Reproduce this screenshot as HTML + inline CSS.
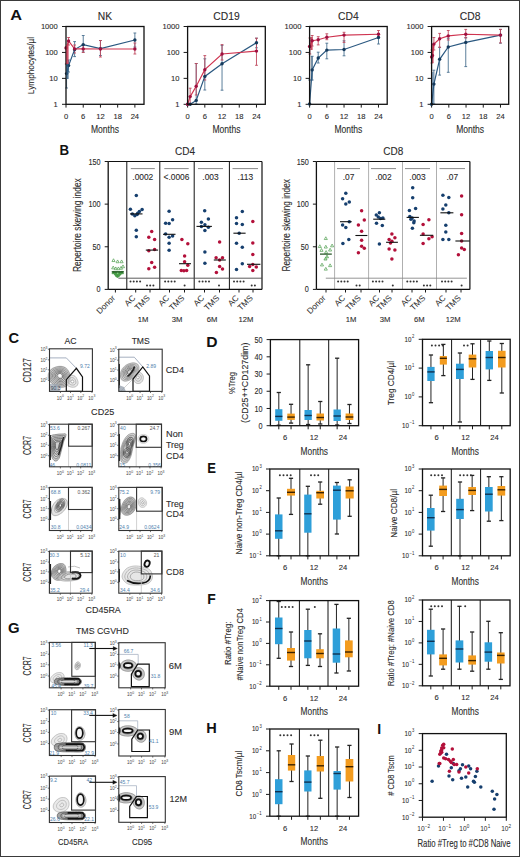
<!DOCTYPE html>
<html><head><meta charset="utf-8"><style>
html,body{margin:0;padding:0;background:#fff;}
#fig{position:relative;width:520px;height:857px;overflow:hidden;background:#fff;}
svg{display:block;font-family:"Liberation Sans", sans-serif;}
</style></head><body><div id="fig">
<svg width="520" height="857" viewBox="0 0 520 857">
<rect x="0" y="0" width="520" height="857" fill="#fff"/>
<text x="105.00" y="20.41" font-size="10.3" text-anchor="middle" fill="#2b2b2b" stroke="#2b2b2b" stroke-width="0.1">NK</text>
<line x1="62.00" y1="26.50" x2="66.00" y2="26.50" stroke="#1a1a1a" stroke-width="1" />
<text x="57.80" y="29.24" font-size="7.6" text-anchor="end" fill="#2b2b2b" stroke="#2b2b2b" stroke-width="0.1">1000</text>
<line x1="62.00" y1="52.43" x2="66.00" y2="52.43" stroke="#1a1a1a" stroke-width="1" />
<text x="57.80" y="55.17" font-size="7.6" text-anchor="end" fill="#2b2b2b" stroke="#2b2b2b" stroke-width="0.1">100</text>
<line x1="62.00" y1="78.37" x2="66.00" y2="78.37" stroke="#1a1a1a" stroke-width="1" />
<text x="57.80" y="81.10" font-size="7.6" text-anchor="end" fill="#2b2b2b" stroke="#2b2b2b" stroke-width="0.1">10</text>
<line x1="62.00" y1="104.30" x2="66.00" y2="104.30" stroke="#1a1a1a" stroke-width="1" />
<text x="57.80" y="107.04" font-size="7.6" text-anchor="end" fill="#2b2b2b" stroke="#2b2b2b" stroke-width="0.1">1</text>
<line x1="66.00" y1="104.30" x2="66.00" y2="107.60" stroke="#1a1a1a" stroke-width="1" />
<text x="66.00" y="118.74" font-size="7.6" text-anchor="middle" fill="#2b2b2b" stroke="#2b2b2b" stroke-width="0.1">0</text>
<line x1="83.22" y1="104.30" x2="83.22" y2="107.60" stroke="#1a1a1a" stroke-width="1" />
<text x="83.22" y="118.74" font-size="7.6" text-anchor="middle" fill="#2b2b2b" stroke="#2b2b2b" stroke-width="0.1">6</text>
<line x1="100.44" y1="104.30" x2="100.44" y2="107.60" stroke="#1a1a1a" stroke-width="1" />
<text x="100.44" y="118.74" font-size="7.6" text-anchor="middle" fill="#2b2b2b" stroke="#2b2b2b" stroke-width="0.1">12</text>
<line x1="117.66" y1="104.30" x2="117.66" y2="107.60" stroke="#1a1a1a" stroke-width="1" />
<text x="117.66" y="118.74" font-size="7.6" text-anchor="middle" fill="#2b2b2b" stroke="#2b2b2b" stroke-width="0.1">18</text>
<line x1="134.88" y1="104.30" x2="134.88" y2="107.60" stroke="#1a1a1a" stroke-width="1" />
<text x="134.88" y="118.74" font-size="7.6" text-anchor="middle" fill="#2b2b2b" stroke="#2b2b2b" stroke-width="0.1">24</text>
<text x="105.00" y="133.45" font-size="10.7" text-anchor="middle" fill="#2b2b2b" stroke="#2b2b2b" stroke-width="0.1" textLength="28.00" lengthAdjust="spacingAndGlyphs">Months</text>
<line x1="66.57" y1="64.00" x2="66.57" y2="88.00" stroke="#4a7090" stroke-width="0.9" />
<line x1="65.17" y1="64.00" x2="67.97" y2="64.00" stroke="#4a7090" stroke-width="0.9" />
<line x1="65.17" y1="88.00" x2="67.97" y2="88.00" stroke="#4a7090" stroke-width="0.9" />
<line x1="68.58" y1="60.00" x2="68.58" y2="72.00" stroke="#4a7090" stroke-width="0.9" />
<line x1="67.18" y1="60.00" x2="69.98" y2="60.00" stroke="#4a7090" stroke-width="0.9" />
<line x1="67.18" y1="72.00" x2="69.98" y2="72.00" stroke="#4a7090" stroke-width="0.9" />
<line x1="74.61" y1="41.60" x2="74.61" y2="56.60" stroke="#4a7090" stroke-width="0.9" />
<line x1="73.21" y1="41.60" x2="76.01" y2="41.60" stroke="#4a7090" stroke-width="0.9" />
<line x1="73.21" y1="56.60" x2="76.01" y2="56.60" stroke="#4a7090" stroke-width="0.9" />
<line x1="83.22" y1="35.50" x2="83.22" y2="52.00" stroke="#4a7090" stroke-width="0.9" />
<line x1="81.82" y1="35.50" x2="84.62" y2="35.50" stroke="#4a7090" stroke-width="0.9" />
<line x1="81.82" y1="52.00" x2="84.62" y2="52.00" stroke="#4a7090" stroke-width="0.9" />
<line x1="100.44" y1="40.50" x2="100.44" y2="55.50" stroke="#4a7090" stroke-width="0.9" />
<line x1="99.04" y1="40.50" x2="101.84" y2="40.50" stroke="#4a7090" stroke-width="0.9" />
<line x1="99.04" y1="55.50" x2="101.84" y2="55.50" stroke="#4a7090" stroke-width="0.9" />
<line x1="134.88" y1="33.00" x2="134.88" y2="47.00" stroke="#4a7090" stroke-width="0.9" />
<line x1="133.48" y1="33.00" x2="136.28" y2="33.00" stroke="#4a7090" stroke-width="0.9" />
<line x1="133.48" y1="47.00" x2="136.28" y2="47.00" stroke="#4a7090" stroke-width="0.9" />
<line x1="66.29" y1="47.00" x2="66.29" y2="64.00" stroke="#c0485e" stroke-width="0.9" />
<line x1="64.89" y1="47.00" x2="67.69" y2="47.00" stroke="#c0485e" stroke-width="0.9" />
<line x1="64.89" y1="64.00" x2="67.69" y2="64.00" stroke="#c0485e" stroke-width="0.9" />
<line x1="68.58" y1="37.50" x2="68.58" y2="45.00" stroke="#c0485e" stroke-width="0.9" />
<line x1="67.18" y1="37.50" x2="69.98" y2="37.50" stroke="#c0485e" stroke-width="0.9" />
<line x1="67.18" y1="45.00" x2="69.98" y2="45.00" stroke="#c0485e" stroke-width="0.9" />
<line x1="74.61" y1="45.00" x2="74.61" y2="53.00" stroke="#c0485e" stroke-width="0.9" />
<line x1="73.21" y1="45.00" x2="76.01" y2="45.00" stroke="#c0485e" stroke-width="0.9" />
<line x1="73.21" y1="53.00" x2="76.01" y2="53.00" stroke="#c0485e" stroke-width="0.9" />
<line x1="83.22" y1="45.50" x2="83.22" y2="52.50" stroke="#c0485e" stroke-width="0.9" />
<line x1="81.82" y1="45.50" x2="84.62" y2="45.50" stroke="#c0485e" stroke-width="0.9" />
<line x1="81.82" y1="52.50" x2="84.62" y2="52.50" stroke="#c0485e" stroke-width="0.9" />
<line x1="100.44" y1="40.50" x2="100.44" y2="57.00" stroke="#c0485e" stroke-width="0.9" />
<line x1="99.04" y1="40.50" x2="101.84" y2="40.50" stroke="#c0485e" stroke-width="0.9" />
<line x1="99.04" y1="57.00" x2="101.84" y2="57.00" stroke="#c0485e" stroke-width="0.9" />
<line x1="134.88" y1="43.00" x2="134.88" y2="54.00" stroke="#c0485e" stroke-width="0.9" />
<line x1="133.48" y1="43.00" x2="136.28" y2="43.00" stroke="#c0485e" stroke-width="0.9" />
<line x1="133.48" y1="54.00" x2="136.28" y2="54.00" stroke="#c0485e" stroke-width="0.9" />
<polyline points="66.57,73.60 68.58,65.60 74.61,49.60 83.22,44.60 100.44,48.60 134.88,40.00" fill="none" stroke="#2a5880" stroke-width="1.2" />
<polyline points="66.00,48.00 68.58,41.00 74.61,48.90 83.22,48.90 100.44,49.00 134.88,49.00" fill="none" stroke="#cf3450" stroke-width="1.15" />
<circle cx="66.57" cy="73.60" r="1.7" fill="#153a5c"/>
<circle cx="68.58" cy="65.60" r="1.7" fill="#153a5c"/>
<circle cx="74.61" cy="49.60" r="1.7" fill="#153a5c"/>
<circle cx="83.22" cy="44.60" r="1.7" fill="#153a5c"/>
<circle cx="100.44" cy="48.60" r="1.7" fill="#153a5c"/>
<circle cx="134.88" cy="40.00" r="1.7" fill="#153a5c"/>
<circle cx="66.00" cy="48.00" r="1.7" fill="#a01040"/>
<circle cx="68.58" cy="41.00" r="1.7" fill="#a01040"/>
<circle cx="74.61" cy="48.90" r="1.7" fill="#a01040"/>
<circle cx="83.22" cy="48.90" r="1.7" fill="#a01040"/>
<circle cx="100.44" cy="49.00" r="1.7" fill="#a01040"/>
<circle cx="134.88" cy="49.00" r="1.7" fill="#a01040"/>
<rect x="66.00" y="26.50" width="78.00" height="77.80" fill="none" stroke="#111" stroke-width="1.3" />
<text x="31.00" y="68.96" font-size="9.6" text-anchor="middle" fill="#2b2b2b" stroke="#2b2b2b" stroke-width="0.1" textLength="57.30" lengthAdjust="spacingAndGlyphs" transform="rotate(-90 31.00 65.50)">Lymphocytes/µl</text>
<rect x="66.4" y="44.5" width="2.2" height="19.5" fill="#c8304c" opacity="0.85"/>
<rect x="66.4" y="64" width="2.2" height="15" fill="#2d5a80" opacity="0.8"/>
<rect x="310.4" y="37" width="2.2" height="13" fill="#c8304c" opacity="0.85"/>
<rect x="311.0" y="56" width="1.6" height="25" fill="#5a7590" opacity="0.7"/>
<rect x="431.6" y="44" width="2.0" height="19" fill="#c8304c" opacity="0.8"/>
<rect x="431.6" y="72" width="2.0" height="32" fill="#4a84b8" opacity="0.6"/>
<text x="226.45" y="20.41" font-size="10.3" text-anchor="middle" fill="#2b2b2b" stroke="#2b2b2b" stroke-width="0.1">CD19</text>
<line x1="183.60" y1="26.50" x2="187.60" y2="26.50" stroke="#1a1a1a" stroke-width="1" />
<text x="179.40" y="29.24" font-size="7.6" text-anchor="end" fill="#2b2b2b" stroke="#2b2b2b" stroke-width="0.1">1000</text>
<line x1="183.60" y1="52.43" x2="187.60" y2="52.43" stroke="#1a1a1a" stroke-width="1" />
<text x="179.40" y="55.17" font-size="7.6" text-anchor="end" fill="#2b2b2b" stroke="#2b2b2b" stroke-width="0.1">100</text>
<line x1="183.60" y1="78.37" x2="187.60" y2="78.37" stroke="#1a1a1a" stroke-width="1" />
<text x="179.40" y="81.10" font-size="7.6" text-anchor="end" fill="#2b2b2b" stroke="#2b2b2b" stroke-width="0.1">10</text>
<line x1="183.60" y1="104.30" x2="187.60" y2="104.30" stroke="#1a1a1a" stroke-width="1" />
<text x="179.40" y="107.04" font-size="7.6" text-anchor="end" fill="#2b2b2b" stroke="#2b2b2b" stroke-width="0.1">1</text>
<line x1="187.60" y1="104.30" x2="187.60" y2="107.60" stroke="#1a1a1a" stroke-width="1" />
<text x="187.60" y="118.74" font-size="7.6" text-anchor="middle" fill="#2b2b2b" stroke="#2b2b2b" stroke-width="0.1">0</text>
<line x1="204.82" y1="104.30" x2="204.82" y2="107.60" stroke="#1a1a1a" stroke-width="1" />
<text x="204.82" y="118.74" font-size="7.6" text-anchor="middle" fill="#2b2b2b" stroke="#2b2b2b" stroke-width="0.1">6</text>
<line x1="222.04" y1="104.30" x2="222.04" y2="107.60" stroke="#1a1a1a" stroke-width="1" />
<text x="222.04" y="118.74" font-size="7.6" text-anchor="middle" fill="#2b2b2b" stroke="#2b2b2b" stroke-width="0.1">12</text>
<line x1="239.26" y1="104.30" x2="239.26" y2="107.60" stroke="#1a1a1a" stroke-width="1" />
<text x="239.26" y="118.74" font-size="7.6" text-anchor="middle" fill="#2b2b2b" stroke="#2b2b2b" stroke-width="0.1">18</text>
<line x1="256.48" y1="104.30" x2="256.48" y2="107.60" stroke="#1a1a1a" stroke-width="1" />
<text x="256.48" y="118.74" font-size="7.6" text-anchor="middle" fill="#2b2b2b" stroke="#2b2b2b" stroke-width="0.1">24</text>
<text x="226.45" y="133.45" font-size="10.7" text-anchor="middle" fill="#2b2b2b" stroke="#2b2b2b" stroke-width="0.1" textLength="28.00" lengthAdjust="spacingAndGlyphs">Months</text>
<line x1="196.21" y1="63.50" x2="196.21" y2="104.00" stroke="#4a7090" stroke-width="0.9" />
<line x1="194.81" y1="63.50" x2="197.61" y2="63.50" stroke="#4a7090" stroke-width="0.9" />
<line x1="194.81" y1="104.00" x2="197.61" y2="104.00" stroke="#4a7090" stroke-width="0.9" />
<line x1="204.82" y1="58.80" x2="204.82" y2="90.00" stroke="#4a7090" stroke-width="0.9" />
<line x1="203.42" y1="58.80" x2="206.22" y2="58.80" stroke="#4a7090" stroke-width="0.9" />
<line x1="203.42" y1="90.00" x2="206.22" y2="90.00" stroke="#4a7090" stroke-width="0.9" />
<line x1="222.04" y1="45.40" x2="222.04" y2="90.20" stroke="#4a7090" stroke-width="0.9" />
<line x1="220.64" y1="45.40" x2="223.44" y2="45.40" stroke="#4a7090" stroke-width="0.9" />
<line x1="220.64" y1="90.20" x2="223.44" y2="90.20" stroke="#4a7090" stroke-width="0.9" />
<line x1="256.48" y1="38.20" x2="256.48" y2="47.80" stroke="#4a7090" stroke-width="0.9" />
<line x1="255.08" y1="38.20" x2="257.88" y2="38.20" stroke="#4a7090" stroke-width="0.9" />
<line x1="255.08" y1="47.80" x2="257.88" y2="47.80" stroke="#4a7090" stroke-width="0.9" />
<line x1="190.18" y1="88.20" x2="190.18" y2="104.00" stroke="#c0485e" stroke-width="0.9" />
<line x1="188.78" y1="88.20" x2="191.58" y2="88.20" stroke="#c0485e" stroke-width="0.9" />
<line x1="188.78" y1="104.00" x2="191.58" y2="104.00" stroke="#c0485e" stroke-width="0.9" />
<line x1="196.21" y1="63.50" x2="196.21" y2="95.00" stroke="#c0485e" stroke-width="0.9" />
<line x1="194.81" y1="63.50" x2="197.61" y2="63.50" stroke="#c0485e" stroke-width="0.9" />
<line x1="194.81" y1="95.00" x2="197.61" y2="95.00" stroke="#c0485e" stroke-width="0.9" />
<line x1="204.82" y1="55.60" x2="204.82" y2="80.00" stroke="#c0485e" stroke-width="0.9" />
<line x1="203.42" y1="55.60" x2="206.22" y2="55.60" stroke="#c0485e" stroke-width="0.9" />
<line x1="203.42" y1="80.00" x2="206.22" y2="80.00" stroke="#c0485e" stroke-width="0.9" />
<line x1="222.04" y1="44.60" x2="222.04" y2="60.00" stroke="#c0485e" stroke-width="0.9" />
<line x1="220.64" y1="44.60" x2="223.44" y2="44.60" stroke="#c0485e" stroke-width="0.9" />
<line x1="220.64" y1="60.00" x2="223.44" y2="60.00" stroke="#c0485e" stroke-width="0.9" />
<line x1="256.48" y1="38.20" x2="256.48" y2="65.30" stroke="#c0485e" stroke-width="0.9" />
<line x1="255.08" y1="38.20" x2="257.88" y2="38.20" stroke="#c0485e" stroke-width="0.9" />
<line x1="255.08" y1="65.30" x2="257.88" y2="65.30" stroke="#c0485e" stroke-width="0.9" />
<polyline points="187.60,104.30 190.18,104.30 196.21,100.40 204.82,76.40 222.04,63.70 256.48,42.70" fill="none" stroke="#2a5880" stroke-width="1.2" />
<polyline points="187.60,104.30 190.18,96.60 196.21,86.30 204.82,69.70 222.04,54.00 256.48,51.10" fill="none" stroke="#cf3450" stroke-width="1.15" />
<circle cx="187.60" cy="104.30" r="1.7" fill="#153a5c"/>
<circle cx="190.18" cy="104.30" r="1.7" fill="#153a5c"/>
<circle cx="196.21" cy="100.40" r="1.7" fill="#153a5c"/>
<circle cx="204.82" cy="76.40" r="1.7" fill="#153a5c"/>
<circle cx="222.04" cy="63.70" r="1.7" fill="#153a5c"/>
<circle cx="256.48" cy="42.70" r="1.7" fill="#153a5c"/>
<circle cx="187.60" cy="104.30" r="1.7" fill="#a01040"/>
<circle cx="190.18" cy="96.60" r="1.7" fill="#a01040"/>
<circle cx="196.21" cy="86.30" r="1.7" fill="#a01040"/>
<circle cx="204.82" cy="69.70" r="1.7" fill="#a01040"/>
<circle cx="222.04" cy="54.00" r="1.7" fill="#a01040"/>
<circle cx="256.48" cy="51.10" r="1.7" fill="#a01040"/>
<rect x="187.60" y="26.50" width="77.70" height="77.80" fill="none" stroke="#111" stroke-width="1.3" />
<text x="348.40" y="20.41" font-size="10.3" text-anchor="middle" fill="#2b2b2b" stroke="#2b2b2b" stroke-width="0.1">CD4</text>
<line x1="305.60" y1="26.50" x2="309.60" y2="26.50" stroke="#1a1a1a" stroke-width="1" />
<text x="301.40" y="29.24" font-size="7.6" text-anchor="end" fill="#2b2b2b" stroke="#2b2b2b" stroke-width="0.1">1000</text>
<line x1="305.60" y1="52.43" x2="309.60" y2="52.43" stroke="#1a1a1a" stroke-width="1" />
<text x="301.40" y="55.17" font-size="7.6" text-anchor="end" fill="#2b2b2b" stroke="#2b2b2b" stroke-width="0.1">100</text>
<line x1="305.60" y1="78.37" x2="309.60" y2="78.37" stroke="#1a1a1a" stroke-width="1" />
<text x="301.40" y="81.10" font-size="7.6" text-anchor="end" fill="#2b2b2b" stroke="#2b2b2b" stroke-width="0.1">10</text>
<line x1="305.60" y1="104.30" x2="309.60" y2="104.30" stroke="#1a1a1a" stroke-width="1" />
<text x="301.40" y="107.04" font-size="7.6" text-anchor="end" fill="#2b2b2b" stroke="#2b2b2b" stroke-width="0.1">1</text>
<line x1="309.60" y1="104.30" x2="309.60" y2="107.60" stroke="#1a1a1a" stroke-width="1" />
<text x="309.60" y="118.74" font-size="7.6" text-anchor="middle" fill="#2b2b2b" stroke="#2b2b2b" stroke-width="0.1">0</text>
<line x1="326.82" y1="104.30" x2="326.82" y2="107.60" stroke="#1a1a1a" stroke-width="1" />
<text x="326.82" y="118.74" font-size="7.6" text-anchor="middle" fill="#2b2b2b" stroke="#2b2b2b" stroke-width="0.1">6</text>
<line x1="344.04" y1="104.30" x2="344.04" y2="107.60" stroke="#1a1a1a" stroke-width="1" />
<text x="344.04" y="118.74" font-size="7.6" text-anchor="middle" fill="#2b2b2b" stroke="#2b2b2b" stroke-width="0.1">12</text>
<line x1="361.26" y1="104.30" x2="361.26" y2="107.60" stroke="#1a1a1a" stroke-width="1" />
<text x="361.26" y="118.74" font-size="7.6" text-anchor="middle" fill="#2b2b2b" stroke="#2b2b2b" stroke-width="0.1">18</text>
<line x1="378.48" y1="104.30" x2="378.48" y2="107.60" stroke="#1a1a1a" stroke-width="1" />
<text x="378.48" y="118.74" font-size="7.6" text-anchor="middle" fill="#2b2b2b" stroke="#2b2b2b" stroke-width="0.1">24</text>
<text x="348.40" y="133.45" font-size="10.7" text-anchor="middle" fill="#2b2b2b" stroke="#2b2b2b" stroke-width="0.1" textLength="28.00" lengthAdjust="spacingAndGlyphs">Months</text>
<line x1="309.60" y1="80.00" x2="309.60" y2="104.00" stroke="#4a7090" stroke-width="0.9" />
<line x1="308.20" y1="80.00" x2="311.00" y2="80.00" stroke="#4a7090" stroke-width="0.9" />
<line x1="308.20" y1="104.00" x2="311.00" y2="104.00" stroke="#4a7090" stroke-width="0.9" />
<line x1="312.18" y1="56.30" x2="312.18" y2="80.00" stroke="#4a7090" stroke-width="0.9" />
<line x1="310.78" y1="56.30" x2="313.58" y2="56.30" stroke="#4a7090" stroke-width="0.9" />
<line x1="310.78" y1="80.00" x2="313.58" y2="80.00" stroke="#4a7090" stroke-width="0.9" />
<line x1="318.21" y1="52.20" x2="318.21" y2="63.00" stroke="#4a7090" stroke-width="0.9" />
<line x1="316.81" y1="52.20" x2="319.61" y2="52.20" stroke="#4a7090" stroke-width="0.9" />
<line x1="316.81" y1="63.00" x2="319.61" y2="63.00" stroke="#4a7090" stroke-width="0.9" />
<line x1="326.82" y1="43.20" x2="326.82" y2="58.80" stroke="#4a7090" stroke-width="0.9" />
<line x1="325.42" y1="43.20" x2="328.22" y2="43.20" stroke="#4a7090" stroke-width="0.9" />
<line x1="325.42" y1="58.80" x2="328.22" y2="58.80" stroke="#4a7090" stroke-width="0.9" />
<line x1="344.04" y1="40.80" x2="344.04" y2="55.80" stroke="#4a7090" stroke-width="0.9" />
<line x1="342.64" y1="40.80" x2="345.44" y2="40.80" stroke="#4a7090" stroke-width="0.9" />
<line x1="342.64" y1="55.80" x2="345.44" y2="55.80" stroke="#4a7090" stroke-width="0.9" />
<line x1="378.48" y1="33.40" x2="378.48" y2="44.00" stroke="#4a7090" stroke-width="0.9" />
<line x1="377.08" y1="33.40" x2="379.88" y2="33.40" stroke="#4a7090" stroke-width="0.9" />
<line x1="377.08" y1="44.00" x2="379.88" y2="44.00" stroke="#4a7090" stroke-width="0.9" />
<line x1="309.89" y1="38.00" x2="309.89" y2="54.00" stroke="#c0485e" stroke-width="0.9" />
<line x1="308.49" y1="38.00" x2="311.29" y2="38.00" stroke="#c0485e" stroke-width="0.9" />
<line x1="308.49" y1="54.00" x2="311.29" y2="54.00" stroke="#c0485e" stroke-width="0.9" />
<line x1="312.18" y1="35.50" x2="312.18" y2="46.00" stroke="#c0485e" stroke-width="0.9" />
<line x1="310.78" y1="35.50" x2="313.58" y2="35.50" stroke="#c0485e" stroke-width="0.9" />
<line x1="310.78" y1="46.00" x2="313.58" y2="46.00" stroke="#c0485e" stroke-width="0.9" />
<line x1="318.21" y1="36.70" x2="318.21" y2="44.90" stroke="#c0485e" stroke-width="0.9" />
<line x1="316.81" y1="36.70" x2="319.61" y2="36.70" stroke="#c0485e" stroke-width="0.9" />
<line x1="316.81" y1="44.90" x2="319.61" y2="44.90" stroke="#c0485e" stroke-width="0.9" />
<line x1="326.82" y1="33.80" x2="326.82" y2="39.70" stroke="#c0485e" stroke-width="0.9" />
<line x1="325.42" y1="33.80" x2="328.22" y2="33.80" stroke="#c0485e" stroke-width="0.9" />
<line x1="325.42" y1="39.70" x2="328.22" y2="39.70" stroke="#c0485e" stroke-width="0.9" />
<line x1="344.04" y1="32.30" x2="344.04" y2="42.40" stroke="#c0485e" stroke-width="0.9" />
<line x1="342.64" y1="32.30" x2="345.44" y2="32.30" stroke="#c0485e" stroke-width="0.9" />
<line x1="342.64" y1="42.40" x2="345.44" y2="42.40" stroke="#c0485e" stroke-width="0.9" />
<line x1="378.48" y1="30.50" x2="378.48" y2="37.00" stroke="#c0485e" stroke-width="0.9" />
<line x1="377.08" y1="30.50" x2="379.88" y2="30.50" stroke="#c0485e" stroke-width="0.9" />
<line x1="377.08" y1="37.00" x2="379.88" y2="37.00" stroke="#c0485e" stroke-width="0.9" />
<polyline points="309.60,104.00 312.18,69.90 318.21,58.00 326.82,50.10 344.04,49.50 378.48,37.50" fill="none" stroke="#2a5880" stroke-width="1.2" />
<polyline points="309.60,46.50 312.18,40.80 318.21,39.70 326.82,37.20 344.04,35.10 378.48,34.30" fill="none" stroke="#cf3450" stroke-width="1.15" />
<circle cx="309.60" cy="104.00" r="1.7" fill="#153a5c"/>
<circle cx="312.18" cy="69.90" r="1.7" fill="#153a5c"/>
<circle cx="318.21" cy="58.00" r="1.7" fill="#153a5c"/>
<circle cx="326.82" cy="50.10" r="1.7" fill="#153a5c"/>
<circle cx="344.04" cy="49.50" r="1.7" fill="#153a5c"/>
<circle cx="378.48" cy="37.50" r="1.7" fill="#153a5c"/>
<circle cx="309.60" cy="46.50" r="1.7" fill="#a01040"/>
<circle cx="312.18" cy="40.80" r="1.7" fill="#a01040"/>
<circle cx="318.21" cy="39.70" r="1.7" fill="#a01040"/>
<circle cx="326.82" cy="37.20" r="1.7" fill="#a01040"/>
<circle cx="344.04" cy="35.10" r="1.7" fill="#a01040"/>
<circle cx="378.48" cy="34.30" r="1.7" fill="#a01040"/>
<rect x="309.60" y="26.50" width="77.60" height="77.80" fill="none" stroke="#111" stroke-width="1.3" />
<text x="470.15" y="20.41" font-size="10.3" text-anchor="middle" fill="#2b2b2b" stroke="#2b2b2b" stroke-width="0.1">CD8</text>
<line x1="427.60" y1="26.50" x2="431.60" y2="26.50" stroke="#1a1a1a" stroke-width="1" />
<text x="423.40" y="29.24" font-size="7.6" text-anchor="end" fill="#2b2b2b" stroke="#2b2b2b" stroke-width="0.1">1000</text>
<line x1="427.60" y1="52.43" x2="431.60" y2="52.43" stroke="#1a1a1a" stroke-width="1" />
<text x="423.40" y="55.17" font-size="7.6" text-anchor="end" fill="#2b2b2b" stroke="#2b2b2b" stroke-width="0.1">100</text>
<line x1="427.60" y1="78.37" x2="431.60" y2="78.37" stroke="#1a1a1a" stroke-width="1" />
<text x="423.40" y="81.10" font-size="7.6" text-anchor="end" fill="#2b2b2b" stroke="#2b2b2b" stroke-width="0.1">10</text>
<line x1="427.60" y1="104.30" x2="431.60" y2="104.30" stroke="#1a1a1a" stroke-width="1" />
<text x="423.40" y="107.04" font-size="7.6" text-anchor="end" fill="#2b2b2b" stroke="#2b2b2b" stroke-width="0.1">1</text>
<line x1="431.60" y1="104.30" x2="431.60" y2="107.60" stroke="#1a1a1a" stroke-width="1" />
<text x="431.60" y="118.74" font-size="7.6" text-anchor="middle" fill="#2b2b2b" stroke="#2b2b2b" stroke-width="0.1">0</text>
<line x1="448.82" y1="104.30" x2="448.82" y2="107.60" stroke="#1a1a1a" stroke-width="1" />
<text x="448.82" y="118.74" font-size="7.6" text-anchor="middle" fill="#2b2b2b" stroke="#2b2b2b" stroke-width="0.1">6</text>
<line x1="466.04" y1="104.30" x2="466.04" y2="107.60" stroke="#1a1a1a" stroke-width="1" />
<text x="466.04" y="118.74" font-size="7.6" text-anchor="middle" fill="#2b2b2b" stroke="#2b2b2b" stroke-width="0.1">12</text>
<line x1="483.26" y1="104.30" x2="483.26" y2="107.60" stroke="#1a1a1a" stroke-width="1" />
<text x="483.26" y="118.74" font-size="7.6" text-anchor="middle" fill="#2b2b2b" stroke="#2b2b2b" stroke-width="0.1">18</text>
<line x1="500.48" y1="104.30" x2="500.48" y2="107.60" stroke="#1a1a1a" stroke-width="1" />
<text x="500.48" y="118.74" font-size="7.6" text-anchor="middle" fill="#2b2b2b" stroke="#2b2b2b" stroke-width="0.1">24</text>
<text x="470.15" y="133.45" font-size="10.7" text-anchor="middle" fill="#2b2b2b" stroke="#2b2b2b" stroke-width="0.1" textLength="28.00" lengthAdjust="spacingAndGlyphs">Months</text>
<line x1="433.90" y1="70.20" x2="433.90" y2="104.00" stroke="#4a7090" stroke-width="0.9" />
<line x1="432.50" y1="70.20" x2="435.30" y2="70.20" stroke="#4a7090" stroke-width="0.9" />
<line x1="432.50" y1="104.00" x2="435.30" y2="104.00" stroke="#4a7090" stroke-width="0.9" />
<line x1="439.64" y1="47.30" x2="439.64" y2="75.10" stroke="#4a7090" stroke-width="0.9" />
<line x1="438.24" y1="47.30" x2="441.04" y2="47.30" stroke="#4a7090" stroke-width="0.9" />
<line x1="438.24" y1="75.10" x2="441.04" y2="75.10" stroke="#4a7090" stroke-width="0.9" />
<line x1="448.25" y1="38.30" x2="448.25" y2="72.30" stroke="#4a7090" stroke-width="0.9" />
<line x1="446.85" y1="38.30" x2="449.65" y2="38.30" stroke="#4a7090" stroke-width="0.9" />
<line x1="446.85" y1="72.30" x2="449.65" y2="72.30" stroke="#4a7090" stroke-width="0.9" />
<line x1="465.75" y1="37.50" x2="465.75" y2="66.60" stroke="#4a7090" stroke-width="0.9" />
<line x1="464.35" y1="37.50" x2="467.15" y2="37.50" stroke="#4a7090" stroke-width="0.9" />
<line x1="464.35" y1="66.60" x2="467.15" y2="66.60" stroke="#4a7090" stroke-width="0.9" />
<line x1="500.48" y1="29.40" x2="500.48" y2="43.20" stroke="#4a7090" stroke-width="0.9" />
<line x1="499.08" y1="29.40" x2="501.88" y2="29.40" stroke="#4a7090" stroke-width="0.9" />
<line x1="499.08" y1="43.20" x2="501.88" y2="43.20" stroke="#4a7090" stroke-width="0.9" />
<line x1="431.89" y1="50.00" x2="431.89" y2="63.00" stroke="#c0485e" stroke-width="0.9" />
<line x1="430.49" y1="50.00" x2="433.29" y2="50.00" stroke="#c0485e" stroke-width="0.9" />
<line x1="430.49" y1="63.00" x2="433.29" y2="63.00" stroke="#c0485e" stroke-width="0.9" />
<line x1="433.90" y1="37.50" x2="433.90" y2="50.00" stroke="#c0485e" stroke-width="0.9" />
<line x1="432.50" y1="37.50" x2="435.30" y2="37.50" stroke="#c0485e" stroke-width="0.9" />
<line x1="432.50" y1="50.00" x2="435.30" y2="50.00" stroke="#c0485e" stroke-width="0.9" />
<line x1="439.64" y1="33.40" x2="439.64" y2="47.30" stroke="#c0485e" stroke-width="0.9" />
<line x1="438.24" y1="33.40" x2="441.04" y2="33.40" stroke="#c0485e" stroke-width="0.9" />
<line x1="438.24" y1="47.30" x2="441.04" y2="47.30" stroke="#c0485e" stroke-width="0.9" />
<line x1="448.25" y1="30.50" x2="448.25" y2="40.00" stroke="#c0485e" stroke-width="0.9" />
<line x1="446.85" y1="30.50" x2="449.65" y2="30.50" stroke="#c0485e" stroke-width="0.9" />
<line x1="446.85" y1="40.00" x2="449.65" y2="40.00" stroke="#c0485e" stroke-width="0.9" />
<line x1="465.75" y1="29.40" x2="465.75" y2="38.00" stroke="#c0485e" stroke-width="0.9" />
<line x1="464.35" y1="29.40" x2="467.15" y2="29.40" stroke="#c0485e" stroke-width="0.9" />
<line x1="464.35" y1="38.00" x2="467.15" y2="38.00" stroke="#c0485e" stroke-width="0.9" />
<line x1="500.48" y1="29.40" x2="500.48" y2="42.90" stroke="#c0485e" stroke-width="0.9" />
<line x1="499.08" y1="29.40" x2="501.88" y2="29.40" stroke="#c0485e" stroke-width="0.9" />
<line x1="499.08" y1="42.90" x2="501.88" y2="42.90" stroke="#c0485e" stroke-width="0.9" />
<polyline points="431.60,104.30 433.90,84.10 439.64,59.30 448.25,47.00 465.75,42.40 500.48,35.10" fill="none" stroke="#2a5880" stroke-width="1.2" />
<polyline points="431.60,57.10 432.46,55.50 433.90,44.10 439.64,38.80 448.25,35.90 465.75,34.30 500.48,35.10" fill="none" stroke="#cf3450" stroke-width="1.15" />
<circle cx="431.60" cy="104.30" r="1.7" fill="#153a5c"/>
<circle cx="433.90" cy="84.10" r="1.7" fill="#153a5c"/>
<circle cx="439.64" cy="59.30" r="1.7" fill="#153a5c"/>
<circle cx="448.25" cy="47.00" r="1.7" fill="#153a5c"/>
<circle cx="465.75" cy="42.40" r="1.7" fill="#153a5c"/>
<circle cx="500.48" cy="35.10" r="1.7" fill="#153a5c"/>
<circle cx="431.60" cy="57.10" r="1.7" fill="#a01040"/>
<circle cx="432.46" cy="55.50" r="1.7" fill="#a01040"/>
<circle cx="433.90" cy="44.10" r="1.7" fill="#a01040"/>
<circle cx="439.64" cy="38.80" r="1.7" fill="#a01040"/>
<circle cx="448.25" cy="35.90" r="1.7" fill="#a01040"/>
<circle cx="465.75" cy="34.30" r="1.7" fill="#a01040"/>
<circle cx="500.48" cy="35.10" r="1.7" fill="#a01040"/>
<rect x="431.60" y="26.50" width="77.10" height="77.80" fill="none" stroke="#111" stroke-width="1.3" />
<path d="M111.8,271.2 L124,271.2 L119.5,276.5 L117.5,278 L115.5,276.5 Z" fill="#2f8a2f" opacity="0.85"/>
<circle cx="117.7" cy="273.3" r="1.1" fill="#9be39b"/>
<line x1="126.80" y1="161.50" x2="126.80" y2="289.40" stroke="#111" stroke-width="1" />
<line x1="159.80" y1="161.50" x2="159.80" y2="289.40" stroke="#111" stroke-width="1" />
<line x1="194.20" y1="161.50" x2="194.20" y2="289.40" stroke="#111" stroke-width="1" />
<line x1="229.40" y1="161.50" x2="229.40" y2="289.40" stroke="#111" stroke-width="1" />
<line x1="108.20" y1="161.50" x2="262.00" y2="161.50" stroke="#111" stroke-width="1.2" />
<line x1="262.00" y1="161.50" x2="262.00" y2="289.40" stroke="#111" stroke-width="1.2" />
<line x1="118.40" y1="278.20" x2="262.00" y2="278.20" stroke="#4a4a4a" stroke-width="0.9" />
<line x1="108.20" y1="161.50" x2="108.20" y2="289.40" stroke="#111" stroke-width="1.3" />
<line x1="108.20" y1="289.40" x2="262.00" y2="289.40" stroke="#111" stroke-width="1.3" />
<line x1="104.70" y1="161.50" x2="108.20" y2="161.50" stroke="#1a1a1a" stroke-width="1" />
<text x="100.60" y="164.56" font-size="8.5" text-anchor="end" fill="#2b2b2b" stroke="#2b2b2b" stroke-width="0.1" textLength="12.15" lengthAdjust="spacingAndGlyphs">150</text>
<line x1="104.70" y1="204.13" x2="108.20" y2="204.13" stroke="#1a1a1a" stroke-width="1" />
<text x="100.60" y="207.19" font-size="8.5" text-anchor="end" fill="#2b2b2b" stroke="#2b2b2b" stroke-width="0.1" textLength="12.15" lengthAdjust="spacingAndGlyphs">100</text>
<line x1="104.70" y1="246.77" x2="108.20" y2="246.77" stroke="#1a1a1a" stroke-width="1" />
<text x="100.60" y="249.83" font-size="8.5" text-anchor="end" fill="#2b2b2b" stroke="#2b2b2b" stroke-width="0.1" textLength="8.10" lengthAdjust="spacingAndGlyphs">50</text>
<line x1="104.70" y1="289.40" x2="108.20" y2="289.40" stroke="#1a1a1a" stroke-width="1" />
<text x="100.60" y="292.46" font-size="8.5" text-anchor="end" fill="#2b2b2b" stroke="#2b2b2b" stroke-width="0.1" textLength="4.05" lengthAdjust="spacingAndGlyphs">0</text>
<text x="185.00" y="155.40" font-size="10" text-anchor="middle" fill="#2b2b2b" stroke="#2b2b2b" stroke-width="0.1">CD4</text>
<circle cx="136.30" cy="195.60" r="1.75" fill="#163f6e"/>
<circle cx="130.40" cy="209.30" r="1.75" fill="#163f6e"/>
<circle cx="142.10" cy="209.60" r="1.75" fill="#163f6e"/>
<circle cx="132.40" cy="213.90" r="1.75" fill="#163f6e"/>
<circle cx="134.80" cy="215.70" r="1.75" fill="#163f6e"/>
<circle cx="137.10" cy="214.50" r="1.75" fill="#163f6e"/>
<circle cx="139.40" cy="211.60" r="1.75" fill="#163f6e"/>
<circle cx="137.70" cy="213.30" r="1.75" fill="#163f6e"/>
<circle cx="136.30" cy="230.30" r="1.75" fill="#163f6e"/>
<circle cx="136.30" cy="236.70" r="1.75" fill="#163f6e"/>
<circle cx="151.70" cy="231.40" r="1.75" fill="#b3103a"/>
<circle cx="148.80" cy="237.30" r="1.75" fill="#b3103a"/>
<circle cx="154.60" cy="239.60" r="1.75" fill="#b3103a"/>
<circle cx="148.80" cy="250.70" r="1.75" fill="#b3103a"/>
<circle cx="154.60" cy="249.50" r="1.75" fill="#b3103a"/>
<circle cx="151.70" cy="262.60" r="1.75" fill="#b3103a"/>
<circle cx="148.80" cy="268.80" r="1.75" fill="#b3103a"/>
<circle cx="154.60" cy="267.20" r="1.75" fill="#b3103a"/>
<line x1="130.00" y1="213.90" x2="142.50" y2="213.90" stroke="#111" stroke-width="1.1" />
<line x1="145.80" y1="250.10" x2="158.10" y2="250.10" stroke="#111" stroke-width="1.1" />
<circle cx="169.10" cy="211.20" r="1.75" fill="#163f6e"/>
<circle cx="172.60" cy="219.80" r="1.75" fill="#163f6e"/>
<circle cx="165.60" cy="223.30" r="1.75" fill="#163f6e"/>
<circle cx="169.10" cy="223.50" r="1.75" fill="#163f6e"/>
<circle cx="165.60" cy="234.10" r="1.75" fill="#163f6e"/>
<circle cx="169.10" cy="237.30" r="1.75" fill="#163f6e"/>
<circle cx="172.60" cy="236.10" r="1.75" fill="#163f6e"/>
<circle cx="169.10" cy="243.30" r="1.75" fill="#163f6e"/>
<circle cx="169.10" cy="250.30" r="1.75" fill="#163f6e"/>
<circle cx="181.90" cy="239.40" r="1.75" fill="#b3103a"/>
<circle cx="187.80" cy="243.70" r="1.75" fill="#b3103a"/>
<circle cx="184.60" cy="255.90" r="1.75" fill="#b3103a"/>
<circle cx="184.60" cy="261.80" r="1.75" fill="#b3103a"/>
<circle cx="187.80" cy="265.30" r="1.75" fill="#b3103a"/>
<circle cx="181.30" cy="270.50" r="1.75" fill="#b3103a"/>
<circle cx="183.90" cy="270.70" r="1.75" fill="#b3103a"/>
<circle cx="186.60" cy="270.50" r="1.75" fill="#b3103a"/>
<line x1="163.00" y1="234.30" x2="175.50" y2="234.30" stroke="#111" stroke-width="1.1" />
<line x1="179.00" y1="263.70" x2="191.00" y2="263.70" stroke="#111" stroke-width="1.1" />
<circle cx="204.70" cy="210.80" r="1.75" fill="#163f6e"/>
<circle cx="208.40" cy="218.90" r="1.75" fill="#163f6e"/>
<circle cx="201.40" cy="222.30" r="1.75" fill="#163f6e"/>
<circle cx="204.90" cy="224.70" r="1.75" fill="#163f6e"/>
<circle cx="208.40" cy="227.30" r="1.75" fill="#163f6e"/>
<circle cx="201.40" cy="226.40" r="1.75" fill="#163f6e"/>
<circle cx="204.90" cy="230.60" r="1.75" fill="#163f6e"/>
<circle cx="204.90" cy="252.10" r="1.75" fill="#163f6e"/>
<circle cx="204.90" cy="263.20" r="1.75" fill="#163f6e"/>
<circle cx="219.60" cy="241.90" r="1.75" fill="#b3103a"/>
<circle cx="216.10" cy="257.70" r="1.75" fill="#b3103a"/>
<circle cx="219.60" cy="260.00" r="1.75" fill="#b3103a"/>
<circle cx="222.50" cy="257.70" r="1.75" fill="#b3103a"/>
<circle cx="219.60" cy="266.40" r="1.75" fill="#b3103a"/>
<circle cx="222.50" cy="269.10" r="1.75" fill="#b3103a"/>
<circle cx="216.40" cy="272.60" r="1.75" fill="#b3103a"/>
<line x1="196.50" y1="226.40" x2="211.90" y2="226.40" stroke="#111" stroke-width="1.1" />
<line x1="213.80" y1="260.00" x2="225.80" y2="260.00" stroke="#111" stroke-width="1.1" />
<circle cx="242.30" cy="211.60" r="1.75" fill="#163f6e"/>
<circle cx="236.50" cy="217.70" r="1.75" fill="#163f6e"/>
<circle cx="236.50" cy="223.50" r="1.75" fill="#163f6e"/>
<circle cx="242.30" cy="224.40" r="1.75" fill="#163f6e"/>
<circle cx="239.20" cy="233.20" r="1.75" fill="#163f6e"/>
<circle cx="236.50" cy="243.30" r="1.75" fill="#163f6e"/>
<circle cx="242.30" cy="247.20" r="1.75" fill="#163f6e"/>
<circle cx="242.30" cy="263.70" r="1.75" fill="#163f6e"/>
<circle cx="236.50" cy="269.60" r="1.75" fill="#163f6e"/>
<circle cx="252.80" cy="221.50" r="1.75" fill="#b3103a"/>
<circle cx="252.80" cy="242.90" r="1.75" fill="#b3103a"/>
<circle cx="252.80" cy="254.50" r="1.75" fill="#b3103a"/>
<circle cx="252.80" cy="264.40" r="1.75" fill="#b3103a"/>
<circle cx="249.60" cy="266.40" r="1.75" fill="#b3103a"/>
<circle cx="256.30" cy="267.00" r="1.75" fill="#b3103a"/>
<circle cx="252.80" cy="270.50" r="1.75" fill="#b3103a"/>
<line x1="233.40" y1="233.20" x2="245.60" y2="233.20" stroke="#111" stroke-width="1.1" />
<line x1="247.00" y1="264.30" x2="260.40" y2="264.30" stroke="#111" stroke-width="1.1" />
<polygon points="113.50,258.75 111.95,261.54 115.05,261.54" fill="#ffffff" stroke="#4e9e4e" stroke-width="0.7" />
<polygon points="117.60,259.95 116.05,262.74 119.15,262.74" fill="#ffffff" stroke="#4e9e4e" stroke-width="0.7" />
<polygon points="121.60,259.95 120.05,262.74 123.15,262.74" fill="#ffffff" stroke="#4e9e4e" stroke-width="0.7" />
<polygon points="113.20,266.05 111.65,268.84 114.75,268.84" fill="#ffffff" stroke="#4e9e4e" stroke-width="0.7" />
<polygon points="115.80,266.95 114.25,269.74 117.35,269.74" fill="#ffffff" stroke="#4e9e4e" stroke-width="0.7" />
<polygon points="118.40,266.95 116.85,269.74 119.95,269.74" fill="#ffffff" stroke="#4e9e4e" stroke-width="0.7" />
<polygon points="121.00,266.45 119.45,269.24 122.55,269.24" fill="#ffffff" stroke="#4e9e4e" stroke-width="0.7" />
<polygon points="123.00,264.95 121.45,267.74 124.55,267.74" fill="#ffffff" stroke="#4e9e4e" stroke-width="0.7" />
<polygon points="113.50,270.95 111.95,273.74 115.05,273.74" fill="#3c9a3c" stroke="#4e9e4e" stroke-width="0.7" />
<polygon points="116.00,271.95 114.45,274.74 117.55,274.74" fill="#3c9a3c" stroke="#4e9e4e" stroke-width="0.7" />
<polygon points="119.50,271.95 117.95,274.74 121.05,274.74" fill="#3c9a3c" stroke="#4e9e4e" stroke-width="0.7" />
<polygon points="122.00,270.95 120.45,273.74 123.55,273.74" fill="#3c9a3c" stroke="#4e9e4e" stroke-width="0.7" />
<polygon points="117.50,273.95 115.95,276.74 119.05,276.74" fill="#3c9a3c" stroke="#4e9e4e" stroke-width="0.7" />
<line x1="111.70" y1="271.90" x2="123.80" y2="271.90" stroke="#1a4d1a" stroke-width="1.2" />
<line x1="130.80" y1="168.60" x2="154.80" y2="168.60" stroke="#8a8a8a" stroke-width="1" />
<text x="142.80" y="179.62" font-size="8.4" text-anchor="middle" fill="#2b2b2b" stroke="#2b2b2b" stroke-width="0.1">.0002</text>
<circle cx="130.50" cy="281.60" r="1.0" fill="#333"/>
<circle cx="133.70" cy="281.60" r="1.0" fill="#333"/>
<circle cx="136.90" cy="281.60" r="1.0" fill="#333"/>
<circle cx="140.10" cy="281.60" r="1.0" fill="#333"/>
<circle cx="147.00" cy="285.40" r="1.0" fill="#333"/>
<circle cx="150.20" cy="285.40" r="1.0" fill="#333"/>
<circle cx="153.40" cy="285.40" r="1.0" fill="#333"/>
<line x1="164.30" y1="168.60" x2="188.70" y2="168.60" stroke="#8a8a8a" stroke-width="1" />
<text x="176.50" y="179.62" font-size="8.4" text-anchor="middle" fill="#2b2b2b" stroke="#2b2b2b" stroke-width="0.1">&lt;.0006</text>
<circle cx="165.10" cy="281.60" r="1.0" fill="#333"/>
<circle cx="168.30" cy="281.60" r="1.0" fill="#333"/>
<circle cx="171.50" cy="281.60" r="1.0" fill="#333"/>
<circle cx="174.70" cy="281.60" r="1.0" fill="#333"/>
<circle cx="184.60" cy="285.40" r="1.0" fill="#333"/>
<line x1="198.00" y1="168.60" x2="223.00" y2="168.60" stroke="#8a8a8a" stroke-width="1" />
<text x="210.50" y="179.62" font-size="8.4" text-anchor="middle" fill="#2b2b2b" stroke="#2b2b2b" stroke-width="0.1">.003</text>
<circle cx="199.40" cy="281.60" r="1.0" fill="#333"/>
<circle cx="202.60" cy="281.60" r="1.0" fill="#333"/>
<circle cx="205.80" cy="281.60" r="1.0" fill="#333"/>
<circle cx="209.00" cy="281.60" r="1.0" fill="#333"/>
<circle cx="219.00" cy="285.40" r="1.0" fill="#333"/>
<line x1="232.50" y1="168.60" x2="258.00" y2="168.60" stroke="#8a8a8a" stroke-width="1" />
<text x="245.25" y="179.62" font-size="8.4" text-anchor="middle" fill="#2b2b2b" stroke="#2b2b2b" stroke-width="0.1">.113</text>
<circle cx="234.00" cy="281.60" r="1.0" fill="#333"/>
<circle cx="237.20" cy="281.60" r="1.0" fill="#333"/>
<circle cx="240.40" cy="281.60" r="1.0" fill="#333"/>
<circle cx="243.60" cy="281.60" r="1.0" fill="#333"/>
<circle cx="251.70" cy="285.40" r="1.0" fill="#333"/>
<circle cx="254.90" cy="285.40" r="1.0" fill="#333"/>
<line x1="334.60" y1="161.50" x2="334.60" y2="289.40" stroke="#9a9a9a" stroke-width="0.8" />
<line x1="368.60" y1="161.50" x2="368.60" y2="289.40" stroke="#9a9a9a" stroke-width="0.8" />
<line x1="402.50" y1="161.50" x2="402.50" y2="289.40" stroke="#9a9a9a" stroke-width="0.8" />
<line x1="436.50" y1="161.50" x2="436.50" y2="289.40" stroke="#9a9a9a" stroke-width="0.8" />
<line x1="316.40" y1="161.50" x2="469.90" y2="161.50" stroke="#111" stroke-width="1.2" />
<line x1="469.90" y1="161.50" x2="469.90" y2="289.40" stroke="#111" stroke-width="1.2" />
<line x1="325.80" y1="278.20" x2="466.90" y2="278.20" stroke="#8a8a8a" stroke-width="0.9" />
<line x1="316.40" y1="161.50" x2="316.40" y2="289.40" stroke="#111" stroke-width="1.3" />
<line x1="316.40" y1="289.40" x2="469.90" y2="289.40" stroke="#111" stroke-width="1.3" />
<line x1="312.90" y1="161.50" x2="316.40" y2="161.50" stroke="#1a1a1a" stroke-width="1" />
<text x="308.80" y="164.56" font-size="8.5" text-anchor="end" fill="#2b2b2b" stroke="#2b2b2b" stroke-width="0.1" textLength="12.15" lengthAdjust="spacingAndGlyphs">150</text>
<line x1="312.90" y1="204.13" x2="316.40" y2="204.13" stroke="#1a1a1a" stroke-width="1" />
<text x="308.80" y="207.19" font-size="8.5" text-anchor="end" fill="#2b2b2b" stroke="#2b2b2b" stroke-width="0.1" textLength="12.15" lengthAdjust="spacingAndGlyphs">100</text>
<line x1="312.90" y1="246.77" x2="316.40" y2="246.77" stroke="#1a1a1a" stroke-width="1" />
<text x="308.80" y="249.83" font-size="8.5" text-anchor="end" fill="#2b2b2b" stroke="#2b2b2b" stroke-width="0.1" textLength="8.10" lengthAdjust="spacingAndGlyphs">50</text>
<line x1="312.90" y1="289.40" x2="316.40" y2="289.40" stroke="#1a1a1a" stroke-width="1" />
<text x="308.80" y="292.46" font-size="8.5" text-anchor="end" fill="#2b2b2b" stroke="#2b2b2b" stroke-width="0.1" textLength="4.05" lengthAdjust="spacingAndGlyphs">0</text>
<text x="393.30" y="155.40" font-size="10" text-anchor="middle" fill="#2b2b2b" stroke="#2b2b2b" stroke-width="0.1">CD8</text>
<circle cx="345.80" cy="193.30" r="1.75" fill="#163f6e"/>
<circle cx="342.60" cy="198.80" r="1.75" fill="#163f6e"/>
<circle cx="345.80" cy="204.00" r="1.75" fill="#163f6e"/>
<circle cx="349.30" cy="202.00" r="1.75" fill="#163f6e"/>
<circle cx="349.30" cy="221.70" r="1.75" fill="#163f6e"/>
<circle cx="342.60" cy="225.00" r="1.75" fill="#163f6e"/>
<circle cx="345.80" cy="227.60" r="1.75" fill="#163f6e"/>
<circle cx="348.80" cy="239.60" r="1.75" fill="#163f6e"/>
<circle cx="342.90" cy="243.40" r="1.75" fill="#163f6e"/>
<circle cx="361.60" cy="210.80" r="1.75" fill="#b3103a"/>
<circle cx="364.30" cy="220.10" r="1.75" fill="#b3103a"/>
<circle cx="358.40" cy="225.00" r="1.75" fill="#b3103a"/>
<circle cx="361.60" cy="231.20" r="1.75" fill="#b3103a"/>
<circle cx="361.60" cy="240.20" r="1.75" fill="#b3103a"/>
<circle cx="361.60" cy="246.20" r="1.75" fill="#b3103a"/>
<circle cx="364.30" cy="248.30" r="1.75" fill="#b3103a"/>
<circle cx="358.40" cy="252.70" r="1.75" fill="#b3103a"/>
<line x1="340.00" y1="221.70" x2="351.70" y2="221.70" stroke="#111" stroke-width="1.1" />
<line x1="355.40" y1="235.50" x2="367.40" y2="235.50" stroke="#111" stroke-width="1.1" />
<circle cx="379.40" cy="212.80" r="1.75" fill="#163f6e"/>
<circle cx="376.30" cy="215.10" r="1.75" fill="#163f6e"/>
<circle cx="378.30" cy="217.10" r="1.75" fill="#163f6e"/>
<circle cx="380.60" cy="218.60" r="1.75" fill="#163f6e"/>
<circle cx="382.90" cy="218.00" r="1.75" fill="#163f6e"/>
<circle cx="376.50" cy="223.30" r="1.75" fill="#163f6e"/>
<circle cx="382.30" cy="225.60" r="1.75" fill="#163f6e"/>
<circle cx="379.40" cy="243.90" r="1.75" fill="#163f6e"/>
<circle cx="391.90" cy="234.00" r="1.75" fill="#b3103a"/>
<circle cx="394.90" cy="237.80" r="1.75" fill="#b3103a"/>
<circle cx="389.10" cy="239.60" r="1.75" fill="#b3103a"/>
<circle cx="391.90" cy="241.30" r="1.75" fill="#b3103a"/>
<circle cx="390.50" cy="243.10" r="1.75" fill="#b3103a"/>
<circle cx="389.10" cy="248.90" r="1.75" fill="#b3103a"/>
<circle cx="394.90" cy="250.10" r="1.75" fill="#b3103a"/>
<circle cx="391.90" cy="259.10" r="1.75" fill="#b3103a"/>
<line x1="373.20" y1="219.20" x2="385.30" y2="219.20" stroke="#111" stroke-width="1.1" />
<line x1="386.10" y1="242.30" x2="397.90" y2="242.30" stroke="#111" stroke-width="1.1" />
<circle cx="412.70" cy="187.70" r="1.75" fill="#163f6e"/>
<circle cx="412.70" cy="197.80" r="1.75" fill="#163f6e"/>
<circle cx="409.40" cy="210.40" r="1.75" fill="#163f6e"/>
<circle cx="415.60" cy="208.40" r="1.75" fill="#163f6e"/>
<circle cx="409.80" cy="216.60" r="1.75" fill="#163f6e"/>
<circle cx="412.10" cy="218.00" r="1.75" fill="#163f6e"/>
<circle cx="410.90" cy="219.20" r="1.75" fill="#163f6e"/>
<circle cx="414.10" cy="220.90" r="1.75" fill="#163f6e"/>
<circle cx="413.80" cy="222.70" r="1.75" fill="#163f6e"/>
<circle cx="412.40" cy="228.30" r="1.75" fill="#163f6e"/>
<circle cx="428.90" cy="219.80" r="1.75" fill="#b3103a"/>
<circle cx="423.10" cy="224.40" r="1.75" fill="#b3103a"/>
<circle cx="423.10" cy="234.10" r="1.75" fill="#b3103a"/>
<circle cx="428.90" cy="238.80" r="1.75" fill="#b3103a"/>
<circle cx="432.10" cy="236.70" r="1.75" fill="#b3103a"/>
<circle cx="423.10" cy="243.40" r="1.75" fill="#b3103a"/>
<line x1="406.60" y1="217.40" x2="418.90" y2="217.40" stroke="#111" stroke-width="1.1" />
<line x1="419.90" y1="235.30" x2="433.20" y2="235.30" stroke="#111" stroke-width="1.1" />
<circle cx="442.90" cy="195.30" r="1.75" fill="#163f6e"/>
<circle cx="448.80" cy="197.60" r="1.75" fill="#163f6e"/>
<circle cx="445.80" cy="204.90" r="1.75" fill="#163f6e"/>
<circle cx="442.90" cy="208.90" r="1.75" fill="#163f6e"/>
<circle cx="448.80" cy="212.80" r="1.75" fill="#163f6e"/>
<circle cx="445.80" cy="225.20" r="1.75" fill="#163f6e"/>
<circle cx="445.80" cy="232.00" r="1.75" fill="#163f6e"/>
<circle cx="442.90" cy="239.60" r="1.75" fill="#163f6e"/>
<circle cx="448.80" cy="239.60" r="1.75" fill="#163f6e"/>
<circle cx="461.60" cy="196.10" r="1.75" fill="#b3103a"/>
<circle cx="461.60" cy="214.70" r="1.75" fill="#b3103a"/>
<circle cx="461.60" cy="233.40" r="1.75" fill="#b3103a"/>
<circle cx="461.60" cy="241.00" r="1.75" fill="#b3103a"/>
<circle cx="461.60" cy="248.00" r="1.75" fill="#b3103a"/>
<circle cx="464.30" cy="249.50" r="1.75" fill="#b3103a"/>
<circle cx="458.40" cy="254.80" r="1.75" fill="#b3103a"/>
<line x1="440.40" y1="212.80" x2="453.40" y2="212.80" stroke="#111" stroke-width="1.1" />
<line x1="455.40" y1="241.00" x2="469.80" y2="241.00" stroke="#111" stroke-width="1.1" />
<polygon points="325.80,236.75 324.25,239.54 327.35,239.54" fill="#fff" stroke="#4e9e4e" stroke-width="0.7" />
<polygon points="319.80,244.75 318.25,247.54 321.35,247.54" fill="#fff" stroke="#4e9e4e" stroke-width="0.7" />
<polygon points="325.80,245.25 324.25,248.04 327.35,248.04" fill="#fff" stroke="#4e9e4e" stroke-width="0.7" />
<polygon points="332.10,244.05 330.55,246.84 333.65,246.84" fill="#fff" stroke="#4e9e4e" stroke-width="0.7" />
<polygon points="321.50,248.55 319.95,251.34 323.05,251.34" fill="#fff" stroke="#4e9e4e" stroke-width="0.7" />
<polygon points="330.10,248.25 328.55,251.04 331.65,251.04" fill="#fff" stroke="#4e9e4e" stroke-width="0.7" />
<polygon points="326.10,250.55 324.55,253.34 327.65,253.34" fill="#fff" stroke="#4e9e4e" stroke-width="0.7" />
<polygon points="327.00,255.05 325.45,257.84 328.55,257.84" fill="#bfe8bf" stroke="#4e9e4e" stroke-width="0.7" />
<polygon points="325.50,257.25 323.95,260.04 327.05,260.04" fill="#bfe8bf" stroke="#4e9e4e" stroke-width="0.7" />
<polygon points="322.00,263.15 320.45,265.94 323.55,265.94" fill="#fff" stroke="#4e9e4e" stroke-width="0.7" />
<polygon points="330.10,263.85 328.55,266.64 331.65,266.64" fill="#fff" stroke="#4e9e4e" stroke-width="0.7" />
<polygon points="325.80,267.35 324.25,270.14 327.35,270.14" fill="#fff" stroke="#4e9e4e" stroke-width="0.7" />
<line x1="320.00" y1="254.10" x2="331.80" y2="254.10" stroke="#1a4d1a" stroke-width="1.2" />
<line x1="337.00" y1="168.60" x2="360.00" y2="168.60" stroke="#8a8a8a" stroke-width="1" />
<text x="348.50" y="179.62" font-size="8.4" text-anchor="middle" fill="#2b2b2b" stroke="#2b2b2b" stroke-width="0.1">.07</text>
<circle cx="338.10" cy="281.60" r="1.0" fill="#333"/>
<circle cx="341.30" cy="281.60" r="1.0" fill="#333"/>
<circle cx="344.50" cy="281.60" r="1.0" fill="#333"/>
<circle cx="347.70" cy="281.60" r="1.0" fill="#333"/>
<circle cx="356.50" cy="285.40" r="1.0" fill="#333"/>
<circle cx="359.70" cy="285.40" r="1.0" fill="#333"/>
<line x1="371.00" y1="168.60" x2="396.00" y2="168.60" stroke="#8a8a8a" stroke-width="1" />
<text x="383.50" y="179.62" font-size="8.4" text-anchor="middle" fill="#2b2b2b" stroke="#2b2b2b" stroke-width="0.1">.002</text>
<circle cx="372.90" cy="281.60" r="1.0" fill="#333"/>
<circle cx="376.10" cy="281.60" r="1.0" fill="#333"/>
<circle cx="379.30" cy="281.60" r="1.0" fill="#333"/>
<circle cx="382.50" cy="281.60" r="1.0" fill="#333"/>
<circle cx="392.80" cy="285.40" r="1.0" fill="#333"/>
<line x1="405.00" y1="168.60" x2="430.00" y2="168.60" stroke="#8a8a8a" stroke-width="1" />
<text x="417.50" y="179.62" font-size="8.4" text-anchor="middle" fill="#2b2b2b" stroke="#2b2b2b" stroke-width="0.1">.003</text>
<circle cx="407.30" cy="281.60" r="1.0" fill="#333"/>
<circle cx="410.50" cy="281.60" r="1.0" fill="#333"/>
<circle cx="413.70" cy="281.60" r="1.0" fill="#333"/>
<circle cx="416.90" cy="281.60" r="1.0" fill="#333"/>
<circle cx="423.90" cy="285.40" r="1.0" fill="#333"/>
<circle cx="427.10" cy="285.40" r="1.0" fill="#333"/>
<circle cx="430.30" cy="285.40" r="1.0" fill="#333"/>
<line x1="439.50" y1="168.60" x2="465.00" y2="168.60" stroke="#8a8a8a" stroke-width="1" />
<text x="452.25" y="179.62" font-size="8.4" text-anchor="middle" fill="#2b2b2b" stroke="#2b2b2b" stroke-width="0.1">.07</text>
<circle cx="442.00" cy="281.60" r="1.0" fill="#333"/>
<circle cx="445.20" cy="281.60" r="1.0" fill="#333"/>
<circle cx="448.40" cy="281.60" r="1.0" fill="#333"/>
<circle cx="451.60" cy="281.60" r="1.0" fill="#333"/>
<circle cx="461.60" cy="285.40" r="1.0" fill="#333"/>
<line x1="115.40" y1="289.40" x2="115.40" y2="292.50" stroke="#1a1a1a" stroke-width="1" />
<line x1="135.70" y1="289.40" x2="135.70" y2="292.50" stroke="#1a1a1a" stroke-width="1" />
<line x1="150.00" y1="289.40" x2="150.00" y2="292.50" stroke="#1a1a1a" stroke-width="1" />
<line x1="169.50" y1="289.40" x2="169.50" y2="292.50" stroke="#1a1a1a" stroke-width="1" />
<line x1="184.50" y1="289.40" x2="184.50" y2="292.50" stroke="#1a1a1a" stroke-width="1" />
<line x1="204.50" y1="289.40" x2="204.50" y2="292.50" stroke="#1a1a1a" stroke-width="1" />
<line x1="219.50" y1="289.40" x2="219.50" y2="292.50" stroke="#1a1a1a" stroke-width="1" />
<line x1="239.00" y1="289.40" x2="239.00" y2="292.50" stroke="#1a1a1a" stroke-width="1" />
<line x1="253.00" y1="289.40" x2="253.00" y2="292.50" stroke="#1a1a1a" stroke-width="1" />
<text x="115.70" y="298.60" font-size="8.3" text-anchor="end" fill="#2b2b2b" transform="rotate(-45 115.70 298.60)">Donor</text>
<text x="136.00" y="298.60" font-size="8.3" text-anchor="end" fill="#2b2b2b" transform="rotate(-45 136.00 298.60)">AC</text>
<text x="150.30" y="298.60" font-size="8.3" text-anchor="end" fill="#2b2b2b" transform="rotate(-45 150.30 298.60)">TMS</text>
<text x="169.80" y="298.60" font-size="8.3" text-anchor="end" fill="#2b2b2b" transform="rotate(-45 169.80 298.60)">AC</text>
<text x="184.80" y="298.60" font-size="8.3" text-anchor="end" fill="#2b2b2b" transform="rotate(-45 184.80 298.60)">TMS</text>
<text x="204.80" y="298.60" font-size="8.3" text-anchor="end" fill="#2b2b2b" transform="rotate(-45 204.80 298.60)">AC</text>
<text x="219.80" y="298.60" font-size="8.3" text-anchor="end" fill="#2b2b2b" transform="rotate(-45 219.80 298.60)">TMS</text>
<text x="239.30" y="298.60" font-size="8.3" text-anchor="end" fill="#2b2b2b" transform="rotate(-45 239.30 298.60)">AC</text>
<text x="253.30" y="298.60" font-size="8.3" text-anchor="end" fill="#2b2b2b" transform="rotate(-45 253.30 298.60)">TMS</text>
<text x="143.00" y="322.07" font-size="7.7" text-anchor="middle" fill="#2b2b2b" stroke="#2b2b2b" stroke-width="0.1">1M</text>
<text x="177.00" y="322.07" font-size="7.7" text-anchor="middle" fill="#2b2b2b" stroke="#2b2b2b" stroke-width="0.1">3M</text>
<text x="212.00" y="322.07" font-size="7.7" text-anchor="middle" fill="#2b2b2b" stroke="#2b2b2b" stroke-width="0.1">6M</text>
<text x="246.00" y="322.07" font-size="7.7" text-anchor="middle" fill="#2b2b2b" stroke="#2b2b2b" stroke-width="0.1">12M</text>
<line x1="326.00" y1="289.40" x2="326.00" y2="292.50" stroke="#1a1a1a" stroke-width="1" />
<line x1="345.50" y1="289.40" x2="345.50" y2="292.50" stroke="#1a1a1a" stroke-width="1" />
<line x1="361.00" y1="289.40" x2="361.00" y2="292.50" stroke="#1a1a1a" stroke-width="1" />
<line x1="379.50" y1="289.40" x2="379.50" y2="292.50" stroke="#1a1a1a" stroke-width="1" />
<line x1="392.00" y1="289.40" x2="392.00" y2="292.50" stroke="#1a1a1a" stroke-width="1" />
<line x1="412.00" y1="289.40" x2="412.00" y2="292.50" stroke="#1a1a1a" stroke-width="1" />
<line x1="425.50" y1="289.40" x2="425.50" y2="292.50" stroke="#1a1a1a" stroke-width="1" />
<line x1="446.00" y1="289.40" x2="446.00" y2="292.50" stroke="#1a1a1a" stroke-width="1" />
<line x1="461.00" y1="289.40" x2="461.00" y2="292.50" stroke="#1a1a1a" stroke-width="1" />
<text x="326.30" y="298.60" font-size="8.3" text-anchor="end" fill="#2b2b2b" transform="rotate(-45 326.30 298.60)">Donor</text>
<text x="345.80" y="298.60" font-size="8.3" text-anchor="end" fill="#2b2b2b" transform="rotate(-45 345.80 298.60)">AC</text>
<text x="361.30" y="298.60" font-size="8.3" text-anchor="end" fill="#2b2b2b" transform="rotate(-45 361.30 298.60)">TMS</text>
<text x="379.80" y="298.60" font-size="8.3" text-anchor="end" fill="#2b2b2b" transform="rotate(-45 379.80 298.60)">AC</text>
<text x="392.30" y="298.60" font-size="8.3" text-anchor="end" fill="#2b2b2b" transform="rotate(-45 392.30 298.60)">TMS</text>
<text x="412.30" y="298.60" font-size="8.3" text-anchor="end" fill="#2b2b2b" transform="rotate(-45 412.30 298.60)">AC</text>
<text x="425.80" y="298.60" font-size="8.3" text-anchor="end" fill="#2b2b2b" transform="rotate(-45 425.80 298.60)">TMS</text>
<text x="446.30" y="298.60" font-size="8.3" text-anchor="end" fill="#2b2b2b" transform="rotate(-45 446.30 298.60)">AC</text>
<text x="461.30" y="298.60" font-size="8.3" text-anchor="end" fill="#2b2b2b" transform="rotate(-45 461.30 298.60)">TMS</text>
<text x="351.00" y="322.07" font-size="7.7" text-anchor="middle" fill="#2b2b2b" stroke="#2b2b2b" stroke-width="0.1">1M</text>
<text x="385.20" y="322.07" font-size="7.7" text-anchor="middle" fill="#2b2b2b" stroke="#2b2b2b" stroke-width="0.1">3M</text>
<text x="419.40" y="322.07" font-size="7.7" text-anchor="middle" fill="#2b2b2b" stroke="#2b2b2b" stroke-width="0.1">6M</text>
<text x="453.30" y="322.07" font-size="7.7" text-anchor="middle" fill="#2b2b2b" stroke="#2b2b2b" stroke-width="0.1">12M</text>
<text x="77.40" y="228.80" font-size="10" text-anchor="middle" fill="#2b2b2b" stroke="#2b2b2b" stroke-width="0.1" textLength="93.80" lengthAdjust="spacingAndGlyphs" transform="rotate(-90 77.40 225.20)">Repertoire skewing index</text>
<text x="286.40" y="228.90" font-size="10" text-anchor="middle" fill="#2b2b2b" stroke="#2b2b2b" stroke-width="0.1" textLength="92.40" lengthAdjust="spacingAndGlyphs" transform="rotate(-90 286.40 225.30)">Repertoire skewing index</text>
<line x1="299.80" y1="339.60" x2="299.80" y2="425.70" stroke="#111" stroke-width="1" />
<line x1="328.70" y1="339.60" x2="328.70" y2="425.70" stroke="#111" stroke-width="1" />
<line x1="278.80" y1="392.50" x2="278.80" y2="425.20" stroke="#222" stroke-width="1" />
<line x1="276.70" y1="392.50" x2="280.90" y2="392.50" stroke="#222" stroke-width="1.3" />
<line x1="276.70" y1="425.20" x2="280.90" y2="425.20" stroke="#222" stroke-width="1.3" />
<rect x="275.20" y="409.20" width="7.20" height="11.60" fill="#2e9fd9" stroke="none" stroke-width="1" />
<line x1="275.20" y1="416.40" x2="282.40" y2="416.40" stroke="#0f3150" stroke-width="1.4" />
<line x1="291.05" y1="404.30" x2="291.05" y2="423.10" stroke="#222" stroke-width="1" />
<line x1="288.95" y1="404.30" x2="293.15" y2="404.30" stroke="#222" stroke-width="1.3" />
<line x1="288.95" y1="423.10" x2="293.15" y2="423.10" stroke="#222" stroke-width="1.3" />
<rect x="287.30" y="413.60" width="7.50" height="6.30" fill="#f39c1f" stroke="none" stroke-width="1" />
<line x1="287.30" y1="417.10" x2="294.80" y2="417.10" stroke="#3a2200" stroke-width="1.4" />
<line x1="308.15" y1="364.80" x2="308.15" y2="424.50" stroke="#222" stroke-width="1" />
<line x1="306.05" y1="364.80" x2="310.25" y2="364.80" stroke="#222" stroke-width="1.3" />
<line x1="306.05" y1="424.50" x2="310.25" y2="424.50" stroke="#222" stroke-width="1.3" />
<rect x="304.50" y="410.00" width="7.30" height="10.00" fill="#2e9fd9" stroke="none" stroke-width="1" />
<line x1="304.50" y1="415.50" x2="311.80" y2="415.50" stroke="#0f3150" stroke-width="1.4" />
<line x1="320.25" y1="401.50" x2="320.25" y2="424.00" stroke="#222" stroke-width="1" />
<line x1="318.15" y1="401.50" x2="322.35" y2="401.50" stroke="#222" stroke-width="1.3" />
<line x1="318.15" y1="424.00" x2="322.35" y2="424.00" stroke="#222" stroke-width="1.3" />
<rect x="316.50" y="413.50" width="7.50" height="7.00" fill="#f39c1f" stroke="none" stroke-width="1" />
<line x1="316.50" y1="417.50" x2="324.00" y2="417.50" stroke="#3a2200" stroke-width="1.4" />
<line x1="337.15" y1="358.20" x2="337.15" y2="425.00" stroke="#222" stroke-width="1" />
<line x1="335.05" y1="358.20" x2="339.25" y2="358.20" stroke="#222" stroke-width="1.3" />
<line x1="335.05" y1="425.00" x2="339.25" y2="425.00" stroke="#222" stroke-width="1.3" />
<rect x="333.50" y="409.50" width="7.30" height="11.50" fill="#2e9fd9" stroke="none" stroke-width="1" />
<line x1="333.50" y1="416.00" x2="340.80" y2="416.00" stroke="#0f3150" stroke-width="1.4" />
<line x1="349.45" y1="404.50" x2="349.45" y2="423.50" stroke="#222" stroke-width="1" />
<line x1="347.35" y1="404.50" x2="351.55" y2="404.50" stroke="#222" stroke-width="1.3" />
<line x1="347.35" y1="423.50" x2="351.55" y2="423.50" stroke="#222" stroke-width="1.3" />
<rect x="345.60" y="413.50" width="7.70" height="6.50" fill="#f39c1f" stroke="none" stroke-width="1" />
<line x1="345.60" y1="417.00" x2="353.30" y2="417.00" stroke="#3a2200" stroke-width="1.4" />
<rect x="270.40" y="339.60" width="88.20" height="86.10" fill="none" stroke="#111" stroke-width="1.3" />
<line x1="266.60" y1="339.60" x2="270.40" y2="339.60" stroke="#1a1a1a" stroke-width="1" />
<text x="262.60" y="342.66" font-size="8.5" text-anchor="end" fill="#2b2b2b" stroke="#2b2b2b" stroke-width="0.1" textLength="8.10" lengthAdjust="spacingAndGlyphs">50</text>
<line x1="266.60" y1="356.82" x2="270.40" y2="356.82" stroke="#1a1a1a" stroke-width="1" />
<text x="262.60" y="359.88" font-size="8.5" text-anchor="end" fill="#2b2b2b" stroke="#2b2b2b" stroke-width="0.1" textLength="8.10" lengthAdjust="spacingAndGlyphs">40</text>
<line x1="266.60" y1="374.04" x2="270.40" y2="374.04" stroke="#1a1a1a" stroke-width="1" />
<text x="262.60" y="377.10" font-size="8.5" text-anchor="end" fill="#2b2b2b" stroke="#2b2b2b" stroke-width="0.1" textLength="8.10" lengthAdjust="spacingAndGlyphs">30</text>
<line x1="266.60" y1="391.26" x2="270.40" y2="391.26" stroke="#1a1a1a" stroke-width="1" />
<text x="262.60" y="394.32" font-size="8.5" text-anchor="end" fill="#2b2b2b" stroke="#2b2b2b" stroke-width="0.1" textLength="8.10" lengthAdjust="spacingAndGlyphs">20</text>
<line x1="266.60" y1="408.48" x2="270.40" y2="408.48" stroke="#1a1a1a" stroke-width="1" />
<text x="262.60" y="411.54" font-size="8.5" text-anchor="end" fill="#2b2b2b" stroke="#2b2b2b" stroke-width="0.1" textLength="8.10" lengthAdjust="spacingAndGlyphs">10</text>
<line x1="266.60" y1="425.70" x2="270.40" y2="425.70" stroke="#1a1a1a" stroke-width="1" />
<text x="262.60" y="428.76" font-size="8.5" text-anchor="end" fill="#2b2b2b" stroke="#2b2b2b" stroke-width="0.1" textLength="4.05" lengthAdjust="spacingAndGlyphs">0</text>
<line x1="278.80" y1="425.70" x2="278.80" y2="429.30" stroke="#1a1a1a" stroke-width="1" />
<line x1="291.05" y1="425.70" x2="291.05" y2="429.30" stroke="#1a1a1a" stroke-width="1" />
<line x1="308.15" y1="425.70" x2="308.15" y2="429.30" stroke="#1a1a1a" stroke-width="1" />
<line x1="320.25" y1="425.70" x2="320.25" y2="429.30" stroke="#1a1a1a" stroke-width="1" />
<line x1="337.15" y1="425.70" x2="337.15" y2="429.30" stroke="#1a1a1a" stroke-width="1" />
<line x1="349.45" y1="425.70" x2="349.45" y2="429.30" stroke="#1a1a1a" stroke-width="1" />
<text x="285.00" y="440.14" font-size="7.6" text-anchor="middle" fill="#2b2b2b" stroke="#2b2b2b" stroke-width="0.1">6</text>
<text x="314.00" y="440.14" font-size="7.6" text-anchor="middle" fill="#2b2b2b" stroke="#2b2b2b" stroke-width="0.1">12</text>
<text x="343.10" y="440.14" font-size="7.6" text-anchor="middle" fill="#2b2b2b" stroke="#2b2b2b" stroke-width="0.1">24</text>
<text x="314.30" y="454.65" font-size="10.7" text-anchor="middle" fill="#2b2b2b" stroke="#2b2b2b" stroke-width="0.1" textLength="27.40" lengthAdjust="spacingAndGlyphs">Months</text>
<line x1="451.60" y1="339.30" x2="451.60" y2="425.70" stroke="#111" stroke-width="1" />
<line x1="480.60" y1="339.30" x2="480.60" y2="425.70" stroke="#111" stroke-width="1" />
<line x1="430.95" y1="355.00" x2="430.95" y2="402.70" stroke="#222" stroke-width="1" />
<line x1="428.85" y1="355.00" x2="433.05" y2="355.00" stroke="#222" stroke-width="1.3" />
<line x1="428.85" y1="402.70" x2="433.05" y2="402.70" stroke="#222" stroke-width="1.3" />
<rect x="427.30" y="366.90" width="7.30" height="14.10" fill="#2e9fd9" stroke="none" stroke-width="1" />
<line x1="427.30" y1="371.90" x2="434.60" y2="371.90" stroke="#0f3150" stroke-width="1.4" />
<line x1="443.35" y1="344.40" x2="443.35" y2="375.60" stroke="#222" stroke-width="1" />
<line x1="441.25" y1="344.40" x2="445.45" y2="344.40" stroke="#222" stroke-width="1.3" />
<line x1="441.25" y1="375.60" x2="445.45" y2="375.60" stroke="#222" stroke-width="1.3" />
<rect x="439.80" y="356.00" width="7.10" height="8.60" fill="#f39c1f" stroke="none" stroke-width="1" />
<line x1="439.80" y1="358.30" x2="446.90" y2="358.30" stroke="#3a2200" stroke-width="1.4" />
<line x1="459.90" y1="353.00" x2="459.90" y2="422.00" stroke="#222" stroke-width="1" />
<line x1="457.80" y1="353.00" x2="462.00" y2="353.00" stroke="#222" stroke-width="1.3" />
<line x1="457.80" y1="422.00" x2="462.00" y2="422.00" stroke="#222" stroke-width="1.3" />
<rect x="456.00" y="363.70" width="7.80" height="15.30" fill="#2e9fd9" stroke="none" stroke-width="1" />
<line x1="456.00" y1="369.40" x2="463.80" y2="369.40" stroke="#0f3150" stroke-width="1.4" />
<line x1="472.50" y1="343.80" x2="472.50" y2="379.40" stroke="#222" stroke-width="1" />
<line x1="470.40" y1="343.80" x2="474.60" y2="343.80" stroke="#222" stroke-width="1.3" />
<line x1="470.40" y1="379.40" x2="474.60" y2="379.40" stroke="#222" stroke-width="1.3" />
<rect x="468.70" y="354.60" width="7.60" height="12.90" fill="#f39c1f" stroke="none" stroke-width="1" />
<line x1="468.70" y1="358.80" x2="476.30" y2="358.80" stroke="#3a2200" stroke-width="1.4" />
<line x1="489.30" y1="341.00" x2="489.30" y2="380.40" stroke="#222" stroke-width="1" />
<line x1="487.20" y1="341.00" x2="491.40" y2="341.00" stroke="#222" stroke-width="1.3" />
<line x1="487.20" y1="380.40" x2="491.40" y2="380.40" stroke="#222" stroke-width="1.3" />
<rect x="485.60" y="351.00" width="7.40" height="18.40" fill="#2e9fd9" stroke="none" stroke-width="1" />
<line x1="485.60" y1="357.50" x2="493.00" y2="357.50" stroke="#0f3150" stroke-width="1.4" />
<line x1="501.80" y1="343.50" x2="501.80" y2="393.00" stroke="#222" stroke-width="1" />
<line x1="499.70" y1="343.50" x2="503.90" y2="343.50" stroke="#222" stroke-width="1.3" />
<line x1="499.70" y1="393.00" x2="503.90" y2="393.00" stroke="#222" stroke-width="1.3" />
<rect x="498.00" y="350.80" width="7.60" height="16.70" fill="#f39c1f" stroke="none" stroke-width="1" />
<line x1="498.00" y1="357.50" x2="505.60" y2="357.50" stroke="#3a2200" stroke-width="1.4" />
<rect x="422.50" y="339.30" width="87.70" height="86.40" fill="none" stroke="#111" stroke-width="1.3" />
<line x1="418.70" y1="339.30" x2="422.50" y2="339.30" stroke="#1a1a1a" stroke-width="1" />
<text x="411.50" y="341.67" font-size="7.7" text-anchor="end" fill="#2b2b2b" stroke="#2b2b2b" stroke-width="0.1" textLength="6.90" lengthAdjust="spacingAndGlyphs">10</text>
<text x="412.10" y="338.00" font-size="4.60" fill="#2b2b2b" textLength="2.30" lengthAdjust="spacingAndGlyphs">2</text>
<line x1="418.70" y1="368.10" x2="422.50" y2="368.10" stroke="#1a1a1a" stroke-width="1" />
<text x="411.50" y="370.47" font-size="7.7" text-anchor="end" fill="#2b2b2b" stroke="#2b2b2b" stroke-width="0.1" textLength="6.90" lengthAdjust="spacingAndGlyphs">10</text>
<text x="412.10" y="366.80" font-size="4.60" fill="#2b2b2b" textLength="2.30" lengthAdjust="spacingAndGlyphs">1</text>
<line x1="418.70" y1="396.90" x2="422.50" y2="396.90" stroke="#1a1a1a" stroke-width="1" />
<text x="411.50" y="399.27" font-size="7.7" text-anchor="end" fill="#2b2b2b" stroke="#2b2b2b" stroke-width="0.1" textLength="6.90" lengthAdjust="spacingAndGlyphs">10</text>
<text x="412.10" y="395.60" font-size="4.60" fill="#2b2b2b" textLength="2.30" lengthAdjust="spacingAndGlyphs">0</text>
<line x1="418.70" y1="425.70" x2="422.50" y2="425.70" stroke="#1a1a1a" stroke-width="1" />
<text x="408.90" y="428.07" font-size="7.7" text-anchor="end" fill="#2b2b2b" stroke="#2b2b2b" stroke-width="0.1" textLength="6.90" lengthAdjust="spacingAndGlyphs">10</text>
<text x="409.50" y="424.40" font-size="4.60" fill="#2b2b2b" textLength="4.90" lengthAdjust="spacingAndGlyphs">&#8722;1</text>
<line x1="430.95" y1="425.70" x2="430.95" y2="429.30" stroke="#1a1a1a" stroke-width="1" />
<line x1="443.35" y1="425.70" x2="443.35" y2="429.30" stroke="#1a1a1a" stroke-width="1" />
<line x1="459.90" y1="425.70" x2="459.90" y2="429.30" stroke="#1a1a1a" stroke-width="1" />
<line x1="472.50" y1="425.70" x2="472.50" y2="429.30" stroke="#1a1a1a" stroke-width="1" />
<line x1="489.30" y1="425.70" x2="489.30" y2="429.30" stroke="#1a1a1a" stroke-width="1" />
<line x1="501.80" y1="425.70" x2="501.80" y2="429.30" stroke="#1a1a1a" stroke-width="1" />
<circle cx="431.90" cy="345.60" r="1.0" fill="#333"/>
<circle cx="435.50" cy="345.60" r="1.0" fill="#333"/>
<circle cx="439.10" cy="345.60" r="1.0" fill="#333"/>
<circle cx="442.70" cy="345.60" r="1.0" fill="#333"/>
<circle cx="464.00" cy="345.60" r="1.0" fill="#333"/>
<circle cx="467.60" cy="345.60" r="1.0" fill="#333"/>
<text x="436.50" y="440.14" font-size="7.6" text-anchor="middle" fill="#2b2b2b" stroke="#2b2b2b" stroke-width="0.1">6</text>
<text x="465.50" y="440.14" font-size="7.6" text-anchor="middle" fill="#2b2b2b" stroke="#2b2b2b" stroke-width="0.1">12</text>
<text x="494.50" y="440.14" font-size="7.6" text-anchor="middle" fill="#2b2b2b" stroke="#2b2b2b" stroke-width="0.1">24</text>
<text x="465.20" y="454.65" font-size="10.7" text-anchor="middle" fill="#2b2b2b" stroke="#2b2b2b" stroke-width="0.1" textLength="27.40" lengthAdjust="spacingAndGlyphs">Months</text>
<line x1="299.80" y1="469.00" x2="299.80" y2="555.80" stroke="#111" stroke-width="1" />
<line x1="328.70" y1="469.00" x2="328.70" y2="555.80" stroke="#111" stroke-width="1" />
<line x1="278.75" y1="498.00" x2="278.75" y2="555.80" stroke="#222" stroke-width="1" />
<line x1="276.65" y1="498.00" x2="280.85" y2="498.00" stroke="#222" stroke-width="1.3" />
<line x1="276.65" y1="555.80" x2="280.85" y2="555.80" stroke="#222" stroke-width="1.3" />
<rect x="275.00" y="514.40" width="7.50" height="24.40" fill="#2e9fd9" stroke="none" stroke-width="1" />
<line x1="275.00" y1="530.80" x2="282.50" y2="530.80" stroke="#0f3150" stroke-width="1.4" />
<line x1="291.00" y1="478.30" x2="291.00" y2="514.40" stroke="#222" stroke-width="1" />
<line x1="288.90" y1="478.30" x2="293.10" y2="478.30" stroke="#222" stroke-width="1.3" />
<line x1="288.90" y1="514.40" x2="293.10" y2="514.40" stroke="#222" stroke-width="1.3" />
<rect x="287.00" y="488.80" width="8.00" height="6.80" fill="#f39c1f" stroke="none" stroke-width="1" />
<line x1="287.00" y1="492.30" x2="295.00" y2="492.30" stroke="#3a2200" stroke-width="1.4" />
<line x1="307.85" y1="486.30" x2="307.85" y2="555.80" stroke="#222" stroke-width="1" />
<line x1="305.75" y1="486.30" x2="309.95" y2="486.30" stroke="#222" stroke-width="1.3" />
<line x1="305.75" y1="555.80" x2="309.95" y2="555.80" stroke="#222" stroke-width="1.3" />
<rect x="304.20" y="494.60" width="7.30" height="38.10" fill="#2e9fd9" stroke="none" stroke-width="1" />
<line x1="304.20" y1="513.80" x2="311.50" y2="513.80" stroke="#0f3150" stroke-width="1.4" />
<line x1="320.15" y1="482.00" x2="320.15" y2="504.20" stroke="#222" stroke-width="1" />
<line x1="318.05" y1="482.00" x2="322.25" y2="482.00" stroke="#222" stroke-width="1.3" />
<line x1="318.05" y1="504.20" x2="322.25" y2="504.20" stroke="#222" stroke-width="1.3" />
<rect x="316.30" y="490.80" width="7.70" height="7.70" fill="#f39c1f" stroke="none" stroke-width="1" />
<line x1="316.30" y1="492.70" x2="324.00" y2="492.70" stroke="#3a2200" stroke-width="1.4" />
<line x1="336.90" y1="482.50" x2="336.90" y2="534.00" stroke="#222" stroke-width="1" />
<line x1="334.80" y1="482.50" x2="339.00" y2="482.50" stroke="#222" stroke-width="1.3" />
<line x1="334.80" y1="534.00" x2="339.00" y2="534.00" stroke="#222" stroke-width="1.3" />
<rect x="333.00" y="485.60" width="7.80" height="34.00" fill="#2e9fd9" stroke="none" stroke-width="1" />
<line x1="333.00" y1="490.20" x2="340.80" y2="490.20" stroke="#0f3150" stroke-width="1.4" />
<line x1="349.65" y1="479.80" x2="349.65" y2="516.30" stroke="#222" stroke-width="1" />
<line x1="347.55" y1="479.80" x2="351.75" y2="479.80" stroke="#222" stroke-width="1.3" />
<line x1="347.55" y1="516.30" x2="351.75" y2="516.30" stroke="#222" stroke-width="1.3" />
<rect x="345.60" y="486.50" width="8.10" height="12.00" fill="#f39c1f" stroke="none" stroke-width="1" />
<line x1="345.60" y1="490.80" x2="353.70" y2="490.80" stroke="#3a2200" stroke-width="1.4" />
<rect x="269.80" y="469.00" width="88.80" height="86.80" fill="none" stroke="#111" stroke-width="1.3" />
<line x1="266.00" y1="469.00" x2="269.80" y2="469.00" stroke="#1a1a1a" stroke-width="1" />
<text x="258.80" y="471.37" font-size="7.7" text-anchor="end" fill="#2b2b2b" stroke="#2b2b2b" stroke-width="0.1" textLength="6.90" lengthAdjust="spacingAndGlyphs">10</text>
<text x="259.40" y="467.70" font-size="4.60" fill="#2b2b2b" textLength="2.30" lengthAdjust="spacingAndGlyphs">3</text>
<line x1="266.00" y1="490.70" x2="269.80" y2="490.70" stroke="#1a1a1a" stroke-width="1" />
<text x="258.80" y="493.07" font-size="7.7" text-anchor="end" fill="#2b2b2b" stroke="#2b2b2b" stroke-width="0.1" textLength="6.90" lengthAdjust="spacingAndGlyphs">10</text>
<text x="259.40" y="489.40" font-size="4.60" fill="#2b2b2b" textLength="2.30" lengthAdjust="spacingAndGlyphs">2</text>
<line x1="266.00" y1="512.40" x2="269.80" y2="512.40" stroke="#1a1a1a" stroke-width="1" />
<text x="258.80" y="514.77" font-size="7.7" text-anchor="end" fill="#2b2b2b" stroke="#2b2b2b" stroke-width="0.1" textLength="6.90" lengthAdjust="spacingAndGlyphs">10</text>
<text x="259.40" y="511.10" font-size="4.60" fill="#2b2b2b" textLength="2.30" lengthAdjust="spacingAndGlyphs">1</text>
<line x1="266.00" y1="534.10" x2="269.80" y2="534.10" stroke="#1a1a1a" stroke-width="1" />
<text x="258.80" y="536.47" font-size="7.7" text-anchor="end" fill="#2b2b2b" stroke="#2b2b2b" stroke-width="0.1" textLength="6.90" lengthAdjust="spacingAndGlyphs">10</text>
<text x="259.40" y="532.80" font-size="4.60" fill="#2b2b2b" textLength="2.30" lengthAdjust="spacingAndGlyphs">0</text>
<line x1="266.00" y1="555.80" x2="269.80" y2="555.80" stroke="#1a1a1a" stroke-width="1" />
<text x="256.20" y="558.17" font-size="7.7" text-anchor="end" fill="#2b2b2b" stroke="#2b2b2b" stroke-width="0.1" textLength="6.90" lengthAdjust="spacingAndGlyphs">10</text>
<text x="256.80" y="554.50" font-size="4.60" fill="#2b2b2b" textLength="4.90" lengthAdjust="spacingAndGlyphs">&#8722;1</text>
<line x1="278.75" y1="555.80" x2="278.75" y2="559.40" stroke="#1a1a1a" stroke-width="1" />
<line x1="291.00" y1="555.80" x2="291.00" y2="559.40" stroke="#1a1a1a" stroke-width="1" />
<line x1="307.85" y1="555.80" x2="307.85" y2="559.40" stroke="#1a1a1a" stroke-width="1" />
<line x1="320.15" y1="555.80" x2="320.15" y2="559.40" stroke="#1a1a1a" stroke-width="1" />
<line x1="336.90" y1="555.80" x2="336.90" y2="559.40" stroke="#1a1a1a" stroke-width="1" />
<line x1="349.65" y1="555.80" x2="349.65" y2="559.40" stroke="#1a1a1a" stroke-width="1" />
<circle cx="279.90" cy="475.30" r="1.0" fill="#333"/>
<circle cx="283.50" cy="475.30" r="1.0" fill="#333"/>
<circle cx="287.10" cy="475.30" r="1.0" fill="#333"/>
<circle cx="290.70" cy="475.30" r="1.0" fill="#333"/>
<circle cx="311.00" cy="475.30" r="1.0" fill="#333"/>
<circle cx="314.60" cy="475.30" r="1.0" fill="#333"/>
<circle cx="318.20" cy="475.30" r="1.0" fill="#333"/>
<text x="285.00" y="570.24" font-size="7.6" text-anchor="middle" fill="#2b2b2b" stroke="#2b2b2b" stroke-width="0.1">6</text>
<text x="314.00" y="570.24" font-size="7.6" text-anchor="middle" fill="#2b2b2b" stroke="#2b2b2b" stroke-width="0.1">12</text>
<text x="343.10" y="570.24" font-size="7.6" text-anchor="middle" fill="#2b2b2b" stroke="#2b2b2b" stroke-width="0.1">24</text>
<text x="314.30" y="584.75" font-size="10.7" text-anchor="middle" fill="#2b2b2b" stroke="#2b2b2b" stroke-width="0.1" textLength="27.40" lengthAdjust="spacingAndGlyphs">Months</text>
<line x1="451.30" y1="469.00" x2="451.30" y2="555.80" stroke="#111" stroke-width="1" />
<line x1="480.60" y1="469.00" x2="480.60" y2="555.80" stroke="#111" stroke-width="1" />
<line x1="430.80" y1="495.20" x2="430.80" y2="546.20" stroke="#222" stroke-width="1" />
<line x1="428.70" y1="495.20" x2="432.90" y2="495.20" stroke="#222" stroke-width="1.3" />
<line x1="428.70" y1="546.20" x2="432.90" y2="546.20" stroke="#222" stroke-width="1.3" />
<rect x="427.00" y="508.00" width="7.60" height="22.60" fill="#2e9fd9" stroke="none" stroke-width="1" />
<line x1="427.00" y1="517.70" x2="434.60" y2="517.70" stroke="#0f3150" stroke-width="1.4" />
<line x1="443.10" y1="477.90" x2="443.10" y2="511.50" stroke="#222" stroke-width="1" />
<line x1="441.00" y1="477.90" x2="445.20" y2="477.90" stroke="#222" stroke-width="1.3" />
<line x1="441.00" y1="511.50" x2="445.20" y2="511.50" stroke="#222" stroke-width="1.3" />
<rect x="439.20" y="485.60" width="7.80" height="10.40" fill="#f39c1f" stroke="none" stroke-width="1" />
<line x1="439.20" y1="489.40" x2="447.00" y2="489.40" stroke="#3a2200" stroke-width="1.4" />
<line x1="460.00" y1="482.00" x2="460.00" y2="555.80" stroke="#222" stroke-width="1" />
<line x1="457.90" y1="482.00" x2="462.10" y2="482.00" stroke="#222" stroke-width="1.3" />
<line x1="457.90" y1="555.80" x2="462.10" y2="555.80" stroke="#222" stroke-width="1.3" />
<rect x="456.20" y="498.80" width="7.60" height="20.20" fill="#2e9fd9" stroke="none" stroke-width="1" />
<line x1="456.20" y1="509.60" x2="463.80" y2="509.60" stroke="#0f3150" stroke-width="1.4" />
<line x1="472.15" y1="475.40" x2="472.15" y2="510.60" stroke="#222" stroke-width="1" />
<line x1="470.05" y1="475.40" x2="474.25" y2="475.40" stroke="#222" stroke-width="1.3" />
<line x1="470.05" y1="510.60" x2="474.25" y2="510.60" stroke="#222" stroke-width="1.3" />
<rect x="468.30" y="487.00" width="7.70" height="8.00" fill="#f39c1f" stroke="none" stroke-width="1" />
<line x1="468.30" y1="490.40" x2="476.00" y2="490.40" stroke="#3a2200" stroke-width="1.4" />
<line x1="488.85" y1="476.70" x2="488.85" y2="521.20" stroke="#222" stroke-width="1" />
<line x1="486.75" y1="476.70" x2="490.95" y2="476.70" stroke="#222" stroke-width="1.3" />
<line x1="486.75" y1="521.20" x2="490.95" y2="521.20" stroke="#222" stroke-width="1.3" />
<rect x="485.00" y="487.00" width="7.70" height="24.50" fill="#2e9fd9" stroke="none" stroke-width="1" />
<line x1="485.00" y1="494.20" x2="492.70" y2="494.20" stroke="#0f3150" stroke-width="1.4" />
<line x1="501.35" y1="476.70" x2="501.35" y2="520.60" stroke="#222" stroke-width="1" />
<line x1="499.25" y1="476.70" x2="503.45" y2="476.70" stroke="#222" stroke-width="1.3" />
<line x1="499.25" y1="520.60" x2="503.45" y2="520.60" stroke="#222" stroke-width="1.3" />
<rect x="497.50" y="486.00" width="7.70" height="9.60" fill="#f39c1f" stroke="none" stroke-width="1" />
<line x1="497.50" y1="489.80" x2="505.20" y2="489.80" stroke="#3a2200" stroke-width="1.4" />
<rect x="422.50" y="469.00" width="87.70" height="86.80" fill="none" stroke="#111" stroke-width="1.3" />
<line x1="418.70" y1="469.00" x2="422.50" y2="469.00" stroke="#1a1a1a" stroke-width="1" />
<text x="411.50" y="471.37" font-size="7.7" text-anchor="end" fill="#2b2b2b" stroke="#2b2b2b" stroke-width="0.1" textLength="6.90" lengthAdjust="spacingAndGlyphs">10</text>
<text x="412.10" y="467.70" font-size="4.60" fill="#2b2b2b" textLength="2.30" lengthAdjust="spacingAndGlyphs">3</text>
<line x1="418.70" y1="490.70" x2="422.50" y2="490.70" stroke="#1a1a1a" stroke-width="1" />
<text x="411.50" y="493.07" font-size="7.7" text-anchor="end" fill="#2b2b2b" stroke="#2b2b2b" stroke-width="0.1" textLength="6.90" lengthAdjust="spacingAndGlyphs">10</text>
<text x="412.10" y="489.40" font-size="4.60" fill="#2b2b2b" textLength="2.30" lengthAdjust="spacingAndGlyphs">2</text>
<line x1="418.70" y1="512.40" x2="422.50" y2="512.40" stroke="#1a1a1a" stroke-width="1" />
<text x="411.50" y="514.77" font-size="7.7" text-anchor="end" fill="#2b2b2b" stroke="#2b2b2b" stroke-width="0.1" textLength="6.90" lengthAdjust="spacingAndGlyphs">10</text>
<text x="412.10" y="511.10" font-size="4.60" fill="#2b2b2b" textLength="2.30" lengthAdjust="spacingAndGlyphs">1</text>
<line x1="418.70" y1="534.10" x2="422.50" y2="534.10" stroke="#1a1a1a" stroke-width="1" />
<text x="411.50" y="536.47" font-size="7.7" text-anchor="end" fill="#2b2b2b" stroke="#2b2b2b" stroke-width="0.1" textLength="6.90" lengthAdjust="spacingAndGlyphs">10</text>
<text x="412.10" y="532.80" font-size="4.60" fill="#2b2b2b" textLength="2.30" lengthAdjust="spacingAndGlyphs">0</text>
<line x1="418.70" y1="555.80" x2="422.50" y2="555.80" stroke="#1a1a1a" stroke-width="1" />
<text x="408.90" y="558.17" font-size="7.7" text-anchor="end" fill="#2b2b2b" stroke="#2b2b2b" stroke-width="0.1" textLength="6.90" lengthAdjust="spacingAndGlyphs">10</text>
<text x="409.50" y="554.50" font-size="4.60" fill="#2b2b2b" textLength="4.90" lengthAdjust="spacingAndGlyphs">&#8722;1</text>
<line x1="430.80" y1="555.80" x2="430.80" y2="559.40" stroke="#1a1a1a" stroke-width="1" />
<line x1="443.10" y1="555.80" x2="443.10" y2="559.40" stroke="#1a1a1a" stroke-width="1" />
<line x1="460.00" y1="555.80" x2="460.00" y2="559.40" stroke="#1a1a1a" stroke-width="1" />
<line x1="472.15" y1="555.80" x2="472.15" y2="559.40" stroke="#1a1a1a" stroke-width="1" />
<line x1="488.85" y1="555.80" x2="488.85" y2="559.40" stroke="#1a1a1a" stroke-width="1" />
<line x1="501.35" y1="555.80" x2="501.35" y2="559.40" stroke="#1a1a1a" stroke-width="1" />
<circle cx="431.20" cy="475.30" r="1.0" fill="#333"/>
<circle cx="434.80" cy="475.30" r="1.0" fill="#333"/>
<circle cx="438.40" cy="475.30" r="1.0" fill="#333"/>
<circle cx="442.00" cy="475.30" r="1.0" fill="#333"/>
<circle cx="460.10" cy="475.30" r="1.0" fill="#333"/>
<circle cx="463.70" cy="475.30" r="1.0" fill="#333"/>
<circle cx="467.30" cy="475.30" r="1.0" fill="#333"/>
<circle cx="470.90" cy="475.30" r="1.0" fill="#333"/>
<text x="436.50" y="570.24" font-size="7.6" text-anchor="middle" fill="#2b2b2b" stroke="#2b2b2b" stroke-width="0.1">6</text>
<text x="465.50" y="570.24" font-size="7.6" text-anchor="middle" fill="#2b2b2b" stroke="#2b2b2b" stroke-width="0.1">12</text>
<text x="494.50" y="570.24" font-size="7.6" text-anchor="middle" fill="#2b2b2b" stroke="#2b2b2b" stroke-width="0.1">24</text>
<text x="465.20" y="584.75" font-size="10.7" text-anchor="middle" fill="#2b2b2b" stroke="#2b2b2b" stroke-width="0.1" textLength="27.40" lengthAdjust="spacingAndGlyphs">Months</text>
<line x1="299.40" y1="600.60" x2="299.40" y2="686.20" stroke="#111" stroke-width="1" />
<line x1="328.00" y1="600.60" x2="328.00" y2="686.20" stroke="#111" stroke-width="1" />
<line x1="278.75" y1="601.50" x2="278.75" y2="658.30" stroke="#222" stroke-width="1" />
<line x1="276.65" y1="601.50" x2="280.85" y2="601.50" stroke="#222" stroke-width="1.3" />
<line x1="276.65" y1="658.30" x2="280.85" y2="658.30" stroke="#222" stroke-width="1.3" />
<rect x="275.00" y="617.50" width="7.50" height="26.70" fill="#2e9fd9" stroke="none" stroke-width="1" />
<line x1="275.00" y1="628.50" x2="282.50" y2="628.50" stroke="#0f3150" stroke-width="1.4" />
<line x1="291.00" y1="632.00" x2="291.00" y2="666.50" stroke="#222" stroke-width="1" />
<line x1="288.90" y1="632.00" x2="293.10" y2="632.00" stroke="#222" stroke-width="1.3" />
<line x1="288.90" y1="666.50" x2="293.10" y2="666.50" stroke="#222" stroke-width="1.3" />
<rect x="287.00" y="648.00" width="8.00" height="12.60" fill="#f39c1f" stroke="none" stroke-width="1" />
<line x1="287.00" y1="652.50" x2="295.00" y2="652.50" stroke="#3a2200" stroke-width="1.4" />
<line x1="307.85" y1="609.20" x2="307.85" y2="665.40" stroke="#222" stroke-width="1" />
<line x1="305.75" y1="609.20" x2="309.95" y2="609.20" stroke="#222" stroke-width="1.3" />
<line x1="305.75" y1="665.40" x2="309.95" y2="665.40" stroke="#222" stroke-width="1.3" />
<rect x="304.20" y="630.00" width="7.30" height="28.30" fill="#2e9fd9" stroke="none" stroke-width="1" />
<line x1="304.20" y1="641.00" x2="311.50" y2="641.00" stroke="#0f3150" stroke-width="1.4" />
<line x1="320.00" y1="633.80" x2="320.00" y2="666.50" stroke="#222" stroke-width="1" />
<line x1="317.90" y1="633.80" x2="322.10" y2="633.80" stroke="#222" stroke-width="1.3" />
<line x1="317.90" y1="666.50" x2="322.10" y2="666.50" stroke="#222" stroke-width="1.3" />
<rect x="316.20" y="649.20" width="7.60" height="9.10" fill="#f39c1f" stroke="none" stroke-width="1" />
<line x1="316.20" y1="653.50" x2="323.80" y2="653.50" stroke="#3a2200" stroke-width="1.4" />
<line x1="336.45" y1="604.40" x2="336.45" y2="673.00" stroke="#222" stroke-width="1" />
<line x1="334.35" y1="604.40" x2="338.55" y2="604.40" stroke="#222" stroke-width="1.3" />
<line x1="334.35" y1="673.00" x2="338.55" y2="673.00" stroke="#222" stroke-width="1.3" />
<rect x="332.70" y="628.50" width="7.50" height="34.20" fill="#2e9fd9" stroke="none" stroke-width="1" />
<line x1="332.70" y1="654.00" x2="340.20" y2="654.00" stroke="#0f3150" stroke-width="1.4" />
<line x1="348.85" y1="618.30" x2="348.85" y2="671.00" stroke="#222" stroke-width="1" />
<line x1="346.75" y1="618.30" x2="350.95" y2="618.30" stroke="#222" stroke-width="1.3" />
<line x1="346.75" y1="671.00" x2="350.95" y2="671.00" stroke="#222" stroke-width="1.3" />
<rect x="345.00" y="640.40" width="7.70" height="16.90" fill="#f39c1f" stroke="none" stroke-width="1" />
<line x1="345.00" y1="652.00" x2="352.70" y2="652.00" stroke="#3a2200" stroke-width="1.4" />
<rect x="269.80" y="600.60" width="88.80" height="85.60" fill="none" stroke="#111" stroke-width="1.3" />
<line x1="266.00" y1="600.60" x2="269.80" y2="600.60" stroke="#1a1a1a" stroke-width="1" />
<text x="258.80" y="602.97" font-size="7.7" text-anchor="end" fill="#2b2b2b" stroke="#2b2b2b" stroke-width="0.1" textLength="6.90" lengthAdjust="spacingAndGlyphs">10</text>
<text x="259.40" y="599.30" font-size="4.60" fill="#2b2b2b" textLength="2.30" lengthAdjust="spacingAndGlyphs">2</text>
<line x1="266.00" y1="622.00" x2="269.80" y2="622.00" stroke="#1a1a1a" stroke-width="1" />
<text x="258.80" y="624.37" font-size="7.7" text-anchor="end" fill="#2b2b2b" stroke="#2b2b2b" stroke-width="0.1" textLength="6.90" lengthAdjust="spacingAndGlyphs">10</text>
<text x="259.40" y="620.70" font-size="4.60" fill="#2b2b2b" textLength="2.30" lengthAdjust="spacingAndGlyphs">1</text>
<line x1="266.00" y1="643.40" x2="269.80" y2="643.40" stroke="#1a1a1a" stroke-width="1" />
<text x="258.80" y="645.77" font-size="7.7" text-anchor="end" fill="#2b2b2b" stroke="#2b2b2b" stroke-width="0.1" textLength="6.90" lengthAdjust="spacingAndGlyphs">10</text>
<text x="259.40" y="642.10" font-size="4.60" fill="#2b2b2b" textLength="2.30" lengthAdjust="spacingAndGlyphs">0</text>
<line x1="266.00" y1="664.80" x2="269.80" y2="664.80" stroke="#1a1a1a" stroke-width="1" />
<text x="256.20" y="667.17" font-size="7.7" text-anchor="end" fill="#2b2b2b" stroke="#2b2b2b" stroke-width="0.1" textLength="6.90" lengthAdjust="spacingAndGlyphs">10</text>
<text x="256.80" y="663.50" font-size="4.60" fill="#2b2b2b" textLength="4.90" lengthAdjust="spacingAndGlyphs">&#8722;1</text>
<line x1="266.00" y1="686.20" x2="269.80" y2="686.20" stroke="#1a1a1a" stroke-width="1" />
<text x="256.20" y="688.57" font-size="7.7" text-anchor="end" fill="#2b2b2b" stroke="#2b2b2b" stroke-width="0.1" textLength="6.90" lengthAdjust="spacingAndGlyphs">10</text>
<text x="256.80" y="684.90" font-size="4.60" fill="#2b2b2b" textLength="4.90" lengthAdjust="spacingAndGlyphs">&#8722;2</text>
<line x1="278.75" y1="686.20" x2="278.75" y2="689.80" stroke="#1a1a1a" stroke-width="1" />
<line x1="291.00" y1="686.20" x2="291.00" y2="689.80" stroke="#1a1a1a" stroke-width="1" />
<line x1="307.85" y1="686.20" x2="307.85" y2="689.80" stroke="#1a1a1a" stroke-width="1" />
<line x1="320.00" y1="686.20" x2="320.00" y2="689.80" stroke="#1a1a1a" stroke-width="1" />
<line x1="336.45" y1="686.20" x2="336.45" y2="689.80" stroke="#1a1a1a" stroke-width="1" />
<line x1="348.85" y1="686.20" x2="348.85" y2="689.80" stroke="#1a1a1a" stroke-width="1" />
<circle cx="281.80" cy="606.90" r="1.0" fill="#333"/>
<circle cx="285.40" cy="606.90" r="1.0" fill="#333"/>
<circle cx="289.00" cy="606.90" r="1.0" fill="#333"/>
<circle cx="292.60" cy="606.90" r="1.0" fill="#333"/>
<circle cx="314.80" cy="606.90" r="1.0" fill="#333"/>
<text x="285.00" y="700.64" font-size="7.6" text-anchor="middle" fill="#2b2b2b" stroke="#2b2b2b" stroke-width="0.1">6</text>
<text x="314.00" y="700.64" font-size="7.6" text-anchor="middle" fill="#2b2b2b" stroke="#2b2b2b" stroke-width="0.1">12</text>
<text x="343.10" y="700.64" font-size="7.6" text-anchor="middle" fill="#2b2b2b" stroke="#2b2b2b" stroke-width="0.1">24</text>
<text x="314.30" y="715.15" font-size="10.7" text-anchor="middle" fill="#2b2b2b" stroke="#2b2b2b" stroke-width="0.1" textLength="27.40" lengthAdjust="spacingAndGlyphs">Months</text>
<line x1="451.30" y1="600.00" x2="451.30" y2="685.80" stroke="#111" stroke-width="1" />
<line x1="480.20" y1="600.00" x2="480.20" y2="685.80" stroke="#111" stroke-width="1" />
<line x1="430.80" y1="609.20" x2="430.80" y2="676.00" stroke="#222" stroke-width="1" />
<line x1="428.70" y1="609.20" x2="432.90" y2="609.20" stroke="#222" stroke-width="1.3" />
<line x1="428.70" y1="676.00" x2="432.90" y2="676.00" stroke="#222" stroke-width="1.3" />
<rect x="427.00" y="629.80" width="7.60" height="24.60" fill="#2e9fd9" stroke="none" stroke-width="1" />
<line x1="427.00" y1="641.30" x2="434.60" y2="641.30" stroke="#0f3150" stroke-width="1.4" />
<line x1="443.10" y1="629.00" x2="443.10" y2="669.20" stroke="#222" stroke-width="1" />
<line x1="441.00" y1="629.00" x2="445.20" y2="629.00" stroke="#222" stroke-width="1.3" />
<line x1="441.00" y1="669.20" x2="445.20" y2="669.20" stroke="#222" stroke-width="1.3" />
<rect x="439.20" y="654.40" width="7.80" height="11.00" fill="#f39c1f" stroke="none" stroke-width="1" />
<line x1="439.20" y1="658.30" x2="447.00" y2="658.30" stroke="#3a2200" stroke-width="1.4" />
<line x1="459.45" y1="606.30" x2="459.45" y2="669.20" stroke="#222" stroke-width="1" />
<line x1="457.35" y1="606.30" x2="461.55" y2="606.30" stroke="#222" stroke-width="1.3" />
<line x1="457.35" y1="669.20" x2="461.55" y2="669.20" stroke="#222" stroke-width="1.3" />
<rect x="455.60" y="640.40" width="7.70" height="22.10" fill="#2e9fd9" stroke="none" stroke-width="1" />
<line x1="455.60" y1="649.00" x2="463.30" y2="649.00" stroke="#0f3150" stroke-width="1.4" />
<line x1="472.15" y1="632.00" x2="472.15" y2="671.20" stroke="#222" stroke-width="1" />
<line x1="470.05" y1="632.00" x2="474.25" y2="632.00" stroke="#222" stroke-width="1.3" />
<line x1="470.05" y1="671.20" x2="474.25" y2="671.20" stroke="#222" stroke-width="1.3" />
<rect x="468.30" y="655.40" width="7.70" height="9.20" fill="#f39c1f" stroke="none" stroke-width="1" />
<line x1="468.30" y1="660.60" x2="476.00" y2="660.60" stroke="#3a2200" stroke-width="1.4" />
<line x1="488.35" y1="621.30" x2="488.35" y2="669.20" stroke="#222" stroke-width="1" />
<line x1="486.25" y1="621.30" x2="490.45" y2="621.30" stroke="#222" stroke-width="1.3" />
<line x1="486.25" y1="669.20" x2="490.45" y2="669.20" stroke="#222" stroke-width="1.3" />
<rect x="484.60" y="642.30" width="7.50" height="19.40" fill="#2e9fd9" stroke="none" stroke-width="1" />
<line x1="484.60" y1="652.10" x2="492.10" y2="652.10" stroke="#0f3150" stroke-width="1.4" />
<line x1="500.80" y1="632.70" x2="500.80" y2="679.40" stroke="#222" stroke-width="1" />
<line x1="498.70" y1="632.70" x2="502.90" y2="632.70" stroke="#222" stroke-width="1.3" />
<line x1="498.70" y1="679.40" x2="502.90" y2="679.40" stroke="#222" stroke-width="1.3" />
<rect x="497.00" y="652.50" width="7.60" height="11.00" fill="#f39c1f" stroke="none" stroke-width="1" />
<line x1="497.00" y1="655.40" x2="504.60" y2="655.40" stroke="#3a2200" stroke-width="1.4" />
<rect x="422.50" y="600.00" width="87.50" height="85.80" fill="none" stroke="#111" stroke-width="1.3" />
<line x1="418.70" y1="600.00" x2="422.50" y2="600.00" stroke="#1a1a1a" stroke-width="1" />
<text x="411.50" y="602.37" font-size="7.7" text-anchor="end" fill="#2b2b2b" stroke="#2b2b2b" stroke-width="0.1" textLength="6.90" lengthAdjust="spacingAndGlyphs">10</text>
<text x="412.10" y="598.70" font-size="4.60" fill="#2b2b2b" textLength="2.30" lengthAdjust="spacingAndGlyphs">2</text>
<line x1="418.70" y1="621.45" x2="422.50" y2="621.45" stroke="#1a1a1a" stroke-width="1" />
<text x="411.50" y="623.82" font-size="7.7" text-anchor="end" fill="#2b2b2b" stroke="#2b2b2b" stroke-width="0.1" textLength="6.90" lengthAdjust="spacingAndGlyphs">10</text>
<text x="412.10" y="620.15" font-size="4.60" fill="#2b2b2b" textLength="2.30" lengthAdjust="spacingAndGlyphs">1</text>
<line x1="418.70" y1="642.90" x2="422.50" y2="642.90" stroke="#1a1a1a" stroke-width="1" />
<text x="411.50" y="645.27" font-size="7.7" text-anchor="end" fill="#2b2b2b" stroke="#2b2b2b" stroke-width="0.1" textLength="6.90" lengthAdjust="spacingAndGlyphs">10</text>
<text x="412.10" y="641.60" font-size="4.60" fill="#2b2b2b" textLength="2.30" lengthAdjust="spacingAndGlyphs">0</text>
<line x1="418.70" y1="664.35" x2="422.50" y2="664.35" stroke="#1a1a1a" stroke-width="1" />
<text x="408.90" y="666.72" font-size="7.7" text-anchor="end" fill="#2b2b2b" stroke="#2b2b2b" stroke-width="0.1" textLength="6.90" lengthAdjust="spacingAndGlyphs">10</text>
<text x="409.50" y="663.05" font-size="4.60" fill="#2b2b2b" textLength="4.90" lengthAdjust="spacingAndGlyphs">&#8722;1</text>
<line x1="418.70" y1="685.80" x2="422.50" y2="685.80" stroke="#1a1a1a" stroke-width="1" />
<text x="408.90" y="688.17" font-size="7.7" text-anchor="end" fill="#2b2b2b" stroke="#2b2b2b" stroke-width="0.1" textLength="6.90" lengthAdjust="spacingAndGlyphs">10</text>
<text x="409.50" y="684.50" font-size="4.60" fill="#2b2b2b" textLength="4.90" lengthAdjust="spacingAndGlyphs">&#8722;2</text>
<line x1="430.80" y1="685.80" x2="430.80" y2="689.40" stroke="#1a1a1a" stroke-width="1" />
<line x1="443.10" y1="685.80" x2="443.10" y2="689.40" stroke="#1a1a1a" stroke-width="1" />
<line x1="459.45" y1="685.80" x2="459.45" y2="689.40" stroke="#1a1a1a" stroke-width="1" />
<line x1="472.15" y1="685.80" x2="472.15" y2="689.40" stroke="#1a1a1a" stroke-width="1" />
<line x1="488.35" y1="685.80" x2="488.35" y2="689.40" stroke="#1a1a1a" stroke-width="1" />
<line x1="500.80" y1="685.80" x2="500.80" y2="689.40" stroke="#1a1a1a" stroke-width="1" />
<circle cx="431.20" cy="606.30" r="1.0" fill="#333"/>
<circle cx="434.80" cy="606.30" r="1.0" fill="#333"/>
<circle cx="438.40" cy="606.30" r="1.0" fill="#333"/>
<circle cx="442.00" cy="606.30" r="1.0" fill="#333"/>
<circle cx="465.20" cy="606.30" r="1.0" fill="#333"/>
<text x="436.50" y="700.24" font-size="7.6" text-anchor="middle" fill="#2b2b2b" stroke="#2b2b2b" stroke-width="0.1">6</text>
<text x="465.50" y="700.24" font-size="7.6" text-anchor="middle" fill="#2b2b2b" stroke="#2b2b2b" stroke-width="0.1">12</text>
<text x="494.50" y="700.24" font-size="7.6" text-anchor="middle" fill="#2b2b2b" stroke="#2b2b2b" stroke-width="0.1">24</text>
<text x="465.20" y="714.75" font-size="10.7" text-anchor="middle" fill="#2b2b2b" stroke="#2b2b2b" stroke-width="0.1" textLength="27.40" lengthAdjust="spacingAndGlyphs">Months</text>
<line x1="299.40" y1="729.00" x2="299.40" y2="816.20" stroke="#111" stroke-width="1" />
<line x1="328.70" y1="729.00" x2="328.70" y2="816.20" stroke="#111" stroke-width="1" />
<line x1="278.75" y1="750.80" x2="278.75" y2="816.20" stroke="#222" stroke-width="1" />
<line x1="276.65" y1="750.80" x2="280.85" y2="750.80" stroke="#222" stroke-width="1.3" />
<line x1="276.65" y1="816.20" x2="280.85" y2="816.20" stroke="#222" stroke-width="1.3" />
<rect x="275.00" y="779.20" width="7.50" height="25.00" fill="#2e9fd9" stroke="none" stroke-width="1" />
<line x1="275.00" y1="791.70" x2="282.50" y2="791.70" stroke="#0f3150" stroke-width="1.4" />
<line x1="291.55" y1="744.00" x2="291.55" y2="781.50" stroke="#222" stroke-width="1" />
<line x1="289.45" y1="744.00" x2="293.65" y2="744.00" stroke="#222" stroke-width="1.3" />
<line x1="289.45" y1="781.50" x2="293.65" y2="781.50" stroke="#222" stroke-width="1.3" />
<rect x="287.90" y="755.00" width="7.30" height="15.60" fill="#f39c1f" stroke="none" stroke-width="1" />
<line x1="287.90" y1="764.80" x2="295.20" y2="764.80" stroke="#3a2200" stroke-width="1.4" />
<line x1="307.85" y1="756.00" x2="307.85" y2="816.20" stroke="#222" stroke-width="1" />
<line x1="305.75" y1="756.00" x2="309.95" y2="756.00" stroke="#222" stroke-width="1.3" />
<line x1="305.75" y1="816.20" x2="309.95" y2="816.20" stroke="#222" stroke-width="1.3" />
<rect x="304.20" y="770.40" width="7.30" height="21.10" fill="#2e9fd9" stroke="none" stroke-width="1" />
<line x1="304.20" y1="782.10" x2="311.50" y2="782.10" stroke="#0f3150" stroke-width="1.4" />
<line x1="320.35" y1="740.20" x2="320.35" y2="798.30" stroke="#222" stroke-width="1" />
<line x1="318.25" y1="740.20" x2="322.45" y2="740.20" stroke="#222" stroke-width="1.3" />
<line x1="318.25" y1="798.30" x2="322.45" y2="798.30" stroke="#222" stroke-width="1.3" />
<rect x="316.70" y="756.00" width="7.30" height="15.50" fill="#f39c1f" stroke="none" stroke-width="1" />
<line x1="316.70" y1="765.80" x2="324.00" y2="765.80" stroke="#3a2200" stroke-width="1.4" />
<line x1="337.15" y1="747.00" x2="337.15" y2="816.20" stroke="#222" stroke-width="1" />
<line x1="335.05" y1="747.00" x2="339.25" y2="747.00" stroke="#222" stroke-width="1.3" />
<line x1="335.05" y1="816.20" x2="339.25" y2="816.20" stroke="#222" stroke-width="1.3" />
<rect x="333.50" y="771.00" width="7.30" height="18.60" fill="#2e9fd9" stroke="none" stroke-width="1" />
<line x1="333.50" y1="773.50" x2="340.80" y2="773.50" stroke="#0f3150" stroke-width="1.4" />
<line x1="349.45" y1="745.40" x2="349.45" y2="797.50" stroke="#222" stroke-width="1" />
<line x1="347.35" y1="745.40" x2="351.55" y2="745.40" stroke="#222" stroke-width="1.3" />
<line x1="347.35" y1="797.50" x2="351.55" y2="797.50" stroke="#222" stroke-width="1.3" />
<rect x="345.60" y="759.00" width="7.70" height="22.50" fill="#f39c1f" stroke="none" stroke-width="1" />
<line x1="345.60" y1="766.70" x2="353.30" y2="766.70" stroke="#3a2200" stroke-width="1.4" />
<rect x="269.80" y="729.00" width="88.80" height="87.20" fill="none" stroke="#111" stroke-width="1.3" />
<line x1="266.00" y1="729.00" x2="269.80" y2="729.00" stroke="#1a1a1a" stroke-width="1" />
<text x="258.80" y="731.37" font-size="7.7" text-anchor="end" fill="#2b2b2b" stroke="#2b2b2b" stroke-width="0.1" textLength="6.90" lengthAdjust="spacingAndGlyphs">10</text>
<text x="259.40" y="727.70" font-size="4.60" fill="#2b2b2b" textLength="2.30" lengthAdjust="spacingAndGlyphs">3</text>
<line x1="266.00" y1="750.80" x2="269.80" y2="750.80" stroke="#1a1a1a" stroke-width="1" />
<text x="258.80" y="753.17" font-size="7.7" text-anchor="end" fill="#2b2b2b" stroke="#2b2b2b" stroke-width="0.1" textLength="6.90" lengthAdjust="spacingAndGlyphs">10</text>
<text x="259.40" y="749.50" font-size="4.60" fill="#2b2b2b" textLength="2.30" lengthAdjust="spacingAndGlyphs">2</text>
<line x1="266.00" y1="772.60" x2="269.80" y2="772.60" stroke="#1a1a1a" stroke-width="1" />
<text x="258.80" y="774.97" font-size="7.7" text-anchor="end" fill="#2b2b2b" stroke="#2b2b2b" stroke-width="0.1" textLength="6.90" lengthAdjust="spacingAndGlyphs">10</text>
<text x="259.40" y="771.30" font-size="4.60" fill="#2b2b2b" textLength="2.30" lengthAdjust="spacingAndGlyphs">1</text>
<line x1="266.00" y1="794.40" x2="269.80" y2="794.40" stroke="#1a1a1a" stroke-width="1" />
<text x="258.80" y="796.77" font-size="7.7" text-anchor="end" fill="#2b2b2b" stroke="#2b2b2b" stroke-width="0.1" textLength="6.90" lengthAdjust="spacingAndGlyphs">10</text>
<text x="259.40" y="793.10" font-size="4.60" fill="#2b2b2b" textLength="2.30" lengthAdjust="spacingAndGlyphs">0</text>
<line x1="266.00" y1="816.20" x2="269.80" y2="816.20" stroke="#1a1a1a" stroke-width="1" />
<text x="256.20" y="818.57" font-size="7.7" text-anchor="end" fill="#2b2b2b" stroke="#2b2b2b" stroke-width="0.1" textLength="6.90" lengthAdjust="spacingAndGlyphs">10</text>
<text x="256.80" y="814.90" font-size="4.60" fill="#2b2b2b" textLength="4.90" lengthAdjust="spacingAndGlyphs">&#8722;1</text>
<line x1="278.75" y1="816.20" x2="278.75" y2="819.80" stroke="#1a1a1a" stroke-width="1" />
<line x1="291.55" y1="816.20" x2="291.55" y2="819.80" stroke="#1a1a1a" stroke-width="1" />
<line x1="307.85" y1="816.20" x2="307.85" y2="819.80" stroke="#1a1a1a" stroke-width="1" />
<line x1="320.35" y1="816.20" x2="320.35" y2="819.80" stroke="#1a1a1a" stroke-width="1" />
<line x1="337.15" y1="816.20" x2="337.15" y2="819.80" stroke="#1a1a1a" stroke-width="1" />
<line x1="349.45" y1="816.20" x2="349.45" y2="819.80" stroke="#1a1a1a" stroke-width="1" />
<circle cx="280.30" cy="735.30" r="1.0" fill="#333"/>
<circle cx="283.90" cy="735.30" r="1.0" fill="#333"/>
<circle cx="287.50" cy="735.30" r="1.0" fill="#333"/>
<circle cx="291.10" cy="735.30" r="1.0" fill="#333"/>
<circle cx="310.80" cy="735.30" r="1.0" fill="#333"/>
<circle cx="314.40" cy="735.30" r="1.0" fill="#333"/>
<circle cx="318.00" cy="735.30" r="1.0" fill="#333"/>
<text x="285.00" y="830.64" font-size="7.6" text-anchor="middle" fill="#2b2b2b" stroke="#2b2b2b" stroke-width="0.1">6</text>
<text x="314.00" y="830.64" font-size="7.6" text-anchor="middle" fill="#2b2b2b" stroke="#2b2b2b" stroke-width="0.1">12</text>
<text x="343.10" y="830.64" font-size="7.6" text-anchor="middle" fill="#2b2b2b" stroke="#2b2b2b" stroke-width="0.1">24</text>
<text x="314.30" y="845.15" font-size="10.7" text-anchor="middle" fill="#2b2b2b" stroke="#2b2b2b" stroke-width="0.1" textLength="27.40" lengthAdjust="spacingAndGlyphs">Months</text>
<text x="16.20" y="19.89" font-size="14" text-anchor="middle" fill="#111" font-weight="bold" textLength="11.80" lengthAdjust="spacingAndGlyphs">A</text>
<text x="64.20" y="154.94" font-size="14" text-anchor="middle" fill="#111" font-weight="bold" textLength="9.60" lengthAdjust="spacingAndGlyphs">B</text>
<text x="13.80" y="343.14" font-size="14" text-anchor="middle" fill="#111" font-weight="bold" textLength="10.60" lengthAdjust="spacingAndGlyphs">C</text>
<text x="211.80" y="347.34" font-size="14" text-anchor="middle" fill="#111" font-weight="bold" textLength="11.30" lengthAdjust="spacingAndGlyphs">D</text>
<text x="211.70" y="472.74" font-size="14" text-anchor="middle" fill="#111" font-weight="bold" textLength="8.70" lengthAdjust="spacingAndGlyphs">E</text>
<text x="211.60" y="604.39" font-size="14" text-anchor="middle" fill="#111" font-weight="bold" textLength="8.50" lengthAdjust="spacingAndGlyphs">F</text>
<text x="13.70" y="633.44" font-size="14" text-anchor="middle" fill="#111" font-weight="bold" textLength="11.60" lengthAdjust="spacingAndGlyphs">G</text>
<text x="211.40" y="733.34" font-size="14" text-anchor="middle" fill="#111" font-weight="bold" textLength="10.50" lengthAdjust="spacingAndGlyphs">H</text>
<text x="379.10" y="733.54" font-size="14" text-anchor="middle" fill="#111" font-weight="bold">I</text>
<text x="231.70" y="386.46" font-size="9.6" text-anchor="middle" fill="#2b2b2b" stroke="#2b2b2b" stroke-width="0.1" textLength="22.10" lengthAdjust="spacingAndGlyphs" transform="rotate(-90 231.70 383.00)">%Treg</text>
<text x="244.30" y="386.26" font-size="9.6" text-anchor="middle" fill="#2b2b2b" stroke="#2b2b2b" stroke-width="0.1" textLength="80.40" lengthAdjust="spacingAndGlyphs" transform="rotate(-90 244.30 382.80)">(CD25++CD127dim)</text>
<text x="390.20" y="386.46" font-size="9.6" text-anchor="middle" fill="#2b2b2b" stroke="#2b2b2b" stroke-width="0.1" textLength="44.30" lengthAdjust="spacingAndGlyphs" transform="rotate(-90 390.20 383.00)">Treg CD4/µl</text>
<text x="238.60" y="516.46" font-size="9.6" text-anchor="middle" fill="#2b2b2b" stroke="#2b2b2b" stroke-width="0.1" textLength="82.80" lengthAdjust="spacingAndGlyphs" transform="rotate(-90 238.60 513.00)">Naive non-Treg CD4/µl</text>
<text x="393.20" y="516.76" font-size="9.6" text-anchor="middle" fill="#2b2b2b" stroke="#2b2b2b" stroke-width="0.1" textLength="48.80" lengthAdjust="spacingAndGlyphs" transform="rotate(-90 393.20 513.30)">Naive CD8/µl</text>
<text x="227.20" y="646.76" font-size="9.6" text-anchor="middle" fill="#2b2b2b" stroke="#2b2b2b" stroke-width="0.1" textLength="43.60" lengthAdjust="spacingAndGlyphs" transform="rotate(-90 227.20 643.30)">Ratio #Treg:</text>
<text x="239.40" y="647.76" font-size="9.6" text-anchor="middle" fill="#2b2b2b" stroke="#2b2b2b" stroke-width="0.1" textLength="72.50" lengthAdjust="spacingAndGlyphs" transform="rotate(-90 239.40 644.30)">#Naive nonTreg CD4</text>
<text x="390.50" y="646.76" font-size="9.6" text-anchor="middle" fill="#2b2b2b" stroke="#2b2b2b" stroke-width="0.1" textLength="86.00" lengthAdjust="spacingAndGlyphs" transform="rotate(-90 390.50 643.30)">Ratio #Treg: #Naive CD8</text>
<text x="238.70" y="777.06" font-size="9.6" text-anchor="middle" fill="#2b2b2b" stroke="#2b2b2b" stroke-width="0.1" textLength="45.60" lengthAdjust="spacingAndGlyphs" transform="rotate(-90 238.70 773.60)">CD8 Tscm/µl</text>
<text x="390.50" y="778.96" font-size="9.6" text-anchor="middle" fill="#2b2b2b" stroke="#2b2b2b" stroke-width="0.1" textLength="40.40" lengthAdjust="spacingAndGlyphs" transform="rotate(-90 390.50 775.50)"># CD8 Tscm</text>
<circle cx="432.10" cy="781.30" r="1.75" fill="#163f6e"/>
<circle cx="438.50" cy="766.00" r="1.75" fill="#163f6e"/>
<circle cx="446.50" cy="754.20" r="1.75" fill="#163f6e"/>
<circle cx="449.00" cy="776.00" r="1.75" fill="#163f6e"/>
<circle cx="451.30" cy="767.70" r="1.75" fill="#163f6e"/>
<circle cx="452.70" cy="779.80" r="1.75" fill="#163f6e"/>
<circle cx="453.30" cy="763.50" r="1.75" fill="#163f6e"/>
<circle cx="459.00" cy="770.80" r="1.75" fill="#163f6e"/>
<circle cx="460.40" cy="768.80" r="1.75" fill="#163f6e"/>
<circle cx="461.50" cy="778.30" r="1.75" fill="#163f6e"/>
<circle cx="462.50" cy="764.80" r="1.75" fill="#163f6e"/>
<circle cx="465.80" cy="776.90" r="1.75" fill="#163f6e"/>
<circle cx="467.70" cy="787.10" r="1.75" fill="#163f6e"/>
<circle cx="468.70" cy="766.00" r="1.75" fill="#163f6e"/>
<circle cx="470.60" cy="768.80" r="1.75" fill="#163f6e"/>
<circle cx="473.50" cy="781.20" r="1.75" fill="#163f6e"/>
<circle cx="474.40" cy="782.30" r="1.75" fill="#163f6e"/>
<circle cx="475.40" cy="776.50" r="1.75" fill="#163f6e"/>
<circle cx="476.90" cy="771.20" r="1.75" fill="#163f6e"/>
<circle cx="480.80" cy="787.10" r="1.75" fill="#163f6e"/>
<circle cx="492.30" cy="791.30" r="1.75" fill="#163f6e"/>
<circle cx="496.90" cy="794.60" r="1.75" fill="#163f6e"/>
<circle cx="494.60" cy="799.00" r="1.75" fill="#163f6e"/>
<circle cx="494.00" cy="809.20" r="1.75" fill="#163f6e"/>
<circle cx="442.70" cy="745.20" r="1.75" fill="#b3103a"/>
<circle cx="443.70" cy="747.70" r="1.75" fill="#b3103a"/>
<circle cx="441.70" cy="750.00" r="1.75" fill="#b3103a"/>
<circle cx="440.80" cy="752.90" r="1.75" fill="#b3103a"/>
<circle cx="439.80" cy="754.20" r="1.75" fill="#b3103a"/>
<circle cx="441.70" cy="752.30" r="1.75" fill="#b3103a"/>
<circle cx="443.70" cy="758.10" r="1.75" fill="#b3103a"/>
<circle cx="439.80" cy="763.50" r="1.75" fill="#b3103a"/>
<circle cx="445.60" cy="758.70" r="1.75" fill="#b3103a"/>
<circle cx="448.50" cy="759.60" r="1.75" fill="#b3103a"/>
<circle cx="450.40" cy="761.20" r="1.75" fill="#b3103a"/>
<circle cx="452.30" cy="749.00" r="1.75" fill="#b3103a"/>
<circle cx="451.30" cy="762.50" r="1.75" fill="#b3103a"/>
<circle cx="453.30" cy="759.60" r="1.75" fill="#b3103a"/>
<circle cx="454.20" cy="764.40" r="1.75" fill="#b3103a"/>
<circle cx="456.70" cy="764.40" r="1.75" fill="#b3103a"/>
<circle cx="449.40" cy="771.20" r="1.75" fill="#b3103a"/>
<circle cx="459.00" cy="772.10" r="1.75" fill="#b3103a"/>
<circle cx="465.80" cy="766.90" r="1.75" fill="#b3103a"/>
<circle cx="468.70" cy="773.10" r="1.75" fill="#b3103a"/>
<circle cx="477.30" cy="768.80" r="1.75" fill="#b3103a"/>
<circle cx="443.70" cy="744.20" r="1.75" fill="#b3103a"/>
<circle cx="441.70" cy="748.10" r="1.75" fill="#b3103a"/>
<circle cx="440.80" cy="751.00" r="1.75" fill="#b3103a"/>
<circle cx="439.20" cy="763.50" r="1.75" fill="#b3103a"/>
<rect x="422.50" y="733.60" width="83.80" height="83.60" fill="none" stroke="#111" stroke-width="1.3" />
<line x1="418.70" y1="733.60" x2="422.50" y2="733.60" stroke="#1a1a1a" stroke-width="1" />
<text x="411.50" y="735.97" font-size="7.7" text-anchor="end" fill="#2b2b2b" stroke="#2b2b2b" stroke-width="0.1" textLength="6.90" lengthAdjust="spacingAndGlyphs">10</text>
<text x="412.10" y="732.30" font-size="4.60" fill="#2b2b2b" textLength="2.30" lengthAdjust="spacingAndGlyphs">3</text>
<line x1="418.70" y1="750.32" x2="422.50" y2="750.32" stroke="#1a1a1a" stroke-width="1" />
<text x="411.50" y="752.69" font-size="7.7" text-anchor="end" fill="#2b2b2b" stroke="#2b2b2b" stroke-width="0.1" textLength="6.90" lengthAdjust="spacingAndGlyphs">10</text>
<text x="412.10" y="749.02" font-size="4.60" fill="#2b2b2b" textLength="2.30" lengthAdjust="spacingAndGlyphs">2</text>
<line x1="418.70" y1="767.04" x2="422.50" y2="767.04" stroke="#1a1a1a" stroke-width="1" />
<text x="411.50" y="769.41" font-size="7.7" text-anchor="end" fill="#2b2b2b" stroke="#2b2b2b" stroke-width="0.1" textLength="6.90" lengthAdjust="spacingAndGlyphs">10</text>
<text x="412.10" y="765.74" font-size="4.60" fill="#2b2b2b" textLength="2.30" lengthAdjust="spacingAndGlyphs">1</text>
<line x1="418.70" y1="783.76" x2="422.50" y2="783.76" stroke="#1a1a1a" stroke-width="1" />
<text x="411.50" y="786.13" font-size="7.7" text-anchor="end" fill="#2b2b2b" stroke="#2b2b2b" stroke-width="0.1" textLength="6.90" lengthAdjust="spacingAndGlyphs">10</text>
<text x="412.10" y="782.46" font-size="4.60" fill="#2b2b2b" textLength="2.30" lengthAdjust="spacingAndGlyphs">0</text>
<line x1="418.70" y1="800.48" x2="422.50" y2="800.48" stroke="#1a1a1a" stroke-width="1" />
<text x="408.90" y="802.85" font-size="7.7" text-anchor="end" fill="#2b2b2b" stroke="#2b2b2b" stroke-width="0.1" textLength="6.90" lengthAdjust="spacingAndGlyphs">10</text>
<text x="409.50" y="799.18" font-size="4.60" fill="#2b2b2b" textLength="4.90" lengthAdjust="spacingAndGlyphs">&#8722;1</text>
<line x1="418.70" y1="817.20" x2="422.50" y2="817.20" stroke="#1a1a1a" stroke-width="1" />
<text x="408.90" y="819.57" font-size="7.7" text-anchor="end" fill="#2b2b2b" stroke="#2b2b2b" stroke-width="0.1" textLength="6.90" lengthAdjust="spacingAndGlyphs">10</text>
<text x="409.50" y="815.90" font-size="4.60" fill="#2b2b2b" textLength="4.90" lengthAdjust="spacingAndGlyphs">&#8722;2</text>
<line x1="422.50" y1="817.20" x2="422.50" y2="820.80" stroke="#1a1a1a" stroke-width="1" />
<text x="421.00" y="831.30" font-size="7.4" text-anchor="middle" fill="#2b2b2b" textLength="7.3" lengthAdjust="spacingAndGlyphs">10</text>
<text x="424.80" y="827.70" font-size="4.6" fill="#2b2b2b">&#8722;2</text>
<line x1="443.45" y1="817.20" x2="443.45" y2="820.80" stroke="#1a1a1a" stroke-width="1" />
<text x="441.95" y="831.30" font-size="7.4" text-anchor="middle" fill="#2b2b2b" textLength="7.3" lengthAdjust="spacingAndGlyphs">10</text>
<text x="445.75" y="827.70" font-size="4.6" fill="#2b2b2b">&#8722;1</text>
<line x1="464.40" y1="817.20" x2="464.40" y2="820.80" stroke="#1a1a1a" stroke-width="1" />
<text x="462.90" y="831.30" font-size="7.4" text-anchor="middle" fill="#2b2b2b" textLength="7.3" lengthAdjust="spacingAndGlyphs">10</text>
<text x="466.70" y="827.70" font-size="4.6" fill="#2b2b2b">0</text>
<line x1="485.35" y1="817.20" x2="485.35" y2="820.80" stroke="#1a1a1a" stroke-width="1" />
<text x="483.85" y="831.30" font-size="7.4" text-anchor="middle" fill="#2b2b2b" textLength="7.3" lengthAdjust="spacingAndGlyphs">10</text>
<text x="487.65" y="827.70" font-size="4.6" fill="#2b2b2b">1</text>
<line x1="506.30" y1="817.20" x2="506.30" y2="820.80" stroke="#1a1a1a" stroke-width="1" />
<text x="504.80" y="831.30" font-size="7.4" text-anchor="middle" fill="#2b2b2b" textLength="7.3" lengthAdjust="spacingAndGlyphs">10</text>
<text x="508.60" y="827.70" font-size="4.6" fill="#2b2b2b">2</text>
<text x="464.00" y="847.00" font-size="10.0" text-anchor="middle" fill="#2b2b2b" stroke="#2b2b2b" stroke-width="0.1" textLength="93.00" lengthAdjust="spacingAndGlyphs">Ratio #Treg to #CD8 Naive</text>
<text x="70.60" y="343.53" font-size="8.7" text-anchor="middle" fill="#2b2b2b" stroke="#2b2b2b" stroke-width="0.1">AC</text>
<text x="140.70" y="343.50" font-size="8.6" text-anchor="middle" fill="#2b2b2b" stroke="#2b2b2b" stroke-width="0.1">TMS</text>
<text x="102.70" y="415.46" font-size="9.6" text-anchor="middle" fill="#2b2b2b" stroke="#2b2b2b" stroke-width="0.1" textLength="23.20" lengthAdjust="spacingAndGlyphs">CD25</text>
<text x="27.80" y="373.97" font-size="10.2" text-anchor="middle" fill="#2b2b2b" stroke="#2b2b2b" stroke-width="0.1" textLength="24.20" lengthAdjust="spacingAndGlyphs" transform="rotate(-90 27.80 370.30)">CD127</text>
<text x="27.80" y="449.17" font-size="10.2" text-anchor="middle" fill="#2b2b2b" stroke="#2b2b2b" stroke-width="0.1" textLength="19.20" lengthAdjust="spacingAndGlyphs" transform="rotate(-90 27.80 445.50)">CCR7</text>
<text x="27.80" y="512.47" font-size="10.2" text-anchor="middle" fill="#2b2b2b" stroke="#2b2b2b" stroke-width="0.1" textLength="19.20" lengthAdjust="spacingAndGlyphs" transform="rotate(-90 27.80 508.80)">CCR7</text>
<text x="27.80" y="575.77" font-size="10.2" text-anchor="middle" fill="#2b2b2b" stroke="#2b2b2b" stroke-width="0.1" textLength="19.20" lengthAdjust="spacingAndGlyphs" transform="rotate(-90 27.80 572.10)">CCR7</text>
<text x="165.80" y="373.08" font-size="9.1" text-anchor="start" fill="#2b2b2b" stroke="#2b2b2b" stroke-width="0.1" textLength="18.20" lengthAdjust="spacingAndGlyphs">CD4</text>
<text x="166.10" y="437.10" font-size="8.9" text-anchor="start" fill="#2b2b2b" stroke="#2b2b2b" stroke-width="0.1" textLength="16.80" lengthAdjust="spacingAndGlyphs">Non</text>
<text x="166.10" y="447.90" font-size="8.9" text-anchor="start" fill="#2b2b2b" stroke="#2b2b2b" stroke-width="0.1" textLength="17.60" lengthAdjust="spacingAndGlyphs">Treg</text>
<text x="166.10" y="458.70" font-size="8.9" text-anchor="start" fill="#2b2b2b" stroke="#2b2b2b" stroke-width="0.1" textLength="17.80" lengthAdjust="spacingAndGlyphs">CD4</text>
<text x="166.10" y="506.70" font-size="8.9" text-anchor="start" fill="#2b2b2b" stroke="#2b2b2b" stroke-width="0.1" textLength="17.60" lengthAdjust="spacingAndGlyphs">Treg</text>
<text x="166.10" y="517.20" font-size="8.9" text-anchor="start" fill="#2b2b2b" stroke="#2b2b2b" stroke-width="0.1" textLength="17.80" lengthAdjust="spacingAndGlyphs">CD4</text>
<text x="166.10" y="575.00" font-size="8.9" text-anchor="start" fill="#2b2b2b" stroke="#2b2b2b" stroke-width="0.1" textLength="17.80" lengthAdjust="spacingAndGlyphs">CD8</text>
<text x="103.20" y="612.80" font-size="8.9" text-anchor="middle" fill="#2b2b2b" stroke="#2b2b2b" stroke-width="0.1" textLength="35.30" lengthAdjust="spacingAndGlyphs">CD45RA</text>
<path d="M70.62,375.50 C70.76,376.29 70.86,377.13 70.85,377.98 C70.85,378.83 70.79,379.73 70.59,380.60 C70.39,381.47 70.09,382.39 69.66,383.20 C69.22,384.02 68.64,384.83 67.97,385.49 C67.30,386.16 66.47,386.75 65.62,387.17 C64.77,387.59 63.79,387.88 62.86,388.02 C61.92,388.17 60.93,388.15 60.00,388.05 C59.07,387.94 58.15,387.69 57.28,387.40 C56.42,387.10 55.60,386.70 54.81,386.27 C54.03,385.84 53.28,385.35 52.58,384.81 C51.87,384.26 51.19,383.67 50.59,383.01 C49.98,382.34 49.40,381.62 48.94,380.83 C48.49,380.04 48.09,379.16 47.85,378.27 C47.62,377.38 47.50,376.41 47.54,375.50 C47.59,374.59 47.79,373.63 48.11,372.79 C48.43,371.94 48.92,371.12 49.46,370.43 C50.00,369.73 50.68,369.12 51.35,368.60 C52.02,368.08 52.76,367.67 53.48,367.32 C54.20,366.97 54.93,366.71 55.66,366.48 C56.38,366.26 57.10,366.10 57.83,365.97 C58.55,365.85 59.27,365.77 60.00,365.76 C60.73,365.75 61.47,365.79 62.19,365.92 C62.91,366.04 63.64,366.24 64.32,366.53 C65.00,366.82 65.66,367.21 66.26,367.66 C66.85,368.10 67.40,368.64 67.87,369.22 C68.35,369.80 68.77,370.44 69.12,371.11 C69.48,371.77 69.78,372.48 70.03,373.21 C70.28,373.94 70.48,374.71 70.62,375.50 Z" fill="#b0b0b0" opacity="0.55"/>
<path d="M69.83,375.50 C69.96,376.24 70.06,377.01 70.05,377.79 C70.05,378.58 69.99,379.42 69.81,380.22 C69.62,381.03 69.35,381.88 68.94,382.63 C68.54,383.39 68.00,384.14 67.38,384.75 C66.76,385.37 65.99,385.91 65.20,386.30 C64.41,386.69 63.51,386.96 62.65,387.09 C61.78,387.23 60.86,387.21 60.00,387.12 C59.14,387.02 58.29,386.79 57.49,386.51 C56.69,386.24 55.92,385.87 55.20,385.48 C54.47,385.08 53.78,384.62 53.13,384.12 C52.48,383.61 51.84,383.07 51.28,382.45 C50.72,381.84 50.18,381.16 49.76,380.43 C49.34,379.70 48.97,378.89 48.75,378.07 C48.54,377.25 48.43,376.35 48.47,375.50 C48.51,374.65 48.70,373.77 48.99,372.99 C49.29,372.20 49.74,371.45 50.24,370.80 C50.74,370.16 51.37,369.59 51.99,369.11 C52.61,368.63 53.29,368.25 53.96,367.93 C54.63,367.60 55.31,367.36 55.98,367.15 C56.65,366.94 57.32,366.79 57.99,366.68 C58.66,366.57 59.33,366.49 60.00,366.48 C60.67,366.47 61.36,366.51 62.03,366.63 C62.69,366.74 63.37,366.93 64.00,367.20 C64.63,367.47 65.24,367.82 65.79,368.24 C66.34,368.65 66.85,369.15 67.29,369.69 C67.73,370.22 68.12,370.82 68.45,371.43 C68.78,372.05 69.06,372.70 69.29,373.38 C69.52,374.06 69.71,374.76 69.83,375.50 Z" fill="none" stroke="#808080" stroke-width="0.6"/>
<path d="M68.52,375.50 C68.65,376.14 68.75,376.81 68.77,377.50 C68.79,378.19 68.77,378.94 68.63,379.65 C68.49,380.37 68.26,381.14 67.92,381.82 C67.58,382.50 67.11,383.18 66.57,383.73 C66.02,384.29 65.34,384.78 64.64,385.13 C63.94,385.48 63.13,385.71 62.36,385.82 C61.58,385.94 60.76,385.91 60.00,385.81 C59.24,385.71 58.48,385.49 57.78,385.24 C57.07,384.99 56.40,384.65 55.76,384.30 C55.13,383.94 54.52,383.54 53.94,383.09 C53.37,382.65 52.81,382.17 52.31,381.64 C51.80,381.10 51.32,380.51 50.94,379.86 C50.56,379.22 50.22,378.50 50.03,377.78 C49.83,377.05 49.73,376.25 49.77,375.50 C49.81,374.75 49.99,373.97 50.27,373.28 C50.54,372.59 50.97,371.93 51.42,371.37 C51.88,370.81 52.45,370.33 53.01,369.93 C53.57,369.53 54.19,369.22 54.78,368.96 C55.37,368.69 55.97,368.51 56.55,368.34 C57.14,368.18 57.71,368.06 58.28,367.97 C58.86,367.88 59.42,367.81 60.00,367.81 C60.58,367.80 61.16,367.82 61.73,367.91 C62.30,368.01 62.89,368.16 63.42,368.39 C63.96,368.61 64.50,368.92 64.97,369.27 C65.44,369.62 65.88,370.05 66.26,370.51 C66.64,370.96 66.97,371.48 67.26,372.00 C67.55,372.53 67.79,373.09 68.00,373.67 C68.21,374.26 68.39,374.86 68.52,375.50 Z" fill="none" stroke="#727272" stroke-width="0.6"/>
<path d="M67.23,375.50 C67.35,376.04 67.46,376.61 67.50,377.21 C67.53,377.81 67.54,378.45 67.43,379.08 C67.33,379.71 67.16,380.38 66.87,380.98 C66.59,381.58 66.19,382.19 65.72,382.68 C65.25,383.16 64.66,383.60 64.05,383.91 C63.44,384.21 62.73,384.41 62.05,384.50 C61.38,384.59 60.66,384.56 60.00,384.46 C59.34,384.37 58.68,384.16 58.07,383.94 C57.46,383.71 56.89,383.41 56.34,383.10 C55.79,382.78 55.27,382.44 54.77,382.06 C54.27,381.67 53.79,381.27 53.35,380.81 C52.91,380.34 52.48,379.84 52.14,379.28 C51.81,378.73 51.51,378.11 51.34,377.48 C51.17,376.85 51.08,376.15 51.12,375.50 C51.16,374.85 51.32,374.17 51.57,373.58 C51.82,372.98 52.21,372.42 52.62,371.94 C53.03,371.47 53.54,371.07 54.03,370.74 C54.53,370.41 55.07,370.17 55.58,369.96 C56.10,369.75 56.61,369.62 57.11,369.49 C57.60,369.36 58.08,369.27 58.56,369.20 C59.05,369.13 59.52,369.08 60.00,369.07 C60.48,369.06 60.97,369.07 61.45,369.15 C61.93,369.23 62.42,369.35 62.87,369.53 C63.33,369.72 63.78,369.97 64.17,370.27 C64.57,370.56 64.94,370.92 65.26,371.30 C65.58,371.69 65.86,372.12 66.11,372.56 C66.36,373.00 66.56,373.47 66.75,373.96 C66.94,374.45 67.10,374.96 67.23,375.50 Z" fill="none" stroke="#656565" stroke-width="0.6"/>
<path d="M65.96,375.50 C66.07,375.95 66.18,376.42 66.23,376.92 C66.27,377.42 66.30,377.97 66.23,378.50 C66.15,379.03 66.03,379.61 65.80,380.12 C65.57,380.63 65.24,381.16 64.85,381.58 C64.45,382.00 63.95,382.37 63.43,382.63 C62.92,382.89 62.31,383.05 61.74,383.13 C61.17,383.20 60.56,383.16 60.00,383.07 C59.44,382.99 58.89,382.80 58.38,382.60 C57.87,382.40 57.39,382.15 56.93,381.88 C56.47,381.61 56.03,381.32 55.61,381.00 C55.19,380.68 54.78,380.34 54.41,379.96 C54.04,379.57 53.67,379.15 53.38,378.69 C53.09,378.22 52.83,377.70 52.69,377.17 C52.54,376.64 52.47,376.05 52.50,375.50 C52.54,374.95 52.68,374.38 52.90,373.88 C53.12,373.38 53.46,372.91 53.82,372.52 C54.18,372.13 54.62,371.81 55.05,371.55 C55.47,371.29 55.94,371.10 56.37,370.95 C56.80,370.79 57.23,370.69 57.64,370.60 C58.05,370.50 58.44,370.44 58.83,370.39 C59.23,370.33 59.61,370.29 60.00,370.28 C60.39,370.27 60.79,370.28 61.18,370.34 C61.57,370.40 61.97,370.49 62.34,370.64 C62.71,370.79 63.08,370.99 63.41,371.23 C63.73,371.47 64.03,371.76 64.30,372.07 C64.56,372.38 64.79,372.73 65.00,373.09 C65.20,373.45 65.38,373.84 65.54,374.24 C65.70,374.64 65.84,375.05 65.96,375.50 Z" fill="none" stroke="#585858" stroke-width="0.6"/>
<path d="M64.72,375.50 C64.82,375.85 64.92,376.23 64.97,376.63 C65.02,377.04 65.05,377.48 65.01,377.91 C64.96,378.35 64.87,378.82 64.69,379.24 C64.51,379.66 64.26,380.10 63.94,380.44 C63.62,380.78 63.22,381.09 62.80,381.31 C62.38,381.52 61.88,381.65 61.42,381.70 C60.95,381.76 60.45,381.72 60.00,381.64 C59.55,381.57 59.10,381.41 58.69,381.24 C58.28,381.07 57.89,380.86 57.52,380.64 C57.15,380.42 56.80,380.19 56.47,379.93 C56.13,379.67 55.79,379.41 55.49,379.10 C55.19,378.79 54.88,378.45 54.65,378.08 C54.41,377.70 54.19,377.28 54.07,376.85 C53.95,376.42 53.89,375.94 53.92,375.50 C53.96,375.06 54.08,374.59 54.27,374.19 C54.45,373.79 54.73,373.41 55.03,373.11 C55.33,372.80 55.70,372.55 56.05,372.35 C56.40,372.15 56.78,372.02 57.13,371.90 C57.48,371.79 57.82,371.72 58.15,371.66 C58.48,371.60 58.78,371.55 59.09,371.52 C59.40,371.48 59.70,371.44 60.00,371.44 C60.30,371.43 60.61,371.43 60.92,371.47 C61.22,371.51 61.54,371.58 61.83,371.70 C62.12,371.81 62.41,371.97 62.67,372.15 C62.93,372.34 63.16,372.57 63.37,372.81 C63.58,373.06 63.76,373.33 63.92,373.61 C64.09,373.89 64.23,374.19 64.36,374.51 C64.49,374.82 64.61,375.15 64.72,375.50 Z" fill="none" stroke="#4a4a4a" stroke-width="0.6"/>
<path d="M63.50,375.50 C63.58,375.76 63.67,376.05 63.72,376.35 C63.76,376.65 63.80,376.99 63.78,377.32 C63.75,377.65 63.69,378.01 63.56,378.34 C63.43,378.66 63.24,379.00 63.00,379.26 C62.76,379.53 62.45,379.77 62.13,379.93 C61.81,380.09 61.44,380.19 61.08,380.23 C60.72,380.27 60.35,380.23 60.00,380.17 C59.65,380.11 59.32,379.98 59.01,379.85 C58.70,379.72 58.41,379.55 58.13,379.39 C57.85,379.22 57.59,379.04 57.33,378.85 C57.07,378.65 56.82,378.45 56.59,378.22 C56.36,377.99 56.12,377.74 55.94,377.45 C55.76,377.17 55.59,376.85 55.50,376.53 C55.41,376.20 55.36,375.84 55.38,375.50 C55.41,375.16 55.51,374.81 55.66,374.51 C55.80,374.21 56.03,373.92 56.26,373.70 C56.49,373.47 56.78,373.29 57.05,373.15 C57.32,373.00 57.61,372.92 57.88,372.84 C58.14,372.76 58.40,372.72 58.64,372.68 C58.89,372.64 59.11,372.62 59.34,372.59 C59.56,372.57 59.78,372.54 60.00,372.54 C60.22,372.53 60.45,372.53 60.67,372.56 C60.90,372.58 61.13,372.63 61.34,372.71 C61.56,372.79 61.77,372.91 61.96,373.04 C62.15,373.18 62.32,373.35 62.48,373.53 C62.63,373.70 62.76,373.90 62.88,374.11 C63.01,374.32 63.11,374.53 63.21,374.77 C63.32,375.00 63.42,375.24 63.50,375.50 Z" fill="none" stroke="#3d3d3d" stroke-width="0.6"/>
<path d="M62.31,375.50 C62.37,375.67 62.43,375.86 62.47,376.06 C62.51,376.27 62.54,376.49 62.53,376.72 C62.52,376.94 62.48,377.19 62.40,377.41 C62.32,377.64 62.19,377.87 62.03,378.05 C61.87,378.23 61.66,378.39 61.45,378.50 C61.23,378.61 60.97,378.68 60.73,378.70 C60.49,378.73 60.23,378.70 60.00,378.66 C59.77,378.61 59.54,378.52 59.33,378.43 C59.12,378.34 58.93,378.22 58.74,378.11 C58.56,378.00 58.38,377.88 58.21,377.75 C58.04,377.62 57.86,377.48 57.71,377.33 C57.55,377.17 57.39,377.01 57.26,376.82 C57.14,376.63 57.02,376.41 56.96,376.19 C56.90,375.97 56.87,375.73 56.88,375.50 C56.90,375.27 56.97,375.03 57.07,374.83 C57.18,374.63 57.33,374.44 57.49,374.29 C57.66,374.14 57.86,374.03 58.04,373.94 C58.23,373.85 58.43,373.80 58.60,373.75 C58.78,373.70 58.95,373.69 59.12,373.66 C59.28,373.64 59.42,373.63 59.57,373.61 C59.72,373.60 59.86,373.58 60.00,373.58 C60.14,373.58 60.29,373.57 60.44,373.59 C60.58,373.61 60.73,373.63 60.87,373.69 C61.01,373.74 61.15,373.81 61.28,373.90 C61.40,373.98 61.52,374.10 61.62,374.21 C61.72,374.33 61.80,374.46 61.88,374.59 C61.97,374.73 62.04,374.87 62.11,375.02 C62.18,375.17 62.25,375.33 62.31,375.50 Z" fill="none" stroke="#303030" stroke-width="0.6"/>
<ellipse cx="60.00" cy="375.50" rx="1.57" ry="1.57" fill="#fff"/>
<path d="M78.31,381.50 C78.39,381.91 78.47,382.34 78.47,382.78 C78.47,383.21 78.44,383.68 78.31,384.12 C78.19,384.56 78.00,385.01 77.74,385.41 C77.47,385.80 77.13,386.18 76.74,386.48 C76.36,386.78 75.90,387.03 75.44,387.22 C74.99,387.41 74.48,387.53 73.99,387.60 C73.50,387.67 72.99,387.68 72.50,387.66 C72.01,387.64 71.52,387.57 71.04,387.47 C70.57,387.37 70.09,387.24 69.63,387.07 C69.17,386.90 68.71,386.70 68.28,386.45 C67.85,386.20 67.43,385.90 67.06,385.56 C66.69,385.22 66.33,384.83 66.06,384.40 C65.78,383.98 65.56,383.50 65.41,383.01 C65.26,382.53 65.18,382.01 65.17,381.50 C65.16,380.99 65.23,380.47 65.36,379.97 C65.48,379.48 65.68,378.99 65.92,378.53 C66.16,378.08 66.46,377.64 66.80,377.25 C67.14,376.85 67.53,376.48 67.95,376.16 C68.37,375.85 68.85,375.56 69.34,375.35 C69.83,375.14 70.36,374.98 70.89,374.91 C71.42,374.83 71.98,374.82 72.50,374.89 C73.02,374.96 73.55,375.11 74.01,375.31 C74.47,375.51 74.91,375.80 75.28,376.09 C75.66,376.39 75.98,376.75 76.26,377.09 C76.54,377.44 76.76,377.81 76.97,378.17 C77.18,378.53 77.34,378.88 77.51,379.24 C77.67,379.61 77.82,379.96 77.95,380.34 C78.09,380.71 78.22,381.09 78.31,381.50 Z" fill="#d8d8d8" opacity="0.6"/>
<path d="M77.88,381.50 C77.96,381.88 78.03,382.28 78.03,382.68 C78.03,383.08 78.00,383.52 77.88,383.93 C77.77,384.33 77.59,384.75 77.35,385.12 C77.11,385.48 76.78,385.83 76.43,386.11 C76.08,386.39 75.65,386.62 75.23,386.80 C74.80,386.97 74.33,387.08 73.88,387.15 C73.42,387.21 72.95,387.22 72.50,387.20 C72.05,387.18 71.59,387.12 71.15,387.03 C70.71,386.94 70.27,386.82 69.84,386.66 C69.42,386.50 68.99,386.31 68.59,386.08 C68.20,385.85 67.80,385.58 67.46,385.26 C67.12,384.94 66.79,384.58 66.54,384.19 C66.28,383.79 66.07,383.35 65.93,382.90 C65.80,382.45 65.72,381.97 65.71,381.50 C65.71,381.03 65.77,380.55 65.89,380.09 C66.00,379.63 66.18,379.18 66.41,378.75 C66.63,378.33 66.91,377.93 67.22,377.56 C67.53,377.19 67.89,376.85 68.29,376.56 C68.68,376.27 69.12,376.00 69.57,375.81 C70.02,375.62 70.52,375.47 71.01,375.40 C71.50,375.32 72.02,375.32 72.50,375.38 C72.98,375.44 73.47,375.59 73.90,375.77 C74.33,375.96 74.73,376.22 75.08,376.49 C75.42,376.77 75.72,377.10 75.98,377.42 C76.24,377.74 76.44,378.08 76.64,378.41 C76.83,378.75 76.98,379.08 77.14,379.41 C77.29,379.75 77.43,380.07 77.55,380.42 C77.67,380.77 77.80,381.12 77.88,381.50 Z" fill="none" stroke="#a8a8a8" stroke-width="0.6"/>
<path d="M75.78,381.50 C75.84,381.73 75.90,381.98 75.91,382.23 C75.92,382.48 75.91,382.75 75.85,383.01 C75.78,383.26 75.68,383.53 75.53,383.76 C75.38,383.99 75.18,384.21 74.96,384.39 C74.74,384.56 74.47,384.71 74.21,384.82 C73.94,384.92 73.65,384.99 73.36,385.03 C73.08,385.07 72.78,385.07 72.50,385.06 C72.22,385.04 71.94,385.00 71.66,384.94 C71.38,384.89 71.11,384.81 70.84,384.72 C70.58,384.62 70.31,384.51 70.06,384.37 C69.80,384.23 69.55,384.06 69.33,383.86 C69.11,383.67 68.90,383.44 68.74,383.20 C68.57,382.95 68.44,382.67 68.35,382.39 C68.26,382.10 68.21,381.80 68.20,381.50 C68.20,381.20 68.24,380.90 68.31,380.61 C68.39,380.32 68.50,380.03 68.64,379.76 C68.78,379.50 68.96,379.24 69.16,379.01 C69.36,378.78 69.59,378.56 69.83,378.37 C70.08,378.19 70.36,378.02 70.65,377.90 C70.93,377.78 71.25,377.68 71.56,377.64 C71.87,377.60 72.20,377.60 72.50,377.65 C72.80,377.69 73.11,377.79 73.38,377.91 C73.64,378.04 73.89,378.21 74.10,378.39 C74.31,378.57 74.49,378.79 74.64,378.99 C74.79,379.20 74.91,379.41 75.02,379.62 C75.13,379.83 75.22,380.03 75.31,380.24 C75.40,380.44 75.48,380.64 75.56,380.85 C75.64,381.06 75.73,381.27 75.78,381.50 Z" fill="none" stroke="#949494" stroke-width="0.6"/>
<path d="M73.78,381.50 C73.81,381.59 73.84,381.69 73.84,381.79 C73.85,381.89 73.85,382.00 73.83,382.10 C73.81,382.20 73.77,382.31 73.71,382.40 C73.66,382.50 73.58,382.59 73.49,382.66 C73.40,382.73 73.29,382.79 73.18,382.83 C73.08,382.87 72.96,382.90 72.84,382.91 C72.73,382.93 72.61,382.92 72.50,382.92 C72.39,382.91 72.28,382.90 72.17,382.87 C72.05,382.85 71.95,382.82 71.84,382.78 C71.73,382.75 71.62,382.70 71.52,382.65 C71.42,382.59 71.32,382.53 71.23,382.45 C71.14,382.37 71.05,382.28 70.98,382.18 C70.91,382.09 70.86,381.97 70.82,381.86 C70.78,381.74 70.76,381.62 70.76,381.50 C70.76,381.38 70.77,381.26 70.80,381.14 C70.83,381.02 70.88,380.90 70.94,380.80 C71.00,380.69 71.07,380.58 71.15,380.49 C71.23,380.40 71.32,380.31 71.42,380.23 C71.52,380.16 71.63,380.09 71.75,380.04 C71.87,379.99 71.99,379.96 72.12,379.94 C72.24,379.92 72.38,379.93 72.50,379.95 C72.62,379.97 72.74,380.01 72.85,380.06 C72.96,380.12 73.05,380.19 73.14,380.26 C73.22,380.34 73.28,380.43 73.34,380.51 C73.40,380.60 73.44,380.69 73.48,380.77 C73.52,380.85 73.55,380.93 73.59,381.01 C73.62,381.09 73.66,381.16 73.69,381.25 C73.72,381.33 73.76,381.41 73.78,381.50 Z" fill="none" stroke="#808080" stroke-width="0.6"/>
<ellipse cx="72.50" cy="381.50" rx="0.93" ry="0.87" fill="#fff"/>
<path d="M49.5,384 L58,384 L60,391.4 L49.5,391.4 Z" fill="#9aa4b0" opacity="0.7"/>
<polyline points="49.50,357.90 66.30,357.90 76.40,368.30" fill="none" stroke="#8f9cb0" stroke-width="0.8" />
<polygon points="66.30,391.40 66.30,379.70 76.40,368.30 82.50,377.00 82.50,391.40" fill="none" stroke="#111" stroke-width="1.2" />
<text x="84.90" y="368.00" font-size="5.0" text-anchor="middle" fill="#4f7fae">9.72</text>
<text x="55.60" y="390.30" font-size="5.0" text-anchor="middle" fill="#345">90.3</text>
<rect x="49.50" y="348.80" width="42.90" height="42.60" fill="none" stroke="#333" stroke-width="1.1" />
<line x1="47.90" y1="349.23" x2="49.50" y2="349.23" stroke="#333" stroke-width="0.7" />
<text x="45.40" y="351.13" font-size="5.4" text-anchor="end" fill="#444" textLength="5.0" lengthAdjust="spacingAndGlyphs">10</text>
<text x="45.50" y="349.03" font-size="3.4" fill="#444">3</text>
<line x1="47.90" y1="359.88" x2="49.50" y2="359.88" stroke="#333" stroke-width="0.7" />
<text x="45.40" y="361.78" font-size="5.4" text-anchor="end" fill="#444" textLength="5.0" lengthAdjust="spacingAndGlyphs">10</text>
<text x="45.50" y="359.68" font-size="3.4" fill="#444">2</text>
<line x1="47.90" y1="369.89" x2="49.50" y2="369.89" stroke="#333" stroke-width="0.7" />
<text x="45.40" y="371.79" font-size="5.4" text-anchor="end" fill="#444" textLength="5.0" lengthAdjust="spacingAndGlyphs">10</text>
<text x="45.50" y="369.69" font-size="3.4" fill="#444">1</text>
<line x1="47.90" y1="380.32" x2="49.50" y2="380.32" stroke="#333" stroke-width="0.7" />
<text x="45.40" y="382.22" font-size="5.4" text-anchor="end" fill="#444" textLength="5.0" lengthAdjust="spacingAndGlyphs">10</text>
<text x="45.50" y="380.12" font-size="3.4" fill="#444">0</text>
<line x1="60.44" y1="391.40" x2="60.44" y2="393.00" stroke="#333" stroke-width="0.7" />
<text x="59.34" y="399.50" font-size="5.4" text-anchor="middle" fill="#444" textLength="5.0" lengthAdjust="spacingAndGlyphs">10</text>
<text x="61.94" y="397.40" font-size="3.4" fill="#444">0</text>
<line x1="70.52" y1="391.40" x2="70.52" y2="393.00" stroke="#333" stroke-width="0.7" />
<text x="69.42" y="399.50" font-size="5.4" text-anchor="middle" fill="#444" textLength="5.0" lengthAdjust="spacingAndGlyphs">10</text>
<text x="72.02" y="397.40" font-size="3.4" fill="#444">1</text>
<line x1="80.82" y1="391.40" x2="80.82" y2="393.00" stroke="#333" stroke-width="0.7" />
<text x="79.72" y="399.50" font-size="5.4" text-anchor="middle" fill="#444" textLength="5.0" lengthAdjust="spacingAndGlyphs">10</text>
<text x="82.32" y="397.40" font-size="3.4" fill="#444">2</text>
<line x1="91.97" y1="391.40" x2="91.97" y2="393.00" stroke="#333" stroke-width="0.7" />
<text x="90.87" y="399.50" font-size="5.4" text-anchor="middle" fill="#444" textLength="5.0" lengthAdjust="spacingAndGlyphs">10</text>
<text x="93.47" y="397.40" font-size="3.4" fill="#444">3</text>
<path d="M138.66,364.57 C138.97,365.00 139.21,365.50 139.36,366.03 C139.51,366.57 139.57,367.17 139.55,367.78 C139.52,368.39 139.40,369.05 139.22,369.69 C139.03,370.34 138.75,371.01 138.43,371.67 C138.12,372.32 137.73,372.97 137.30,373.61 C136.88,374.24 136.40,374.87 135.89,375.48 C135.38,376.09 134.82,376.69 134.22,377.27 C133.62,377.84 132.97,378.41 132.28,378.92 C131.60,379.43 130.85,379.93 130.10,380.32 C129.35,380.72 128.55,381.07 127.79,381.30 C127.02,381.54 126.23,381.68 125.52,381.72 C124.81,381.75 124.12,381.67 123.53,381.50 C122.93,381.34 122.40,381.06 121.95,380.73 C121.50,380.40 121.14,379.97 120.83,379.52 C120.53,379.08 120.30,378.57 120.12,378.04 C119.94,377.51 119.82,376.95 119.76,376.35 C119.69,375.76 119.67,375.13 119.73,374.47 C119.79,373.80 119.90,373.10 120.12,372.38 C120.33,371.65 120.63,370.88 121.03,370.12 C121.44,369.37 121.95,368.58 122.54,367.86 C123.14,367.13 123.85,366.41 124.58,365.78 C125.32,365.16 126.16,364.58 126.97,364.12 C127.79,363.65 128.66,363.27 129.47,362.98 C130.29,362.70 131.11,362.52 131.88,362.41 C132.64,362.31 133.37,362.30 134.05,362.34 C134.73,362.39 135.36,362.52 135.93,362.71 C136.51,362.89 137.03,363.14 137.49,363.45 C137.94,363.76 138.34,364.14 138.66,364.57 Z" fill="#b0b0b0" opacity="0.55"/>
<path d="M138.00,365.12 C138.29,365.52 138.52,365.98 138.65,366.47 C138.79,366.97 138.85,367.52 138.83,368.09 C138.80,368.65 138.69,369.27 138.52,369.87 C138.35,370.47 138.09,371.09 137.79,371.69 C137.50,372.29 137.14,372.90 136.75,373.49 C136.35,374.07 135.91,374.66 135.44,375.22 C134.96,375.79 134.45,376.35 133.89,376.88 C133.34,377.41 132.73,377.94 132.10,378.41 C131.46,378.88 130.77,379.34 130.08,379.71 C129.39,380.07 128.64,380.40 127.93,380.61 C127.23,380.83 126.50,380.97 125.84,381.00 C125.18,381.03 124.54,380.95 123.99,380.80 C123.44,380.65 122.95,380.38 122.53,380.08 C122.12,379.77 121.78,379.38 121.50,378.97 C121.22,378.55 121.01,378.08 120.84,377.59 C120.67,377.10 120.56,376.58 120.50,376.03 C120.44,375.48 120.42,374.90 120.47,374.28 C120.53,373.67 120.63,373.02 120.83,372.35 C121.03,371.68 121.31,370.96 121.68,370.26 C122.06,369.57 122.53,368.83 123.08,368.16 C123.63,367.49 124.29,366.82 124.97,366.24 C125.65,365.67 126.43,365.13 127.18,364.70 C127.94,364.27 128.74,363.92 129.50,363.65 C130.25,363.39 131.02,363.22 131.72,363.12 C132.43,363.02 133.11,363.01 133.74,363.06 C134.36,363.10 134.95,363.22 135.48,363.39 C136.01,363.56 136.50,363.80 136.92,364.09 C137.34,364.37 137.71,364.72 138.00,365.12 Z" fill="none" stroke="#909090" stroke-width="0.6"/>
<path d="M136.74,366.18 C136.98,366.52 137.17,366.91 137.28,367.33 C137.40,367.75 137.44,368.22 137.41,368.70 C137.39,369.18 137.29,369.70 137.14,370.20 C136.98,370.71 136.76,371.23 136.51,371.74 C136.26,372.25 135.95,372.75 135.62,373.25 C135.29,373.74 134.93,374.23 134.53,374.70 C134.13,375.18 133.71,375.65 133.24,376.10 C132.78,376.56 132.28,377.01 131.74,377.42 C131.21,377.82 130.63,378.22 130.04,378.54 C129.45,378.86 128.81,379.15 128.21,379.34 C127.61,379.53 126.98,379.65 126.42,379.67 C125.86,379.70 125.32,379.63 124.85,379.50 C124.38,379.37 123.97,379.14 123.62,378.87 C123.27,378.61 122.99,378.26 122.76,377.91 C122.52,377.55 122.35,377.15 122.21,376.74 C122.07,376.32 121.98,375.88 121.92,375.41 C121.86,374.95 121.83,374.46 121.87,373.94 C121.91,373.42 121.98,372.87 122.14,372.30 C122.30,371.72 122.52,371.11 122.83,370.51 C123.15,369.91 123.55,369.27 124.01,368.70 C124.48,368.12 125.05,367.53 125.64,367.04 C126.22,366.54 126.89,366.08 127.54,365.71 C128.19,365.34 128.89,365.05 129.54,364.83 C130.19,364.61 130.84,364.48 131.44,364.40 C132.05,364.33 132.62,364.33 133.15,364.38 C133.68,364.43 134.18,364.54 134.63,364.69 C135.07,364.84 135.48,365.04 135.84,365.29 C136.19,365.54 136.50,365.84 136.74,366.18 Z" fill="none" stroke="#7b7b7b" stroke-width="0.6"/>
<path d="M135.49,367.22 C135.69,367.50 135.84,367.83 135.93,368.18 C136.02,368.52 136.05,368.91 136.02,369.30 C136.00,369.70 135.91,370.12 135.78,370.54 C135.65,370.95 135.46,371.38 135.25,371.79 C135.05,372.20 134.79,372.61 134.53,373.01 C134.26,373.41 133.96,373.81 133.64,374.19 C133.32,374.58 132.98,374.97 132.61,375.34 C132.23,375.72 131.83,376.10 131.39,376.44 C130.96,376.78 130.48,377.11 130.00,377.38 C129.51,377.65 128.99,377.90 128.49,378.06 C127.99,378.22 127.47,378.32 127.01,378.34 C126.55,378.37 126.10,378.31 125.71,378.19 C125.33,378.08 124.99,377.88 124.71,377.66 C124.43,377.44 124.20,377.15 124.01,376.85 C123.83,376.56 123.69,376.23 123.58,375.88 C123.46,375.54 123.38,375.18 123.33,374.80 C123.28,374.42 123.25,374.03 123.27,373.60 C123.29,373.17 123.34,372.72 123.46,372.25 C123.58,371.77 123.76,371.26 124.01,370.76 C124.26,370.26 124.59,369.73 124.97,369.24 C125.36,368.76 125.83,368.27 126.32,367.86 C126.81,367.44 127.37,367.06 127.92,366.75 C128.46,366.45 129.04,366.21 129.58,366.03 C130.12,365.86 130.67,365.76 131.16,365.70 C131.66,365.65 132.14,365.66 132.57,365.71 C133.00,365.75 133.41,365.85 133.77,365.98 C134.14,366.11 134.47,366.28 134.76,366.49 C135.04,366.70 135.30,366.94 135.49,367.22 Z" fill="none" stroke="#666666" stroke-width="0.6"/>
<path d="M134.25,368.26 C134.40,368.48 134.52,368.74 134.59,369.01 C134.65,369.28 134.67,369.59 134.65,369.90 C134.63,370.21 134.55,370.54 134.45,370.86 C134.34,371.18 134.19,371.52 134.03,371.84 C133.86,372.16 133.67,372.47 133.46,372.78 C133.25,373.09 133.02,373.40 132.78,373.70 C132.53,374.00 132.27,374.31 131.98,374.60 C131.69,374.89 131.38,375.19 131.04,375.47 C130.70,375.74 130.33,376.01 129.95,376.22 C129.57,376.44 129.16,376.64 128.77,376.77 C128.37,376.90 127.96,376.98 127.60,377.00 C127.23,377.02 126.88,376.97 126.58,376.88 C126.28,376.79 126.02,376.63 125.80,376.45 C125.58,376.27 125.41,376.04 125.26,375.81 C125.12,375.57 125.02,375.31 124.93,375.04 C124.84,374.77 124.77,374.49 124.73,374.20 C124.69,373.90 124.66,373.59 124.67,373.26 C124.68,372.92 124.70,372.57 124.79,372.19 C124.88,371.82 125.01,371.41 125.21,371.02 C125.40,370.62 125.66,370.19 125.96,369.81 C126.26,369.42 126.64,369.03 127.03,368.70 C127.42,368.37 127.87,368.06 128.30,367.82 C128.74,367.59 129.20,367.40 129.63,367.26 C130.06,367.13 130.49,367.06 130.88,367.02 C131.27,366.98 131.64,367.00 131.98,367.04 C132.32,367.08 132.64,367.17 132.92,367.27 C133.20,367.38 133.46,367.52 133.68,367.68 C133.91,367.85 134.10,368.04 134.25,368.26 Z" fill="none" stroke="#515151" stroke-width="0.6"/>
<path d="M133.03,369.29 C133.13,369.46 133.22,369.64 133.26,369.84 C133.31,370.04 133.32,370.26 133.30,370.48 C133.28,370.71 133.22,370.95 133.14,371.18 C133.07,371.41 132.96,371.65 132.84,371.88 C132.72,372.11 132.57,372.34 132.42,372.56 C132.27,372.78 132.11,373.00 131.94,373.22 C131.76,373.44 131.58,373.66 131.37,373.87 C131.16,374.09 130.94,374.31 130.70,374.51 C130.46,374.71 130.19,374.91 129.91,375.07 C129.64,375.23 129.33,375.38 129.05,375.48 C128.76,375.57 128.46,375.64 128.19,375.65 C127.93,375.66 127.67,375.63 127.45,375.56 C127.23,375.49 127.04,375.37 126.89,375.24 C126.73,375.11 126.61,374.93 126.51,374.76 C126.41,374.59 126.33,374.40 126.27,374.20 C126.21,374.01 126.16,373.81 126.12,373.59 C126.09,373.38 126.06,373.16 126.07,372.91 C126.07,372.67 126.08,372.41 126.14,372.14 C126.20,371.87 126.29,371.57 126.43,371.28 C126.57,370.99 126.75,370.67 126.97,370.39 C127.19,370.10 127.47,369.81 127.76,369.57 C128.04,369.32 128.38,369.10 128.70,368.92 C129.02,368.75 129.36,368.62 129.67,368.52 C129.99,368.43 130.30,368.38 130.59,368.35 C130.88,368.33 131.15,368.35 131.39,368.38 C131.64,368.42 131.86,368.48 132.07,368.56 C132.27,368.64 132.46,368.75 132.62,368.87 C132.78,368.99 132.92,369.13 133.03,369.29 Z" fill="none" stroke="#3c3c3c" stroke-width="0.6"/>
<path d="M131.81,370.32 C131.87,370.42 131.92,370.53 131.95,370.66 C131.98,370.78 131.98,370.92 131.97,371.06 C131.96,371.20 131.92,371.35 131.87,371.49 C131.82,371.64 131.75,371.79 131.67,371.93 C131.60,372.07 131.51,372.21 131.41,372.35 C131.32,372.48 131.22,372.62 131.12,372.75 C131.01,372.89 130.90,373.02 130.77,373.16 C130.64,373.29 130.51,373.43 130.36,373.56 C130.21,373.68 130.04,373.81 129.87,373.92 C129.70,374.02 129.51,374.12 129.33,374.18 C129.15,374.24 128.96,374.28 128.79,374.29 C128.63,374.30 128.46,374.28 128.33,374.23 C128.19,374.19 128.08,374.11 127.98,374.02 C127.88,373.94 127.81,373.83 127.75,373.72 C127.68,373.61 127.64,373.49 127.60,373.37 C127.56,373.25 127.53,373.13 127.51,372.99 C127.49,372.86 127.47,372.72 127.47,372.57 C127.46,372.42 127.47,372.26 127.50,372.09 C127.54,371.92 127.59,371.73 127.67,371.54 C127.76,371.36 127.87,371.16 128.01,370.98 C128.15,370.80 128.32,370.61 128.51,370.46 C128.69,370.30 128.90,370.16 129.10,370.05 C129.30,369.94 129.52,369.86 129.72,369.80 C129.92,369.75 130.12,369.72 130.30,369.71 C130.48,369.69 130.64,369.71 130.80,369.73 C130.95,369.76 131.09,369.80 131.22,369.85 C131.34,369.91 131.46,369.97 131.56,370.05 C131.65,370.12 131.74,370.21 131.81,370.32 Z" fill="none" stroke="#282828" stroke-width="0.6"/>
<path d="M134.5,366.5 Q133,372 127.5,376.5" fill="none" stroke="#222" stroke-width="1.6"/>
<path d="M143.79,377.30 C143.82,377.83 143.78,378.39 143.68,378.91 C143.59,379.43 143.42,379.95 143.21,380.43 C143.00,380.90 142.73,381.35 142.44,381.74 C142.15,382.14 141.81,382.50 141.45,382.80 C141.10,383.10 140.71,383.36 140.31,383.57 C139.92,383.77 139.49,383.92 139.07,384.00 C138.66,384.09 138.22,384.11 137.80,384.07 C137.38,384.03 136.96,383.92 136.57,383.76 C136.18,383.59 135.81,383.36 135.47,383.09 C135.14,382.83 134.84,382.50 134.57,382.16 C134.30,381.82 134.07,381.44 133.87,381.06 C133.66,380.68 133.49,380.28 133.34,379.87 C133.20,379.47 133.07,379.05 132.97,378.62 C132.87,378.19 132.79,377.75 132.75,377.30 C132.72,376.85 132.70,376.38 132.74,375.92 C132.79,375.45 132.87,374.97 133.01,374.53 C133.15,374.09 133.35,373.65 133.59,373.27 C133.83,372.90 134.14,372.55 134.46,372.28 C134.78,372.00 135.16,371.79 135.53,371.64 C135.90,371.49 136.29,371.41 136.67,371.37 C137.05,371.33 137.43,371.35 137.80,371.39 C138.17,371.43 138.53,371.52 138.88,371.61 C139.24,371.71 139.58,371.83 139.93,371.98 C140.28,372.13 140.64,372.30 140.98,372.52 C141.32,372.74 141.67,372.99 141.99,373.29 C142.30,373.60 142.62,373.96 142.87,374.37 C143.12,374.78 143.35,375.25 143.50,375.74 C143.66,376.23 143.76,376.77 143.79,377.30 Z" fill="#d4d4d4" opacity="0.6"/>
<path d="M143.35,377.30 C143.37,377.79 143.34,378.31 143.25,378.79 C143.16,379.27 143.00,379.76 142.81,380.19 C142.62,380.63 142.37,381.05 142.10,381.41 C141.83,381.78 141.51,382.11 141.18,382.39 C140.86,382.67 140.50,382.92 140.13,383.10 C139.76,383.29 139.37,383.43 138.98,383.51 C138.59,383.58 138.19,383.61 137.80,383.57 C137.41,383.53 137.02,383.43 136.66,383.28 C136.30,383.13 135.96,382.91 135.65,382.66 C135.34,382.42 135.06,382.12 134.81,381.80 C134.56,381.49 134.35,381.14 134.16,380.78 C133.97,380.43 133.81,380.06 133.67,379.68 C133.54,379.31 133.42,378.92 133.33,378.52 C133.24,378.13 133.16,377.72 133.13,377.30 C133.09,376.88 133.08,376.44 133.12,376.02 C133.16,375.59 133.23,375.14 133.36,374.74 C133.49,374.33 133.68,373.92 133.90,373.57 C134.13,373.22 134.41,372.90 134.71,372.65 C135.01,372.40 135.36,372.20 135.70,372.06 C136.04,371.92 136.41,371.85 136.76,371.81 C137.11,371.77 137.46,371.79 137.80,371.83 C138.14,371.87 138.47,371.94 138.80,372.04 C139.13,372.13 139.45,372.24 139.78,372.38 C140.10,372.52 140.43,372.67 140.74,372.87 C141.06,373.07 141.38,373.31 141.68,373.59 C141.97,373.88 142.26,374.21 142.49,374.59 C142.73,374.97 142.94,375.40 143.08,375.85 C143.22,376.31 143.32,376.81 143.35,377.30 Z" fill="none" stroke="#a8a8a8" stroke-width="0.6"/>
<path d="M141.32,377.30 C141.34,377.61 141.31,377.94 141.26,378.25 C141.20,378.55 141.10,378.86 140.98,379.14 C140.85,379.41 140.69,379.67 140.52,379.90 C140.35,380.14 140.15,380.34 139.94,380.52 C139.73,380.70 139.50,380.85 139.27,380.96 C139.04,381.08 138.79,381.17 138.54,381.21 C138.30,381.26 138.04,381.27 137.80,381.24 C137.56,381.22 137.31,381.15 137.09,381.05 C136.86,380.95 136.65,380.81 136.46,380.65 C136.27,380.49 136.09,380.30 135.94,380.10 C135.79,379.90 135.66,379.68 135.55,379.45 C135.43,379.23 135.34,379.00 135.26,378.77 C135.17,378.54 135.10,378.30 135.04,378.05 C134.99,377.81 134.94,377.56 134.91,377.30 C134.89,377.04 134.87,376.77 134.89,376.50 C134.91,376.24 134.95,375.96 135.03,375.70 C135.11,375.45 135.23,375.19 135.36,374.97 C135.50,374.75 135.68,374.55 135.87,374.40 C136.06,374.24 136.28,374.12 136.49,374.04 C136.71,373.96 136.94,373.92 137.15,373.90 C137.37,373.88 137.59,373.90 137.80,373.93 C138.01,373.96 138.21,374.01 138.42,374.06 C138.62,374.12 138.82,374.19 139.02,374.27 C139.22,374.35 139.42,374.44 139.62,374.56 C139.82,374.68 140.03,374.81 140.22,374.99 C140.41,375.16 140.60,375.36 140.75,375.59 C140.90,375.83 141.04,376.10 141.14,376.39 C141.23,376.67 141.30,376.99 141.32,377.30 Z" fill="none" stroke="#949494" stroke-width="0.6"/>
<path d="M139.23,377.30 C139.24,377.43 139.23,377.56 139.20,377.68 C139.18,377.81 139.14,377.93 139.09,378.05 C139.04,378.16 138.97,378.26 138.90,378.36 C138.83,378.45 138.75,378.53 138.67,378.60 C138.58,378.67 138.49,378.73 138.39,378.78 C138.30,378.83 138.20,378.86 138.10,378.88 C138.00,378.90 137.90,378.90 137.80,378.89 C137.70,378.88 137.60,378.85 137.51,378.80 C137.42,378.76 137.34,378.70 137.26,378.64 C137.19,378.57 137.12,378.49 137.06,378.41 C137.00,378.33 136.95,378.24 136.91,378.15 C136.87,378.06 136.83,377.97 136.80,377.88 C136.76,377.79 136.74,377.69 136.71,377.60 C136.69,377.50 136.67,377.40 136.66,377.30 C136.65,377.20 136.64,377.09 136.64,376.98 C136.65,376.88 136.67,376.76 136.70,376.66 C136.73,376.56 136.77,376.46 136.83,376.37 C136.88,376.28 136.95,376.20 137.03,376.14 C137.10,376.08 137.19,376.03 137.28,376.00 C137.37,375.97 137.46,375.96 137.54,375.95 C137.63,375.95 137.72,375.96 137.80,375.97 C137.88,375.98 137.96,376.01 138.04,376.03 C138.12,376.05 138.20,376.07 138.28,376.11 C138.36,376.14 138.44,376.17 138.52,376.21 C138.60,376.26 138.69,376.31 138.77,376.38 C138.84,376.44 138.92,376.52 138.99,376.61 C139.05,376.71 139.11,376.82 139.15,376.93 C139.19,377.04 139.22,377.17 139.23,377.30 Z" fill="none" stroke="#808080" stroke-width="0.6"/>
<ellipse cx="137.80" cy="377.30" rx="0.75" ry="0.90" fill="#fff"/>
<line x1="121.00" y1="391.00" x2="133.00" y2="379.00" stroke="#c8c8c8" stroke-width="0.8" />
<polyline points="118.80,357.20 134.30,357.20 142.80,366.90" fill="none" stroke="#8f9cb0" stroke-width="0.8" />
<polygon points="133.00,391.40 133.00,379.00 142.80,366.90 149.50,376.00 149.50,391.40" fill="none" stroke="#111" stroke-width="1.2" />
<path d="M118.80,362.00 Q121.36,376.00 118.80,390.00 Z" fill="#1a1a1a"/>
<rect x="118.80" y="364.00" width="1.12" height="24.00" fill="#1a1a1a"/>
<path d="M118.8,385 L124,387 L126,391.4 L118.8,391.4 Z" fill="#8a96a4" opacity="0.7"/>
<text x="151.10" y="368.00" font-size="5.0" text-anchor="middle" fill="#4f7fae">2.89</text>
<rect x="118.80" y="349.20" width="43.40" height="42.20" fill="none" stroke="#333" stroke-width="1.1" />
<line x1="117.20" y1="349.62" x2="118.80" y2="349.62" stroke="#333" stroke-width="0.7" />
<text x="114.70" y="351.52" font-size="5.4" text-anchor="end" fill="#444" textLength="5.0" lengthAdjust="spacingAndGlyphs">10</text>
<text x="114.80" y="349.42" font-size="3.4" fill="#444">3</text>
<line x1="117.20" y1="360.17" x2="118.80" y2="360.17" stroke="#333" stroke-width="0.7" />
<text x="114.70" y="362.07" font-size="5.4" text-anchor="end" fill="#444" textLength="5.0" lengthAdjust="spacingAndGlyphs">10</text>
<text x="114.80" y="359.97" font-size="3.4" fill="#444">2</text>
<line x1="117.20" y1="370.09" x2="118.80" y2="370.09" stroke="#333" stroke-width="0.7" />
<text x="114.70" y="371.99" font-size="5.4" text-anchor="end" fill="#444" textLength="5.0" lengthAdjust="spacingAndGlyphs">10</text>
<text x="114.80" y="369.89" font-size="3.4" fill="#444">1</text>
<line x1="117.20" y1="380.43" x2="118.80" y2="380.43" stroke="#333" stroke-width="0.7" />
<text x="114.70" y="382.33" font-size="5.4" text-anchor="end" fill="#444" textLength="5.0" lengthAdjust="spacingAndGlyphs">10</text>
<text x="114.80" y="380.23" font-size="3.4" fill="#444">0</text>
<line x1="129.87" y1="391.40" x2="129.87" y2="393.00" stroke="#333" stroke-width="0.7" />
<text x="128.77" y="399.50" font-size="5.4" text-anchor="middle" fill="#444" textLength="5.0" lengthAdjust="spacingAndGlyphs">10</text>
<text x="131.37" y="397.40" font-size="3.4" fill="#444">0</text>
<line x1="140.07" y1="391.40" x2="140.07" y2="393.00" stroke="#333" stroke-width="0.7" />
<text x="138.97" y="399.50" font-size="5.4" text-anchor="middle" fill="#444" textLength="5.0" lengthAdjust="spacingAndGlyphs">10</text>
<text x="141.57" y="397.40" font-size="3.4" fill="#444">1</text>
<line x1="150.48" y1="391.40" x2="150.48" y2="393.00" stroke="#333" stroke-width="0.7" />
<text x="149.38" y="399.50" font-size="5.4" text-anchor="middle" fill="#444" textLength="5.0" lengthAdjust="spacingAndGlyphs">10</text>
<text x="151.98" y="397.40" font-size="3.4" fill="#444">2</text>
<line x1="161.77" y1="391.40" x2="161.77" y2="393.00" stroke="#333" stroke-width="0.7" />
<text x="160.67" y="399.50" font-size="5.4" text-anchor="middle" fill="#444" textLength="5.0" lengthAdjust="spacingAndGlyphs">10</text>
<text x="163.27" y="397.40" font-size="3.4" fill="#444">3</text>
<path d="M50.50,436.50 C51.42,434.58 54.08,434.92 56.00,434.50 C57.92,434.08 60.33,434.00 62.00,434.00 C63.67,434.00 65.75,433.17 66.00,434.50 C66.25,435.83 64.25,439.42 63.50,442.00 C62.75,444.58 62.25,447.25 61.50,450.00 C60.75,452.75 60.08,456.67 59.00,458.50 C57.92,460.33 56.25,461.42 55.00,461.00 C53.75,460.58 52.25,458.50 51.50,456.00 C50.75,453.50 50.67,449.25 50.50,446.00 C50.33,442.75 49.58,438.42 50.50,436.50 Z" fill="#a8a8a8" opacity="0.55"/>
<path d="M50.50,436.50 C51.42,434.58 54.08,434.92 56.00,434.50 C57.92,434.08 60.33,434.00 62.00,434.00 C63.67,434.00 65.75,433.17 66.00,434.50 C66.25,435.83 64.25,439.42 63.50,442.00 C62.75,444.58 62.25,447.25 61.50,450.00 C60.75,452.75 60.08,456.67 59.00,458.50 C57.92,460.33 56.25,461.42 55.00,461.00 C53.75,460.58 52.25,458.50 51.50,456.00 C50.75,453.50 50.67,449.25 50.50,446.00 C50.33,442.75 49.58,438.42 50.50,436.50 Z" fill="none" stroke="#606060" stroke-width="0.6"/>
<path d="M51.48,437.69 C52.27,436.04 54.56,436.33 56.21,435.97 C57.86,435.61 59.94,435.54 61.37,435.54 C62.80,435.54 64.59,434.82 64.81,435.97 C65.03,437.12 63.30,440.20 62.66,442.42 C62.01,444.64 61.58,446.94 60.94,449.30 C60.30,451.67 59.72,455.03 58.79,456.61 C57.86,458.19 56.42,459.12 55.35,458.76 C54.28,458.40 52.98,456.61 52.34,454.46 C51.70,452.31 51.62,448.66 51.48,445.86 C51.34,443.06 50.69,439.34 51.48,437.69 Z" fill="none" stroke="#535353" stroke-width="0.6"/>
<path d="M52.46,438.88 C53.12,437.50 55.04,437.74 56.42,437.44 C57.80,437.14 59.54,437.08 60.74,437.08 C61.94,437.08 63.44,436.48 63.62,437.44 C63.80,438.40 62.36,440.98 61.82,442.84 C61.28,444.70 60.92,446.62 60.38,448.60 C59.84,450.58 59.36,453.40 58.58,454.72 C57.80,456.04 56.60,456.82 55.70,456.52 C54.80,456.22 53.72,454.72 53.18,452.92 C52.64,451.12 52.58,448.06 52.46,445.72 C52.34,443.38 51.80,440.26 52.46,438.88 Z" fill="none" stroke="#464646" stroke-width="0.6"/>
<path d="M53.44,440.07 C53.97,438.96 55.52,439.15 56.63,438.91 C57.74,438.67 59.14,438.62 60.11,438.62 C61.08,438.62 62.28,438.14 62.43,438.91 C62.58,439.68 61.42,441.76 60.98,443.26 C60.55,444.76 60.26,446.30 59.82,447.90 C59.38,449.50 59.00,451.77 58.37,452.83 C57.74,453.89 56.77,454.52 56.05,454.28 C55.32,454.04 54.45,452.83 54.02,451.38 C53.58,449.93 53.54,447.46 53.44,445.58 C53.34,443.69 52.91,441.18 53.44,440.07 Z" fill="none" stroke="#393939" stroke-width="0.6"/>
<path d="M54.42,441.26 C54.82,440.42 56.00,440.56 56.84,440.38 C57.68,440.20 58.75,440.16 59.48,440.16 C60.21,440.16 61.13,439.79 61.24,440.38 C61.35,440.97 60.47,442.54 60.14,443.68 C59.81,444.82 59.59,445.99 59.26,447.20 C58.93,448.41 58.64,450.13 58.16,450.94 C57.68,451.75 56.95,452.22 56.40,452.04 C55.85,451.86 55.19,450.94 54.86,449.84 C54.53,448.74 54.49,446.87 54.42,445.44 C54.35,444.01 54.02,442.10 54.42,441.26 Z" fill="none" stroke="#2c2c2c" stroke-width="0.6"/>
<path d="M55.40,442.45 C55.67,441.88 56.47,441.98 57.05,441.85 C57.62,441.73 58.35,441.70 58.85,441.70 C59.35,441.70 59.97,441.45 60.05,441.85 C60.12,442.25 59.52,443.33 59.30,444.10 C59.07,444.88 58.93,445.68 58.70,446.50 C58.48,447.32 58.28,448.50 57.95,449.05 C57.62,449.60 57.12,449.93 56.75,449.80 C56.38,449.68 55.93,449.05 55.70,448.30 C55.48,447.55 55.45,446.28 55.40,445.30 C55.35,444.32 55.12,443.02 55.40,442.45 Z" fill="none" stroke="#202020" stroke-width="0.6"/>
<path d="M63.5,437 Q62,446 58.5,455" fill="none" stroke="#222" stroke-width="1.3"/>
<path d="M49.50,433.00 Q52.70,447.50 49.50,462.00 Z" fill="#1a1a1a"/>
<rect x="49.50" y="435.00" width="1.40" height="25.00" fill="#1a1a1a"/>
<line x1="68.60" y1="446.20" x2="68.60" y2="466.80" stroke="#c4c4c4" stroke-width="0.8" />
<rect x="68.60" y="424.20" width="23.60" height="22.00" fill="none" stroke="#333" stroke-width="1.1" />
<text x="54.90" y="429.60" font-size="5.0" text-anchor="middle" fill="#4f7fae">53.6</text>
<text x="83.80" y="430.10" font-size="5.0" text-anchor="middle" fill="#555">0.267</text>
<text x="52.20" y="466.80" font-size="5.0" text-anchor="middle" fill="#4f7fae">46</text>
<text x="83.80" y="466.80" font-size="5.0" text-anchor="middle" fill="#4f7fae">0.0811</text>
<rect x="49.50" y="424.20" width="42.70" height="42.60" fill="none" stroke="#333" stroke-width="1.1" />
<line x1="47.90" y1="424.63" x2="49.50" y2="424.63" stroke="#333" stroke-width="0.7" />
<text x="45.40" y="426.53" font-size="5.4" text-anchor="end" fill="#444" textLength="5.0" lengthAdjust="spacingAndGlyphs">10</text>
<text x="45.50" y="424.43" font-size="3.4" fill="#444">3</text>
<line x1="47.90" y1="435.28" x2="49.50" y2="435.28" stroke="#333" stroke-width="0.7" />
<text x="45.40" y="437.18" font-size="5.4" text-anchor="end" fill="#444" textLength="5.0" lengthAdjust="spacingAndGlyphs">10</text>
<text x="45.50" y="435.08" font-size="3.4" fill="#444">2</text>
<line x1="47.90" y1="445.29" x2="49.50" y2="445.29" stroke="#333" stroke-width="0.7" />
<text x="45.40" y="447.19" font-size="5.4" text-anchor="end" fill="#444" textLength="5.0" lengthAdjust="spacingAndGlyphs">10</text>
<text x="45.50" y="445.09" font-size="3.4" fill="#444">1</text>
<line x1="47.90" y1="455.72" x2="49.50" y2="455.72" stroke="#333" stroke-width="0.7" />
<text x="45.40" y="457.62" font-size="5.4" text-anchor="end" fill="#444" textLength="5.0" lengthAdjust="spacingAndGlyphs">10</text>
<text x="45.50" y="455.52" font-size="3.4" fill="#444">0</text>
<line x1="60.39" y1="466.80" x2="60.39" y2="468.40" stroke="#333" stroke-width="0.7" />
<text x="59.29" y="474.90" font-size="5.4" text-anchor="middle" fill="#444" textLength="5.0" lengthAdjust="spacingAndGlyphs">10</text>
<text x="61.89" y="472.80" font-size="3.4" fill="#444">0</text>
<line x1="70.42" y1="466.80" x2="70.42" y2="468.40" stroke="#333" stroke-width="0.7" />
<text x="69.32" y="474.90" font-size="5.4" text-anchor="middle" fill="#444" textLength="5.0" lengthAdjust="spacingAndGlyphs">10</text>
<text x="71.92" y="472.80" font-size="3.4" fill="#444">1</text>
<line x1="80.67" y1="466.80" x2="80.67" y2="468.40" stroke="#333" stroke-width="0.7" />
<text x="79.57" y="474.90" font-size="5.4" text-anchor="middle" fill="#444" textLength="5.0" lengthAdjust="spacingAndGlyphs">10</text>
<text x="82.17" y="472.80" font-size="3.4" fill="#444">2</text>
<line x1="91.77" y1="466.80" x2="91.77" y2="468.40" stroke="#333" stroke-width="0.7" />
<text x="90.67" y="474.90" font-size="5.4" text-anchor="middle" fill="#444" textLength="5.0" lengthAdjust="spacingAndGlyphs">10</text>
<text x="93.27" y="472.80" font-size="3.4" fill="#444">3</text>
<path d="M121.50,462.00 C120.42,460.25 120.25,455.33 120.50,452.00 C120.75,448.67 121.75,444.83 123.00,442.00 C124.25,439.17 126.17,436.42 128.00,435.00 C129.83,433.58 132.75,433.00 134.00,433.50 C135.25,434.00 135.67,435.75 135.50,438.00 C135.33,440.25 133.75,444.00 133.00,447.00 C132.25,450.00 132.00,453.42 131.00,456.00 C130.00,458.58 128.58,461.50 127.00,462.50 C125.42,463.50 122.58,463.75 121.50,462.00 Z" fill="#b8b8b8" opacity="0.6"/>
<path d="M121.50,462.00 C120.42,460.25 120.25,455.33 120.50,452.00 C120.75,448.67 121.75,444.83 123.00,442.00 C124.25,439.17 126.17,436.42 128.00,435.00 C129.83,433.58 132.75,433.00 134.00,433.50 C135.25,434.00 135.67,435.75 135.50,438.00 C135.33,440.25 133.75,444.00 133.00,447.00 C132.25,450.00 132.00,453.42 131.00,456.00 C130.00,458.58 128.58,461.50 127.00,462.50 C125.42,463.50 122.58,463.75 121.50,462.00 Z" fill="none" stroke="#808080" stroke-width="0.6"/>
<path d="M122.37,460.13 C121.43,458.62 121.28,454.36 121.50,451.47 C121.72,448.58 122.58,445.26 123.67,442.80 C124.75,440.34 126.41,437.96 128.00,436.73 C129.59,435.51 132.12,435.00 133.20,435.43 C134.28,435.87 134.64,437.38 134.50,439.33 C134.36,441.28 132.98,444.53 132.33,447.13 C131.68,449.73 131.47,452.69 130.60,454.93 C129.73,457.17 128.51,459.70 127.13,460.57 C125.76,461.43 123.31,461.65 122.37,460.13 Z" fill="none" stroke="#757575" stroke-width="0.6"/>
<path d="M123.23,458.27 C122.44,456.98 122.32,453.38 122.50,450.93 C122.68,448.49 123.42,445.68 124.33,443.60 C125.25,441.52 126.66,439.51 128.00,438.47 C129.34,437.43 131.48,437.00 132.40,437.37 C133.32,437.73 133.62,439.02 133.50,440.67 C133.38,442.32 132.22,445.07 131.67,447.27 C131.12,449.47 130.93,451.97 130.20,453.87 C129.47,455.76 128.43,457.90 127.27,458.63 C126.11,459.37 124.03,459.55 123.23,458.27 Z" fill="none" stroke="#6a6a6a" stroke-width="0.6"/>
<path d="M124.10,456.40 C123.45,455.35 123.35,452.40 123.50,450.40 C123.65,448.40 124.25,446.10 125.00,444.40 C125.75,442.70 126.90,441.05 128.00,440.20 C129.10,439.35 130.85,439.00 131.60,439.30 C132.35,439.60 132.60,440.65 132.50,442.00 C132.40,443.35 131.45,445.60 131.00,447.40 C130.55,449.20 130.40,451.25 129.80,452.80 C129.20,454.35 128.35,456.10 127.40,456.70 C126.45,457.30 124.75,457.45 124.10,456.40 Z" fill="none" stroke="#606060" stroke-width="0.6"/>
<path d="M132.77,444.70 C132.63,445.17 132.46,445.63 132.27,446.07 C132.09,446.50 131.88,446.92 131.66,447.30 C131.44,447.69 131.19,448.05 130.94,448.37 C130.69,448.69 130.43,448.98 130.16,449.22 C129.89,449.46 129.61,449.66 129.33,449.79 C129.06,449.93 128.78,450.01 128.51,450.03 C128.25,450.06 127.99,450.01 127.76,449.92 C127.53,449.82 127.31,449.66 127.12,449.46 C126.94,449.25 126.77,448.99 126.64,448.71 C126.50,448.43 126.39,448.10 126.31,447.76 C126.22,447.43 126.16,447.06 126.12,446.68 C126.08,446.31 126.06,445.92 126.06,445.52 C126.06,445.12 126.07,444.70 126.12,444.28 C126.16,443.85 126.22,443.41 126.31,442.97 C126.40,442.53 126.51,442.08 126.66,441.64 C126.80,441.20 126.97,440.75 127.17,440.34 C127.37,439.94 127.60,439.53 127.84,439.19 C128.08,438.84 128.35,438.52 128.62,438.26 C128.90,438.00 129.19,437.78 129.47,437.62 C129.75,437.47 130.04,437.36 130.32,437.32 C130.60,437.27 130.87,437.28 131.13,437.34 C131.39,437.41 131.63,437.52 131.86,437.69 C132.08,437.86 132.29,438.08 132.47,438.35 C132.64,438.61 132.80,438.93 132.92,439.29 C133.04,439.64 133.13,440.05 133.19,440.47 C133.24,440.89 133.26,441.36 133.25,441.82 C133.23,442.29 133.18,442.78 133.10,443.26 C133.02,443.74 132.90,444.23 132.77,444.70 Z" fill="none" stroke="#404040" stroke-width="0.6"/>
<path d="M131.93,444.48 C131.83,444.83 131.70,445.18 131.56,445.50 C131.42,445.83 131.26,446.14 131.10,446.43 C130.93,446.72 130.75,446.99 130.56,447.23 C130.37,447.47 130.17,447.69 129.97,447.87 C129.77,448.05 129.55,448.20 129.35,448.30 C129.14,448.40 128.93,448.46 128.74,448.48 C128.54,448.49 128.34,448.46 128.17,448.38 C128.00,448.30 127.84,448.18 127.70,448.02 C127.56,447.87 127.45,447.67 127.35,447.45 C127.25,447.24 127.17,446.99 127.11,446.74 C127.05,446.48 127.01,446.21 126.98,445.93 C126.95,445.65 126.93,445.37 126.93,445.07 C126.93,444.77 126.94,444.47 126.97,444.15 C127.00,443.84 127.04,443.51 127.10,443.18 C127.17,442.86 127.25,442.52 127.35,442.19 C127.46,441.86 127.58,441.52 127.73,441.21 C127.88,440.90 128.05,440.60 128.23,440.33 C128.41,440.07 128.61,439.82 128.82,439.62 C129.02,439.43 129.24,439.26 129.45,439.14 C129.67,439.02 129.89,438.94 130.09,438.91 C130.30,438.87 130.51,438.88 130.71,438.93 C130.90,438.97 131.09,439.06 131.26,439.19 C131.42,439.31 131.58,439.48 131.72,439.68 C131.85,439.88 131.97,440.12 132.06,440.39 C132.15,440.66 132.22,440.96 132.26,441.28 C132.30,441.60 132.32,441.96 132.30,442.31 C132.29,442.66 132.25,443.03 132.19,443.40 C132.13,443.76 132.04,444.13 131.93,444.48 Z" fill="none" stroke="#303030" stroke-width="0.6"/>
<path d="M131.09,444.25 C131.02,444.49 130.94,444.72 130.84,444.94 C130.75,445.15 130.64,445.36 130.53,445.56 C130.42,445.75 130.30,445.93 130.17,446.09 C130.05,446.25 129.91,446.40 129.78,446.52 C129.65,446.63 129.50,446.74 129.37,446.80 C129.23,446.87 129.09,446.91 128.96,446.92 C128.83,446.93 128.70,446.90 128.58,446.85 C128.47,446.80 128.36,446.71 128.27,446.60 C128.18,446.50 128.11,446.36 128.04,446.21 C127.98,446.07 127.93,445.90 127.89,445.73 C127.85,445.56 127.83,445.38 127.81,445.20 C127.79,445.02 127.78,444.83 127.78,444.63 C127.78,444.44 127.78,444.24 127.80,444.03 C127.82,443.83 127.84,443.61 127.88,443.39 C127.92,443.18 127.97,442.95 128.04,442.73 C128.11,442.51 128.19,442.28 128.29,442.08 C128.38,441.87 128.50,441.66 128.62,441.48 C128.74,441.30 128.87,441.14 129.01,441.00 C129.15,440.87 129.29,440.76 129.44,440.68 C129.58,440.60 129.73,440.54 129.87,440.52 C130.01,440.50 130.15,440.50 130.28,440.53 C130.41,440.56 130.53,440.62 130.65,440.70 C130.76,440.79 130.87,440.90 130.96,441.03 C131.05,441.17 131.13,441.33 131.19,441.51 C131.25,441.69 131.29,441.90 131.32,442.11 C131.35,442.32 131.36,442.56 131.35,442.80 C131.34,443.04 131.31,443.29 131.27,443.53 C131.23,443.77 131.17,444.02 131.09,444.25 Z" fill="none" stroke="#202020" stroke-width="0.6"/>
<path d="M130.25,444.03 C130.21,444.15 130.17,444.26 130.12,444.37 C130.08,444.48 130.02,444.58 129.97,444.68 C129.91,444.77 129.85,444.87 129.79,444.95 C129.72,445.03 129.66,445.10 129.59,445.16 C129.52,445.22 129.45,445.27 129.38,445.30 C129.31,445.34 129.24,445.36 129.18,445.36 C129.11,445.36 129.05,445.35 128.99,445.32 C128.94,445.29 128.88,445.25 128.84,445.19 C128.80,445.14 128.76,445.07 128.73,445.00 C128.70,444.92 128.67,444.84 128.66,444.75 C128.64,444.67 128.62,444.58 128.62,444.49 C128.61,444.40 128.60,444.31 128.60,444.21 C128.60,444.11 128.60,444.02 128.61,443.91 C128.62,443.81 128.63,443.71 128.65,443.60 C128.67,443.49 128.69,443.38 128.72,443.27 C128.76,443.16 128.80,443.04 128.84,442.94 C128.89,442.83 128.95,442.73 129.01,442.64 C129.07,442.55 129.14,442.46 129.20,442.40 C129.27,442.33 129.35,442.27 129.42,442.23 C129.49,442.19 129.56,442.16 129.63,442.15 C129.70,442.14 129.78,442.14 129.84,442.15 C129.91,442.17 129.97,442.20 130.03,442.24 C130.08,442.28 130.14,442.34 130.18,442.41 C130.23,442.47 130.27,442.56 130.30,442.65 C130.33,442.74 130.35,442.84 130.37,442.95 C130.38,443.06 130.39,443.18 130.38,443.30 C130.38,443.42 130.36,443.54 130.34,443.66 C130.32,443.79 130.29,443.91 130.25,444.03 Z" fill="none" stroke="#101010" stroke-width="0.6"/>
<ellipse cx="129.40" cy="443.80" rx="0.51" ry="0.96" fill="#fff"/>
<path d="M130.50,453.74 C130.40,454.12 130.26,454.51 130.10,454.87 C129.94,455.23 129.75,455.58 129.54,455.89 C129.33,456.20 129.09,456.48 128.84,456.72 C128.59,456.95 128.32,457.15 128.05,457.29 C127.79,457.43 127.51,457.51 127.25,457.56 C126.98,457.60 126.72,457.59 126.48,457.55 C126.23,457.52 126.00,457.43 125.79,457.33 C125.57,457.23 125.37,457.10 125.17,456.96 C124.98,456.81 124.79,456.65 124.62,456.47 C124.45,456.29 124.28,456.09 124.13,455.86 C123.98,455.62 123.83,455.37 123.72,455.08 C123.61,454.80 123.51,454.47 123.45,454.13 C123.39,453.79 123.36,453.41 123.38,453.04 C123.39,452.66 123.44,452.25 123.54,451.87 C123.63,451.49 123.76,451.10 123.92,450.74 C124.08,450.39 124.28,450.05 124.49,449.74 C124.70,449.44 124.94,449.16 125.18,448.92 C125.42,448.68 125.68,448.47 125.94,448.29 C126.20,448.11 126.47,447.96 126.74,447.84 C127.02,447.73 127.30,447.64 127.57,447.60 C127.85,447.56 128.13,447.55 128.40,447.59 C128.66,447.64 128.93,447.72 129.17,447.86 C129.41,448.00 129.65,448.19 129.84,448.42 C130.04,448.65 130.21,448.93 130.35,449.23 C130.49,449.54 130.60,449.89 130.67,450.24 C130.75,450.60 130.79,450.99 130.80,451.37 C130.81,451.76 130.79,452.16 130.74,452.56 C130.69,452.95 130.61,453.35 130.50,453.74 Z" fill="none" stroke="#404040" stroke-width="0.6"/>
<path d="M129.64,453.51 C129.56,453.80 129.46,454.09 129.34,454.36 C129.22,454.63 129.07,454.90 128.91,455.13 C128.75,455.36 128.57,455.57 128.38,455.75 C128.20,455.92 127.99,456.06 127.79,456.16 C127.59,456.26 127.38,456.32 127.18,456.35 C126.99,456.38 126.79,456.36 126.61,456.33 C126.43,456.29 126.26,456.22 126.10,456.14 C125.94,456.07 125.80,455.97 125.66,455.86 C125.51,455.75 125.38,455.63 125.25,455.50 C125.12,455.37 124.99,455.22 124.88,455.06 C124.76,454.89 124.65,454.71 124.56,454.50 C124.47,454.29 124.39,454.05 124.35,453.80 C124.30,453.54 124.27,453.26 124.28,452.98 C124.29,452.69 124.32,452.39 124.39,452.10 C124.46,451.81 124.56,451.52 124.68,451.25 C124.80,450.99 124.95,450.73 125.11,450.50 C125.27,450.27 125.45,450.07 125.63,449.89 C125.81,449.71 126.01,449.55 126.20,449.41 C126.40,449.28 126.60,449.16 126.81,449.08 C127.01,448.99 127.22,448.92 127.43,448.89 C127.64,448.85 127.85,448.84 128.05,448.87 C128.25,448.90 128.46,448.97 128.64,449.07 C128.82,449.17 129.00,449.31 129.15,449.48 C129.30,449.66 129.43,449.87 129.54,450.10 C129.64,450.33 129.72,450.60 129.78,450.87 C129.83,451.14 129.86,451.43 129.87,451.72 C129.87,452.01 129.86,452.32 129.82,452.62 C129.78,452.91 129.72,453.22 129.64,453.51 Z" fill="none" stroke="#303030" stroke-width="0.6"/>
<path d="M128.77,453.27 C128.72,453.47 128.65,453.66 128.57,453.85 C128.48,454.03 128.39,454.20 128.28,454.36 C128.17,454.51 128.05,454.66 127.93,454.77 C127.80,454.88 127.66,454.98 127.53,455.04 C127.39,455.11 127.25,455.14 127.12,455.15 C126.99,455.17 126.86,455.15 126.74,455.12 C126.63,455.10 126.52,455.05 126.41,454.99 C126.31,454.94 126.21,454.87 126.12,454.80 C126.03,454.73 125.94,454.65 125.86,454.57 C125.77,454.48 125.69,454.39 125.61,454.28 C125.53,454.17 125.45,454.06 125.39,453.92 C125.33,453.78 125.27,453.63 125.24,453.46 C125.20,453.30 125.18,453.11 125.18,452.92 C125.19,452.73 125.21,452.52 125.26,452.33 C125.30,452.14 125.37,451.94 125.45,451.76 C125.53,451.59 125.63,451.41 125.74,451.26 C125.84,451.11 125.96,450.98 126.09,450.85 C126.21,450.73 126.34,450.63 126.47,450.54 C126.60,450.45 126.74,450.37 126.87,450.31 C127.01,450.25 127.15,450.21 127.29,450.18 C127.43,450.16 127.57,450.15 127.71,450.17 C127.84,450.19 127.98,450.23 128.10,450.29 C128.23,450.36 128.34,450.46 128.45,450.57 C128.55,450.69 128.64,450.83 128.71,450.99 C128.78,451.14 128.83,451.32 128.86,451.50 C128.90,451.68 128.92,451.88 128.92,452.08 C128.93,452.27 128.91,452.48 128.89,452.68 C128.86,452.88 128.82,453.08 128.77,453.27 Z" fill="none" stroke="#202020" stroke-width="0.6"/>
<path d="M127.89,453.04 C127.86,453.14 127.83,453.23 127.79,453.33 C127.75,453.42 127.70,453.51 127.64,453.58 C127.59,453.66 127.53,453.73 127.46,453.79 C127.40,453.84 127.33,453.89 127.26,453.92 C127.20,453.95 127.13,453.97 127.06,453.97 C127.00,453.98 126.93,453.97 126.87,453.95 C126.82,453.93 126.76,453.91 126.71,453.88 C126.66,453.85 126.61,453.81 126.57,453.78 C126.52,453.74 126.48,453.71 126.44,453.67 C126.40,453.62 126.35,453.58 126.31,453.53 C126.28,453.48 126.23,453.42 126.20,453.35 C126.17,453.29 126.14,453.21 126.12,453.13 C126.10,453.05 126.09,452.95 126.09,452.86 C126.09,452.77 126.10,452.66 126.12,452.57 C126.15,452.47 126.18,452.37 126.22,452.28 C126.26,452.19 126.31,452.11 126.37,452.03 C126.42,451.95 126.48,451.89 126.54,451.83 C126.60,451.77 126.67,451.71 126.73,451.67 C126.80,451.62 126.87,451.59 126.94,451.56 C127.00,451.53 127.07,451.50 127.14,451.49 C127.21,451.47 127.29,451.47 127.35,451.48 C127.42,451.49 127.49,451.50 127.56,451.54 C127.62,451.57 127.68,451.62 127.73,451.68 C127.78,451.73 127.82,451.81 127.86,451.89 C127.90,451.96 127.92,452.05 127.94,452.15 C127.96,452.24 127.97,452.34 127.97,452.44 C127.97,452.54 127.96,452.64 127.95,452.74 C127.94,452.84 127.92,452.94 127.89,453.04 Z" fill="none" stroke="#101010" stroke-width="0.6"/>
<ellipse cx="127.00" cy="452.80" rx="0.53" ry="0.78" fill="#fff"/>
<path d="M118.80,432.00 Q121.36,447.50 118.80,463.00 Z" fill="#1a1a1a"/>
<rect x="118.80" y="434.00" width="1.12" height="27.00" fill="#1a1a1a"/>
<ellipse cx="143.40" cy="438.90" rx="3.20" ry="2.60" transform="rotate(0 143.40 438.90)" fill="#f6f6f6" stroke="#111" stroke-width="1.7"/>
<ellipse cx="143.4" cy="438.9" rx="5.5" ry="4.5" fill="none" stroke="#bbb" stroke-width="0.6"/>
<line x1="136.20" y1="447.30" x2="136.20" y2="466.80" stroke="#c4c4c4" stroke-width="0.8" />
<rect x="136.20" y="424.20" width="25.30" height="23.10" fill="none" stroke="#333" stroke-width="1.1" />
<text x="122.90" y="429.60" font-size="5.0" text-anchor="middle" fill="#4f7fae">40</text>
<text x="154.50" y="430.10" font-size="5.0" text-anchor="middle" fill="#555">24.7</text>
<text x="122.20" y="467.40" font-size="5.0" text-anchor="middle" fill="#4f7fae">15</text>
<text x="154.50" y="467.40" font-size="5.0" text-anchor="middle" fill="#4f7fae">0.356</text>
<rect x="118.80" y="424.20" width="42.70" height="42.60" fill="none" stroke="#333" stroke-width="1.1" />
<line x1="117.20" y1="424.63" x2="118.80" y2="424.63" stroke="#333" stroke-width="0.7" />
<text x="114.70" y="426.53" font-size="5.4" text-anchor="end" fill="#444" textLength="5.0" lengthAdjust="spacingAndGlyphs">10</text>
<text x="114.80" y="424.43" font-size="3.4" fill="#444">3</text>
<line x1="117.20" y1="435.28" x2="118.80" y2="435.28" stroke="#333" stroke-width="0.7" />
<text x="114.70" y="437.18" font-size="5.4" text-anchor="end" fill="#444" textLength="5.0" lengthAdjust="spacingAndGlyphs">10</text>
<text x="114.80" y="435.08" font-size="3.4" fill="#444">2</text>
<line x1="117.20" y1="445.29" x2="118.80" y2="445.29" stroke="#333" stroke-width="0.7" />
<text x="114.70" y="447.19" font-size="5.4" text-anchor="end" fill="#444" textLength="5.0" lengthAdjust="spacingAndGlyphs">10</text>
<text x="114.80" y="445.09" font-size="3.4" fill="#444">1</text>
<line x1="117.20" y1="455.72" x2="118.80" y2="455.72" stroke="#333" stroke-width="0.7" />
<text x="114.70" y="457.62" font-size="5.4" text-anchor="end" fill="#444" textLength="5.0" lengthAdjust="spacingAndGlyphs">10</text>
<text x="114.80" y="455.52" font-size="3.4" fill="#444">0</text>
<line x1="129.69" y1="466.80" x2="129.69" y2="468.40" stroke="#333" stroke-width="0.7" />
<text x="128.59" y="474.90" font-size="5.4" text-anchor="middle" fill="#444" textLength="5.0" lengthAdjust="spacingAndGlyphs">10</text>
<text x="131.19" y="472.80" font-size="3.4" fill="#444">0</text>
<line x1="139.72" y1="466.80" x2="139.72" y2="468.40" stroke="#333" stroke-width="0.7" />
<text x="138.62" y="474.90" font-size="5.4" text-anchor="middle" fill="#444" textLength="5.0" lengthAdjust="spacingAndGlyphs">10</text>
<text x="141.22" y="472.80" font-size="3.4" fill="#444">1</text>
<line x1="149.97" y1="466.80" x2="149.97" y2="468.40" stroke="#333" stroke-width="0.7" />
<text x="148.87" y="474.90" font-size="5.4" text-anchor="middle" fill="#444" textLength="5.0" lengthAdjust="spacingAndGlyphs">10</text>
<text x="151.47" y="472.80" font-size="3.4" fill="#444">2</text>
<line x1="161.07" y1="466.80" x2="161.07" y2="468.40" stroke="#333" stroke-width="0.7" />
<text x="159.97" y="474.90" font-size="5.4" text-anchor="middle" fill="#444" textLength="5.0" lengthAdjust="spacingAndGlyphs">10</text>
<text x="162.57" y="472.80" font-size="3.4" fill="#444">3</text>
<path d="M64.15,511.11 C63.62,511.69 63.06,512.20 62.51,512.67 C61.96,513.14 61.41,513.54 60.87,513.92 C60.33,514.29 59.79,514.62 59.25,514.91 C58.72,515.20 58.18,515.47 57.64,515.67 C57.11,515.88 56.56,516.05 56.04,516.14 C55.52,516.24 55.00,516.28 54.51,516.23 C54.03,516.18 53.56,516.05 53.16,515.85 C52.75,515.64 52.38,515.34 52.07,514.98 C51.77,514.62 51.51,514.18 51.33,513.69 C51.14,513.19 51.02,512.63 50.96,512.04 C50.90,511.44 50.90,510.79 50.97,510.11 C51.04,509.44 51.18,508.72 51.38,508.00 C51.59,507.28 51.86,506.52 52.20,505.78 C52.54,505.05 52.96,504.29 53.43,503.60 C53.89,502.90 54.44,502.21 55.00,501.61 C55.56,501.01 56.19,500.44 56.81,499.98 C57.42,499.51 58.08,499.11 58.70,498.80 C59.33,498.49 59.96,498.26 60.56,498.09 C61.16,497.93 61.75,497.84 62.32,497.80 C62.88,497.77 63.42,497.80 63.94,497.89 C64.46,497.97 64.96,498.12 65.42,498.34 C65.87,498.56 66.31,498.84 66.67,499.22 C67.03,499.59 67.36,500.05 67.58,500.58 C67.79,501.12 67.94,501.76 67.98,502.44 C68.01,503.11 67.94,503.89 67.77,504.64 C67.60,505.40 67.31,506.22 66.97,506.98 C66.62,507.74 66.17,508.50 65.70,509.19 C65.23,509.88 64.68,510.53 64.15,511.11 Z" fill="#d0d0d0" opacity="0.6"/>
<path d="M63.77,510.84 C63.28,511.38 62.76,511.85 62.25,512.29 C61.74,512.72 61.23,513.09 60.73,513.44 C60.23,513.79 59.73,514.09 59.23,514.36 C58.74,514.63 58.24,514.88 57.74,515.07 C57.25,515.26 56.75,515.42 56.26,515.50 C55.78,515.59 55.29,515.63 54.85,515.58 C54.40,515.54 53.97,515.42 53.59,515.23 C53.21,515.04 52.87,514.76 52.58,514.43 C52.30,514.10 52.07,513.68 51.90,513.23 C51.73,512.77 51.61,512.25 51.56,511.70 C51.50,511.15 51.50,510.54 51.57,509.92 C51.63,509.30 51.76,508.63 51.95,507.96 C52.14,507.29 52.39,506.59 52.71,505.91 C53.02,505.23 53.41,504.53 53.84,503.89 C54.27,503.24 54.78,502.60 55.30,502.05 C55.82,501.49 56.40,500.97 56.97,500.53 C57.54,500.10 58.15,499.74 58.72,499.44 C59.30,499.15 59.89,498.94 60.45,498.79 C61.00,498.64 61.55,498.55 62.07,498.52 C62.59,498.49 63.10,498.52 63.58,498.60 C64.05,498.68 64.52,498.81 64.94,499.02 C65.36,499.22 65.77,499.48 66.10,499.83 C66.44,500.18 66.74,500.60 66.94,501.10 C67.14,501.59 67.28,502.19 67.31,502.81 C67.34,503.44 67.28,504.15 67.12,504.85 C66.96,505.56 66.70,506.31 66.38,507.02 C66.06,507.72 65.64,508.43 65.20,509.07 C64.77,509.70 64.26,510.30 63.77,510.84 Z" fill="none" stroke="#a0a0a0" stroke-width="0.6"/>
<path d="M61.97,509.58 C61.65,509.91 61.32,510.19 61.01,510.46 C60.69,510.72 60.37,510.94 60.06,511.15 C59.75,511.35 59.45,511.54 59.14,511.70 C58.84,511.87 58.53,512.02 58.23,512.14 C57.93,512.26 57.62,512.36 57.32,512.42 C57.02,512.48 56.71,512.51 56.44,512.49 C56.16,512.47 55.88,512.40 55.65,512.29 C55.41,512.17 55.19,512.01 55.02,511.80 C54.84,511.60 54.69,511.35 54.58,511.06 C54.47,510.78 54.40,510.46 54.36,510.12 C54.32,509.78 54.32,509.40 54.35,509.01 C54.39,508.63 54.46,508.21 54.58,507.79 C54.69,507.37 54.85,506.93 55.04,506.50 C55.24,506.07 55.48,505.63 55.75,505.23 C56.02,504.82 56.34,504.42 56.67,504.06 C57.00,503.71 57.36,503.39 57.72,503.12 C58.08,502.85 58.46,502.62 58.83,502.44 C59.19,502.26 59.56,502.13 59.91,502.04 C60.26,501.95 60.60,501.90 60.92,501.88 C61.25,501.86 61.57,501.87 61.87,501.92 C62.17,501.97 62.46,502.05 62.73,502.17 C63.00,502.29 63.26,502.45 63.48,502.66 C63.69,502.88 63.89,503.14 64.02,503.45 C64.15,503.76 64.25,504.13 64.27,504.53 C64.29,504.93 64.24,505.38 64.14,505.83 C64.04,506.27 63.86,506.75 63.65,507.19 C63.45,507.64 63.17,508.08 62.89,508.48 C62.61,508.88 62.28,509.25 61.97,509.58 Z" fill="none" stroke="#949494" stroke-width="0.6"/>
<path d="M60.18,508.33 C60.05,508.46 59.92,508.57 59.79,508.67 C59.67,508.77 59.54,508.85 59.42,508.93 C59.29,509.01 59.18,509.08 59.06,509.15 C58.94,509.21 58.82,509.27 58.70,509.32 C58.58,509.37 58.46,509.41 58.34,509.44 C58.22,509.46 58.10,509.48 57.99,509.47 C57.88,509.46 57.77,509.44 57.67,509.40 C57.58,509.35 57.49,509.29 57.42,509.21 C57.34,509.13 57.28,509.03 57.24,508.92 C57.19,508.81 57.16,508.68 57.15,508.55 C57.13,508.41 57.13,508.26 57.14,508.11 C57.15,507.95 57.18,507.78 57.23,507.62 C57.27,507.45 57.33,507.27 57.41,507.10 C57.49,506.93 57.58,506.75 57.69,506.58 C57.80,506.42 57.93,506.26 58.06,506.12 C58.19,505.97 58.34,505.84 58.49,505.74 C58.63,505.63 58.78,505.54 58.93,505.47 C59.08,505.40 59.22,505.35 59.36,505.31 C59.50,505.27 59.64,505.26 59.77,505.25 C59.90,505.24 60.03,505.25 60.15,505.26 C60.27,505.28 60.39,505.31 60.50,505.36 C60.61,505.40 60.72,505.46 60.81,505.55 C60.90,505.63 60.98,505.74 61.03,505.86 C61.09,505.99 61.13,506.14 61.13,506.30 C61.14,506.46 61.13,506.64 61.08,506.82 C61.04,507.00 60.97,507.20 60.88,507.38 C60.79,507.56 60.68,507.74 60.56,507.89 C60.44,508.05 60.31,508.20 60.18,508.33 Z" fill="none" stroke="#888888" stroke-width="0.6"/>
<path d="M63.55,507.37 C63.29,507.80 63.00,508.22 62.70,508.60 C62.40,508.97 62.07,509.32 61.74,509.63 C61.41,509.93 61.07,510.20 60.73,510.42 C60.40,510.65 60.06,510.83 59.73,510.97 C59.40,511.12 59.07,511.22 58.76,511.28 C58.45,511.33 58.14,511.35 57.86,511.32 C57.58,511.29 57.31,511.22 57.07,511.10 C56.83,510.98 56.60,510.81 56.41,510.61 C56.23,510.40 56.06,510.14 55.94,509.85 C55.81,509.56 55.72,509.22 55.67,508.86 C55.61,508.50 55.59,508.10 55.61,507.68 C55.63,507.27 55.68,506.82 55.78,506.36 C55.87,505.90 56.00,505.42 56.17,504.94 C56.34,504.45 56.55,503.95 56.79,503.48 C57.04,503.00 57.33,502.51 57.64,502.06 C57.95,501.62 58.30,501.19 58.66,500.81 C59.03,500.44 59.42,500.10 59.80,499.84 C60.18,499.58 60.59,499.37 60.96,499.23 C61.33,499.09 61.70,499.02 62.03,499.01 C62.36,499.01 62.67,499.07 62.95,499.17 C63.23,499.27 63.47,499.44 63.69,499.63 C63.91,499.82 64.09,500.06 64.25,500.32 C64.40,500.57 64.53,500.87 64.63,501.18 C64.73,501.49 64.80,501.84 64.84,502.20 C64.88,502.57 64.89,502.96 64.86,503.38 C64.83,503.79 64.76,504.23 64.66,504.67 C64.55,505.12 64.40,505.58 64.21,506.03 C64.03,506.49 63.80,506.95 63.55,507.37 Z" fill="none" stroke="#505050" stroke-width="0.6"/>
<path d="M62.93,507.02 C62.73,507.37 62.49,507.70 62.24,508.01 C62.00,508.31 61.73,508.59 61.46,508.84 C61.20,509.08 60.92,509.29 60.65,509.47 C60.38,509.65 60.10,509.80 59.84,509.91 C59.57,510.02 59.31,510.10 59.06,510.15 C58.81,510.20 58.56,510.21 58.34,510.19 C58.11,510.17 57.89,510.11 57.69,510.02 C57.50,509.92 57.32,509.79 57.16,509.62 C57.01,509.46 56.88,509.25 56.77,509.02 C56.67,508.79 56.59,508.52 56.54,508.23 C56.50,507.94 56.48,507.61 56.49,507.27 C56.50,506.94 56.54,506.57 56.61,506.20 C56.69,505.83 56.79,505.43 56.92,505.04 C57.06,504.65 57.23,504.23 57.42,503.84 C57.62,503.45 57.86,503.04 58.11,502.68 C58.37,502.31 58.66,501.95 58.95,501.64 C59.25,501.34 59.58,501.06 59.89,500.84 C60.21,500.62 60.54,500.45 60.84,500.35 C61.14,500.24 61.45,500.19 61.72,500.19 C61.99,500.19 62.24,500.25 62.46,500.34 C62.69,500.43 62.88,500.57 63.05,500.73 C63.22,500.89 63.37,501.09 63.49,501.30 C63.62,501.52 63.72,501.75 63.80,502.01 C63.88,502.27 63.94,502.54 63.97,502.84 C64.00,503.13 64.01,503.45 63.99,503.78 C63.97,504.11 63.91,504.47 63.83,504.83 C63.74,505.19 63.62,505.57 63.47,505.93 C63.32,506.30 63.14,506.67 62.93,507.02 Z" fill="none" stroke="#404040" stroke-width="0.6"/>
<path d="M62.32,506.67 C62.16,506.93 61.98,507.19 61.79,507.42 C61.60,507.65 61.40,507.87 61.19,508.05 C60.99,508.24 60.77,508.40 60.57,508.53 C60.36,508.67 60.15,508.78 59.95,508.86 C59.75,508.95 59.55,509.01 59.35,509.04 C59.16,509.08 58.98,509.09 58.80,509.07 C58.63,509.06 58.46,509.02 58.31,508.95 C58.16,508.88 58.02,508.78 57.90,508.65 C57.78,508.53 57.68,508.37 57.60,508.20 C57.52,508.02 57.46,507.81 57.42,507.59 C57.38,507.37 57.36,507.12 57.37,506.87 C57.38,506.61 57.40,506.33 57.46,506.04 C57.51,505.75 57.59,505.45 57.69,505.14 C57.79,504.84 57.92,504.52 58.07,504.21 C58.22,503.90 58.40,503.59 58.60,503.30 C58.79,503.02 59.02,502.73 59.25,502.49 C59.48,502.25 59.74,502.04 59.98,501.87 C60.23,501.70 60.48,501.57 60.72,501.49 C60.96,501.41 61.19,501.38 61.40,501.38 C61.61,501.38 61.80,501.44 61.97,501.51 C62.14,501.59 62.29,501.71 62.42,501.83 C62.55,501.96 62.65,502.12 62.75,502.28 C62.84,502.45 62.92,502.63 62.98,502.83 C63.04,503.03 63.08,503.24 63.11,503.46 C63.13,503.69 63.14,503.93 63.12,504.18 C63.11,504.44 63.07,504.71 63.01,504.99 C62.94,505.26 62.85,505.55 62.74,505.83 C62.62,506.11 62.48,506.40 62.32,506.67 Z" fill="none" stroke="#303030" stroke-width="0.6"/>
<path d="M61.71,506.31 C61.60,506.50 61.47,506.68 61.34,506.84 C61.21,507.00 61.06,507.15 60.92,507.28 C60.78,507.41 60.63,507.52 60.49,507.61 C60.34,507.70 60.20,507.77 60.06,507.83 C59.92,507.89 59.78,507.93 59.64,507.96 C59.51,507.98 59.38,507.99 59.26,507.98 C59.14,507.97 59.02,507.94 58.92,507.89 C58.81,507.85 58.72,507.78 58.63,507.69 C58.55,507.61 58.47,507.50 58.42,507.38 C58.36,507.26 58.32,507.11 58.29,506.96 C58.26,506.81 58.25,506.64 58.25,506.46 C58.25,506.28 58.27,506.08 58.30,505.88 C58.34,505.68 58.39,505.46 58.46,505.25 C58.53,505.03 58.62,504.81 58.72,504.59 C58.83,504.37 58.95,504.15 59.09,503.94 C59.23,503.74 59.39,503.54 59.56,503.37 C59.72,503.20 59.90,503.04 60.07,502.92 C60.25,502.81 60.43,502.72 60.60,502.66 C60.76,502.61 60.93,502.59 61.08,502.59 C61.22,502.60 61.36,502.64 61.47,502.70 C61.59,502.76 61.69,502.84 61.78,502.93 C61.87,503.03 61.94,503.14 62.01,503.26 C62.07,503.38 62.12,503.50 62.16,503.64 C62.20,503.78 62.24,503.92 62.25,504.08 C62.27,504.24 62.28,504.41 62.27,504.58 C62.26,504.76 62.23,504.95 62.19,505.14 C62.14,505.33 62.08,505.54 62.00,505.73 C61.92,505.93 61.82,506.13 61.71,506.31 Z" fill="none" stroke="#202020" stroke-width="0.6"/>
<path d="M61.10,505.96 C61.04,506.07 60.97,506.17 60.89,506.26 C60.82,506.35 60.73,506.44 60.65,506.51 C60.57,506.58 60.49,506.64 60.41,506.70 C60.32,506.75 60.24,506.79 60.16,506.82 C60.08,506.85 60.00,506.88 59.93,506.89 C59.85,506.90 59.78,506.91 59.71,506.90 C59.64,506.90 59.58,506.88 59.52,506.86 C59.46,506.83 59.40,506.79 59.35,506.74 C59.30,506.70 59.26,506.64 59.23,506.57 C59.20,506.50 59.17,506.42 59.15,506.33 C59.14,506.25 59.13,506.15 59.13,506.05 C59.13,505.94 59.14,505.83 59.16,505.72 C59.18,505.60 59.20,505.48 59.24,505.36 C59.28,505.23 59.33,505.10 59.39,504.98 C59.45,504.85 59.52,504.72 59.60,504.60 C59.68,504.48 59.77,504.36 59.87,504.27 C59.96,504.17 60.07,504.08 60.17,504.01 C60.27,503.94 60.38,503.89 60.47,503.86 C60.57,503.83 60.66,503.82 60.75,503.83 C60.83,503.83 60.91,503.86 60.97,503.89 C61.04,503.93 61.10,503.98 61.15,504.03 C61.20,504.09 61.24,504.16 61.27,504.22 C61.31,504.29 61.33,504.37 61.36,504.44 C61.38,504.52 61.40,504.61 61.41,504.69 C61.42,504.78 61.43,504.88 61.42,504.98 C61.41,505.08 61.40,505.19 61.38,505.30 C61.35,505.40 61.32,505.52 61.27,505.63 C61.23,505.74 61.17,505.86 61.10,505.96 Z" fill="none" stroke="#101010" stroke-width="0.6"/>
<ellipse cx="60.30" cy="505.50" rx="0.57" ry="1.02" fill="#fff"/>
<path d="M49.40,499.00 Q53.24,510.50 49.40,522.00 Z" fill="#1a1a1a"/>
<rect x="49.40" y="501.00" width="1.68" height="19.00" fill="#1a1a1a"/>
<line x1="68.50" y1="509.50" x2="68.50" y2="530.50" stroke="#c4c4c4" stroke-width="0.8" />
<rect x="68.50" y="487.40" width="23.70" height="22.10" fill="none" stroke="#333" stroke-width="1.1" />
<text x="55.60" y="493.90" font-size="5.0" text-anchor="middle" fill="#4f7fae">68.8</text>
<text x="83.80" y="493.90" font-size="5.0" text-anchor="middle" fill="#555">0.362</text>
<text x="55.60" y="529.00" font-size="5.0" text-anchor="middle" fill="#4f7fae">30.8</text>
<text x="83.80" y="529.00" font-size="5.0" text-anchor="middle" fill="#4f7fae">0.0434</text>
<rect x="49.40" y="487.40" width="42.80" height="43.10" fill="none" stroke="#333" stroke-width="1.1" />
<line x1="47.80" y1="487.83" x2="49.40" y2="487.83" stroke="#333" stroke-width="0.7" />
<text x="45.30" y="489.73" font-size="5.4" text-anchor="end" fill="#444" textLength="5.0" lengthAdjust="spacingAndGlyphs">10</text>
<text x="45.40" y="487.63" font-size="3.4" fill="#444">3</text>
<line x1="47.80" y1="498.61" x2="49.40" y2="498.61" stroke="#333" stroke-width="0.7" />
<text x="45.30" y="500.51" font-size="5.4" text-anchor="end" fill="#444" textLength="5.0" lengthAdjust="spacingAndGlyphs">10</text>
<text x="45.40" y="498.41" font-size="3.4" fill="#444">2</text>
<line x1="47.80" y1="508.73" x2="49.40" y2="508.73" stroke="#333" stroke-width="0.7" />
<text x="45.30" y="510.63" font-size="5.4" text-anchor="end" fill="#444" textLength="5.0" lengthAdjust="spacingAndGlyphs">10</text>
<text x="45.40" y="508.53" font-size="3.4" fill="#444">1</text>
<line x1="47.80" y1="519.29" x2="49.40" y2="519.29" stroke="#333" stroke-width="0.7" />
<text x="45.30" y="521.19" font-size="5.4" text-anchor="end" fill="#444" textLength="5.0" lengthAdjust="spacingAndGlyphs">10</text>
<text x="45.40" y="519.09" font-size="3.4" fill="#444">0</text>
<line x1="60.31" y1="530.50" x2="60.31" y2="532.10" stroke="#333" stroke-width="0.7" />
<text x="59.21" y="538.60" font-size="5.4" text-anchor="middle" fill="#444" textLength="5.0" lengthAdjust="spacingAndGlyphs">10</text>
<text x="61.81" y="536.50" font-size="3.4" fill="#444">0</text>
<line x1="70.37" y1="530.50" x2="70.37" y2="532.10" stroke="#333" stroke-width="0.7" />
<text x="69.27" y="538.60" font-size="5.4" text-anchor="middle" fill="#444" textLength="5.0" lengthAdjust="spacingAndGlyphs">10</text>
<text x="71.87" y="536.50" font-size="3.4" fill="#444">1</text>
<line x1="80.64" y1="530.50" x2="80.64" y2="532.10" stroke="#333" stroke-width="0.7" />
<text x="79.54" y="538.60" font-size="5.4" text-anchor="middle" fill="#444" textLength="5.0" lengthAdjust="spacingAndGlyphs">10</text>
<text x="82.14" y="536.50" font-size="3.4" fill="#444">2</text>
<line x1="91.77" y1="530.50" x2="91.77" y2="532.10" stroke="#333" stroke-width="0.7" />
<text x="90.67" y="538.60" font-size="5.4" text-anchor="middle" fill="#444" textLength="5.0" lengthAdjust="spacingAndGlyphs">10</text>
<text x="93.27" y="536.50" font-size="3.4" fill="#444">3</text>
<path d="M134.98,510.25 C134.67,510.83 134.30,511.40 133.89,511.92 C133.48,512.44 133.01,512.93 132.52,513.36 C132.04,513.79 131.50,514.18 130.96,514.50 C130.42,514.83 129.84,515.10 129.27,515.30 C128.69,515.51 128.10,515.65 127.51,515.73 C126.93,515.80 126.33,515.81 125.76,515.74 C125.19,515.67 124.62,515.52 124.10,515.29 C123.58,515.05 123.08,514.73 122.66,514.33 C122.24,513.94 121.87,513.45 121.58,512.91 C121.29,512.37 121.08,511.75 120.94,511.12 C120.80,510.49 120.75,509.80 120.77,509.12 C120.78,508.44 120.87,507.73 121.01,507.05 C121.14,506.36 121.34,505.67 121.58,505.00 C121.81,504.32 122.09,503.66 122.42,503.00 C122.75,502.35 123.12,501.70 123.54,501.08 C123.96,500.46 124.44,499.83 124.96,499.28 C125.49,498.73 126.08,498.20 126.70,497.78 C127.32,497.35 128.01,496.98 128.68,496.75 C129.35,496.52 130.08,496.38 130.74,496.38 C131.40,496.38 132.07,496.51 132.65,496.74 C133.23,496.97 133.77,497.34 134.22,497.76 C134.67,498.18 135.05,498.71 135.35,499.25 C135.66,499.78 135.88,500.39 136.06,500.99 C136.23,501.59 136.33,502.22 136.40,502.84 C136.46,503.46 136.47,504.08 136.45,504.70 C136.42,505.33 136.36,505.95 136.24,506.58 C136.13,507.20 135.97,507.83 135.76,508.44 C135.55,509.05 135.29,509.67 134.98,510.25 Z" fill="#b0b0b0" opacity="0.55"/>
<path d="M134.54,510.00 C134.25,510.53 133.90,511.06 133.52,511.54 C133.15,512.02 132.72,512.48 132.26,512.88 C131.81,513.28 131.32,513.63 130.82,513.93 C130.31,514.23 129.78,514.48 129.25,514.67 C128.72,514.86 128.16,515.00 127.62,515.07 C127.08,515.13 126.52,515.15 126.00,515.08 C125.47,515.01 124.94,514.87 124.46,514.66 C123.99,514.44 123.52,514.14 123.13,513.78 C122.74,513.41 122.39,512.95 122.13,512.46 C121.86,511.96 121.66,511.39 121.54,510.80 C121.41,510.21 121.37,509.57 121.38,508.95 C121.39,508.32 121.47,507.66 121.60,507.03 C121.72,506.39 121.91,505.76 122.13,505.13 C122.34,504.51 122.61,503.89 122.91,503.28 C123.21,502.68 123.55,502.07 123.94,501.50 C124.34,500.93 124.78,500.35 125.26,499.84 C125.75,499.33 126.30,498.84 126.87,498.44 C127.45,498.05 128.08,497.71 128.71,497.49 C129.33,497.28 130.00,497.16 130.61,497.15 C131.22,497.15 131.84,497.28 132.38,497.49 C132.91,497.70 133.42,498.04 133.83,498.43 C134.25,498.81 134.60,499.31 134.88,499.80 C135.17,500.30 135.37,500.87 135.53,501.42 C135.69,501.98 135.79,502.56 135.85,503.13 C135.91,503.70 135.92,504.28 135.90,504.86 C135.87,505.44 135.81,506.02 135.71,506.59 C135.60,507.17 135.46,507.75 135.26,508.32 C135.07,508.89 134.83,509.46 134.54,510.00 Z" fill="none" stroke="#707070" stroke-width="0.6"/>
<path d="M133.64,509.48 C133.40,509.93 133.11,510.38 132.80,510.78 C132.48,511.19 132.12,511.57 131.74,511.91 C131.36,512.24 130.95,512.55 130.53,512.80 C130.11,513.06 129.66,513.27 129.21,513.44 C128.76,513.60 128.29,513.73 127.83,513.79 C127.37,513.86 126.90,513.87 126.45,513.82 C126.00,513.77 125.55,513.67 125.14,513.49 C124.73,513.31 124.33,513.06 124.00,512.75 C123.66,512.44 123.36,512.05 123.14,511.63 C122.91,511.21 122.74,510.71 122.64,510.21 C122.53,509.71 122.50,509.16 122.51,508.63 C122.52,508.09 122.60,507.53 122.71,506.99 C122.82,506.45 122.98,505.91 123.16,505.38 C123.35,504.85 123.57,504.33 123.82,503.81 C124.07,503.29 124.36,502.77 124.68,502.28 C125.01,501.78 125.38,501.28 125.79,500.83 C126.21,500.39 126.68,499.95 127.17,499.60 C127.66,499.26 128.21,498.95 128.75,498.76 C129.28,498.57 129.86,498.46 130.39,498.46 C130.92,498.46 131.45,498.57 131.91,498.77 C132.37,498.96 132.80,499.27 133.15,499.61 C133.50,499.96 133.79,500.39 134.02,500.83 C134.25,501.27 134.41,501.76 134.53,502.24 C134.66,502.72 134.72,503.22 134.76,503.71 C134.80,504.20 134.80,504.69 134.78,505.17 C134.75,505.66 134.70,506.14 134.61,506.63 C134.52,507.11 134.40,507.60 134.24,508.07 C134.08,508.55 133.88,509.03 133.64,509.48 Z" fill="none" stroke="#636363" stroke-width="0.6"/>
<path d="M132.76,508.97 C132.57,509.34 132.34,509.71 132.09,510.04 C131.83,510.37 131.54,510.68 131.23,510.96 C130.93,511.23 130.59,511.48 130.25,511.70 C129.90,511.91 129.54,512.09 129.17,512.23 C128.80,512.36 128.42,512.47 128.04,512.53 C127.67,512.59 127.28,512.61 126.91,512.57 C126.53,512.54 126.16,512.46 125.82,512.31 C125.48,512.17 125.14,511.97 124.87,511.72 C124.59,511.46 124.34,511.14 124.15,510.79 C123.96,510.44 123.83,510.03 123.74,509.62 C123.66,509.20 123.63,508.75 123.65,508.31 C123.66,507.86 123.73,507.40 123.82,506.96 C123.91,506.51 124.04,506.07 124.20,505.63 C124.35,505.20 124.52,504.76 124.73,504.34 C124.94,503.91 125.16,503.47 125.43,503.06 C125.70,502.64 126.00,502.22 126.34,501.84 C126.68,501.46 127.06,501.09 127.47,500.79 C127.88,500.50 128.34,500.23 128.79,500.07 C129.24,499.91 129.72,499.81 130.16,499.82 C130.61,499.82 131.05,499.92 131.43,500.09 C131.82,500.25 132.17,500.52 132.45,500.82 C132.74,501.12 132.97,501.49 133.15,501.87 C133.33,502.24 133.45,502.66 133.54,503.06 C133.63,503.46 133.67,503.88 133.70,504.28 C133.72,504.68 133.72,505.08 133.69,505.48 C133.66,505.88 133.62,506.27 133.54,506.66 C133.47,507.05 133.38,507.45 133.25,507.83 C133.12,508.22 132.96,508.61 132.76,508.97 Z" fill="none" stroke="#565656" stroke-width="0.6"/>
<path d="M131.91,508.48 C131.77,508.77 131.59,509.05 131.39,509.31 C131.20,509.57 130.97,509.81 130.73,510.03 C130.50,510.25 130.24,510.44 129.97,510.61 C129.70,510.78 129.42,510.92 129.13,511.03 C128.85,511.14 128.55,511.23 128.25,511.28 C127.96,511.33 127.65,511.35 127.36,511.33 C127.06,511.30 126.77,511.25 126.50,511.14 C126.23,511.03 125.96,510.87 125.74,510.67 C125.52,510.48 125.32,510.23 125.17,509.95 C125.03,509.67 124.92,509.35 124.85,509.02 C124.79,508.69 124.77,508.33 124.79,507.99 C124.80,507.64 124.86,507.28 124.93,506.93 C125.01,506.58 125.11,506.23 125.23,505.88 C125.35,505.54 125.48,505.20 125.64,504.86 C125.80,504.52 125.98,504.18 126.18,503.85 C126.39,503.51 126.62,503.17 126.89,502.87 C127.15,502.56 127.46,502.26 127.78,502.02 C128.11,501.78 128.47,501.56 128.83,501.43 C129.19,501.29 129.58,501.22 129.93,501.22 C130.28,501.23 130.64,501.31 130.94,501.45 C131.24,501.59 131.52,501.81 131.74,502.05 C131.96,502.30 132.14,502.61 132.27,502.91 C132.41,503.21 132.49,503.55 132.56,503.87 C132.62,504.19 132.64,504.52 132.65,504.84 C132.67,505.16 132.66,505.47 132.63,505.78 C132.61,506.09 132.57,506.39 132.51,506.69 C132.45,506.99 132.38,507.30 132.28,507.60 C132.18,507.90 132.06,508.20 131.91,508.48 Z" fill="none" stroke="#494949" stroke-width="0.6"/>
<path d="M131.09,508.01 C130.98,508.21 130.86,508.41 130.72,508.60 C130.58,508.79 130.42,508.96 130.25,509.12 C130.08,509.28 129.89,509.42 129.70,509.54 C129.51,509.66 129.30,509.77 129.10,509.85 C128.89,509.93 128.67,510.00 128.46,510.04 C128.24,510.08 128.02,510.10 127.81,510.09 C127.59,510.07 127.37,510.03 127.18,509.96 C126.98,509.88 126.78,509.77 126.62,509.63 C126.46,509.48 126.31,509.30 126.21,509.10 C126.10,508.90 126.02,508.66 125.97,508.42 C125.93,508.18 125.92,507.92 125.93,507.66 C125.94,507.41 125.99,507.15 126.04,506.89 C126.10,506.64 126.17,506.39 126.26,506.13 C126.35,505.88 126.44,505.64 126.56,505.39 C126.67,505.14 126.79,504.89 126.94,504.64 C127.09,504.40 127.26,504.14 127.45,503.91 C127.64,503.69 127.87,503.46 128.10,503.28 C128.34,503.09 128.61,502.93 128.87,502.83 C129.14,502.73 129.43,502.67 129.69,502.68 C129.95,502.68 130.21,502.75 130.43,502.85 C130.65,502.96 130.85,503.13 131.01,503.31 C131.17,503.50 131.29,503.73 131.39,503.96 C131.48,504.19 131.54,504.44 131.58,504.68 C131.62,504.92 131.63,505.16 131.63,505.39 C131.64,505.62 131.62,505.85 131.60,506.07 C131.58,506.29 131.55,506.51 131.51,506.72 C131.47,506.94 131.42,507.16 131.35,507.37 C131.28,507.58 131.19,507.80 131.09,508.01 Z" fill="none" stroke="#3c3c3c" stroke-width="0.6"/>
<path d="M130.29,507.54 C130.22,507.67 130.14,507.80 130.06,507.91 C129.97,508.03 129.87,508.14 129.77,508.23 C129.67,508.33 129.55,508.42 129.43,508.50 C129.31,508.57 129.19,508.64 129.06,508.69 C128.93,508.75 128.80,508.79 128.66,508.82 C128.53,508.84 128.39,508.86 128.26,508.85 C128.12,508.84 127.98,508.82 127.86,508.78 C127.73,508.73 127.61,508.66 127.51,508.57 C127.41,508.48 127.31,508.37 127.25,508.24 C127.18,508.12 127.13,507.97 127.10,507.82 C127.08,507.67 127.07,507.50 127.08,507.34 C127.09,507.18 127.12,507.02 127.15,506.86 C127.19,506.70 127.24,506.54 127.29,506.38 C127.34,506.23 127.40,506.07 127.47,505.92 C127.54,505.76 127.62,505.60 127.71,505.45 C127.80,505.29 127.90,505.13 128.02,504.98 C128.14,504.83 128.28,504.69 128.43,504.57 C128.58,504.45 128.75,504.34 128.92,504.28 C129.09,504.22 129.27,504.18 129.44,504.18 C129.60,504.18 129.77,504.23 129.91,504.30 C130.05,504.37 130.17,504.48 130.27,504.60 C130.37,504.72 130.44,504.87 130.50,505.02 C130.55,505.16 130.58,505.33 130.60,505.48 C130.63,505.63 130.63,505.78 130.63,505.93 C130.63,506.07 130.62,506.21 130.60,506.35 C130.59,506.49 130.57,506.62 130.54,506.75 C130.52,506.89 130.49,507.02 130.44,507.15 C130.40,507.28 130.35,507.42 130.29,507.54 Z" fill="none" stroke="#303030" stroke-width="0.6"/>
<ellipse cx="129.00" cy="506.80" rx="1.05" ry="1.35" fill="#eee"/>
<path d="M146.92,502.80 C146.94,503.14 146.93,503.50 146.88,503.85 C146.83,504.19 146.73,504.54 146.60,504.86 C146.47,505.18 146.30,505.49 146.10,505.77 C145.90,506.05 145.67,506.31 145.42,506.54 C145.18,506.77 144.90,506.98 144.61,507.15 C144.32,507.32 144.01,507.47 143.69,507.57 C143.38,507.67 143.04,507.75 142.70,507.77 C142.36,507.79 142.01,507.76 141.68,507.69 C141.35,507.62 141.01,507.50 140.71,507.33 C140.40,507.17 140.11,506.95 139.85,506.71 C139.59,506.47 139.36,506.19 139.16,505.89 C138.96,505.60 138.79,505.27 138.64,504.94 C138.49,504.61 138.37,504.26 138.27,503.91 C138.18,503.55 138.10,503.18 138.05,502.80 C138.01,502.42 137.98,502.02 138.00,501.62 C138.02,501.23 138.07,500.81 138.18,500.41 C138.28,500.02 138.44,499.61 138.65,499.26 C138.85,498.91 139.12,498.56 139.42,498.30 C139.72,498.03 140.08,497.81 140.44,497.67 C140.80,497.53 141.21,497.45 141.58,497.44 C141.96,497.43 142.35,497.50 142.70,497.60 C143.05,497.70 143.39,497.87 143.69,498.05 C143.99,498.22 144.27,498.44 144.52,498.66 C144.78,498.87 145.00,499.10 145.22,499.34 C145.43,499.58 145.63,499.82 145.82,500.08 C146.00,500.33 146.18,500.60 146.33,500.89 C146.48,501.17 146.62,501.48 146.72,501.80 C146.81,502.12 146.89,502.46 146.92,502.80 Z" fill="#e0e0e0" opacity="0.6"/>
<path d="M146.60,502.80 C146.63,503.12 146.62,503.45 146.57,503.77 C146.52,504.09 146.43,504.41 146.31,504.71 C146.19,505.00 146.03,505.29 145.85,505.55 C145.67,505.81 145.45,506.05 145.22,506.27 C144.99,506.48 144.74,506.67 144.47,506.83 C144.20,506.99 143.92,507.12 143.62,507.22 C143.33,507.31 143.01,507.38 142.70,507.40 C142.39,507.42 142.06,507.40 141.76,507.33 C141.45,507.26 141.14,507.15 140.85,507.00 C140.57,506.85 140.30,506.65 140.06,506.42 C139.82,506.20 139.61,505.94 139.42,505.66 C139.24,505.39 139.08,505.09 138.94,504.78 C138.80,504.48 138.69,504.15 138.60,503.82 C138.51,503.49 138.44,503.15 138.40,502.80 C138.35,502.45 138.33,502.08 138.35,501.71 C138.37,501.34 138.41,500.96 138.51,500.59 C138.61,500.23 138.75,499.85 138.95,499.52 C139.14,499.19 139.39,498.88 139.67,498.63 C139.94,498.39 140.28,498.18 140.61,498.05 C140.94,497.92 141.32,497.85 141.67,497.84 C142.01,497.83 142.37,497.89 142.70,497.99 C143.03,498.08 143.34,498.24 143.62,498.40 C143.90,498.56 144.15,498.76 144.39,498.96 C144.62,499.16 144.83,499.38 145.03,499.60 C145.23,499.82 145.42,500.04 145.59,500.28 C145.76,500.52 145.92,500.76 146.06,501.03 C146.20,501.29 146.33,501.58 146.42,501.87 C146.51,502.17 146.58,502.48 146.60,502.80 Z" fill="none" stroke="#b0b0b0" stroke-width="0.6"/>
<path d="M145.11,502.80 C145.13,503.00 145.13,503.20 145.10,503.40 C145.07,503.60 145.02,503.80 144.94,503.98 C144.87,504.17 144.77,504.35 144.66,504.51 C144.54,504.67 144.41,504.82 144.27,504.95 C144.13,505.09 143.97,505.21 143.80,505.31 C143.64,505.41 143.46,505.49 143.27,505.55 C143.09,505.62 142.89,505.66 142.70,505.67 C142.51,505.69 142.30,505.68 142.11,505.64 C141.92,505.59 141.72,505.52 141.54,505.43 C141.37,505.33 141.20,505.21 141.05,505.07 C140.90,504.93 140.77,504.76 140.65,504.59 C140.54,504.42 140.44,504.23 140.35,504.04 C140.27,503.85 140.20,503.65 140.14,503.44 C140.08,503.23 140.03,503.02 140.00,502.80 C139.97,502.58 139.95,502.35 139.96,502.11 C139.96,501.88 139.99,501.63 140.04,501.40 C140.10,501.17 140.19,500.92 140.31,500.71 C140.43,500.50 140.59,500.30 140.76,500.14 C140.94,499.98 141.16,499.85 141.37,499.77 C141.58,499.69 141.82,499.66 142.04,499.66 C142.27,499.65 142.50,499.70 142.70,499.77 C142.90,499.84 143.10,499.95 143.27,500.06 C143.45,500.17 143.60,500.30 143.74,500.43 C143.88,500.56 144.01,500.70 144.13,500.84 C144.25,500.97 144.36,501.11 144.47,501.26 C144.57,501.40 144.67,501.55 144.76,501.71 C144.85,501.88 144.93,502.05 144.99,502.23 C145.05,502.41 145.09,502.60 145.11,502.80 Z" fill="none" stroke="#a0a0a0" stroke-width="0.6"/>
<path d="M143.65,502.80 C143.66,502.88 143.66,502.96 143.65,503.04 C143.64,503.12 143.62,503.20 143.59,503.27 C143.56,503.34 143.52,503.41 143.48,503.48 C143.43,503.54 143.38,503.60 143.32,503.66 C143.27,503.71 143.20,503.76 143.14,503.80 C143.07,503.84 143.00,503.87 142.93,503.90 C142.86,503.92 142.78,503.94 142.70,503.95 C142.62,503.96 142.54,503.95 142.46,503.94 C142.39,503.92 142.31,503.89 142.24,503.85 C142.17,503.82 142.10,503.76 142.04,503.71 C141.98,503.65 141.93,503.58 141.88,503.52 C141.83,503.45 141.80,503.37 141.76,503.29 C141.73,503.22 141.70,503.14 141.68,503.06 C141.65,502.97 141.63,502.89 141.62,502.80 C141.60,502.71 141.59,502.62 141.59,502.52 C141.59,502.43 141.60,502.33 141.62,502.23 C141.64,502.14 141.68,502.04 141.73,501.95 C141.77,501.86 141.84,501.78 141.91,501.72 C141.98,501.65 142.07,501.60 142.16,501.57 C142.25,501.53 142.34,501.52 142.43,501.52 C142.52,501.53 142.62,501.55 142.70,501.58 C142.78,501.61 142.86,501.66 142.93,501.71 C143.00,501.75 143.06,501.81 143.11,501.86 C143.17,501.92 143.21,501.97 143.26,502.03 C143.31,502.08 143.35,502.14 143.39,502.20 C143.43,502.25 143.47,502.31 143.51,502.37 C143.54,502.44 143.58,502.50 143.60,502.57 C143.63,502.65 143.65,502.72 143.65,502.80 Z" fill="none" stroke="#909090" stroke-width="0.6"/>
<path d="M118.80,497.00 Q122.32,509.00 118.80,521.00 Z" fill="#1a1a1a"/>
<rect x="118.80" y="499.00" width="1.54" height="20.00" fill="#1a1a1a"/>
<line x1="136.60" y1="511.20" x2="136.60" y2="530.50" stroke="#c4c4c4" stroke-width="0.8" />
<rect x="136.60" y="487.40" width="25.60" height="23.80" fill="none" stroke="#333" stroke-width="1.1" />
<text x="124.20" y="493.90" font-size="5.0" text-anchor="middle" fill="#4f7fae">75.2</text>
<text x="155.20" y="493.90" font-size="5.0" text-anchor="middle" fill="#4f7fae">9.79</text>
<text x="124.20" y="528.80" font-size="5.0" text-anchor="middle" fill="#4f7fae">24.9</text>
<text x="151.80" y="528.80" font-size="5.0" text-anchor="middle" fill="#4f7fae">0.0624</text>
<rect x="118.80" y="487.40" width="43.40" height="43.10" fill="none" stroke="#333" stroke-width="1.1" />
<line x1="117.20" y1="487.83" x2="118.80" y2="487.83" stroke="#333" stroke-width="0.7" />
<text x="114.70" y="489.73" font-size="5.4" text-anchor="end" fill="#444" textLength="5.0" lengthAdjust="spacingAndGlyphs">10</text>
<text x="114.80" y="487.63" font-size="3.4" fill="#444">3</text>
<line x1="117.20" y1="498.61" x2="118.80" y2="498.61" stroke="#333" stroke-width="0.7" />
<text x="114.70" y="500.51" font-size="5.4" text-anchor="end" fill="#444" textLength="5.0" lengthAdjust="spacingAndGlyphs">10</text>
<text x="114.80" y="498.41" font-size="3.4" fill="#444">2</text>
<line x1="117.20" y1="508.73" x2="118.80" y2="508.73" stroke="#333" stroke-width="0.7" />
<text x="114.70" y="510.63" font-size="5.4" text-anchor="end" fill="#444" textLength="5.0" lengthAdjust="spacingAndGlyphs">10</text>
<text x="114.80" y="508.53" font-size="3.4" fill="#444">1</text>
<line x1="117.20" y1="519.29" x2="118.80" y2="519.29" stroke="#333" stroke-width="0.7" />
<text x="114.70" y="521.19" font-size="5.4" text-anchor="end" fill="#444" textLength="5.0" lengthAdjust="spacingAndGlyphs">10</text>
<text x="114.80" y="519.09" font-size="3.4" fill="#444">0</text>
<line x1="129.87" y1="530.50" x2="129.87" y2="532.10" stroke="#333" stroke-width="0.7" />
<text x="128.77" y="538.60" font-size="5.4" text-anchor="middle" fill="#444" textLength="5.0" lengthAdjust="spacingAndGlyphs">10</text>
<text x="131.37" y="536.50" font-size="3.4" fill="#444">0</text>
<line x1="140.07" y1="530.50" x2="140.07" y2="532.10" stroke="#333" stroke-width="0.7" />
<text x="138.97" y="538.60" font-size="5.4" text-anchor="middle" fill="#444" textLength="5.0" lengthAdjust="spacingAndGlyphs">10</text>
<text x="141.57" y="536.50" font-size="3.4" fill="#444">1</text>
<line x1="150.48" y1="530.50" x2="150.48" y2="532.10" stroke="#333" stroke-width="0.7" />
<text x="149.38" y="538.60" font-size="5.4" text-anchor="middle" fill="#444" textLength="5.0" lengthAdjust="spacingAndGlyphs">10</text>
<text x="151.98" y="536.50" font-size="3.4" fill="#444">2</text>
<line x1="161.77" y1="530.50" x2="161.77" y2="532.10" stroke="#333" stroke-width="0.7" />
<text x="160.67" y="538.60" font-size="5.4" text-anchor="middle" fill="#444" textLength="5.0" lengthAdjust="spacingAndGlyphs">10</text>
<text x="163.27" y="536.50" font-size="3.4" fill="#444">3</text>
<path d="M65.47,575.25 C65.16,575.96 64.75,576.70 64.26,577.35 C63.78,577.99 63.18,578.63 62.57,579.13 C61.95,579.63 61.25,580.05 60.57,580.34 C59.90,580.63 59.18,580.79 58.53,580.86 C57.87,580.93 57.23,580.86 56.64,580.74 C56.05,580.62 55.51,580.40 55.01,580.14 C54.51,579.89 54.06,579.58 53.63,579.24 C53.21,578.89 52.82,578.52 52.46,578.09 C52.11,577.67 51.78,577.21 51.52,576.69 C51.26,576.17 51.03,575.59 50.90,574.97 C50.77,574.36 50.70,573.67 50.74,572.97 C50.78,572.28 50.92,571.52 51.15,570.81 C51.37,570.10 51.71,569.36 52.10,568.70 C52.49,568.04 52.98,567.41 53.47,566.85 C53.97,566.29 54.53,565.80 55.08,565.36 C55.63,564.93 56.21,564.57 56.77,564.26 C57.34,563.95 57.90,563.71 58.46,563.51 C59.01,563.31 59.57,563.16 60.10,563.07 C60.64,562.99 61.17,562.95 61.67,562.99 C62.17,563.02 62.66,563.12 63.10,563.29 C63.54,563.46 63.95,563.71 64.30,564.01 C64.65,564.30 64.95,564.67 65.20,565.07 C65.45,565.46 65.65,565.91 65.81,566.37 C65.98,566.83 66.09,567.32 66.19,567.82 C66.29,568.33 66.36,568.85 66.40,569.41 C66.44,569.96 66.46,570.54 66.42,571.16 C66.38,571.78 66.32,572.45 66.16,573.13 C66.01,573.81 65.79,574.55 65.47,575.25 Z" fill="#b4b4b4" opacity="0.55"/>
<path d="M65.02,574.94 C64.73,575.59 64.35,576.28 63.90,576.88 C63.46,577.48 62.90,578.06 62.34,578.53 C61.77,578.99 61.11,579.38 60.49,579.65 C59.86,579.92 59.20,580.07 58.59,580.13 C57.98,580.19 57.39,580.13 56.84,580.02 C56.30,579.91 55.80,579.70 55.34,579.47 C54.87,579.24 54.45,578.94 54.06,578.63 C53.67,578.31 53.30,577.96 52.98,577.57 C52.65,577.17 52.35,576.75 52.10,576.27 C51.86,575.79 51.65,575.25 51.53,574.68 C51.41,574.11 51.35,573.47 51.38,572.83 C51.42,572.18 51.55,571.48 51.76,570.83 C51.97,570.17 52.28,569.49 52.64,568.87 C53.00,568.26 53.45,567.67 53.91,567.16 C54.37,566.64 54.89,566.18 55.40,565.78 C55.91,565.38 56.45,565.05 56.97,564.76 C57.49,564.48 58.01,564.25 58.53,564.06 C59.04,563.88 59.55,563.74 60.05,563.66 C60.55,563.58 61.04,563.55 61.50,563.58 C61.97,563.61 62.42,563.71 62.82,563.86 C63.23,564.02 63.61,564.25 63.93,564.52 C64.26,564.80 64.54,565.14 64.77,565.51 C65.01,565.87 65.19,566.29 65.34,566.71 C65.49,567.14 65.60,567.59 65.69,568.06 C65.78,568.53 65.84,569.01 65.88,569.52 C65.92,570.04 65.94,570.57 65.90,571.15 C65.87,571.72 65.81,572.34 65.66,572.97 C65.52,573.60 65.32,574.29 65.02,574.94 Z" fill="none" stroke="#707070" stroke-width="0.6"/>
<path d="M64.22,574.37 C63.98,574.94 63.67,575.55 63.29,576.07 C62.91,576.60 62.43,577.12 61.94,577.52 C61.45,577.92 60.88,578.27 60.34,578.50 C59.80,578.72 59.22,578.85 58.70,578.89 C58.18,578.94 57.66,578.87 57.20,578.76 C56.74,578.66 56.31,578.46 55.92,578.25 C55.52,578.05 55.17,577.79 54.84,577.52 C54.50,577.24 54.20,576.94 53.92,576.61 C53.64,576.27 53.37,575.92 53.16,575.51 C52.94,575.10 52.75,574.65 52.64,574.16 C52.54,573.67 52.47,573.12 52.51,572.57 C52.54,572.02 52.65,571.42 52.83,570.85 C53.01,570.28 53.29,569.70 53.60,569.18 C53.92,568.65 54.31,568.15 54.71,567.72 C55.11,567.28 55.57,566.90 56.01,566.57 C56.45,566.24 56.90,565.97 57.35,565.74 C57.79,565.51 58.24,565.32 58.67,565.18 C59.10,565.03 59.53,564.92 59.94,564.86 C60.36,564.79 60.77,564.77 61.16,564.80 C61.54,564.83 61.92,564.91 62.26,565.05 C62.59,565.18 62.91,565.38 63.17,565.61 C63.44,565.84 63.67,566.13 63.86,566.44 C64.05,566.75 64.19,567.10 64.32,567.45 C64.44,567.80 64.53,568.18 64.61,568.56 C64.69,568.95 64.75,569.34 64.79,569.77 C64.84,570.20 64.87,570.64 64.86,571.12 C64.85,571.61 64.82,572.13 64.71,572.67 C64.61,573.21 64.46,573.81 64.22,574.37 Z" fill="none" stroke="#636363" stroke-width="0.6"/>
<path d="M63.40,573.80 C63.21,574.28 62.96,574.80 62.65,575.24 C62.34,575.69 61.94,576.13 61.53,576.47 C61.12,576.81 60.64,577.10 60.19,577.29 C59.74,577.48 59.25,577.58 58.81,577.61 C58.38,577.64 57.95,577.57 57.57,577.47 C57.18,577.37 56.83,577.20 56.51,577.02 C56.19,576.84 55.90,576.62 55.62,576.39 C55.35,576.16 55.10,575.92 54.86,575.64 C54.63,575.36 54.40,575.07 54.22,574.74 C54.04,574.40 53.88,574.03 53.78,573.63 C53.69,573.22 53.63,572.77 53.66,572.31 C53.68,571.85 53.77,571.35 53.92,570.88 C54.08,570.40 54.31,569.92 54.58,569.48 C54.85,569.05 55.19,568.64 55.52,568.29 C55.86,567.93 56.24,567.62 56.61,567.36 C56.98,567.10 57.36,566.88 57.72,566.70 C58.09,566.52 58.45,566.38 58.80,566.26 C59.16,566.15 59.50,566.07 59.84,566.02 C60.18,565.97 60.51,565.95 60.82,565.98 C61.13,566.01 61.44,566.08 61.71,566.19 C61.98,566.30 62.23,566.46 62.44,566.66 C62.65,566.85 62.83,567.09 62.98,567.34 C63.13,567.59 63.24,567.87 63.34,568.15 C63.44,568.44 63.51,568.74 63.58,569.05 C63.65,569.36 63.70,569.67 63.75,570.01 C63.79,570.35 63.84,570.71 63.84,571.10 C63.84,571.50 63.84,571.92 63.77,572.37 C63.69,572.82 63.59,573.32 63.40,573.80 Z" fill="none" stroke="#565656" stroke-width="0.6"/>
<path d="M62.57,573.22 C62.43,573.60 62.23,574.02 61.99,574.38 C61.75,574.74 61.43,575.10 61.11,575.38 C60.78,575.66 60.40,575.89 60.03,576.04 C59.67,576.19 59.28,576.26 58.93,576.28 C58.58,576.30 58.24,576.23 57.94,576.15 C57.64,576.06 57.37,575.92 57.11,575.77 C56.86,575.62 56.63,575.44 56.42,575.26 C56.20,575.07 56.00,574.88 55.82,574.66 C55.63,574.45 55.45,574.22 55.30,573.96 C55.16,573.69 55.02,573.40 54.94,573.08 C54.87,572.76 54.82,572.40 54.83,572.04 C54.85,571.68 54.92,571.27 55.05,570.90 C55.17,570.53 55.36,570.14 55.58,569.80 C55.79,569.46 56.07,569.13 56.34,568.86 C56.61,568.58 56.92,568.35 57.21,568.14 C57.50,567.94 57.81,567.78 58.09,567.65 C58.38,567.51 58.66,567.41 58.94,567.33 C59.21,567.24 59.48,567.18 59.74,567.15 C60.00,567.12 60.26,567.10 60.50,567.13 C60.74,567.15 60.97,567.20 61.18,567.29 C61.39,567.38 61.58,567.51 61.74,567.66 C61.90,567.81 62.03,568.00 62.14,568.19 C62.26,568.39 62.34,568.61 62.41,568.83 C62.49,569.04 62.54,569.27 62.60,569.51 C62.65,569.74 62.70,569.98 62.74,570.24 C62.78,570.50 62.83,570.77 62.84,571.08 C62.86,571.38 62.87,571.72 62.83,572.08 C62.78,572.43 62.71,572.83 62.57,573.22 Z" fill="none" stroke="#494949" stroke-width="0.6"/>
<path d="M61.72,572.63 C61.63,572.91 61.49,573.23 61.31,573.50 C61.14,573.76 60.91,574.04 60.66,574.24 C60.42,574.45 60.14,574.62 59.87,574.73 C59.60,574.84 59.31,574.89 59.05,574.90 C58.80,574.91 58.55,574.86 58.33,574.79 C58.10,574.72 57.91,574.61 57.72,574.49 C57.54,574.38 57.38,574.25 57.22,574.11 C57.06,573.98 56.92,573.83 56.78,573.68 C56.65,573.52 56.51,573.36 56.40,573.16 C56.29,572.97 56.19,572.76 56.13,572.53 C56.07,572.30 56.03,572.03 56.04,571.77 C56.05,571.50 56.11,571.20 56.20,570.93 C56.29,570.65 56.44,570.37 56.60,570.12 C56.76,569.87 56.96,569.63 57.17,569.44 C57.37,569.24 57.60,569.07 57.81,568.93 C58.03,568.78 58.25,568.68 58.46,568.58 C58.67,568.49 58.87,568.42 59.07,568.36 C59.27,568.31 59.46,568.27 59.64,568.24 C59.83,568.22 60.01,568.21 60.18,568.23 C60.35,568.25 60.52,568.29 60.67,568.36 C60.81,568.42 60.95,568.52 61.06,568.63 C61.18,568.73 61.27,568.87 61.35,569.01 C61.42,569.15 61.48,569.31 61.53,569.46 C61.58,569.62 61.62,569.78 61.66,569.94 C61.70,570.11 61.74,570.27 61.78,570.46 C61.81,570.64 61.85,570.84 61.87,571.06 C61.89,571.28 61.91,571.52 61.89,571.78 C61.86,572.04 61.82,572.34 61.72,572.63 Z" fill="none" stroke="#3c3c3c" stroke-width="0.6"/>
<path d="M60.86,572.02 C60.81,572.21 60.72,572.41 60.61,572.58 C60.50,572.76 60.36,572.93 60.20,573.06 C60.05,573.20 59.87,573.31 59.70,573.38 C59.53,573.44 59.34,573.47 59.18,573.48 C59.02,573.48 58.86,573.44 58.72,573.40 C58.58,573.35 58.46,573.27 58.34,573.20 C58.23,573.13 58.13,573.04 58.03,572.95 C57.93,572.87 57.84,572.78 57.76,572.68 C57.67,572.58 57.58,572.48 57.51,572.36 C57.44,572.24 57.38,572.11 57.34,571.97 C57.30,571.82 57.27,571.65 57.28,571.48 C57.28,571.32 57.32,571.13 57.38,570.95 C57.44,570.78 57.53,570.60 57.63,570.44 C57.74,570.29 57.87,570.14 58.00,570.02 C58.13,569.89 58.27,569.79 58.41,569.71 C58.54,569.62 58.68,569.56 58.82,569.50 C58.95,569.45 59.07,569.41 59.20,569.37 C59.32,569.34 59.44,569.32 59.55,569.31 C59.66,569.29 59.78,569.29 59.88,569.30 C59.99,569.32 60.09,569.34 60.18,569.38 C60.27,569.42 60.35,569.48 60.42,569.55 C60.48,569.62 60.54,569.70 60.58,569.79 C60.63,569.88 60.66,569.97 60.69,570.07 C60.72,570.16 60.75,570.26 60.77,570.36 C60.80,570.46 60.83,570.56 60.85,570.67 C60.88,570.78 60.91,570.90 60.93,571.03 C60.94,571.17 60.96,571.32 60.95,571.49 C60.94,571.65 60.92,571.84 60.86,572.02 Z" fill="none" stroke="#303030" stroke-width="0.6"/>
<ellipse cx="59.40" cy="571.00" rx="0.97" ry="1.35" fill="#fff"/>
<path d="M60.00,575.00 C61.33,573.83 63.50,572.58 66.00,572.00 C68.50,571.42 72.67,571.33 75.00,571.50 C77.33,571.67 79.08,571.92 80.00,573.00 C80.92,574.08 81.50,576.75 80.50,578.00 C79.50,579.25 76.75,580.00 74.00,580.50 C71.25,581.00 66.67,581.25 64.00,581.00 C61.33,580.75 58.67,580.00 58.00,579.00 C57.33,578.00 58.67,576.17 60.00,575.00 Z" fill="#d0d0d0" opacity="0.6"/>
<path d="M60.00,575.00 C61.33,573.83 63.50,572.58 66.00,572.00 C68.50,571.42 72.67,571.33 75.00,571.50 C77.33,571.67 79.08,571.92 80.00,573.00 C80.92,574.08 81.50,576.75 80.50,578.00 C79.50,579.25 76.75,580.00 74.00,580.50 C71.25,581.00 66.67,581.25 64.00,581.00 C61.33,580.75 58.67,580.00 58.00,579.00 C57.33,578.00 58.67,576.17 60.00,575.00 Z" fill="none" stroke="#909090" stroke-width="0.6"/>
<path d="M62.75,575.38 C63.75,574.50 65.38,573.56 67.25,573.12 C69.12,572.69 72.25,572.62 74.00,572.75 C75.75,572.88 77.06,573.06 77.75,573.88 C78.44,574.69 78.88,576.69 78.12,577.62 C77.38,578.56 75.31,579.12 73.25,579.50 C71.19,579.88 67.75,580.06 65.75,579.88 C63.75,579.69 61.75,579.12 61.25,578.38 C60.75,577.62 61.75,576.25 62.75,575.38 Z" fill="none" stroke="#787878" stroke-width="0.6"/>
<path d="M65.50,575.75 C66.17,575.17 67.25,574.54 68.50,574.25 C69.75,573.96 71.83,573.92 73.00,574.00 C74.17,574.08 75.04,574.21 75.50,574.75 C75.96,575.29 76.25,576.62 75.75,577.25 C75.25,577.88 73.88,578.25 72.50,578.50 C71.12,578.75 68.83,578.88 67.50,578.75 C66.17,578.62 64.83,578.25 64.50,577.75 C64.17,577.25 64.83,576.33 65.50,575.75 Z" fill="none" stroke="#606060" stroke-width="0.6"/>
<path d="M72,572.5 Q80,571 80.5,575.5 Q80,579.5 72,578.5" fill="none" stroke="#111" stroke-width="1.9"/>
<path d="M68,567 Q75,565 80,568" fill="none" stroke="#999" stroke-width="0.6"/>
<path d="M49.40,562.00 Q53.24,574.00 49.40,586.00 Z" fill="#1a1a1a"/>
<rect x="49.40" y="564.00" width="1.68" height="20.00" fill="#1a1a1a"/>
<line x1="70.50" y1="572.60" x2="70.50" y2="593.20" stroke="#c4c4c4" stroke-width="0.8" />
<rect x="70.50" y="551.10" width="21.70" height="21.50" fill="none" stroke="#333" stroke-width="1.1" />
<text x="54.20" y="556.50" font-size="5.0" text-anchor="middle" fill="#4f7fae">30.3</text>
<text x="85.20" y="556.90" font-size="5.0" text-anchor="middle" fill="#555">5.12</text>
<text x="54.90" y="591.80" font-size="5.0" text-anchor="middle" fill="#4f7fae">35.2</text>
<text x="84.50" y="591.80" font-size="5.0" text-anchor="middle" fill="#4f7fae">29.4</text>
<rect x="49.40" y="551.10" width="42.80" height="42.10" fill="none" stroke="#333" stroke-width="1.1" />
<line x1="47.80" y1="551.52" x2="49.40" y2="551.52" stroke="#333" stroke-width="0.7" />
<text x="45.30" y="553.42" font-size="5.4" text-anchor="end" fill="#444" textLength="5.0" lengthAdjust="spacingAndGlyphs">10</text>
<text x="45.40" y="551.32" font-size="3.4" fill="#444">3</text>
<line x1="47.80" y1="562.05" x2="49.40" y2="562.05" stroke="#333" stroke-width="0.7" />
<text x="45.30" y="563.95" font-size="5.4" text-anchor="end" fill="#444" textLength="5.0" lengthAdjust="spacingAndGlyphs">10</text>
<text x="45.40" y="561.85" font-size="3.4" fill="#444">2</text>
<line x1="47.80" y1="571.94" x2="49.40" y2="571.94" stroke="#333" stroke-width="0.7" />
<text x="45.30" y="573.84" font-size="5.4" text-anchor="end" fill="#444" textLength="5.0" lengthAdjust="spacingAndGlyphs">10</text>
<text x="45.40" y="571.74" font-size="3.4" fill="#444">1</text>
<line x1="47.80" y1="582.25" x2="49.40" y2="582.25" stroke="#333" stroke-width="0.7" />
<text x="45.30" y="584.15" font-size="5.4" text-anchor="end" fill="#444" textLength="5.0" lengthAdjust="spacingAndGlyphs">10</text>
<text x="45.40" y="582.05" font-size="3.4" fill="#444">0</text>
<line x1="60.31" y1="593.20" x2="60.31" y2="594.80" stroke="#333" stroke-width="0.7" />
<text x="59.21" y="601.30" font-size="5.4" text-anchor="middle" fill="#444" textLength="5.0" lengthAdjust="spacingAndGlyphs">10</text>
<text x="61.81" y="599.20" font-size="3.4" fill="#444">0</text>
<line x1="70.37" y1="593.20" x2="70.37" y2="594.80" stroke="#333" stroke-width="0.7" />
<text x="69.27" y="601.30" font-size="5.4" text-anchor="middle" fill="#444" textLength="5.0" lengthAdjust="spacingAndGlyphs">10</text>
<text x="71.87" y="599.20" font-size="3.4" fill="#444">1</text>
<line x1="80.64" y1="593.20" x2="80.64" y2="594.80" stroke="#333" stroke-width="0.7" />
<text x="79.54" y="601.30" font-size="5.4" text-anchor="middle" fill="#444" textLength="5.0" lengthAdjust="spacingAndGlyphs">10</text>
<text x="82.14" y="599.20" font-size="3.4" fill="#444">2</text>
<line x1="91.77" y1="593.20" x2="91.77" y2="594.80" stroke="#333" stroke-width="0.7" />
<text x="90.67" y="601.30" font-size="5.4" text-anchor="middle" fill="#444" textLength="5.0" lengthAdjust="spacingAndGlyphs">10</text>
<text x="93.27" y="599.20" font-size="3.4" fill="#444">3</text>
<path d="M122.00,577.00 C121.67,574.50 124.00,570.83 126.00,569.00 C128.00,567.17 131.17,566.33 134.00,566.00 C136.83,565.67 140.33,566.33 143.00,567.00 C145.67,567.67 148.42,568.33 150.00,570.00 C151.58,571.67 152.67,574.83 152.50,577.00 C152.33,579.17 151.08,581.67 149.00,583.00 C146.92,584.33 143.50,584.83 140.00,585.00 C136.50,585.17 131.00,585.33 128.00,584.00 C125.00,582.67 122.33,579.50 122.00,577.00 Z" fill="#d6d6d6" opacity="0.6"/>
<path d="M122.00,577.00 C121.67,574.50 124.00,570.83 126.00,569.00 C128.00,567.17 131.17,566.33 134.00,566.00 C136.83,565.67 140.33,566.33 143.00,567.00 C145.67,567.67 148.42,568.33 150.00,570.00 C151.58,571.67 152.67,574.83 152.50,577.00 C152.33,579.17 151.08,581.67 149.00,583.00 C146.92,584.33 143.50,584.83 140.00,585.00 C136.50,585.17 131.00,585.33 128.00,584.00 C125.00,582.67 122.33,579.50 122.00,577.00 Z" fill="none" stroke="#a8a8a8" stroke-width="0.6"/>
<path d="M124.75,577.00 C124.48,574.96 126.38,571.96 128.02,570.47 C129.65,568.97 132.24,568.29 134.55,568.02 C136.86,567.74 139.72,568.29 141.90,568.83 C144.08,569.38 146.32,569.92 147.62,571.28 C148.91,572.64 149.79,575.23 149.66,577.00 C149.52,578.77 148.50,580.81 146.80,581.90 C145.10,582.99 142.31,583.40 139.45,583.53 C136.59,583.67 132.10,583.81 129.65,582.72 C127.20,581.63 125.02,579.04 124.75,577.00 Z" fill="none" stroke="#9a9a9a" stroke-width="0.6"/>
<path d="M127.50,577.00 C127.29,575.42 128.77,573.09 130.03,571.93 C131.30,570.77 133.31,570.24 135.10,570.03 C136.89,569.82 139.11,570.24 140.80,570.67 C142.49,571.09 144.23,571.51 145.23,572.57 C146.24,573.62 146.92,575.63 146.82,577.00 C146.71,578.37 145.92,579.96 144.60,580.80 C143.28,581.64 141.12,581.96 138.90,582.07 C136.68,582.17 133.20,582.28 131.30,581.43 C129.40,580.59 127.71,578.58 127.50,577.00 Z" fill="none" stroke="#8d8d8d" stroke-width="0.6"/>
<path d="M130.25,577.00 C130.10,575.88 131.15,574.23 132.05,573.40 C132.95,572.57 134.38,572.20 135.65,572.05 C136.93,571.90 138.50,572.20 139.70,572.50 C140.90,572.80 142.14,573.10 142.85,573.85 C143.56,574.60 144.05,576.02 143.97,577.00 C143.90,577.98 143.34,579.10 142.40,579.70 C141.46,580.30 139.93,580.53 138.35,580.60 C136.77,580.67 134.30,580.75 132.95,580.15 C131.60,579.55 130.40,578.12 130.25,577.00 Z" fill="none" stroke="#808080" stroke-width="0.6"/>
<path d="M127,580.5 Q134,584.5 143,583 Q150,582 150.5,575.5" fill="none" stroke="#111" stroke-width="1.6"/>
<ellipse cx="147.10" cy="563.70" rx="2.50" ry="3.20" transform="rotate(20 147.10 563.70)" fill="#f6f6f6" stroke="#111" stroke-width="1.8"/>
<path d="M118.80,567.00 Q121.04,575.50 118.80,584.00 Z" fill="#1a1a1a"/>
<rect x="118.80" y="569.00" width="0.98" height="13.00" fill="#1a1a1a"/>
<line x1="141.30" y1="573.90" x2="141.30" y2="593.20" stroke="#c4c4c4" stroke-width="0.8" />
<rect x="141.30" y="551.10" width="20.60" height="22.80" fill="none" stroke="#333" stroke-width="1.1" />
<text x="122.90" y="556.50" font-size="5.0" text-anchor="middle" fill="#4f7fae">10</text>
<text x="156.50" y="556.50" font-size="5.0" text-anchor="middle" fill="#555">21</text>
<text x="124.90" y="592.40" font-size="5.0" text-anchor="middle" fill="#4f7fae">34.4</text>
<text x="155.20" y="592.40" font-size="5.0" text-anchor="middle" fill="#4f7fae">34.6</text>
<rect x="118.80" y="551.10" width="43.10" height="42.10" fill="none" stroke="#333" stroke-width="1.1" />
<line x1="117.20" y1="551.52" x2="118.80" y2="551.52" stroke="#333" stroke-width="0.7" />
<text x="114.70" y="553.42" font-size="5.4" text-anchor="end" fill="#444" textLength="5.0" lengthAdjust="spacingAndGlyphs">10</text>
<text x="114.80" y="551.32" font-size="3.4" fill="#444">3</text>
<line x1="117.20" y1="562.05" x2="118.80" y2="562.05" stroke="#333" stroke-width="0.7" />
<text x="114.70" y="563.95" font-size="5.4" text-anchor="end" fill="#444" textLength="5.0" lengthAdjust="spacingAndGlyphs">10</text>
<text x="114.80" y="561.85" font-size="3.4" fill="#444">2</text>
<line x1="117.20" y1="571.94" x2="118.80" y2="571.94" stroke="#333" stroke-width="0.7" />
<text x="114.70" y="573.84" font-size="5.4" text-anchor="end" fill="#444" textLength="5.0" lengthAdjust="spacingAndGlyphs">10</text>
<text x="114.80" y="571.74" font-size="3.4" fill="#444">1</text>
<line x1="117.20" y1="582.25" x2="118.80" y2="582.25" stroke="#333" stroke-width="0.7" />
<text x="114.70" y="584.15" font-size="5.4" text-anchor="end" fill="#444" textLength="5.0" lengthAdjust="spacingAndGlyphs">10</text>
<text x="114.80" y="582.05" font-size="3.4" fill="#444">0</text>
<line x1="129.79" y1="593.20" x2="129.79" y2="594.80" stroke="#333" stroke-width="0.7" />
<text x="128.69" y="601.30" font-size="5.4" text-anchor="middle" fill="#444" textLength="5.0" lengthAdjust="spacingAndGlyphs">10</text>
<text x="131.29" y="599.20" font-size="3.4" fill="#444">0</text>
<line x1="139.92" y1="593.20" x2="139.92" y2="594.80" stroke="#333" stroke-width="0.7" />
<text x="138.82" y="601.30" font-size="5.4" text-anchor="middle" fill="#444" textLength="5.0" lengthAdjust="spacingAndGlyphs">10</text>
<text x="141.42" y="599.20" font-size="3.4" fill="#444">1</text>
<line x1="150.26" y1="593.20" x2="150.26" y2="594.80" stroke="#333" stroke-width="0.7" />
<text x="149.16" y="601.30" font-size="5.4" text-anchor="middle" fill="#444" textLength="5.0" lengthAdjust="spacingAndGlyphs">10</text>
<text x="151.76" y="599.20" font-size="3.4" fill="#444">2</text>
<line x1="161.47" y1="593.20" x2="161.47" y2="594.80" stroke="#333" stroke-width="0.7" />
<text x="160.37" y="601.30" font-size="5.4" text-anchor="middle" fill="#444" textLength="5.0" lengthAdjust="spacingAndGlyphs">10</text>
<text x="162.97" y="599.20" font-size="3.4" fill="#444">3</text>
<text x="102.40" y="633.77" font-size="8.8" text-anchor="middle" fill="#2b2b2b" stroke="#2b2b2b" stroke-width="0.1" textLength="52.80" lengthAdjust="spacingAndGlyphs">TMS CGVHD</text>
<text x="27.80" y="669.47" font-size="10.2" text-anchor="middle" fill="#2b2b2b" stroke="#2b2b2b" stroke-width="0.1" textLength="19.20" lengthAdjust="spacingAndGlyphs" transform="rotate(-90 27.80 665.80)">CCR7</text>
<text x="27.80" y="736.47" font-size="10.2" text-anchor="middle" fill="#2b2b2b" stroke="#2b2b2b" stroke-width="0.1" textLength="19.20" lengthAdjust="spacingAndGlyphs" transform="rotate(-90 27.80 732.80)">CCR7</text>
<text x="27.80" y="803.27" font-size="10.2" text-anchor="middle" fill="#2b2b2b" stroke="#2b2b2b" stroke-width="0.1" textLength="19.20" lengthAdjust="spacingAndGlyphs" transform="rotate(-90 27.80 799.60)">CCR7</text>
<text x="168.80" y="668.64" font-size="9.0" text-anchor="start" fill="#2b2b2b" stroke="#2b2b2b" stroke-width="0.1" textLength="13.10" lengthAdjust="spacingAndGlyphs">6M</text>
<text x="168.90" y="735.44" font-size="9.0" text-anchor="start" fill="#2b2b2b" stroke="#2b2b2b" stroke-width="0.1" textLength="13.20" lengthAdjust="spacingAndGlyphs">9M</text>
<text x="169.50" y="802.04" font-size="9.0" text-anchor="start" fill="#2b2b2b" stroke="#2b2b2b" stroke-width="0.1" textLength="17.60" lengthAdjust="spacingAndGlyphs">12M</text>
<text x="73.10" y="844.86" font-size="9.6" text-anchor="middle" fill="#2b2b2b" stroke="#2b2b2b" stroke-width="0.1" textLength="30.10" lengthAdjust="spacingAndGlyphs">CD45RA</text>
<text x="142.10" y="844.86" font-size="9.6" text-anchor="middle" fill="#2b2b2b" stroke="#2b2b2b" stroke-width="0.1" textLength="20.10" lengthAdjust="spacingAndGlyphs">CD95</text>
<path d="M64.56,676.24 C64.58,676.61 64.56,676.98 64.51,677.35 C64.47,677.71 64.38,678.07 64.26,678.44 C64.14,678.80 63.99,679.16 63.78,679.51 C63.58,679.87 63.33,680.22 63.04,680.55 C62.75,680.88 62.41,681.21 62.03,681.50 C61.65,681.80 61.22,682.07 60.77,682.32 C60.32,682.56 59.84,682.78 59.33,682.96 C58.82,683.15 58.29,683.30 57.74,683.42 C57.20,683.53 56.62,683.62 56.06,683.65 C55.49,683.68 54.90,683.68 54.33,683.61 C53.77,683.55 53.19,683.43 52.68,683.25 C52.18,683.07 51.68,682.83 51.28,682.53 C50.88,682.24 50.52,681.87 50.28,681.48 C50.04,681.09 49.89,680.63 49.83,680.19 C49.77,679.74 49.82,679.26 49.94,678.81 C50.05,678.36 50.26,677.90 50.50,677.48 C50.74,677.05 51.06,676.65 51.38,676.27 C51.70,675.88 52.06,675.53 52.44,675.18 C52.82,674.84 53.21,674.52 53.64,674.21 C54.07,673.90 54.51,673.60 55.00,673.33 C55.49,673.07 56.01,672.81 56.56,672.62 C57.10,672.42 57.70,672.25 58.28,672.16 C58.86,672.07 59.47,672.04 60.04,672.08 C60.60,672.12 61.17,672.24 61.65,672.41 C62.14,672.58 62.58,672.83 62.95,673.11 C63.32,673.38 63.61,673.72 63.85,674.06 C64.08,674.40 64.24,674.77 64.36,675.13 C64.48,675.50 64.53,675.88 64.56,676.24 Z" fill="#dcdcdc" opacity="0.6"/>
<path d="M64.07,676.37 C64.09,676.71 64.08,677.06 64.03,677.39 C63.99,677.73 63.91,678.07 63.80,678.40 C63.69,678.74 63.54,679.07 63.35,679.40 C63.17,679.73 62.94,680.06 62.67,680.36 C62.40,680.67 62.08,680.97 61.73,681.24 C61.38,681.52 60.99,681.77 60.57,682.00 C60.15,682.22 59.70,682.43 59.23,682.60 C58.76,682.76 58.27,682.91 57.76,683.01 C57.26,683.12 56.73,683.20 56.20,683.23 C55.67,683.26 55.13,683.26 54.60,683.20 C54.08,683.14 53.55,683.03 53.08,682.86 C52.61,682.70 52.14,682.47 51.77,682.20 C51.40,681.92 51.08,681.58 50.85,681.22 C50.63,680.86 50.49,680.44 50.44,680.03 C50.38,679.61 50.43,679.17 50.53,678.75 C50.64,678.33 50.83,677.91 51.06,677.52 C51.28,677.12 51.57,676.75 51.87,676.40 C52.17,676.04 52.50,675.71 52.85,675.39 C53.20,675.08 53.57,674.77 53.96,674.49 C54.36,674.20 54.77,673.92 55.22,673.68 C55.67,673.43 56.16,673.19 56.66,673.01 C57.17,672.83 57.72,672.68 58.26,672.60 C58.79,672.51 59.37,672.48 59.89,672.52 C60.41,672.56 60.93,672.67 61.38,672.82 C61.83,672.98 62.25,673.21 62.58,673.47 C62.92,673.72 63.20,674.04 63.42,674.35 C63.63,674.66 63.78,675.01 63.89,675.35 C64.00,675.68 64.05,676.03 64.07,676.37 Z" fill="none" stroke="#b0b0b0" stroke-width="0.6"/>
<path d="M61.73,677.00 C61.74,677.21 61.72,677.42 61.69,677.63 C61.66,677.84 61.61,678.04 61.54,678.25 C61.48,678.45 61.39,678.66 61.28,678.86 C61.16,679.06 61.03,679.26 60.86,679.45 C60.70,679.64 60.51,679.83 60.30,680.00 C60.08,680.17 59.84,680.33 59.59,680.47 C59.33,680.61 59.05,680.74 58.76,680.85 C58.47,680.96 58.17,681.05 57.85,681.12 C57.54,681.20 57.20,681.25 56.87,681.28 C56.54,681.30 56.19,681.31 55.86,681.28 C55.53,681.24 55.19,681.18 54.88,681.08 C54.58,680.98 54.28,680.84 54.04,680.67 C53.81,680.49 53.60,680.28 53.46,680.05 C53.31,679.82 53.23,679.55 53.20,679.29 C53.17,679.02 53.21,678.74 53.28,678.47 C53.35,678.21 53.49,677.94 53.63,677.70 C53.78,677.45 53.97,677.22 54.16,677.00 C54.36,676.78 54.57,676.57 54.79,676.37 C55.01,676.18 55.24,675.99 55.48,675.81 C55.73,675.63 55.98,675.45 56.26,675.30 C56.54,675.14 56.84,674.99 57.16,674.87 C57.48,674.75 57.82,674.65 58.16,674.60 C58.50,674.54 58.86,674.52 59.19,674.54 C59.52,674.57 59.85,674.64 60.13,674.74 C60.41,674.84 60.67,674.99 60.88,675.16 C61.08,675.32 61.25,675.53 61.37,675.73 C61.50,675.93 61.58,676.15 61.64,676.36 C61.70,676.57 61.72,676.79 61.73,677.00 Z" fill="none" stroke="#a4a4a4" stroke-width="0.6"/>
<path d="M59.47,677.61 C59.47,677.69 59.46,677.77 59.44,677.85 C59.43,677.94 59.41,678.02 59.39,678.10 C59.36,678.18 59.33,678.26 59.28,678.34 C59.24,678.41 59.19,678.49 59.12,678.57 C59.06,678.64 58.99,678.72 58.90,678.79 C58.82,678.85 58.73,678.92 58.63,678.98 C58.53,679.03 58.42,679.09 58.30,679.13 C58.19,679.18 58.07,679.22 57.94,679.25 C57.81,679.28 57.68,679.30 57.55,679.31 C57.41,679.33 57.27,679.33 57.14,679.32 C57.00,679.31 56.86,679.29 56.74,679.25 C56.61,679.21 56.49,679.15 56.39,679.08 C56.29,679.02 56.21,678.93 56.15,678.83 C56.09,678.74 56.06,678.63 56.05,678.52 C56.04,678.42 56.06,678.30 56.09,678.19 C56.12,678.08 56.18,677.98 56.24,677.88 C56.31,677.78 56.38,677.69 56.46,677.60 C56.54,677.51 56.63,677.43 56.72,677.35 C56.81,677.27 56.90,677.20 57.00,677.13 C57.09,677.05 57.19,676.98 57.30,676.92 C57.42,676.85 57.54,676.79 57.66,676.74 C57.79,676.69 57.93,676.65 58.07,676.63 C58.20,676.60 58.35,676.59 58.48,676.60 C58.61,676.61 58.75,676.64 58.86,676.69 C58.97,676.73 59.07,676.79 59.15,676.86 C59.24,676.93 59.30,677.01 59.35,677.09 C59.39,677.18 59.42,677.27 59.44,677.35 C59.46,677.44 59.46,677.52 59.47,677.61 Z" fill="none" stroke="#989898" stroke-width="0.6"/>
<path d="M55.00,679.44 C56.00,678.48 58.79,678.27 61.00,678.00 C63.21,677.73 65.33,677.82 68.25,677.82 C71.17,677.82 76.29,677.37 78.50,678.00 C80.71,678.63 81.50,680.40 81.50,681.60 C81.50,682.80 80.71,684.57 78.50,685.20 C76.29,685.83 71.17,685.38 68.25,685.38 C65.33,685.38 63.21,685.47 61.00,685.20 C58.79,684.93 56.00,684.72 55.00,683.76 C54.00,682.80 54.00,680.40 55.00,679.44 Z" fill="#6a6a6a" opacity="0.6"/>
<path d="M55.00,679.44 C56.00,678.48 58.79,678.27 61.00,678.00 C63.21,677.73 65.33,677.82 68.25,677.82 C71.17,677.82 76.29,677.37 78.50,678.00 C80.71,678.63 81.50,680.40 81.50,681.60 C81.50,682.80 80.71,684.57 78.50,685.20 C76.29,685.83 71.17,685.38 68.25,685.38 C65.33,685.38 63.21,685.47 61.00,685.20 C58.79,684.93 56.00,684.72 55.00,683.76 C54.00,682.80 54.00,680.40 55.00,679.44 Z" fill="none" stroke="#404040" stroke-width="0.6"/>
<path d="M58.31,679.98 C59.06,679.26 61.16,679.10 62.81,678.90 C64.47,678.70 66.06,678.77 68.25,678.77 C70.44,678.77 74.28,678.43 75.94,678.90 C77.59,679.37 78.19,680.70 78.19,681.60 C78.19,682.50 77.59,683.83 75.94,684.30 C74.28,684.77 70.44,684.43 68.25,684.43 C66.06,684.43 64.47,684.50 62.81,684.30 C61.16,684.10 59.06,683.94 58.31,683.22 C57.56,682.50 57.56,680.70 58.31,679.98 Z" fill="none" stroke="#383838" stroke-width="0.6"/>
<path d="M61.62,680.52 C62.12,680.04 63.52,679.93 64.62,679.80 C65.73,679.66 66.79,679.71 68.25,679.71 C69.71,679.71 72.27,679.48 73.38,679.80 C74.48,680.12 74.88,681.00 74.88,681.60 C74.88,682.20 74.48,683.09 73.38,683.40 C72.27,683.72 69.71,683.49 68.25,683.49 C66.79,683.49 65.73,683.54 64.62,683.40 C63.52,683.27 62.12,683.16 61.62,682.68 C61.12,682.20 61.12,681.00 61.62,680.52 Z" fill="none" stroke="#303030" stroke-width="0.6"/>
<path d="M64.28,678.90 L78.50,678.90 Q82.00,681.60 78.50,684.30 L64.28,684.30" fill="none" stroke="#111" stroke-width="1.7"/>
<path d="M60.00,681.60 L76.50,681.60" stroke="#e8e8e8" stroke-width="0.9"/>
<path d="M80.45,666.47 C80.36,666.77 80.24,667.09 80.10,667.38 C79.96,667.68 79.79,667.97 79.60,668.23 C79.42,668.49 79.21,668.74 79.00,668.95 C78.79,669.17 78.56,669.36 78.32,669.52 C78.09,669.68 77.84,669.81 77.60,669.90 C77.36,669.98 77.11,670.04 76.87,670.04 C76.64,670.05 76.40,670.01 76.19,669.93 C75.98,669.85 75.78,669.72 75.60,669.55 C75.43,669.39 75.28,669.18 75.16,668.95 C75.04,668.73 74.94,668.46 74.87,668.19 C74.80,667.92 74.75,667.63 74.73,667.33 C74.70,667.04 74.69,666.73 74.71,666.42 C74.72,666.11 74.76,665.79 74.81,665.47 C74.87,665.15 74.95,664.82 75.05,664.50 C75.15,664.18 75.28,663.86 75.44,663.56 C75.59,663.27 75.77,662.97 75.97,662.73 C76.16,662.48 76.39,662.26 76.61,662.09 C76.84,661.92 77.08,661.79 77.31,661.71 C77.54,661.63 77.77,661.61 77.98,661.61 C78.19,661.61 78.39,661.66 78.57,661.73 C78.75,661.80 78.92,661.90 79.07,662.00 C79.23,662.11 79.37,662.23 79.50,662.36 C79.64,662.49 79.76,662.62 79.88,662.78 C80.00,662.93 80.12,663.09 80.22,663.28 C80.32,663.46 80.42,663.67 80.49,663.90 C80.56,664.13 80.62,664.38 80.64,664.66 C80.67,664.93 80.67,665.23 80.64,665.53 C80.60,665.83 80.54,666.16 80.45,666.47 Z" fill="#dadada" opacity="0.6"/>
<path d="M80.26,666.39 C80.17,666.68 80.06,666.97 79.93,667.24 C79.80,667.52 79.64,667.78 79.47,668.03 C79.30,668.27 79.11,668.50 78.91,668.70 C78.71,668.89 78.50,669.08 78.28,669.22 C78.07,669.37 77.84,669.49 77.61,669.57 C77.39,669.65 77.16,669.70 76.94,669.71 C76.72,669.71 76.50,669.68 76.31,669.60 C76.11,669.53 75.93,669.40 75.77,669.25 C75.61,669.10 75.47,668.91 75.36,668.70 C75.24,668.49 75.15,668.24 75.09,667.99 C75.02,667.74 74.98,667.47 74.95,667.20 C74.93,666.92 74.92,666.64 74.94,666.35 C74.95,666.06 74.98,665.76 75.03,665.47 C75.09,665.17 75.16,664.87 75.25,664.57 C75.35,664.28 75.47,663.98 75.61,663.70 C75.75,663.43 75.92,663.16 76.10,662.93 C76.29,662.71 76.49,662.50 76.70,662.34 C76.91,662.19 77.13,662.07 77.34,661.99 C77.56,661.92 77.77,661.89 77.96,661.90 C78.16,661.90 78.34,661.95 78.51,662.01 C78.68,662.07 78.84,662.16 78.98,662.26 C79.12,662.36 79.25,662.47 79.38,662.59 C79.50,662.71 79.62,662.84 79.73,662.98 C79.84,663.12 79.95,663.27 80.04,663.44 C80.13,663.61 80.22,663.80 80.29,664.02 C80.35,664.23 80.41,664.47 80.43,664.72 C80.45,664.97 80.46,665.25 80.43,665.53 C80.40,665.81 80.34,666.11 80.26,666.39 Z" fill="none" stroke="#909090" stroke-width="0.6"/>
<path d="M79.34,666.06 C79.29,666.24 79.22,666.42 79.13,666.59 C79.05,666.77 78.95,666.93 78.85,667.09 C78.74,667.24 78.62,667.38 78.50,667.51 C78.38,667.64 78.24,667.75 78.10,667.85 C77.97,667.94 77.82,668.02 77.68,668.07 C77.54,668.13 77.39,668.16 77.26,668.16 C77.12,668.17 76.98,668.14 76.86,668.10 C76.73,668.05 76.61,667.97 76.52,667.87 C76.42,667.78 76.33,667.65 76.26,667.52 C76.19,667.38 76.13,667.23 76.09,667.07 C76.05,666.91 76.03,666.74 76.01,666.57 C76.00,666.39 76.00,666.21 76.00,666.03 C76.01,665.85 76.03,665.67 76.06,665.48 C76.10,665.29 76.14,665.10 76.20,664.92 C76.26,664.73 76.33,664.54 76.42,664.37 C76.51,664.20 76.62,664.03 76.73,663.88 C76.85,663.74 76.98,663.61 77.11,663.52 C77.24,663.42 77.38,663.35 77.52,663.31 C77.65,663.27 77.78,663.26 77.90,663.26 C78.02,663.27 78.14,663.31 78.24,663.35 C78.34,663.40 78.43,663.46 78.52,663.52 C78.61,663.59 78.68,663.66 78.76,663.73 C78.83,663.81 78.90,663.88 78.97,663.97 C79.04,664.05 79.11,664.14 79.17,664.24 C79.23,664.35 79.29,664.46 79.33,664.59 C79.37,664.72 79.41,664.86 79.43,665.02 C79.45,665.17 79.45,665.34 79.44,665.52 C79.42,665.69 79.39,665.88 79.34,666.06 Z" fill="none" stroke="#787878" stroke-width="0.6"/>
<path d="M78.41,665.72 C78.40,665.80 78.37,665.87 78.34,665.94 C78.30,666.01 78.26,666.08 78.22,666.14 C78.18,666.20 78.13,666.26 78.08,666.31 C78.03,666.36 77.98,666.41 77.92,666.45 C77.87,666.49 77.81,666.52 77.75,666.54 C77.70,666.56 77.64,666.58 77.58,666.58 C77.52,666.58 77.47,666.57 77.42,666.55 C77.37,666.53 77.32,666.50 77.28,666.46 C77.24,666.42 77.21,666.37 77.18,666.31 C77.15,666.26 77.13,666.20 77.11,666.13 C77.10,666.07 77.09,666.00 77.08,665.93 C77.08,665.86 77.08,665.79 77.08,665.71 C77.08,665.64 77.09,665.57 77.10,665.49 C77.12,665.42 77.13,665.34 77.16,665.27 C77.18,665.19 77.21,665.11 77.24,665.04 C77.28,664.97 77.32,664.91 77.37,664.85 C77.42,664.79 77.47,664.74 77.52,664.70 C77.58,664.66 77.63,664.64 77.69,664.62 C77.74,664.61 77.79,664.61 77.84,664.61 C77.89,664.62 77.93,664.64 77.97,664.66 C78.01,664.67 78.05,664.70 78.08,664.73 C78.11,664.76 78.14,664.79 78.17,664.81 C78.20,664.84 78.23,664.87 78.25,664.91 C78.28,664.94 78.31,664.97 78.33,665.01 C78.36,665.05 78.38,665.09 78.40,665.14 C78.42,665.19 78.44,665.25 78.45,665.31 C78.45,665.37 78.46,665.44 78.45,665.51 C78.45,665.58 78.43,665.65 78.41,665.72 Z" fill="none" stroke="#606060" stroke-width="0.6"/>
<rect x="71.80" y="642.40" width="23.50" height="33.90" fill="none" stroke="#333" stroke-width="1.1" />
<text x="56.20" y="646.90" font-size="5.0" text-anchor="middle" fill="#4f7fae">3.56</text>
<text x="88.20" y="646.90" font-size="5.0" text-anchor="middle" fill="#4f7fae">11.3</text>
<text x="88.50" y="687.80" font-size="5.0" text-anchor="middle" fill="#4f7fae">39.7</text>
<text x="56.00" y="687.80" font-size="5.0" text-anchor="middle" fill="#4f7fae">45.4</text>
<rect x="49.40" y="642.40" width="45.90" height="45.40" fill="none" stroke="#333" stroke-width="1.1" />
<line x1="47.80" y1="642.85" x2="49.40" y2="642.85" stroke="#333" stroke-width="0.7" />
<text x="45.30" y="644.75" font-size="5.4" text-anchor="end" fill="#444" textLength="5.0" lengthAdjust="spacingAndGlyphs">10</text>
<text x="45.40" y="642.65" font-size="3.4" fill="#444">3</text>
<line x1="47.80" y1="654.20" x2="49.40" y2="654.20" stroke="#333" stroke-width="0.7" />
<text x="45.30" y="656.10" font-size="5.4" text-anchor="end" fill="#444" textLength="5.0" lengthAdjust="spacingAndGlyphs">10</text>
<text x="45.40" y="654.00" font-size="3.4" fill="#444">2</text>
<line x1="47.80" y1="664.87" x2="49.40" y2="664.87" stroke="#333" stroke-width="0.7" />
<text x="45.30" y="666.77" font-size="5.4" text-anchor="end" fill="#444" textLength="5.0" lengthAdjust="spacingAndGlyphs">10</text>
<text x="45.40" y="664.67" font-size="3.4" fill="#444">1</text>
<line x1="47.80" y1="676.00" x2="49.40" y2="676.00" stroke="#333" stroke-width="0.7" />
<text x="45.30" y="677.90" font-size="5.4" text-anchor="end" fill="#444" textLength="5.0" lengthAdjust="spacingAndGlyphs">10</text>
<text x="45.40" y="675.80" font-size="3.4" fill="#444">0</text>
<line x1="61.10" y1="687.80" x2="61.10" y2="689.40" stroke="#333" stroke-width="0.7" />
<text x="60.00" y="695.90" font-size="5.4" text-anchor="middle" fill="#444" textLength="5.0" lengthAdjust="spacingAndGlyphs">10</text>
<text x="62.60" y="693.80" font-size="3.4" fill="#444">0</text>
<line x1="71.89" y1="687.80" x2="71.89" y2="689.40" stroke="#333" stroke-width="0.7" />
<text x="70.79" y="695.90" font-size="5.4" text-anchor="middle" fill="#444" textLength="5.0" lengthAdjust="spacingAndGlyphs">10</text>
<text x="73.39" y="693.80" font-size="3.4" fill="#444">1</text>
<line x1="82.91" y1="687.80" x2="82.91" y2="689.40" stroke="#333" stroke-width="0.7" />
<text x="81.81" y="695.90" font-size="5.4" text-anchor="middle" fill="#444" textLength="5.0" lengthAdjust="spacingAndGlyphs">10</text>
<text x="84.41" y="693.80" font-size="3.4" fill="#444">2</text>
<line x1="94.84" y1="687.80" x2="94.84" y2="689.40" stroke="#333" stroke-width="0.7" />
<text x="93.74" y="695.90" font-size="5.4" text-anchor="middle" fill="#444" textLength="5.0" lengthAdjust="spacingAndGlyphs">10</text>
<text x="96.34" y="693.80" font-size="3.4" fill="#444">3</text>
<polyline points="118.80,654.40 138.20,654.40 138.20,664.20" fill="none" stroke="#aab4c4" stroke-width="0.8" />
<path d="M137.13,665.50 C137.16,665.94 137.12,666.39 137.00,666.83 C136.87,667.26 136.67,667.71 136.39,668.11 C136.11,668.52 135.74,668.91 135.32,669.27 C134.90,669.62 134.40,669.95 133.87,670.24 C133.34,670.52 132.75,670.77 132.13,670.98 C131.51,671.18 130.85,671.35 130.18,671.46 C129.51,671.57 128.80,671.65 128.10,671.66 C127.40,671.67 126.68,671.63 126.00,671.54 C125.31,671.44 124.62,671.28 124.00,671.07 C123.38,670.86 122.78,670.59 122.28,670.28 C121.77,669.97 121.32,669.60 120.97,669.22 C120.62,668.84 120.35,668.42 120.16,668.00 C119.96,667.59 119.86,667.15 119.82,666.74 C119.77,666.32 119.81,665.90 119.88,665.50 C119.94,665.10 120.07,664.71 120.23,664.32 C120.39,663.94 120.59,663.57 120.83,663.21 C121.07,662.84 121.34,662.49 121.68,662.15 C122.01,661.81 122.39,661.47 122.84,661.18 C123.28,660.88 123.78,660.60 124.33,660.38 C124.88,660.15 125.50,659.96 126.12,659.83 C126.75,659.71 127.44,659.63 128.10,659.62 C128.76,659.61 129.45,659.67 130.10,659.77 C130.74,659.87 131.39,660.04 131.97,660.24 C132.56,660.44 133.12,660.69 133.62,660.97 C134.13,661.25 134.59,661.56 135.00,661.90 C135.40,662.24 135.77,662.60 136.07,662.99 C136.37,663.37 136.62,663.78 136.80,664.20 C136.98,664.62 137.10,665.06 137.13,665.50 Z" fill="#a8a8a8" opacity="0.6"/>
<path d="M136.46,665.50 C136.49,665.91 136.45,666.33 136.34,666.73 C136.22,667.13 136.03,667.54 135.77,667.92 C135.51,668.29 135.17,668.66 134.79,668.99 C134.40,669.32 133.94,669.62 133.44,669.89 C132.95,670.15 132.40,670.38 131.83,670.57 C131.26,670.76 130.65,670.91 130.02,671.02 C129.40,671.12 128.75,671.19 128.10,671.20 C127.45,671.21 126.78,671.18 126.15,671.09 C125.52,671.00 124.88,670.85 124.31,670.66 C123.73,670.46 123.18,670.21 122.71,669.92 C122.24,669.64 121.83,669.30 121.50,668.95 C121.17,668.59 120.92,668.20 120.74,667.82 C120.57,667.44 120.47,667.03 120.43,666.65 C120.39,666.26 120.42,665.87 120.49,665.50 C120.55,665.13 120.67,664.77 120.81,664.41 C120.96,664.06 121.14,663.71 121.37,663.38 C121.59,663.04 121.84,662.71 122.15,662.40 C122.46,662.08 122.82,661.77 123.23,661.50 C123.64,661.23 124.10,660.96 124.61,660.76 C125.12,660.55 125.69,660.37 126.27,660.25 C126.85,660.14 127.49,660.07 128.10,660.06 C128.71,660.05 129.35,660.10 129.95,660.19 C130.55,660.29 131.14,660.44 131.69,660.63 C132.23,660.81 132.75,661.05 133.21,661.30 C133.68,661.56 134.11,661.86 134.49,662.17 C134.86,662.48 135.20,662.82 135.48,663.17 C135.76,663.53 135.99,663.91 136.16,664.30 C136.32,664.68 136.43,665.09 136.46,665.50 Z" fill="none" stroke="#808080" stroke-width="0.6"/>
<path d="M133.34,665.50 C133.36,665.75 133.34,666.02 133.27,666.27 C133.20,666.53 133.08,666.78 132.92,667.02 C132.76,667.26 132.54,667.49 132.30,667.69 C132.06,667.90 131.77,668.09 131.46,668.26 C131.15,668.42 130.80,668.57 130.45,668.69 C130.09,668.81 129.70,668.91 129.31,668.97 C128.92,669.04 128.51,669.08 128.10,669.09 C127.69,669.10 127.27,669.08 126.87,669.02 C126.47,668.97 126.07,668.87 125.71,668.75 C125.35,668.63 125.00,668.47 124.71,668.28 C124.42,668.10 124.16,667.88 123.96,667.66 C123.76,667.44 123.61,667.19 123.51,666.95 C123.41,666.71 123.36,666.45 123.34,666.21 C123.32,665.97 123.35,665.73 123.40,665.50 C123.45,665.27 123.52,665.05 123.62,664.83 C123.71,664.61 123.82,664.40 123.96,664.19 C124.09,663.99 124.24,663.78 124.43,663.58 C124.62,663.39 124.83,663.19 125.08,663.02 C125.33,662.85 125.61,662.68 125.93,662.55 C126.24,662.41 126.59,662.30 126.96,662.22 C127.32,662.15 127.72,662.10 128.10,662.09 C128.48,662.09 128.88,662.12 129.26,662.18 C129.63,662.24 130.00,662.34 130.34,662.45 C130.68,662.57 131.00,662.72 131.29,662.88 C131.58,663.04 131.85,663.23 132.08,663.42 C132.32,663.61 132.53,663.83 132.71,664.05 C132.88,664.27 133.03,664.51 133.14,664.75 C133.24,664.99 133.31,665.25 133.34,665.50 Z" fill="none" stroke="#686868" stroke-width="0.6"/>
<path d="M130.20,665.50 C130.21,665.60 130.20,665.71 130.17,665.81 C130.15,665.91 130.10,666.01 130.04,666.11 C129.97,666.21 129.89,666.30 129.79,666.38 C129.69,666.46 129.58,666.54 129.45,666.61 C129.33,666.68 129.19,666.74 129.04,666.78 C128.90,666.83 128.75,666.87 128.59,666.90 C128.43,666.93 128.26,666.94 128.10,666.95 C127.94,666.95 127.77,666.94 127.60,666.92 C127.44,666.90 127.28,666.86 127.14,666.81 C126.99,666.76 126.85,666.70 126.73,666.62 C126.62,666.55 126.52,666.46 126.44,666.37 C126.36,666.28 126.30,666.18 126.27,666.08 C126.23,665.98 126.21,665.88 126.21,665.78 C126.21,665.69 126.22,665.59 126.24,665.50 C126.26,665.41 126.30,665.32 126.33,665.24 C126.37,665.15 126.42,665.07 126.47,664.99 C126.52,664.90 126.58,664.82 126.65,664.74 C126.72,664.67 126.80,664.59 126.90,664.52 C127.00,664.45 127.11,664.38 127.23,664.32 C127.36,664.27 127.50,664.22 127.64,664.19 C127.79,664.16 127.95,664.14 128.10,664.14 C128.25,664.13 128.41,664.15 128.56,664.17 C128.71,664.19 128.86,664.23 129.00,664.28 C129.13,664.33 129.26,664.39 129.38,664.45 C129.49,664.52 129.60,664.59 129.69,664.67 C129.79,664.75 129.87,664.83 129.94,664.92 C130.01,665.01 130.07,665.10 130.11,665.20 C130.16,665.30 130.19,665.40 130.20,665.50 Z" fill="none" stroke="#505050" stroke-width="0.6"/>
<ellipse cx="128.10" cy="665.50" rx="4.12" ry="2.34" transform="rotate(0 128.10 665.50)" fill="#f6f6f6" stroke="#111" stroke-width="1.8"/>
<path d="M144.74,673.70 C144.76,674.19 144.75,674.69 144.68,675.18 C144.61,675.67 144.51,676.18 144.34,676.66 C144.17,677.13 143.94,677.62 143.65,678.05 C143.37,678.48 143.01,678.90 142.61,679.23 C142.22,679.57 141.75,679.87 141.27,680.07 C140.79,680.28 140.26,680.41 139.74,680.47 C139.23,680.52 138.70,680.49 138.20,680.41 C137.70,680.33 137.21,680.17 136.77,679.98 C136.32,679.79 135.90,679.55 135.51,679.29 C135.12,679.03 134.77,678.73 134.44,678.42 C134.11,678.11 133.80,677.78 133.53,677.42 C133.26,677.07 133.00,676.70 132.79,676.30 C132.58,675.91 132.39,675.49 132.27,675.05 C132.14,674.62 132.05,674.16 132.03,673.70 C132.00,673.24 132.03,672.77 132.12,672.31 C132.21,671.86 132.36,671.40 132.56,670.98 C132.76,670.56 133.02,670.16 133.30,669.80 C133.59,669.43 133.93,669.09 134.29,668.80 C134.65,668.50 135.05,668.24 135.46,668.01 C135.88,667.79 136.32,667.60 136.78,667.47 C137.23,667.34 137.72,667.24 138.20,667.21 C138.68,667.17 139.19,667.19 139.67,667.27 C140.15,667.36 140.64,667.51 141.08,667.71 C141.53,667.92 141.97,668.19 142.34,668.50 C142.72,668.82 143.07,669.19 143.36,669.59 C143.65,669.98 143.89,670.42 144.09,670.86 C144.28,671.31 144.43,671.78 144.54,672.25 C144.65,672.73 144.71,673.21 144.74,673.70 Z" fill="#a8a8a8" opacity="0.6"/>
<path d="M144.25,673.70 C144.27,674.15 144.26,674.61 144.20,675.07 C144.14,675.53 144.04,675.99 143.88,676.44 C143.72,676.88 143.52,677.33 143.25,677.73 C142.98,678.12 142.65,678.51 142.29,678.82 C141.92,679.14 141.48,679.41 141.04,679.60 C140.60,679.79 140.10,679.91 139.63,679.97 C139.16,680.02 138.66,679.99 138.20,679.92 C137.74,679.84 137.29,679.69 136.87,679.52 C136.46,679.34 136.07,679.11 135.71,678.87 C135.35,678.63 135.02,678.36 134.72,678.07 C134.41,677.78 134.13,677.47 133.88,677.15 C133.62,676.82 133.39,676.48 133.19,676.11 C133.00,675.75 132.82,675.36 132.71,674.95 C132.59,674.55 132.51,674.12 132.48,673.70 C132.46,673.28 132.49,672.83 132.57,672.42 C132.65,672.00 132.79,671.57 132.98,671.19 C133.16,670.80 133.40,670.42 133.67,670.08 C133.93,669.75 134.25,669.44 134.58,669.16 C134.91,668.89 135.28,668.64 135.66,668.44 C136.05,668.23 136.46,668.06 136.88,667.93 C137.31,667.81 137.75,667.72 138.20,667.69 C138.65,667.66 139.11,667.67 139.56,667.75 C140.00,667.83 140.46,667.96 140.87,668.15 C141.28,668.34 141.69,668.60 142.04,668.89 C142.39,669.18 142.71,669.53 142.98,669.89 C143.25,670.26 143.47,670.66 143.65,671.07 C143.83,671.49 143.97,671.92 144.07,672.36 C144.17,672.80 144.23,673.25 144.25,673.70 Z" fill="none" stroke="#808080" stroke-width="0.6"/>
<path d="M141.99,673.70 C142.00,673.98 142.00,674.27 141.97,674.56 C141.93,674.85 141.87,675.14 141.78,675.42 C141.68,675.70 141.55,675.99 141.39,676.24 C141.22,676.50 141.02,676.74 140.79,676.94 C140.55,677.14 140.28,677.31 140.00,677.43 C139.72,677.55 139.40,677.63 139.10,677.66 C138.80,677.68 138.49,677.66 138.20,677.61 C137.91,677.55 137.63,677.45 137.37,677.33 C137.11,677.22 136.87,677.07 136.65,676.91 C136.43,676.76 136.23,676.58 136.05,676.40 C135.86,676.22 135.69,676.03 135.53,675.83 C135.38,675.63 135.23,675.41 135.11,675.19 C134.99,674.96 134.88,674.72 134.80,674.48 C134.72,674.23 134.67,673.96 134.65,673.70 C134.64,673.44 134.65,673.16 134.70,672.90 C134.75,672.64 134.84,672.38 134.95,672.14 C135.07,671.89 135.22,671.66 135.38,671.45 C135.55,671.24 135.74,671.05 135.95,670.88 C136.16,670.71 136.38,670.55 136.62,670.42 C136.86,670.29 137.12,670.18 137.38,670.10 C137.64,670.02 137.92,669.96 138.20,669.94 C138.48,669.92 138.77,669.92 139.05,669.97 C139.33,670.02 139.62,670.10 139.88,670.22 C140.14,670.34 140.39,670.50 140.61,670.68 C140.83,670.86 141.03,671.08 141.19,671.31 C141.36,671.54 141.50,671.80 141.61,672.06 C141.72,672.32 141.81,672.59 141.87,672.86 C141.93,673.14 141.97,673.42 141.99,673.70 Z" fill="none" stroke="#686868" stroke-width="0.6"/>
<path d="M139.72,673.70 C139.72,673.81 139.72,673.93 139.71,674.05 C139.70,674.16 139.68,674.28 139.64,674.39 C139.60,674.51 139.55,674.62 139.49,674.73 C139.42,674.83 139.34,674.93 139.25,675.01 C139.15,675.09 139.04,675.16 138.93,675.21 C138.81,675.26 138.69,675.29 138.56,675.30 C138.44,675.31 138.32,675.29 138.20,675.27 C138.08,675.25 137.97,675.20 137.87,675.15 C137.77,675.10 137.67,675.04 137.59,674.98 C137.50,674.91 137.42,674.84 137.35,674.77 C137.28,674.70 137.21,674.62 137.15,674.54 C137.08,674.46 137.03,674.38 136.98,674.29 C136.93,674.20 136.88,674.11 136.85,674.01 C136.82,673.91 136.80,673.80 136.79,673.70 C136.78,673.60 136.79,673.49 136.81,673.38 C136.83,673.28 136.86,673.17 136.91,673.08 C136.95,672.98 137.01,672.89 137.08,672.81 C137.14,672.72 137.22,672.65 137.30,672.58 C137.39,672.51 137.48,672.45 137.57,672.39 C137.67,672.34 137.77,672.30 137.87,672.26 C137.98,672.23 138.09,672.21 138.20,672.20 C138.31,672.19 138.43,672.19 138.54,672.20 C138.65,672.22 138.77,672.26 138.87,672.30 C138.98,672.35 139.08,672.41 139.17,672.49 C139.25,672.56 139.33,672.65 139.40,672.74 C139.47,672.83 139.52,672.94 139.57,673.04 C139.61,673.15 139.64,673.26 139.67,673.36 C139.69,673.47 139.71,673.59 139.72,673.70 Z" fill="none" stroke="#505050" stroke-width="0.6"/>
<ellipse cx="138.20" cy="673.70" rx="2.80" ry="2.80" transform="rotate(0 138.20 673.70)" fill="#f6f6f6" stroke="#111" stroke-width="1.8"/>
<polygon points="131.40,686.60 131.40,674.10 137.70,664.20 149.20,664.20 149.20,686.60" fill="none" stroke="#111" stroke-width="1.2" />
<path d="M118.80,661.00 Q122.00,665.50 118.80,670.00 Z" fill="#1a1a1a"/>
<rect x="118.80" y="663.00" width="1.40" height="5.00" fill="#1a1a1a"/>
<text x="128.50" y="653.30" font-size="5.0" text-anchor="middle" fill="#4f7fae">66.7</text>
<text x="155.50" y="678.30" font-size="5.0" text-anchor="middle" fill="#4f7fae">31.8</text>
<rect x="118.80" y="642.70" width="46.40" height="45.10" fill="none" stroke="#333" stroke-width="1.1" />
<line x1="117.20" y1="643.15" x2="118.80" y2="643.15" stroke="#333" stroke-width="0.7" />
<text x="114.70" y="645.05" font-size="5.4" text-anchor="end" fill="#444" textLength="5.0" lengthAdjust="spacingAndGlyphs">10</text>
<text x="114.80" y="642.95" font-size="3.4" fill="#444">3</text>
<line x1="117.20" y1="654.43" x2="118.80" y2="654.43" stroke="#333" stroke-width="0.7" />
<text x="114.70" y="656.33" font-size="5.4" text-anchor="end" fill="#444" textLength="5.0" lengthAdjust="spacingAndGlyphs">10</text>
<text x="114.80" y="654.23" font-size="3.4" fill="#444">2</text>
<line x1="117.20" y1="665.02" x2="118.80" y2="665.02" stroke="#333" stroke-width="0.7" />
<text x="114.70" y="666.92" font-size="5.4" text-anchor="end" fill="#444" textLength="5.0" lengthAdjust="spacingAndGlyphs">10</text>
<text x="114.80" y="664.82" font-size="3.4" fill="#444">1</text>
<line x1="117.20" y1="676.07" x2="118.80" y2="676.07" stroke="#333" stroke-width="0.7" />
<text x="114.70" y="677.97" font-size="5.4" text-anchor="end" fill="#444" textLength="5.0" lengthAdjust="spacingAndGlyphs">10</text>
<text x="114.80" y="675.87" font-size="3.4" fill="#444">0</text>
<line x1="130.63" y1="687.80" x2="130.63" y2="689.40" stroke="#333" stroke-width="0.7" />
<text x="129.53" y="695.90" font-size="5.4" text-anchor="middle" fill="#444" textLength="5.0" lengthAdjust="spacingAndGlyphs">10</text>
<text x="132.13" y="693.80" font-size="3.4" fill="#444">0</text>
<line x1="141.54" y1="687.80" x2="141.54" y2="689.40" stroke="#333" stroke-width="0.7" />
<text x="140.44" y="695.90" font-size="5.4" text-anchor="middle" fill="#444" textLength="5.0" lengthAdjust="spacingAndGlyphs">10</text>
<text x="143.04" y="693.80" font-size="3.4" fill="#444">1</text>
<line x1="152.67" y1="687.80" x2="152.67" y2="689.40" stroke="#333" stroke-width="0.7" />
<text x="151.57" y="695.90" font-size="5.4" text-anchor="middle" fill="#444" textLength="5.0" lengthAdjust="spacingAndGlyphs">10</text>
<text x="154.17" y="693.80" font-size="3.4" fill="#444">2</text>
<line x1="164.74" y1="687.80" x2="164.74" y2="689.40" stroke="#333" stroke-width="0.7" />
<text x="163.64" y="695.90" font-size="5.4" text-anchor="middle" fill="#444" textLength="5.0" lengthAdjust="spacingAndGlyphs">10</text>
<text x="166.24" y="693.80" font-size="3.4" fill="#444">3</text>
<line x1="89.30" y1="648.50" x2="114.40" y2="648.50" stroke="#111" stroke-width="1.1" />
<polygon points="117.40,648.50 113.20,646.50 113.20,650.50" fill="#111" stroke="#111" stroke-width="0.3" />
<path d="M67.49,737.99 C67.53,738.43 67.51,738.87 67.46,739.31 C67.41,739.75 67.32,740.18 67.19,740.61 C67.05,741.04 66.88,741.47 66.65,741.89 C66.42,742.31 66.15,742.73 65.82,743.12 C65.49,743.52 65.10,743.90 64.67,744.25 C64.24,744.59 63.76,744.92 63.24,745.20 C62.73,745.49 62.17,745.74 61.60,745.96 C61.02,746.17 60.41,746.35 59.78,746.47 C59.16,746.60 58.50,746.70 57.85,746.73 C57.20,746.76 56.52,746.75 55.88,746.66 C55.23,746.58 54.57,746.43 53.98,746.21 C53.39,745.99 52.82,745.69 52.35,745.33 C51.89,744.97 51.48,744.52 51.20,744.05 C50.92,743.58 50.74,743.03 50.66,742.50 C50.59,741.97 50.64,741.39 50.77,740.85 C50.89,740.32 51.13,739.77 51.39,739.27 C51.66,738.76 52.02,738.28 52.38,737.83 C52.75,737.38 53.16,736.96 53.58,736.55 C54.01,736.15 54.46,735.76 54.94,735.40 C55.43,735.04 55.94,734.68 56.49,734.37 C57.05,734.06 57.65,733.76 58.27,733.54 C58.89,733.31 59.57,733.12 60.23,733.02 C60.90,732.92 61.61,732.89 62.25,732.95 C62.90,733.01 63.55,733.15 64.11,733.36 C64.67,733.58 65.18,733.88 65.61,734.22 C66.03,734.55 66.38,734.96 66.65,735.37 C66.92,735.78 67.11,736.23 67.25,736.66 C67.39,737.10 67.46,737.55 67.49,737.99 Z" fill="#dcdcdc" opacity="0.6"/>
<path d="M66.94,738.14 C66.97,738.55 66.95,738.96 66.91,739.36 C66.86,739.76 66.78,740.17 66.66,740.57 C66.53,740.96 66.37,741.37 66.16,741.75 C65.95,742.14 65.69,742.53 65.39,742.89 C65.08,743.26 64.72,743.61 64.32,743.93 C63.93,744.25 63.48,744.56 63.00,744.82 C62.53,745.08 62.01,745.32 61.48,745.51 C60.94,745.71 60.38,745.88 59.80,745.99 C59.22,746.11 58.61,746.20 58.01,746.23 C57.41,746.26 56.78,746.25 56.18,746.17 C55.58,746.09 54.97,745.96 54.43,745.75 C53.88,745.54 53.35,745.26 52.92,744.93 C52.49,744.60 52.11,744.19 51.85,743.75 C51.59,743.31 51.42,742.81 51.36,742.32 C51.29,741.82 51.34,741.29 51.45,740.79 C51.56,740.29 51.78,739.79 52.03,739.32 C52.28,738.86 52.61,738.41 52.95,737.99 C53.28,737.57 53.66,737.18 54.06,736.81 C54.45,736.43 54.87,736.08 55.32,735.74 C55.77,735.41 56.24,735.08 56.75,734.79 C57.27,734.50 57.82,734.23 58.40,734.02 C58.97,733.81 59.60,733.63 60.22,733.54 C60.83,733.45 61.49,733.42 62.08,733.47 C62.68,733.52 63.28,733.66 63.80,733.86 C64.32,734.05 64.80,734.34 65.19,734.65 C65.58,734.95 65.90,735.33 66.16,735.71 C66.41,736.09 66.58,736.51 66.71,736.91 C66.84,737.32 66.90,737.73 66.94,738.14 Z" fill="none" stroke="#b0b0b0" stroke-width="0.6"/>
<path d="M64.26,738.86 C64.27,739.11 64.26,739.36 64.23,739.61 C64.19,739.86 64.14,740.10 64.07,740.35 C63.99,740.59 63.90,740.83 63.77,741.07 C63.64,741.31 63.49,741.55 63.31,741.78 C63.12,742.00 62.90,742.22 62.66,742.42 C62.42,742.62 62.15,742.81 61.86,742.98 C61.56,743.14 61.25,743.29 60.92,743.42 C60.59,743.55 60.23,743.65 59.87,743.74 C59.51,743.82 59.13,743.88 58.75,743.90 C58.37,743.93 57.97,743.93 57.59,743.89 C57.21,743.84 56.82,743.77 56.47,743.64 C56.12,743.52 55.78,743.34 55.50,743.13 C55.23,742.92 54.98,742.66 54.82,742.38 C54.65,742.11 54.55,741.78 54.51,741.47 C54.47,741.16 54.51,740.82 54.59,740.50 C54.67,740.18 54.82,739.87 54.99,739.57 C55.15,739.28 55.37,739.01 55.59,738.74 C55.80,738.48 56.05,738.24 56.29,738.01 C56.54,737.78 56.80,737.56 57.08,737.34 C57.36,737.13 57.65,736.93 57.97,736.74 C58.29,736.56 58.63,736.38 58.99,736.24 C59.35,736.11 59.75,735.99 60.14,735.93 C60.52,735.87 60.94,735.85 61.31,735.88 C61.69,735.91 62.07,736.00 62.40,736.13 C62.72,736.26 63.02,736.44 63.26,736.64 C63.50,736.84 63.69,737.09 63.84,737.33 C63.99,737.57 64.08,737.83 64.15,738.09 C64.22,738.34 64.25,738.60 64.26,738.86 Z" fill="none" stroke="#a4a4a4" stroke-width="0.6"/>
<path d="M61.67,739.55 C61.68,739.65 61.67,739.75 61.65,739.85 C61.64,739.94 61.62,740.04 61.59,740.14 C61.56,740.23 61.53,740.33 61.48,740.42 C61.43,740.51 61.37,740.61 61.30,740.70 C61.23,740.79 61.14,740.87 61.05,740.95 C60.95,741.03 60.85,741.11 60.73,741.18 C60.62,741.24 60.49,741.31 60.36,741.36 C60.23,741.41 60.09,741.46 59.95,741.49 C59.81,741.52 59.65,741.55 59.50,741.57 C59.35,741.58 59.18,741.58 59.03,741.57 C58.87,741.55 58.71,741.52 58.57,741.48 C58.43,741.43 58.28,741.36 58.17,741.27 C58.06,741.19 57.96,741.08 57.89,740.97 C57.82,740.86 57.78,740.73 57.77,740.60 C57.76,740.47 57.78,740.33 57.81,740.20 C57.85,740.07 57.91,739.95 57.98,739.83 C58.05,739.71 58.14,739.60 58.23,739.50 C58.32,739.39 58.42,739.30 58.52,739.21 C58.62,739.11 58.72,739.03 58.84,738.94 C58.95,738.86 59.06,738.77 59.19,738.70 C59.31,738.62 59.45,738.55 59.60,738.49 C59.74,738.43 59.90,738.38 60.06,738.36 C60.21,738.33 60.38,738.32 60.53,738.34 C60.68,738.35 60.84,738.39 60.97,738.44 C61.09,738.49 61.21,738.57 61.31,738.65 C61.40,738.73 61.47,738.84 61.53,738.93 C61.59,739.03 61.62,739.14 61.64,739.24 C61.67,739.35 61.67,739.45 61.67,739.55 Z" fill="none" stroke="#989898" stroke-width="0.6"/>
<path d="M55.00,744.72 C56.00,743.57 58.46,743.32 61.00,743.00 C63.54,742.68 66.67,742.78 70.25,742.78 C73.83,742.78 79.96,742.25 82.50,743.00 C85.04,743.75 85.50,745.87 85.50,747.30 C85.50,748.73 85.04,750.85 82.50,751.60 C79.96,752.35 73.83,751.81 70.25,751.81 C66.67,751.81 63.54,751.92 61.00,751.60 C58.46,751.28 56.00,751.03 55.00,749.88 C54.00,748.73 54.00,745.87 55.00,744.72 Z" fill="#6a6a6a" opacity="0.6"/>
<path d="M55.00,744.72 C56.00,743.57 58.46,743.32 61.00,743.00 C63.54,742.68 66.67,742.78 70.25,742.78 C73.83,742.78 79.96,742.25 82.50,743.00 C85.04,743.75 85.50,745.87 85.50,747.30 C85.50,748.73 85.04,750.85 82.50,751.60 C79.96,752.35 73.83,751.81 70.25,751.81 C66.67,751.81 63.54,751.92 61.00,751.60 C58.46,751.28 56.00,751.03 55.00,749.88 C54.00,748.73 54.00,745.87 55.00,744.72 Z" fill="none" stroke="#404040" stroke-width="0.6"/>
<path d="M58.81,745.36 C59.56,744.50 61.41,744.32 63.31,744.08 C65.22,743.83 67.56,743.91 70.25,743.91 C72.94,743.91 77.53,743.51 79.44,744.08 C81.34,744.64 81.69,746.23 81.69,747.30 C81.69,748.37 81.34,749.96 79.44,750.52 C77.53,751.09 72.94,750.69 70.25,750.69 C67.56,750.69 65.22,750.77 63.31,750.52 C61.41,750.28 59.56,750.10 58.81,749.24 C58.06,748.38 58.06,746.22 58.81,745.36 Z" fill="none" stroke="#383838" stroke-width="0.6"/>
<path d="M62.62,746.01 C63.12,745.44 64.35,745.31 65.62,745.15 C66.90,744.99 68.46,745.04 70.25,745.04 C72.04,745.04 75.10,744.77 76.38,745.15 C77.65,745.53 77.88,746.58 77.88,747.30 C77.88,748.02 77.65,749.07 76.38,749.45 C75.10,749.83 72.04,749.56 70.25,749.56 C68.46,749.56 66.90,749.61 65.62,749.45 C64.35,749.29 63.12,749.16 62.62,748.59 C62.12,748.02 62.12,746.58 62.62,746.01 Z" fill="none" stroke="#303030" stroke-width="0.6"/>
<path d="M65.67,744.07 L82.50,744.07 Q86.00,747.30 82.50,750.52 L65.67,750.52" fill="none" stroke="#111" stroke-width="1.7"/>
<path d="M60.00,747.30 L80.50,747.30" stroke="#e8e8e8" stroke-width="0.9"/>
<path d="M85.32,733.00 C85.38,733.59 85.39,734.22 85.33,734.82 C85.26,735.41 85.14,736.03 84.95,736.59 C84.77,737.14 84.51,737.68 84.22,738.14 C83.93,738.61 83.58,739.02 83.22,739.36 C82.85,739.70 82.44,739.98 82.03,740.19 C81.63,740.40 81.19,740.53 80.77,740.61 C80.35,740.69 79.92,740.70 79.50,740.65 C79.08,740.61 78.67,740.50 78.27,740.33 C77.88,740.17 77.50,739.94 77.15,739.67 C76.80,739.39 76.47,739.05 76.18,738.68 C75.90,738.31 75.64,737.88 75.43,737.43 C75.22,736.99 75.05,736.50 74.93,736.01 C74.80,735.52 74.72,735.01 74.67,734.51 C74.62,734.00 74.61,733.50 74.63,733.00 C74.65,732.50 74.71,732.01 74.79,731.53 C74.87,731.05 74.98,730.58 75.13,730.12 C75.27,729.67 75.45,729.22 75.65,728.81 C75.86,728.40 76.11,728.00 76.38,727.66 C76.66,727.32 76.97,727.01 77.30,726.77 C77.63,726.52 78.00,726.33 78.37,726.21 C78.73,726.09 79.12,726.04 79.50,726.05 C79.88,726.05 80.26,726.13 80.63,726.25 C80.99,726.37 81.35,726.56 81.70,726.77 C82.04,726.99 82.37,727.25 82.68,727.55 C83.00,727.85 83.30,728.18 83.58,728.56 C83.86,728.93 84.13,729.34 84.36,729.80 C84.60,730.26 84.81,730.76 84.97,731.29 C85.13,731.83 85.26,732.41 85.32,733.00 Z" fill="#c8c8c8" opacity="0.6"/>
<path d="M84.89,733.00 C84.94,733.54 84.95,734.13 84.89,734.68 C84.84,735.23 84.72,735.81 84.55,736.32 C84.38,736.83 84.14,737.33 83.87,737.76 C83.60,738.19 83.28,738.58 82.94,738.89 C82.60,739.21 82.22,739.46 81.85,739.65 C81.47,739.85 81.07,739.97 80.68,740.05 C80.29,740.12 79.89,740.13 79.50,740.09 C79.11,740.04 78.73,739.94 78.37,739.79 C78.00,739.64 77.65,739.43 77.32,739.17 C77.00,738.92 76.69,738.60 76.43,738.26 C76.16,737.91 75.93,737.52 75.73,737.10 C75.54,736.69 75.38,736.24 75.26,735.79 C75.15,735.33 75.07,734.86 75.03,734.39 C74.98,733.93 74.97,733.46 74.99,733.00 C75.01,732.54 75.06,732.08 75.14,731.64 C75.22,731.20 75.32,730.76 75.45,730.34 C75.59,729.92 75.75,729.50 75.94,729.12 C76.13,728.74 76.36,728.37 76.61,728.06 C76.87,727.74 77.16,727.45 77.46,727.23 C77.77,727.00 78.11,726.83 78.45,726.72 C78.79,726.60 79.15,726.56 79.50,726.56 C79.85,726.57 80.21,726.64 80.54,726.75 C80.88,726.86 81.22,727.03 81.53,727.23 C81.85,727.43 82.16,727.68 82.45,727.95 C82.74,728.23 83.02,728.54 83.28,728.88 C83.54,729.23 83.79,729.62 84.00,730.04 C84.22,730.46 84.42,730.93 84.57,731.42 C84.72,731.91 84.84,732.46 84.89,733.00 Z" fill="none" stroke="#909090" stroke-width="0.6"/>
<path d="M82.91,733.00 C82.95,733.34 82.96,733.72 82.93,734.07 C82.89,734.42 82.82,734.78 82.71,735.11 C82.60,735.44 82.45,735.76 82.28,736.03 C82.11,736.30 81.90,736.54 81.68,736.74 C81.47,736.94 81.23,737.09 80.99,737.21 C80.75,737.33 80.49,737.41 80.24,737.45 C80.00,737.49 79.74,737.49 79.50,737.46 C79.26,737.43 79.01,737.36 78.79,737.26 C78.56,737.16 78.34,737.03 78.14,736.87 C77.94,736.70 77.75,736.50 77.58,736.28 C77.42,736.07 77.27,735.81 77.15,735.55 C77.04,735.29 76.94,735.01 76.87,734.73 C76.80,734.45 76.76,734.15 76.74,733.86 C76.71,733.57 76.71,733.28 76.72,733.00 C76.74,732.72 76.77,732.44 76.82,732.16 C76.86,731.89 76.93,731.62 77.01,731.36 C77.09,731.10 77.19,730.84 77.30,730.61 C77.42,730.37 77.56,730.14 77.71,729.94 C77.87,729.75 78.05,729.56 78.24,729.42 C78.43,729.28 78.64,729.17 78.85,729.10 C79.06,729.03 79.28,729.00 79.50,729.01 C79.72,729.01 79.94,729.06 80.15,729.13 C80.36,729.20 80.56,729.30 80.76,729.43 C80.96,729.55 81.15,729.70 81.33,729.87 C81.51,730.04 81.69,730.22 81.85,730.44 C82.02,730.65 82.18,730.88 82.32,731.15 C82.46,731.41 82.59,731.70 82.69,732.01 C82.79,732.31 82.87,732.66 82.91,733.00 Z" fill="none" stroke="#808080" stroke-width="0.6"/>
<path d="M80.88,733.00 C80.90,733.14 80.90,733.29 80.89,733.43 C80.88,733.58 80.85,733.73 80.81,733.86 C80.76,733.99 80.70,734.12 80.63,734.23 C80.56,734.34 80.47,734.44 80.39,734.52 C80.30,734.60 80.20,734.66 80.10,734.71 C80.00,734.75 79.90,734.78 79.80,734.80 C79.70,734.81 79.60,734.81 79.50,734.80 C79.40,734.78 79.30,734.75 79.21,734.71 C79.12,734.67 79.03,734.62 78.95,734.55 C78.87,734.48 78.80,734.40 78.73,734.31 C78.67,734.22 78.61,734.12 78.57,734.02 C78.52,733.91 78.48,733.80 78.46,733.69 C78.43,733.57 78.42,733.45 78.41,733.34 C78.40,733.23 78.40,733.11 78.41,733.00 C78.41,732.89 78.43,732.78 78.44,732.67 C78.46,732.56 78.49,732.46 78.52,732.35 C78.55,732.25 78.59,732.15 78.63,732.06 C78.68,731.96 78.73,731.87 78.79,731.79 C78.85,731.71 78.92,731.64 79.00,731.58 C79.07,731.52 79.16,731.48 79.24,731.45 C79.32,731.42 79.41,731.41 79.50,731.41 C79.59,731.42 79.67,731.44 79.76,731.46 C79.84,731.49 79.92,731.53 80.00,731.58 C80.08,731.63 80.15,731.69 80.23,731.76 C80.30,731.82 80.37,731.90 80.44,731.98 C80.50,732.06 80.57,732.15 80.63,732.26 C80.69,732.36 80.74,732.48 80.79,732.60 C80.83,732.72 80.86,732.86 80.88,733.00 Z" fill="none" stroke="#707070" stroke-width="0.6"/>
<ellipse cx="79.50" cy="733.00" rx="3.30" ry="5.20" transform="rotate(0 79.50 733.00)" fill="#f6f6f6" stroke="#111" stroke-width="1.7"/>
<rect x="71.60" y="709.70" width="23.90" height="32.00" fill="none" stroke="#333" stroke-width="1.1" />
<text x="53.60" y="714.60" font-size="5.0" text-anchor="middle" fill="#4f7fae">10</text>
<text x="88.00" y="714.60" font-size="5.0" text-anchor="middle" fill="#4f7fae">33.4</text>
<text x="54.20" y="755.00" font-size="5.0" text-anchor="middle" fill="#4f7fae">21.9</text>
<text x="89.20" y="755.00" font-size="5.0" text-anchor="middle" fill="#4f7fae">32.9</text>
<rect x="49.40" y="709.70" width="46.10" height="45.80" fill="none" stroke="#333" stroke-width="1.1" />
<line x1="47.80" y1="710.16" x2="49.40" y2="710.16" stroke="#333" stroke-width="0.7" />
<text x="45.30" y="712.06" font-size="5.4" text-anchor="end" fill="#444" textLength="5.0" lengthAdjust="spacingAndGlyphs">10</text>
<text x="45.40" y="709.96" font-size="3.4" fill="#444">3</text>
<line x1="47.80" y1="721.61" x2="49.40" y2="721.61" stroke="#333" stroke-width="0.7" />
<text x="45.30" y="723.51" font-size="5.4" text-anchor="end" fill="#444" textLength="5.0" lengthAdjust="spacingAndGlyphs">10</text>
<text x="45.40" y="721.41" font-size="3.4" fill="#444">2</text>
<line x1="47.80" y1="732.37" x2="49.40" y2="732.37" stroke="#333" stroke-width="0.7" />
<text x="45.30" y="734.27" font-size="5.4" text-anchor="end" fill="#444" textLength="5.0" lengthAdjust="spacingAndGlyphs">10</text>
<text x="45.40" y="732.17" font-size="3.4" fill="#444">1</text>
<line x1="47.80" y1="743.59" x2="49.40" y2="743.59" stroke="#333" stroke-width="0.7" />
<text x="45.30" y="745.49" font-size="5.4" text-anchor="end" fill="#444" textLength="5.0" lengthAdjust="spacingAndGlyphs">10</text>
<text x="45.40" y="743.39" font-size="3.4" fill="#444">0</text>
<line x1="61.16" y1="755.50" x2="61.16" y2="757.10" stroke="#333" stroke-width="0.7" />
<text x="60.06" y="763.60" font-size="5.4" text-anchor="middle" fill="#444" textLength="5.0" lengthAdjust="spacingAndGlyphs">10</text>
<text x="62.66" y="761.50" font-size="3.4" fill="#444">0</text>
<line x1="71.99" y1="755.50" x2="71.99" y2="757.10" stroke="#333" stroke-width="0.7" />
<text x="70.89" y="763.60" font-size="5.4" text-anchor="middle" fill="#444" textLength="5.0" lengthAdjust="spacingAndGlyphs">10</text>
<text x="73.49" y="761.50" font-size="3.4" fill="#444">1</text>
<line x1="83.05" y1="755.50" x2="83.05" y2="757.10" stroke="#333" stroke-width="0.7" />
<text x="81.95" y="763.60" font-size="5.4" text-anchor="middle" fill="#444" textLength="5.0" lengthAdjust="spacingAndGlyphs">10</text>
<text x="84.55" y="761.50" font-size="3.4" fill="#444">2</text>
<line x1="95.04" y1="755.50" x2="95.04" y2="757.10" stroke="#333" stroke-width="0.7" />
<text x="93.94" y="763.60" font-size="5.4" text-anchor="middle" fill="#444" textLength="5.0" lengthAdjust="spacingAndGlyphs">10</text>
<text x="96.54" y="761.50" font-size="3.4" fill="#444">3</text>
<polyline points="118.80,720.80 137.70,720.80 137.70,730.00" fill="none" stroke="#aab4c4" stroke-width="0.8" />
<path d="M138.37,730.80 C138.41,731.20 138.36,731.62 138.22,732.02 C138.07,732.42 137.82,732.82 137.49,733.19 C137.16,733.57 136.73,733.93 136.23,734.25 C135.74,734.58 135.15,734.88 134.52,735.14 C133.89,735.40 133.19,735.63 132.46,735.82 C131.74,736.01 130.95,736.16 130.16,736.26 C129.36,736.37 128.52,736.43 127.70,736.44 C126.88,736.46 126.02,736.42 125.21,736.33 C124.41,736.24 123.59,736.10 122.86,735.91 C122.12,735.71 121.42,735.46 120.82,735.18 C120.22,734.90 119.69,734.56 119.27,734.21 C118.86,733.86 118.54,733.48 118.31,733.10 C118.08,732.72 117.97,732.32 117.91,731.93 C117.86,731.55 117.90,731.17 117.98,730.80 C118.06,730.43 118.21,730.07 118.40,729.72 C118.59,729.37 118.82,729.03 119.10,728.70 C119.39,728.37 119.72,728.04 120.11,727.73 C120.51,727.42 120.96,727.11 121.48,726.84 C122.00,726.57 122.60,726.31 123.25,726.10 C123.89,725.90 124.62,725.72 125.36,725.61 C126.11,725.49 126.92,725.42 127.70,725.41 C128.48,725.40 129.30,725.45 130.06,725.55 C130.82,725.64 131.58,725.79 132.28,725.98 C132.97,726.16 133.63,726.39 134.22,726.65 C134.82,726.90 135.37,727.19 135.85,727.50 C136.33,727.81 136.76,728.15 137.12,728.50 C137.47,728.85 137.77,729.22 137.98,729.61 C138.19,729.99 138.33,730.40 138.37,730.80 Z" fill="#a8a8a8" opacity="0.6"/>
<path d="M137.58,730.80 C137.62,731.17 137.57,731.56 137.44,731.93 C137.30,732.30 137.07,732.67 136.77,733.02 C136.46,733.36 136.06,733.70 135.60,734.00 C135.14,734.30 134.60,734.58 134.02,734.82 C133.43,735.06 132.78,735.28 132.11,735.45 C131.44,735.62 130.71,735.76 129.97,735.86 C129.24,735.96 128.46,736.02 127.70,736.03 C126.94,736.04 126.14,736.01 125.40,735.92 C124.65,735.84 123.89,735.71 123.22,735.53 C122.54,735.35 121.88,735.12 121.33,734.86 C120.78,734.59 120.29,734.28 119.90,733.96 C119.51,733.64 119.22,733.28 119.01,732.93 C118.80,732.57 118.69,732.20 118.64,731.85 C118.59,731.50 118.63,731.14 118.70,730.80 C118.78,730.46 118.91,730.13 119.09,729.80 C119.26,729.48 119.48,729.16 119.74,728.85 C120.01,728.55 120.31,728.24 120.67,727.96 C121.04,727.67 121.46,727.38 121.94,727.13 C122.42,726.88 122.98,726.64 123.58,726.45 C124.17,726.26 124.85,726.10 125.54,725.99 C126.23,725.88 126.98,725.82 127.70,725.81 C128.42,725.80 129.18,725.85 129.89,725.93 C130.59,726.02 131.29,726.16 131.94,726.33 C132.58,726.50 133.19,726.72 133.74,726.95 C134.29,727.19 134.80,727.46 135.25,727.74 C135.69,728.03 136.09,728.34 136.42,728.67 C136.75,728.99 137.03,729.34 137.22,729.70 C137.41,730.05 137.54,730.43 137.58,730.80 Z" fill="none" stroke="#808080" stroke-width="0.6"/>
<path d="M133.89,730.80 C133.91,731.03 133.89,731.28 133.81,731.51 C133.73,731.74 133.58,731.98 133.39,732.19 C133.20,732.41 132.95,732.62 132.66,732.81 C132.38,733.00 132.04,733.18 131.67,733.33 C131.30,733.48 130.90,733.61 130.47,733.72 C130.05,733.83 129.59,733.92 129.13,733.98 C128.67,734.05 128.18,734.09 127.70,734.09 C127.22,734.10 126.72,734.08 126.25,734.03 C125.78,733.98 125.30,733.89 124.87,733.78 C124.45,733.67 124.04,733.52 123.69,733.35 C123.35,733.19 123.04,732.99 122.81,732.78 C122.57,732.58 122.40,732.35 122.27,732.13 C122.15,731.90 122.10,731.67 122.08,731.45 C122.06,731.23 122.09,731.01 122.15,730.80 C122.20,730.59 122.29,730.39 122.40,730.19 C122.51,729.99 122.64,729.79 122.80,729.60 C122.96,729.41 123.14,729.22 123.36,729.04 C123.59,728.87 123.84,728.69 124.13,728.53 C124.42,728.37 124.76,728.21 125.13,728.09 C125.50,727.97 125.92,727.86 126.35,727.80 C126.78,727.73 127.25,727.69 127.70,727.68 C128.15,727.67 128.63,727.70 129.07,727.76 C129.51,727.81 129.95,727.90 130.35,728.01 C130.75,728.11 131.13,728.25 131.47,728.40 C131.82,728.55 132.13,728.71 132.41,728.89 C132.69,729.07 132.94,729.27 133.14,729.47 C133.35,729.67 133.53,729.89 133.65,730.11 C133.78,730.33 133.86,730.57 133.89,730.80 Z" fill="none" stroke="#686868" stroke-width="0.6"/>
<path d="M130.18,730.80 C130.19,730.89 130.18,730.99 130.15,731.08 C130.12,731.18 130.06,731.27 129.99,731.36 C129.91,731.45 129.81,731.53 129.70,731.61 C129.58,731.68 129.44,731.76 129.30,731.82 C129.15,731.88 128.99,731.93 128.82,731.98 C128.65,732.02 128.46,732.06 128.28,732.08 C128.09,732.11 127.89,732.12 127.70,732.13 C127.51,732.13 127.30,732.12 127.11,732.10 C126.92,732.08 126.73,732.05 126.56,732.00 C126.39,731.96 126.22,731.90 126.09,731.83 C125.95,731.76 125.83,731.68 125.74,731.60 C125.64,731.51 125.58,731.42 125.53,731.33 C125.49,731.24 125.47,731.15 125.47,731.06 C125.46,730.97 125.48,730.88 125.51,730.80 C125.53,730.72 125.57,730.64 125.61,730.56 C125.66,730.48 125.71,730.40 125.77,730.33 C125.83,730.25 125.90,730.18 125.99,730.11 C126.07,730.04 126.17,729.96 126.28,729.90 C126.40,729.83 126.53,729.77 126.68,729.72 C126.82,729.67 126.99,729.63 127.16,729.60 C127.33,729.57 127.52,729.55 127.70,729.55 C127.88,729.55 128.07,729.56 128.25,729.58 C128.42,729.60 128.60,729.64 128.76,729.68 C128.92,729.73 129.07,729.78 129.21,729.84 C129.34,729.90 129.47,729.97 129.58,730.04 C129.69,730.11 129.79,730.19 129.88,730.27 C129.96,730.35 130.03,730.44 130.08,730.52 C130.13,730.61 130.17,730.71 130.18,730.80 Z" fill="none" stroke="#505050" stroke-width="0.6"/>
<ellipse cx="127.70" cy="730.80" rx="4.88" ry="2.15" transform="rotate(0 127.70 730.80)" fill="#f6f6f6" stroke="#111" stroke-width="1.8"/>
<path d="M146.51,736.20 C146.53,736.66 146.52,737.14 146.46,737.61 C146.39,738.07 146.29,738.55 146.13,739.01 C145.97,739.46 145.75,739.92 145.48,740.33 C145.21,740.74 144.87,741.14 144.49,741.46 C144.11,741.78 143.67,742.06 143.21,742.25 C142.76,742.45 142.25,742.58 141.77,742.63 C141.28,742.68 140.77,742.66 140.30,742.58 C139.83,742.50 139.36,742.35 138.94,742.17 C138.51,741.99 138.11,741.75 137.74,741.51 C137.38,741.26 137.04,740.98 136.73,740.68 C136.41,740.39 136.12,740.07 135.86,739.74 C135.60,739.40 135.36,739.05 135.16,738.67 C134.96,738.30 134.79,737.90 134.66,737.49 C134.54,737.07 134.46,736.63 134.43,736.20 C134.41,735.77 134.44,735.31 134.52,734.88 C134.61,734.45 134.75,734.02 134.94,733.62 C135.13,733.22 135.37,732.84 135.65,732.49 C135.92,732.14 136.24,731.82 136.59,731.54 C136.93,731.26 137.31,731.01 137.70,730.80 C138.09,730.59 138.52,730.41 138.95,730.28 C139.38,730.15 139.84,730.06 140.30,730.03 C140.76,730.00 141.24,730.02 141.69,730.10 C142.15,730.18 142.62,730.32 143.04,730.51 C143.46,730.70 143.88,730.97 144.24,731.26 C144.60,731.56 144.92,731.92 145.20,732.29 C145.48,732.67 145.71,733.08 145.89,733.51 C146.08,733.93 146.22,734.38 146.32,734.83 C146.43,735.27 146.49,735.74 146.51,736.20 Z" fill="#a8a8a8" opacity="0.6"/>
<path d="M146.05,736.20 C146.07,736.63 146.06,737.07 146.00,737.50 C145.94,737.93 145.85,738.38 145.70,738.80 C145.55,739.22 145.35,739.65 145.10,740.03 C144.84,740.40 144.53,740.77 144.18,741.07 C143.83,741.36 143.42,741.62 143.00,741.80 C142.58,741.99 142.11,742.10 141.66,742.15 C141.21,742.20 140.74,742.18 140.30,742.11 C139.86,742.03 139.43,741.89 139.04,741.73 C138.64,741.56 138.28,741.34 137.93,741.11 C137.59,740.88 137.28,740.62 136.99,740.35 C136.70,740.08 136.43,739.79 136.19,739.48 C135.95,739.17 135.73,738.84 135.54,738.49 C135.36,738.14 135.19,737.77 135.08,737.39 C134.97,737.01 134.89,736.60 134.87,736.20 C134.85,735.80 134.87,735.38 134.95,734.98 C135.03,734.58 135.17,734.18 135.34,733.81 C135.51,733.44 135.74,733.09 135.99,732.77 C136.25,732.45 136.54,732.15 136.86,731.89 C137.18,731.63 137.53,731.39 137.89,731.20 C138.26,731.00 138.65,730.84 139.05,730.72 C139.45,730.60 139.88,730.52 140.30,730.49 C140.72,730.46 141.17,730.47 141.59,730.55 C142.01,730.62 142.44,730.75 142.84,730.93 C143.23,731.11 143.61,731.35 143.95,731.63 C144.28,731.90 144.58,732.23 144.84,732.58 C145.09,732.93 145.31,733.31 145.48,733.71 C145.65,734.10 145.78,734.51 145.88,734.93 C145.97,735.34 146.03,735.77 146.05,736.20 Z" fill="none" stroke="#808080" stroke-width="0.6"/>
<path d="M143.90,736.20 C143.91,736.47 143.91,736.74 143.88,737.02 C143.84,737.29 143.79,737.57 143.70,737.84 C143.61,738.10 143.49,738.38 143.33,738.62 C143.17,738.86 142.98,739.09 142.76,739.28 C142.54,739.47 142.27,739.63 142.01,739.75 C141.74,739.86 141.44,739.93 141.16,739.96 C140.87,739.99 140.57,739.96 140.30,739.91 C140.03,739.86 139.76,739.76 139.51,739.65 C139.27,739.54 139.04,739.40 138.83,739.25 C138.62,739.10 138.43,738.94 138.25,738.77 C138.08,738.59 137.91,738.41 137.77,738.22 C137.62,738.03 137.48,737.83 137.36,737.61 C137.25,737.40 137.14,737.17 137.07,736.94 C137.00,736.70 136.95,736.45 136.93,736.20 C136.92,735.95 136.93,735.69 136.98,735.44 C137.02,735.19 137.11,734.94 137.22,734.71 C137.32,734.49 137.46,734.26 137.62,734.06 C137.78,733.87 137.97,733.68 138.16,733.52 C138.36,733.36 138.57,733.21 138.80,733.09 C139.03,732.96 139.27,732.86 139.52,732.78 C139.77,732.71 140.04,732.65 140.30,732.63 C140.56,732.61 140.84,732.61 141.11,732.66 C141.37,732.70 141.65,732.78 141.89,732.89 C142.14,733.01 142.38,733.16 142.59,733.33 C142.80,733.50 142.98,733.71 143.14,733.93 C143.30,734.15 143.43,734.39 143.54,734.64 C143.65,734.88 143.73,735.14 143.79,735.40 C143.85,735.66 143.88,735.93 143.90,736.20 Z" fill="none" stroke="#686868" stroke-width="0.6"/>
<path d="M141.74,736.20 C141.75,736.31 141.75,736.42 141.74,736.53 C141.72,736.64 141.70,736.75 141.67,736.86 C141.63,736.97 141.59,737.08 141.52,737.18 C141.46,737.27 141.38,737.37 141.30,737.45 C141.21,737.52 141.10,737.59 140.99,737.64 C140.88,737.68 140.76,737.71 140.65,737.72 C140.53,737.73 140.41,737.72 140.30,737.69 C140.19,737.67 140.08,737.63 139.99,737.58 C139.89,737.53 139.80,737.47 139.72,737.41 C139.63,737.35 139.56,737.28 139.49,737.21 C139.42,737.15 139.36,737.07 139.30,737.00 C139.24,736.92 139.19,736.84 139.14,736.76 C139.09,736.67 139.05,736.59 139.02,736.49 C138.99,736.40 138.97,736.30 138.96,736.20 C138.96,736.10 138.96,736.00 138.98,735.90 C139.00,735.80 139.03,735.70 139.07,735.61 C139.12,735.52 139.17,735.43 139.23,735.35 C139.30,735.27 139.37,735.20 139.45,735.13 C139.53,735.07 139.61,735.01 139.70,734.96 C139.79,734.91 139.89,734.87 139.99,734.84 C140.09,734.80 140.19,734.78 140.30,734.77 C140.41,734.76 140.52,734.76 140.62,734.78 C140.73,734.80 140.84,734.83 140.94,734.87 C141.04,734.92 141.13,734.98 141.22,735.05 C141.30,735.12 141.38,735.20 141.44,735.29 C141.50,735.38 141.56,735.48 141.60,735.57 C141.64,735.67 141.67,735.78 141.70,735.88 C141.72,735.99 141.73,736.09 141.74,736.20 Z" fill="none" stroke="#505050" stroke-width="0.6"/>
<ellipse cx="140.30" cy="736.20" rx="2.66" ry="2.66" transform="rotate(0 140.30 736.20)" fill="#f6f6f6" stroke="#111" stroke-width="1.8"/>
<polygon points="131.80,751.50 131.80,739.20 137.70,730.00 149.50,730.00 149.50,751.50" fill="none" stroke="#111" stroke-width="1.2" />
<path d="M118.80,726.30 Q122.00,730.80 118.80,735.30 Z" fill="#1a1a1a"/>
<rect x="118.80" y="728.30" width="1.40" height="5.00" fill="#1a1a1a"/>
<text x="126.90" y="717.60" font-size="5.0" text-anchor="middle" fill="#4f7fae">58</text>
<text x="153.80" y="743.00" font-size="5.0" text-anchor="middle" fill="#4f7fae">41.1</text>
<rect x="118.80" y="709.50" width="46.50" height="46.50" fill="none" stroke="#333" stroke-width="1.1" />
<line x1="117.20" y1="709.97" x2="118.80" y2="709.97" stroke="#333" stroke-width="0.7" />
<text x="114.70" y="711.87" font-size="5.4" text-anchor="end" fill="#444" textLength="5.0" lengthAdjust="spacingAndGlyphs">10</text>
<text x="114.80" y="709.76" font-size="3.4" fill="#444">3</text>
<line x1="117.20" y1="721.59" x2="118.80" y2="721.59" stroke="#333" stroke-width="0.7" />
<text x="114.70" y="723.49" font-size="5.4" text-anchor="end" fill="#444" textLength="5.0" lengthAdjust="spacingAndGlyphs">10</text>
<text x="114.80" y="721.39" font-size="3.4" fill="#444">2</text>
<line x1="117.20" y1="732.52" x2="118.80" y2="732.52" stroke="#333" stroke-width="0.7" />
<text x="114.70" y="734.42" font-size="5.4" text-anchor="end" fill="#444" textLength="5.0" lengthAdjust="spacingAndGlyphs">10</text>
<text x="114.80" y="732.32" font-size="3.4" fill="#444">1</text>
<line x1="117.20" y1="743.91" x2="118.80" y2="743.91" stroke="#333" stroke-width="0.7" />
<text x="114.70" y="745.81" font-size="5.4" text-anchor="end" fill="#444" textLength="5.0" lengthAdjust="spacingAndGlyphs">10</text>
<text x="114.80" y="743.71" font-size="3.4" fill="#444">0</text>
<line x1="130.66" y1="756.00" x2="130.66" y2="757.60" stroke="#333" stroke-width="0.7" />
<text x="129.56" y="764.10" font-size="5.4" text-anchor="middle" fill="#444" textLength="5.0" lengthAdjust="spacingAndGlyphs">10</text>
<text x="132.16" y="762.00" font-size="3.4" fill="#444">0</text>
<line x1="141.59" y1="756.00" x2="141.59" y2="757.60" stroke="#333" stroke-width="0.7" />
<text x="140.49" y="764.10" font-size="5.4" text-anchor="middle" fill="#444" textLength="5.0" lengthAdjust="spacingAndGlyphs">10</text>
<text x="143.09" y="762.00" font-size="3.4" fill="#444">1</text>
<line x1="152.75" y1="756.00" x2="152.75" y2="757.60" stroke="#333" stroke-width="0.7" />
<text x="151.65" y="764.10" font-size="5.4" text-anchor="middle" fill="#444" textLength="5.0" lengthAdjust="spacingAndGlyphs">10</text>
<text x="154.25" y="762.00" font-size="3.4" fill="#444">2</text>
<line x1="164.84" y1="756.00" x2="164.84" y2="757.60" stroke="#333" stroke-width="0.7" />
<text x="163.74" y="764.10" font-size="5.4" text-anchor="middle" fill="#444" textLength="5.0" lengthAdjust="spacingAndGlyphs">10</text>
<text x="166.34" y="762.00" font-size="3.4" fill="#444">3</text>
<line x1="89.30" y1="715.40" x2="114.10" y2="715.40" stroke="#111" stroke-width="1.1" />
<polygon points="117.10,715.40 112.90,713.40 112.90,717.40" fill="#111" stroke="#111" stroke-width="0.3" />
<path d="M69.49,802.99 C69.55,803.50 69.55,804.01 69.51,804.51 C69.48,805.02 69.41,805.51 69.29,806.01 C69.18,806.50 69.02,806.99 68.81,807.46 C68.59,807.94 68.33,808.41 68.01,808.85 C67.69,809.29 67.32,809.72 66.90,810.10 C66.48,810.49 66.00,810.84 65.50,811.15 C64.99,811.46 64.44,811.73 63.86,811.95 C63.29,812.17 62.68,812.35 62.05,812.47 C61.42,812.59 60.77,812.68 60.11,812.69 C59.45,812.69 58.76,812.65 58.11,812.53 C57.45,812.40 56.77,812.21 56.17,811.92 C55.57,811.64 54.97,811.27 54.49,810.84 C54.01,810.40 53.58,809.87 53.27,809.31 C52.97,808.76 52.76,808.12 52.66,807.50 C52.57,806.88 52.60,806.22 52.70,805.60 C52.80,804.98 53.02,804.37 53.27,803.80 C53.52,803.23 53.86,802.69 54.21,802.18 C54.56,801.67 54.95,801.20 55.37,800.75 C55.78,800.30 56.22,799.87 56.70,799.47 C57.17,799.08 57.67,798.69 58.22,798.35 C58.77,798.02 59.36,797.70 59.98,797.46 C60.60,797.23 61.28,797.03 61.95,796.95 C62.61,796.86 63.33,796.85 63.98,796.95 C64.64,797.04 65.30,797.24 65.88,797.50 C66.45,797.77 66.99,798.15 67.43,798.55 C67.87,798.95 68.24,799.44 68.53,799.92 C68.83,800.41 69.03,800.93 69.19,801.45 C69.35,801.96 69.44,802.48 69.49,802.99 Z" fill="#dcdcdc" opacity="0.6"/>
<path d="M68.94,803.14 C68.99,803.61 68.99,804.08 68.96,804.55 C68.93,805.01 68.86,805.48 68.75,805.93 C68.64,806.39 68.50,806.84 68.30,807.28 C68.10,807.72 67.86,808.16 67.57,808.57 C67.27,808.97 66.92,809.37 66.54,809.73 C66.15,810.08 65.71,810.41 65.24,810.69 C64.77,810.98 64.26,811.23 63.72,811.43 C63.19,811.64 62.63,811.80 62.05,811.92 C61.47,812.03 60.86,812.11 60.25,812.12 C59.64,812.12 59.00,812.09 58.40,811.97 C57.79,811.85 57.16,811.67 56.60,811.41 C56.05,811.15 55.49,810.81 55.05,810.40 C54.60,810.00 54.20,809.51 53.92,808.99 C53.64,808.48 53.44,807.89 53.36,807.32 C53.27,806.74 53.29,806.13 53.39,805.56 C53.48,804.99 53.68,804.41 53.91,803.89 C54.15,803.36 54.46,802.86 54.78,802.39 C55.11,801.92 55.47,801.48 55.86,801.06 C56.24,800.65 56.65,800.25 57.09,799.88 C57.53,799.51 57.99,799.16 58.50,798.84 C59.01,798.53 59.55,798.24 60.13,798.02 C60.70,797.80 61.33,797.62 61.95,797.54 C62.57,797.46 63.23,797.46 63.84,797.54 C64.44,797.63 65.06,797.81 65.59,798.06 C66.12,798.31 66.62,798.66 67.03,799.03 C67.44,799.40 67.78,799.85 68.05,800.30 C68.32,800.75 68.51,801.24 68.66,801.71 C68.81,802.18 68.89,802.67 68.94,803.14 Z" fill="none" stroke="#b0b0b0" stroke-width="0.6"/>
<path d="M66.26,803.86 C66.28,804.15 66.28,804.44 66.26,804.72 C66.23,805.01 66.19,805.29 66.13,805.57 C66.06,805.85 65.98,806.13 65.86,806.40 C65.74,806.67 65.59,806.94 65.42,807.19 C65.24,807.44 65.03,807.69 64.79,807.91 C64.56,808.13 64.29,808.34 64.00,808.52 C63.71,808.70 63.40,808.86 63.07,808.99 C62.74,809.12 62.39,809.23 62.03,809.31 C61.67,809.39 61.29,809.45 60.90,809.46 C60.52,809.47 60.11,809.46 59.73,809.39 C59.34,809.33 58.94,809.22 58.58,809.06 C58.22,808.90 57.87,808.69 57.58,808.43 C57.29,808.18 57.04,807.87 56.86,807.54 C56.68,807.21 56.56,806.84 56.51,806.47 C56.46,806.11 56.49,805.71 56.55,805.35 C56.62,804.99 56.76,804.63 56.92,804.30 C57.07,803.97 57.28,803.66 57.49,803.37 C57.69,803.07 57.93,802.81 58.17,802.55 C58.41,802.29 58.66,802.04 58.94,801.81 C59.21,801.58 59.50,801.35 59.81,801.15 C60.13,800.95 60.47,800.76 60.83,800.62 C61.19,800.48 61.58,800.36 61.97,800.30 C62.36,800.25 62.78,800.24 63.16,800.30 C63.54,800.35 63.93,800.47 64.26,800.63 C64.59,800.79 64.90,801.01 65.15,801.26 C65.40,801.50 65.61,801.79 65.77,802.07 C65.93,802.36 66.04,802.67 66.12,802.97 C66.20,803.26 66.24,803.57 66.26,803.86 Z" fill="none" stroke="#a4a4a4" stroke-width="0.6"/>
<path d="M63.67,804.55 C63.68,804.67 63.68,804.78 63.67,804.89 C63.66,805.00 63.64,805.11 63.61,805.22 C63.59,805.33 63.56,805.44 63.51,805.55 C63.46,805.65 63.41,805.76 63.34,805.86 C63.27,805.96 63.19,806.06 63.10,806.15 C63.01,806.23 62.90,806.32 62.79,806.39 C62.68,806.46 62.55,806.53 62.42,806.58 C62.29,806.64 62.16,806.69 62.01,806.72 C61.87,806.75 61.71,806.78 61.56,806.79 C61.41,806.80 61.24,806.80 61.08,806.77 C60.93,806.75 60.76,806.71 60.61,806.65 C60.47,806.58 60.32,806.50 60.20,806.40 C60.09,806.29 59.98,806.17 59.91,806.03 C59.84,805.90 59.79,805.75 59.77,805.60 C59.75,805.45 59.77,805.29 59.80,805.14 C59.83,805.00 59.89,804.85 59.95,804.72 C60.02,804.58 60.11,804.46 60.19,804.35 C60.28,804.23 60.37,804.12 60.47,804.02 C60.57,803.92 60.67,803.82 60.78,803.73 C60.89,803.63 61.00,803.54 61.12,803.46 C61.25,803.38 61.38,803.30 61.53,803.24 C61.67,803.18 61.83,803.13 61.99,803.11 C62.14,803.08 62.31,803.08 62.47,803.10 C62.62,803.12 62.78,803.17 62.91,803.24 C63.04,803.30 63.17,803.40 63.27,803.50 C63.36,803.60 63.44,803.72 63.50,803.83 C63.56,803.95 63.60,804.08 63.63,804.19 C63.66,804.31 63.67,804.44 63.67,804.55 Z" fill="none" stroke="#989898" stroke-width="0.6"/>
<path d="M58.00,813.52 C59.00,812.51 61.71,812.28 64.00,812.00 C66.29,811.72 68.67,811.81 71.75,811.81 C74.83,811.81 80.21,811.34 82.50,812.00 C84.79,812.66 85.50,814.53 85.50,815.80 C85.50,817.07 84.79,818.93 82.50,819.60 C80.21,820.26 74.83,819.79 71.75,819.79 C68.67,819.79 66.29,819.88 64.00,819.60 C61.71,819.31 59.00,819.09 58.00,818.08 C57.00,817.07 57.00,814.53 58.00,813.52 Z" fill="#6a6a6a" opacity="0.6"/>
<path d="M58.00,813.52 C59.00,812.51 61.71,812.28 64.00,812.00 C66.29,811.72 68.67,811.81 71.75,811.81 C74.83,811.81 80.21,811.34 82.50,812.00 C84.79,812.66 85.50,814.53 85.50,815.80 C85.50,817.07 84.79,818.93 82.50,819.60 C80.21,820.26 74.83,819.79 71.75,819.79 C68.67,819.79 66.29,819.88 64.00,819.60 C61.71,819.31 59.00,819.09 58.00,818.08 C57.00,817.07 57.00,814.53 58.00,813.52 Z" fill="none" stroke="#404040" stroke-width="0.6"/>
<path d="M61.44,814.09 C62.19,813.33 64.22,813.16 65.94,812.95 C67.66,812.74 69.44,812.81 71.75,812.81 C74.06,812.81 78.09,812.45 79.81,812.95 C81.53,813.45 82.06,814.85 82.06,815.80 C82.06,816.75 81.53,818.15 79.81,818.65 C78.09,819.15 74.06,818.79 71.75,818.79 C69.44,818.79 67.66,818.86 65.94,818.65 C64.22,818.44 62.19,818.27 61.44,817.51 C60.69,816.75 60.69,814.85 61.44,814.09 Z" fill="none" stroke="#383838" stroke-width="0.6"/>
<path d="M64.88,814.66 C65.38,814.15 66.73,814.04 67.88,813.90 C69.02,813.76 70.21,813.80 71.75,813.80 C73.29,813.80 75.98,813.57 77.12,813.90 C78.27,814.23 78.62,815.17 78.62,815.80 C78.62,816.43 78.27,817.37 77.12,817.70 C75.98,818.03 73.29,817.79 71.75,817.79 C70.21,817.79 69.02,817.84 67.88,817.70 C66.73,817.56 65.38,817.45 64.88,816.94 C64.38,816.43 64.38,815.17 64.88,814.66 Z" fill="none" stroke="#303030" stroke-width="0.6"/>
<path d="M67.62,812.95 L82.50,812.95 Q86.00,815.80 82.50,818.65 L67.62,818.65" fill="none" stroke="#111" stroke-width="1.7"/>
<path d="M63.00,815.80 L80.50,815.80" stroke="#e8e8e8" stroke-width="0.9"/>
<path d="M86.32,799.60 C86.38,800.22 86.39,800.89 86.33,801.52 C86.26,802.15 86.14,802.81 85.95,803.39 C85.77,803.98 85.51,804.55 85.22,805.04 C84.93,805.53 84.58,805.97 84.22,806.33 C83.85,806.69 83.44,806.98 83.03,807.20 C82.63,807.42 82.19,807.57 81.77,807.65 C81.35,807.73 80.92,807.74 80.50,807.69 C80.08,807.65 79.67,807.53 79.27,807.36 C78.88,807.18 78.50,806.94 78.15,806.65 C77.80,806.36 77.47,806.00 77.18,805.61 C76.90,805.21 76.64,804.76 76.43,804.29 C76.22,803.82 76.05,803.30 75.93,802.78 C75.80,802.27 75.72,801.72 75.67,801.19 C75.62,800.66 75.61,800.12 75.63,799.60 C75.65,799.08 75.71,798.55 75.79,798.05 C75.87,797.54 75.98,797.04 76.13,796.56 C76.27,796.08 76.45,795.61 76.65,795.17 C76.86,794.74 77.11,794.31 77.38,793.95 C77.66,793.59 77.97,793.26 78.30,793.01 C78.63,792.75 79.00,792.55 79.37,792.42 C79.73,792.29 80.12,792.24 80.50,792.25 C80.88,792.25 81.26,792.34 81.63,792.46 C81.99,792.59 82.35,792.78 82.70,793.01 C83.04,793.24 83.37,793.52 83.68,793.83 C84.00,794.15 84.30,794.50 84.58,794.90 C84.86,795.30 85.13,795.73 85.36,796.22 C85.60,796.70 85.81,797.23 85.97,797.80 C86.13,798.36 86.26,798.98 86.32,799.60 Z" fill="#c8c8c8" opacity="0.6"/>
<path d="M85.89,799.60 C85.94,800.17 85.95,800.79 85.89,801.38 C85.84,801.96 85.72,802.57 85.55,803.11 C85.38,803.65 85.14,804.18 84.87,804.64 C84.60,805.09 84.28,805.50 83.94,805.83 C83.60,806.17 83.22,806.44 82.85,806.64 C82.47,806.84 82.07,806.98 81.68,807.05 C81.29,807.13 80.89,807.14 80.50,807.09 C80.11,807.05 79.73,806.94 79.37,806.78 C79.00,806.62 78.65,806.40 78.32,806.13 C78.00,805.86 77.69,805.53 77.43,805.16 C77.16,804.80 76.93,804.38 76.73,803.94 C76.54,803.50 76.38,803.02 76.26,802.55 C76.15,802.07 76.07,801.57 76.03,801.08 C75.98,800.58 75.97,800.09 75.99,799.60 C76.01,799.11 76.06,798.63 76.14,798.16 C76.22,797.69 76.32,797.23 76.45,796.78 C76.59,796.34 76.75,795.90 76.94,795.50 C77.13,795.10 77.36,794.71 77.61,794.37 C77.87,794.04 78.16,793.73 78.46,793.49 C78.77,793.26 79.11,793.07 79.45,792.95 C79.79,792.84 80.15,792.78 80.50,792.79 C80.85,792.80 81.21,792.87 81.54,792.99 C81.88,793.11 82.22,793.29 82.53,793.50 C82.85,793.71 83.16,793.97 83.45,794.26 C83.74,794.55 84.02,794.88 84.28,795.25 C84.54,795.61 84.79,796.02 85.00,796.47 C85.22,796.91 85.42,797.41 85.57,797.93 C85.72,798.45 85.84,799.03 85.89,799.60 Z" fill="none" stroke="#909090" stroke-width="0.6"/>
<path d="M83.91,799.60 C83.95,799.96 83.96,800.36 83.93,800.73 C83.89,801.10 83.82,801.49 83.71,801.83 C83.60,802.18 83.45,802.52 83.28,802.80 C83.11,803.09 82.90,803.35 82.68,803.56 C82.47,803.76 82.23,803.93 81.99,804.06 C81.75,804.18 81.49,804.26 81.24,804.30 C81.00,804.35 80.74,804.35 80.50,804.32 C80.26,804.28 80.01,804.21 79.79,804.11 C79.56,804.00 79.34,803.86 79.14,803.69 C78.94,803.52 78.75,803.31 78.58,803.07 C78.42,802.84 78.27,802.58 78.15,802.30 C78.04,802.03 77.94,801.73 77.87,801.43 C77.80,801.13 77.76,800.82 77.74,800.51 C77.71,800.21 77.71,799.90 77.72,799.60 C77.74,799.30 77.77,799.00 77.82,798.72 C77.86,798.43 77.93,798.14 78.01,797.87 C78.09,797.59 78.19,797.32 78.30,797.07 C78.42,796.82 78.56,796.58 78.71,796.37 C78.87,796.16 79.05,795.96 79.24,795.82 C79.43,795.67 79.64,795.55 79.85,795.48 C80.06,795.40 80.28,795.37 80.50,795.38 C80.72,795.38 80.94,795.43 81.15,795.50 C81.36,795.58 81.56,795.69 81.76,795.82 C81.96,795.95 82.15,796.11 82.33,796.29 C82.51,796.46 82.69,796.66 82.85,796.89 C83.02,797.11 83.18,797.36 83.32,797.64 C83.46,797.92 83.59,798.22 83.69,798.55 C83.79,798.88 83.87,799.24 83.91,799.60 Z" fill="none" stroke="#808080" stroke-width="0.6"/>
<path d="M81.88,799.60 C81.90,799.75 81.90,799.91 81.89,800.06 C81.88,800.21 81.85,800.37 81.81,800.51 C81.76,800.65 81.70,800.79 81.63,800.90 C81.56,801.02 81.47,801.12 81.39,801.21 C81.30,801.29 81.20,801.36 81.10,801.40 C81.00,801.45 80.90,801.48 80.80,801.50 C80.70,801.52 80.60,801.51 80.50,801.50 C80.40,801.48 80.30,801.45 80.21,801.41 C80.12,801.37 80.03,801.31 79.95,801.24 C79.87,801.17 79.80,801.08 79.73,800.99 C79.67,800.89 79.61,800.79 79.57,800.68 C79.52,800.57 79.48,800.44 79.46,800.32 C79.43,800.21 79.42,800.08 79.41,799.96 C79.40,799.84 79.40,799.72 79.41,799.60 C79.41,799.48 79.43,799.37 79.44,799.25 C79.46,799.14 79.49,799.03 79.52,798.92 C79.55,798.81 79.59,798.70 79.63,798.60 C79.68,798.50 79.73,798.40 79.79,798.32 C79.85,798.24 79.92,798.16 80.00,798.10 C80.07,798.04 80.16,797.99 80.24,797.96 C80.32,797.93 80.41,797.92 80.50,797.92 C80.59,797.93 80.67,797.95 80.76,797.98 C80.84,798.00 80.92,798.05 81.00,798.10 C81.08,798.15 81.15,798.21 81.23,798.28 C81.30,798.35 81.37,798.43 81.44,798.52 C81.50,798.61 81.57,798.71 81.63,798.81 C81.69,798.92 81.74,799.05 81.79,799.18 C81.83,799.31 81.86,799.45 81.88,799.60 Z" fill="none" stroke="#707070" stroke-width="0.6"/>
<ellipse cx="80.50" cy="799.60" rx="3.30" ry="5.50" transform="rotate(0 80.50 799.60)" fill="#f6f6f6" stroke="#111" stroke-width="1.7"/>
<rect x="71.60" y="776.10" width="23.90" height="34.00" fill="none" stroke="#333" stroke-width="1.1" />
<text x="53.60" y="781.50" font-size="5.0" text-anchor="middle" fill="#4f7fae">9.2</text>
<text x="89.20" y="781.50" font-size="5.0" text-anchor="middle" fill="#4f7fae">42</text>
<text x="54.90" y="820.90" font-size="5.0" text-anchor="middle" fill="#4f7fae">26.6</text>
<text x="89.20" y="820.90" font-size="5.0" text-anchor="middle" fill="#4f7fae">22.1</text>
<rect x="49.40" y="776.10" width="46.10" height="46.40" fill="none" stroke="#333" stroke-width="1.1" />
<line x1="47.80" y1="776.56" x2="49.40" y2="776.56" stroke="#333" stroke-width="0.7" />
<text x="45.30" y="778.46" font-size="5.4" text-anchor="end" fill="#444" textLength="5.0" lengthAdjust="spacingAndGlyphs">10</text>
<text x="45.40" y="776.36" font-size="3.4" fill="#444">3</text>
<line x1="47.80" y1="788.16" x2="49.40" y2="788.16" stroke="#333" stroke-width="0.7" />
<text x="45.30" y="790.06" font-size="5.4" text-anchor="end" fill="#444" textLength="5.0" lengthAdjust="spacingAndGlyphs">10</text>
<text x="45.40" y="787.96" font-size="3.4" fill="#444">2</text>
<line x1="47.80" y1="799.07" x2="49.40" y2="799.07" stroke="#333" stroke-width="0.7" />
<text x="45.30" y="800.97" font-size="5.4" text-anchor="end" fill="#444" textLength="5.0" lengthAdjust="spacingAndGlyphs">10</text>
<text x="45.40" y="798.87" font-size="3.4" fill="#444">1</text>
<line x1="47.80" y1="810.44" x2="49.40" y2="810.44" stroke="#333" stroke-width="0.7" />
<text x="45.30" y="812.34" font-size="5.4" text-anchor="end" fill="#444" textLength="5.0" lengthAdjust="spacingAndGlyphs">10</text>
<text x="45.40" y="810.24" font-size="3.4" fill="#444">0</text>
<line x1="61.16" y1="822.50" x2="61.16" y2="824.10" stroke="#333" stroke-width="0.7" />
<text x="60.06" y="830.60" font-size="5.4" text-anchor="middle" fill="#444" textLength="5.0" lengthAdjust="spacingAndGlyphs">10</text>
<text x="62.66" y="828.50" font-size="3.4" fill="#444">0</text>
<line x1="71.99" y1="822.50" x2="71.99" y2="824.10" stroke="#333" stroke-width="0.7" />
<text x="70.89" y="830.60" font-size="5.4" text-anchor="middle" fill="#444" textLength="5.0" lengthAdjust="spacingAndGlyphs">10</text>
<text x="73.49" y="828.50" font-size="3.4" fill="#444">1</text>
<line x1="83.05" y1="822.50" x2="83.05" y2="824.10" stroke="#333" stroke-width="0.7" />
<text x="81.95" y="830.60" font-size="5.4" text-anchor="middle" fill="#444" textLength="5.0" lengthAdjust="spacingAndGlyphs">10</text>
<text x="84.55" y="828.50" font-size="3.4" fill="#444">2</text>
<line x1="95.04" y1="822.50" x2="95.04" y2="824.10" stroke="#333" stroke-width="0.7" />
<text x="93.94" y="830.60" font-size="5.4" text-anchor="middle" fill="#444" textLength="5.0" lengthAdjust="spacingAndGlyphs">10</text>
<text x="96.54" y="828.50" font-size="3.4" fill="#444">3</text>
<polyline points="118.80,785.70 136.50,785.70 136.50,796.50" fill="none" stroke="#aab4c4" stroke-width="0.8" />
<path d="M136.87,797.70 C136.91,798.10 136.86,798.52 136.72,798.92 C136.57,799.32 136.32,799.72 135.99,800.09 C135.66,800.47 135.23,800.83 134.73,801.15 C134.24,801.48 133.65,801.78 133.02,802.04 C132.39,802.30 131.69,802.53 130.96,802.72 C130.24,802.91 129.45,803.06 128.66,803.16 C127.86,803.27 127.02,803.33 126.20,803.34 C125.38,803.36 124.52,803.32 123.71,803.23 C122.91,803.14 122.09,803.00 121.36,802.81 C120.62,802.61 119.92,802.36 119.32,802.08 C118.72,801.80 118.19,801.46 117.77,801.11 C117.36,800.76 117.04,800.38 116.81,800.00 C116.58,799.62 116.47,799.22 116.41,798.83 C116.36,798.45 116.40,798.07 116.48,797.70 C116.56,797.33 116.71,796.97 116.90,796.62 C117.09,796.27 117.32,795.93 117.60,795.60 C117.89,795.27 118.22,794.94 118.61,794.63 C119.01,794.32 119.46,794.01 119.98,793.74 C120.50,793.47 121.10,793.21 121.75,793.00 C122.39,792.80 123.12,792.62 123.86,792.51 C124.61,792.39 125.42,792.32 126.20,792.31 C126.98,792.30 127.80,792.35 128.56,792.45 C129.32,792.54 130.08,792.69 130.78,792.88 C131.47,793.06 132.13,793.29 132.72,793.55 C133.32,793.80 133.87,794.09 134.35,794.40 C134.83,794.71 135.26,795.05 135.62,795.40 C135.97,795.75 136.27,796.12 136.48,796.51 C136.69,796.89 136.83,797.30 136.87,797.70 Z" fill="#a8a8a8" opacity="0.6"/>
<path d="M136.08,797.70 C136.12,798.07 136.07,798.46 135.94,798.83 C135.80,799.20 135.57,799.57 135.27,799.92 C134.96,800.26 134.56,800.60 134.10,800.90 C133.64,801.20 133.10,801.48 132.52,801.72 C131.93,801.96 131.28,802.18 130.61,802.35 C129.94,802.52 129.21,802.66 128.47,802.76 C127.74,802.86 126.96,802.92 126.20,802.93 C125.44,802.94 124.64,802.91 123.90,802.82 C123.15,802.74 122.39,802.61 121.72,802.43 C121.04,802.25 120.38,802.02 119.83,801.76 C119.28,801.49 118.79,801.18 118.40,800.86 C118.01,800.54 117.72,800.18 117.51,799.83 C117.30,799.47 117.19,799.10 117.14,798.75 C117.09,798.40 117.13,798.04 117.20,797.70 C117.28,797.36 117.41,797.03 117.59,796.70 C117.76,796.38 117.98,796.06 118.24,795.75 C118.51,795.45 118.81,795.14 119.17,794.86 C119.54,794.57 119.96,794.28 120.44,794.03 C120.92,793.78 121.48,793.54 122.08,793.35 C122.67,793.16 123.35,793.00 124.04,792.89 C124.73,792.78 125.48,792.72 126.20,792.71 C126.92,792.70 127.68,792.75 128.39,792.83 C129.09,792.92 129.79,793.06 130.44,793.23 C131.08,793.40 131.69,793.62 132.24,793.85 C132.79,794.09 133.30,794.36 133.75,794.64 C134.19,794.93 134.59,795.24 134.92,795.57 C135.25,795.89 135.53,796.24 135.72,796.60 C135.91,796.95 136.04,797.33 136.08,797.70 Z" fill="none" stroke="#808080" stroke-width="0.6"/>
<path d="M132.39,797.70 C132.41,797.93 132.39,798.18 132.31,798.41 C132.23,798.64 132.08,798.88 131.89,799.09 C131.70,799.31 131.45,799.52 131.16,799.71 C130.88,799.90 130.54,800.08 130.17,800.23 C129.80,800.38 129.40,800.51 128.97,800.62 C128.55,800.73 128.09,800.82 127.63,800.88 C127.17,800.95 126.68,800.99 126.20,800.99 C125.72,801.00 125.22,800.98 124.75,800.93 C124.28,800.88 123.80,800.79 123.37,800.68 C122.95,800.57 122.54,800.42 122.19,800.25 C121.85,800.09 121.54,799.89 121.31,799.68 C121.07,799.48 120.90,799.25 120.77,799.03 C120.65,798.80 120.60,798.57 120.58,798.35 C120.56,798.13 120.59,797.91 120.65,797.70 C120.70,797.49 120.79,797.29 120.90,797.09 C121.01,796.89 121.14,796.69 121.30,796.50 C121.46,796.31 121.64,796.12 121.86,795.94 C122.09,795.77 122.34,795.59 122.63,795.43 C122.92,795.27 123.26,795.11 123.63,794.99 C124.00,794.87 124.42,794.76 124.85,794.70 C125.28,794.63 125.75,794.59 126.20,794.58 C126.65,794.57 127.13,794.60 127.57,794.66 C128.01,794.71 128.45,794.80 128.85,794.91 C129.25,795.01 129.63,795.15 129.97,795.30 C130.32,795.45 130.63,795.61 130.91,795.79 C131.19,795.97 131.44,796.17 131.64,796.37 C131.85,796.57 132.03,796.79 132.15,797.01 C132.28,797.23 132.36,797.47 132.39,797.70 Z" fill="none" stroke="#686868" stroke-width="0.6"/>
<path d="M128.68,797.70 C128.69,797.79 128.68,797.89 128.65,797.98 C128.62,798.08 128.56,798.17 128.49,798.26 C128.41,798.35 128.31,798.43 128.20,798.51 C128.08,798.58 127.94,798.66 127.80,798.72 C127.65,798.78 127.49,798.83 127.32,798.88 C127.15,798.92 126.96,798.96 126.78,798.98 C126.59,799.01 126.39,799.02 126.20,799.03 C126.01,799.03 125.80,799.02 125.61,799.00 C125.42,798.98 125.23,798.95 125.06,798.90 C124.89,798.86 124.72,798.80 124.59,798.73 C124.45,798.66 124.33,798.58 124.24,798.50 C124.14,798.41 124.08,798.32 124.03,798.23 C123.99,798.14 123.97,798.05 123.97,797.96 C123.96,797.87 123.98,797.78 124.01,797.70 C124.03,797.62 124.07,797.54 124.11,797.46 C124.16,797.38 124.21,797.30 124.27,797.23 C124.33,797.15 124.40,797.08 124.49,797.01 C124.57,796.94 124.67,796.86 124.78,796.80 C124.90,796.73 125.03,796.67 125.18,796.62 C125.32,796.57 125.49,796.53 125.66,796.50 C125.83,796.47 126.02,796.45 126.20,796.45 C126.38,796.45 126.57,796.46 126.75,796.48 C126.92,796.50 127.10,796.54 127.26,796.58 C127.42,796.63 127.57,796.68 127.71,796.74 C127.84,796.80 127.97,796.87 128.08,796.94 C128.19,797.01 128.29,797.09 128.38,797.17 C128.46,797.25 128.53,797.34 128.58,797.42 C128.63,797.51 128.67,797.61 128.68,797.70 Z" fill="none" stroke="#505050" stroke-width="0.6"/>
<ellipse cx="126.20" cy="797.70" rx="4.88" ry="2.15" transform="rotate(0 126.20 797.70)" fill="#f6f6f6" stroke="#111" stroke-width="1.8"/>
<path d="M144.71,802.30 C144.73,802.81 144.72,803.34 144.66,803.85 C144.59,804.37 144.49,804.90 144.33,805.40 C144.17,805.91 143.95,806.42 143.68,806.87 C143.41,807.32 143.07,807.76 142.69,808.11 C142.31,808.46 141.87,808.77 141.41,808.99 C140.96,809.21 140.45,809.35 139.97,809.41 C139.48,809.47 138.97,809.43 138.50,809.35 C138.03,809.26 137.56,809.09 137.14,808.90 C136.71,808.70 136.31,808.44 135.94,808.17 C135.58,807.89 135.24,807.58 134.93,807.25 C134.61,806.93 134.32,806.58 134.06,806.21 C133.80,805.84 133.56,805.45 133.36,805.03 C133.16,804.62 132.99,804.18 132.86,803.72 C132.74,803.27 132.66,802.78 132.63,802.30 C132.61,801.82 132.64,801.32 132.72,800.84 C132.81,800.37 132.95,799.89 133.14,799.45 C133.33,799.01 133.57,798.58 133.85,798.20 C134.12,797.82 134.44,797.46 134.79,797.15 C135.13,796.84 135.51,796.56 135.90,796.33 C136.29,796.10 136.72,795.90 137.15,795.76 C137.58,795.62 138.04,795.51 138.50,795.48 C138.96,795.45 139.44,795.46 139.89,795.55 C140.35,795.64 140.82,795.80 141.24,796.01 C141.66,796.23 142.08,796.51 142.44,796.84 C142.80,797.17 143.12,797.57 143.40,797.98 C143.68,798.39 143.91,798.86 144.09,799.32 C144.28,799.79 144.42,800.28 144.52,800.78 C144.63,801.28 144.69,801.79 144.71,802.30 Z" fill="#a8a8a8" opacity="0.6"/>
<path d="M144.25,802.30 C144.27,802.77 144.26,803.26 144.20,803.74 C144.14,804.22 144.05,804.71 143.90,805.17 C143.75,805.64 143.55,806.11 143.30,806.53 C143.04,806.95 142.73,807.35 142.38,807.68 C142.03,808.01 141.62,808.29 141.20,808.49 C140.78,808.69 140.31,808.82 139.86,808.88 C139.41,808.94 138.94,808.91 138.50,808.83 C138.06,808.75 137.63,808.59 137.24,808.41 C136.84,808.23 136.48,807.98 136.13,807.73 C135.79,807.48 135.48,807.19 135.19,806.89 C134.90,806.59 134.63,806.26 134.39,805.92 C134.15,805.58 133.93,805.22 133.74,804.83 C133.56,804.45 133.39,804.04 133.28,803.62 C133.17,803.19 133.09,802.74 133.07,802.30 C133.05,801.86 133.07,801.39 133.15,800.95 C133.23,800.51 133.37,800.07 133.54,799.66 C133.71,799.25 133.94,798.86 134.19,798.50 C134.45,798.15 134.74,797.82 135.06,797.53 C135.38,797.25 135.73,796.99 136.09,796.77 C136.46,796.56 136.85,796.37 137.25,796.24 C137.65,796.11 138.08,796.02 138.50,795.99 C138.92,795.95 139.37,795.97 139.79,796.05 C140.21,796.13 140.64,796.28 141.04,796.48 C141.43,796.68 141.81,796.94 142.15,797.25 C142.48,797.55 142.78,797.92 143.04,798.30 C143.29,798.68 143.51,799.11 143.68,799.54 C143.85,799.98 143.98,800.43 144.08,800.89 C144.17,801.35 144.23,801.83 144.25,802.30 Z" fill="none" stroke="#808080" stroke-width="0.6"/>
<path d="M142.10,802.30 C142.11,802.60 142.11,802.90 142.08,803.20 C142.04,803.50 141.99,803.81 141.90,804.11 C141.81,804.40 141.69,804.70 141.53,804.97 C141.37,805.24 141.18,805.50 140.96,805.71 C140.74,805.91 140.47,806.10 140.21,806.22 C139.94,806.34 139.64,806.42 139.36,806.45 C139.07,806.48 138.77,806.46 138.50,806.40 C138.23,806.34 137.96,806.24 137.71,806.11 C137.47,805.99 137.24,805.83 137.03,805.67 C136.82,805.51 136.63,805.32 136.45,805.14 C136.28,804.95 136.11,804.75 135.97,804.53 C135.82,804.32 135.68,804.10 135.56,803.86 C135.45,803.63 135.34,803.38 135.27,803.11 C135.20,802.85 135.15,802.58 135.13,802.30 C135.12,802.02 135.13,801.74 135.18,801.46 C135.22,801.19 135.31,800.91 135.42,800.66 C135.52,800.40 135.66,800.16 135.82,799.94 C135.98,799.72 136.17,799.52 136.36,799.34 C136.56,799.16 136.77,798.99 137.00,798.86 C137.23,798.72 137.47,798.61 137.72,798.52 C137.97,798.44 138.24,798.38 138.50,798.35 C138.76,798.33 139.04,798.34 139.31,798.39 C139.57,798.43 139.85,798.52 140.09,798.65 C140.34,798.77 140.58,798.94 140.79,799.13 C141.00,799.32 141.18,799.55 141.34,799.79 C141.50,800.03 141.63,800.30 141.74,800.57 C141.85,800.85 141.93,801.13 141.99,801.42 C142.05,801.71 142.08,802.00 142.10,802.30 Z" fill="none" stroke="#686868" stroke-width="0.6"/>
<path d="M139.94,802.30 C139.95,802.42 139.95,802.54 139.94,802.66 C139.92,802.78 139.90,802.91 139.87,803.03 C139.83,803.15 139.79,803.27 139.72,803.38 C139.66,803.49 139.58,803.59 139.50,803.68 C139.41,803.76 139.30,803.84 139.19,803.89 C139.08,803.94 138.96,803.97 138.85,803.98 C138.73,803.99 138.61,803.97 138.50,803.95 C138.39,803.92 138.28,803.88 138.19,803.82 C138.09,803.77 138.00,803.71 137.92,803.64 C137.83,803.57 137.76,803.50 137.69,803.42 C137.62,803.35 137.56,803.27 137.50,803.18 C137.44,803.10 137.39,803.01 137.34,802.92 C137.29,802.82 137.25,802.73 137.22,802.62 C137.19,802.52 137.17,802.41 137.16,802.30 C137.16,802.19 137.16,802.08 137.18,801.97 C137.20,801.86 137.23,801.75 137.27,801.65 C137.32,801.55 137.37,801.45 137.43,801.36 C137.50,801.27 137.57,801.19 137.65,801.12 C137.73,801.05 137.81,800.98 137.90,800.93 C137.99,800.87 138.09,800.83 138.19,800.79 C138.29,800.76 138.39,800.73 138.50,800.72 C138.61,800.71 138.72,800.71 138.82,800.73 C138.93,800.75 139.04,800.78 139.14,800.83 C139.24,800.88 139.33,800.95 139.42,801.03 C139.50,801.10 139.58,801.20 139.64,801.29 C139.70,801.39 139.76,801.50 139.80,801.61 C139.84,801.72 139.87,801.83 139.90,801.95 C139.92,802.06 139.93,802.18 139.94,802.30 Z" fill="none" stroke="#505050" stroke-width="0.6"/>
<ellipse cx="138.50" cy="802.30" rx="2.66" ry="2.94" transform="rotate(0 138.50 802.30)" fill="#f6f6f6" stroke="#111" stroke-width="1.8"/>
<polygon points="129.70,817.70 129.70,806.50 136.50,796.50 147.40,796.50 147.40,817.70" fill="none" stroke="#111" stroke-width="1.2" />
<path d="M118.80,793.20 Q122.00,797.70 118.80,802.20 Z" fill="#1a1a1a"/>
<rect x="118.80" y="795.20" width="1.40" height="5.00" fill="#1a1a1a"/>
<text x="124.60" y="784.10" font-size="5.0" text-anchor="middle" fill="#4f7fae">45.7</text>
<text x="153.50" y="808.70" font-size="5.0" text-anchor="middle" fill="#4f7fae">53.9</text>
<rect x="118.80" y="776.60" width="46.50" height="45.70" fill="none" stroke="#333" stroke-width="1.1" />
<line x1="117.20" y1="777.06" x2="118.80" y2="777.06" stroke="#333" stroke-width="0.7" />
<text x="114.70" y="778.96" font-size="5.4" text-anchor="end" fill="#444" textLength="5.0" lengthAdjust="spacingAndGlyphs">10</text>
<text x="114.80" y="776.86" font-size="3.4" fill="#444">3</text>
<line x1="117.20" y1="788.48" x2="118.80" y2="788.48" stroke="#333" stroke-width="0.7" />
<text x="114.70" y="790.38" font-size="5.4" text-anchor="end" fill="#444" textLength="5.0" lengthAdjust="spacingAndGlyphs">10</text>
<text x="114.80" y="788.28" font-size="3.4" fill="#444">2</text>
<line x1="117.20" y1="799.22" x2="118.80" y2="799.22" stroke="#333" stroke-width="0.7" />
<text x="114.70" y="801.12" font-size="5.4" text-anchor="end" fill="#444" textLength="5.0" lengthAdjust="spacingAndGlyphs">10</text>
<text x="114.80" y="799.02" font-size="3.4" fill="#444">1</text>
<line x1="117.20" y1="810.42" x2="118.80" y2="810.42" stroke="#333" stroke-width="0.7" />
<text x="114.70" y="812.32" font-size="5.4" text-anchor="end" fill="#444" textLength="5.0" lengthAdjust="spacingAndGlyphs">10</text>
<text x="114.80" y="810.22" font-size="3.4" fill="#444">0</text>
<line x1="130.66" y1="822.30" x2="130.66" y2="823.90" stroke="#333" stroke-width="0.7" />
<text x="129.56" y="830.40" font-size="5.4" text-anchor="middle" fill="#444" textLength="5.0" lengthAdjust="spacingAndGlyphs">10</text>
<text x="132.16" y="828.30" font-size="3.4" fill="#444">0</text>
<line x1="141.59" y1="822.30" x2="141.59" y2="823.90" stroke="#333" stroke-width="0.7" />
<text x="140.49" y="830.40" font-size="5.4" text-anchor="middle" fill="#444" textLength="5.0" lengthAdjust="spacingAndGlyphs">10</text>
<text x="143.09" y="828.30" font-size="3.4" fill="#444">1</text>
<line x1="152.75" y1="822.30" x2="152.75" y2="823.90" stroke="#333" stroke-width="0.7" />
<text x="151.65" y="830.40" font-size="5.4" text-anchor="middle" fill="#444" textLength="5.0" lengthAdjust="spacingAndGlyphs">10</text>
<text x="154.25" y="828.30" font-size="3.4" fill="#444">2</text>
<line x1="164.84" y1="822.30" x2="164.84" y2="823.90" stroke="#333" stroke-width="0.7" />
<text x="163.74" y="830.40" font-size="5.4" text-anchor="middle" fill="#444" textLength="5.0" lengthAdjust="spacingAndGlyphs">10</text>
<text x="166.34" y="828.30" font-size="3.4" fill="#444">3</text>
<line x1="89.30" y1="782.30" x2="114.10" y2="782.30" stroke="#111" stroke-width="1.1" />
<polygon points="117.10,782.30 112.90,780.30 112.90,784.30" fill="#111" stroke="#111" stroke-width="0.3" />
<rect x="0.5" y="0.5" width="519" height="856" fill="none" stroke="#3a3a3a" stroke-width="1"/>
</svg></div></body></html>
